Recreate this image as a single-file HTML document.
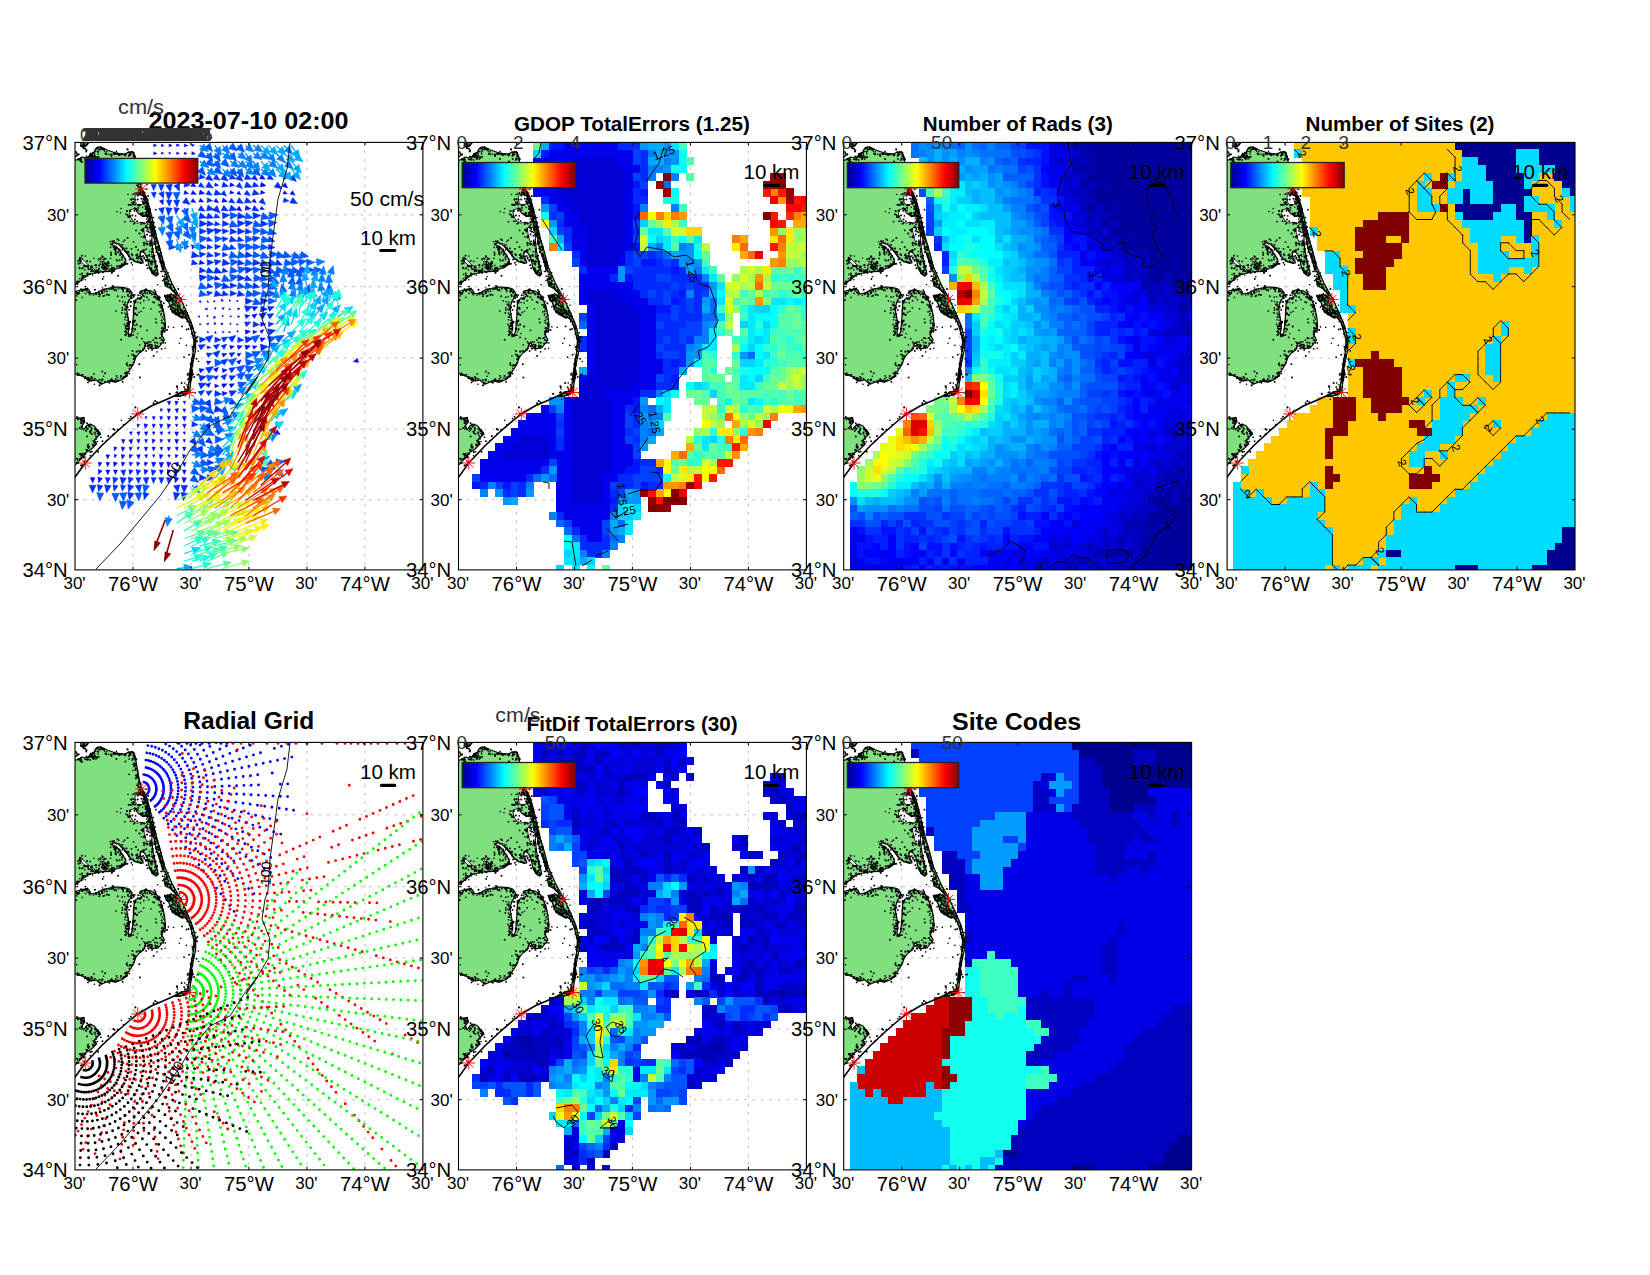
<!DOCTYPE html><html><head><meta charset="utf-8"><title>Totals QC</title>
<style>html,body{margin:0;padding:0;background:#fff}svg{display:block}text{font-family:"Liberation Sans", Arial, Helvetica, sans-serif}</style></head><body>
<svg width="1650" height="1275" viewBox="0 0 1650 1275">
<defs>
<linearGradient id="jet" x1="0" x2="1" y1="0" y2="0"><stop offset="0" stop-color="#00008f"/><stop offset="0.125" stop-color="#0000ff"/><stop offset="0.375" stop-color="#00ffff"/><stop offset="0.625" stop-color="#ffff00"/><stop offset="0.875" stop-color="#ff0000"/><stop offset="1" stop-color="#800000"/></linearGradient>
<clipPath id="ax"><rect x="0" y="0" width="347.9" height="427.5"/></clipPath>
<g id="land"><polygon points="-1.7,18.1 3.8,17.1 6.8,14.6 11.3,15.6 13.8,14.1 15.8,11.1 17.5,12.6 18.5,17.1 19.5,12.6 19.5,8.6 20.8,6.1 23.8,4.4 27.3,5.1 30.8,7.1 36.3,9.1 41.3,10.6 46.8,11.6 50.8,11.1 53.8,9.6 57.3,9.8 59.3,11.6 60.3,15.1 61.8,23.6 64.3,37.6 66.6,46.1 70.3,53.6 72.8,61.6 74.3,69.6 75.8,77.6 76.3,87.6 76.8,97.6 77.8,107.6 79.8,117.6 80.8,123.6 82.5,127.6 83.1,131.6 81.3,133.8 77.3,130.8 74.8,126.6 73.5,121.6 72.5,116.1 69.8,111.1 66.8,108.4 65.3,110.6 65.5,114.6 67.8,118.6 68.3,120.4 65.3,120.9 60.3,119.4 56.3,116.6 52.8,112.1 48.3,106.8 43.3,101.8 38.8,100.4 36.3,102.1 40.8,103.8 44.3,107.6 47.8,112.6 50.8,117.6 50.5,121.6 46.3,124.8 40.3,126.8 35.8,129.1 29.3,129.2 22.5,130 17.8,131.1 12.3,132.8 6.8,137.1 2.3,141.1 -1.7,142.8" fill="#80e080" stroke="#000" stroke-width="1.2" stroke-linejoin="round"/><polygon points="5.8,0.2 13.8,0.2 11.5,3.1 8.1,5.2 5.9,3.6" fill="#80e080" stroke="#000" stroke-width="1.2" stroke-linejoin="round"/><polygon points="-1.7,9.6 1.3,9.4 2.5,12.6 0.3,14.6 -1.7,14.1" fill="#80e080" stroke="#000" stroke-width="1.2" stroke-linejoin="round"/><polygon points="66.6,46.1 70.8,53.6 73.8,62.6 76.3,72.6 79.3,85.6 82.3,97.6 85.3,107.6 89.8,124.6 86.8,117.6 96.8,140.6 105.3,156.1 111.3,168.6 116.3,180.6 118.3,186.6 120.8,196.6 120.6,207.6 118.5,217.6 116.6,227.6 115.5,237.6 117.5,227.6 116.6,235.6 115.3,242.6 114.8,249.1 111.3,250.4 113.3,242.6 114.8,235.6 115.8,227.6 114.1,237.6 115.1,227.6 116.7,217.6 118.5,207.6 118.9,197.6 116.3,187.6 113.3,178.6 108.3,173.6 104.3,170.6 100.3,169.6 96.3,163.6 94.8,157.6 90.3,153.6 95.3,152.1 100.3,153.6 102.3,153.6 96.3,146.6 90.3,143.6 88.8,136.6 92.3,134.6 90.3,129.6 87.8,127.6 85.3,118.6 81.3,107.6 77.3,87.6 75.3,77.6 73.3,67.6 71.3,59.6 68.3,52.6 66.3,47.6" fill="#80e080" stroke="#000" stroke-width="1.2" stroke-linejoin="round"/><polygon points="-1.7,149.8 5.3,147.6 11.3,146.1 14.1,147.6 16.1,151.6 21.3,150.6 26.3,147.8 32.3,146.1 40.3,144.6 48.3,144.9 54.3,146.6 57.1,150.6 56.3,154.6 53.3,159.6 51.6,164.6 52.1,170.6 53.5,177.6 54.3,185.6 53.1,190.4 55.1,193.6 56.8,189.6 57.8,181.6 58.3,173.6 58.7,165.6 59.3,159.6 61.3,156.8 66.3,154.8 68.5,152.8 64.5,150.8 65.3,148.8 70.3,147.4 76.3,148.6 81.3,151.6 84.3,156.6 86.3,161.6 88.3,167.6 89.8,175.6 90.5,183.6 89.9,189.8 87.8,187.8 86.8,192.6 89.5,197.6 86.3,201.6 83.3,205.6 76.3,206.3 73.5,203.6 72.3,199.8 70.3,202.6 68.5,207.6 64.3,210.6 60.5,215.6 58.5,221.6 55.5,226.6 52.5,230.6 50.5,234.6 46.3,237.6 40.3,239.8 34.3,238.6 26.3,241.8 21.3,237.6 14.3,238.8 9.3,234.6 4.3,232.6 -1.7,230.6" fill="#80e080" stroke="#000" stroke-width="1.2" stroke-linejoin="round"/><polygon points="89.8,154.1 93.8,152.9 97.3,155.6 100.3,159.6 104.3,164.6 108.3,169.6 111.3,174.6 107.3,175.8 102.3,172.8 97.3,169.8 95.3,164.6 93.8,159.6 91.3,156.6" fill="#80e080" stroke="#000" stroke-width="1.2" stroke-linejoin="round"/><polygon points="-1.7,276.1 2.3,275.6 8.8,275.4 9.8,279.6 6.8,283.6 8.5,287.6 11.3,283.6 14.8,281.6 19.3,283.6 22.5,287.6 25.5,291.6 22.5,294.4 19.5,297.6 21.5,301.6 16.5,306.6 10.5,310.6 6.5,315.6 2.5,320.6 -1.7,323.6" fill="#80e080" stroke="#000" stroke-width="1.2" stroke-linejoin="round"/><polygon points="99.3,253.8 106.3,249.8 114.3,248.8 111.3,251.6 105.3,253.8" fill="#80e080" stroke="#000" stroke-width="1.2" stroke-linejoin="round"/><polygon points="60.5,52.4 66.3,52.1 69.3,55.1 69.1,58.8 66.3,62.6 61.8,62.1 59.5,57.6" fill="#fff" stroke="#000" stroke-width="0.8" stroke-linejoin="round"/><polygon points="54.5,67.8 60.3,65.8 62.5,70.6 67.8,74.4 71.1,71.8 73.5,77.6 70.8,80.8 66.3,79.8 61.8,80.8 57.5,77.8 54.9,72.8" fill="#fff" stroke="#000" stroke-width="0.8" stroke-linejoin="round"/><polygon points="68.5,85.6 74.8,84.8 77.1,92.6 76.3,100.6 72.8,101.8 70.5,96.1 69.3,90.1" fill="#fff" stroke="#000" stroke-width="0.8" stroke-linejoin="round"/><polygon points="4.3,115.6 7.3,116.6 13.3,122.6 20.3,127.6 22.8,129.8 18.8,128.1 12.3,124.8 6.8,120.1" fill="#fff" stroke="#000" stroke-width="0.8" stroke-linejoin="round"/><polygon points="25.3,115.6 27.3,116.6 31.3,122.6 35.8,128.8 33.5,127.6 29.3,122.4 26.1,118.1" fill="#fff" stroke="#000" stroke-width="0.8" stroke-linejoin="round"/><polyline points="-1.7,337.1 10.3,320.6 26.3,303.6 41.3,289.6 56.3,276.6 62.8,271.6 76.3,263.6 90.3,257.6 101.3,252.6 106.3,250.1 114.3,249.1" fill="none" stroke="#000" stroke-width="1.6"/><path d="M3.3,16.8h0M5.3,18.2h0M6.8,19.5h0M12.8,17.2h0M17.3,13h0M18.9,15.7h0M16.9,12.8h0M16.5,12.2h0M21.9,15h0M23.1,9.3h0M23.2,5.9h0M26,5h0M25.8,6.6h0M29.5,6.9h0M31.3,11.8h0M39.1,11.7h0M41,11.4h0M36.4,12.3h0M43.9,11.9h0M46.4,11.8h0M42.6,11.2h0M50.7,12.1h0M50.2,12.9h0M52.5,7h0M57.3,9.7h0M54.4,12.9h0M54.9,12.2h0M54.8,11.1h0M57.8,16.5h0M61.2,16.8h0M60.2,16.8h0M61,33.1h0M63.3,35.5h0M60.8,26h0M62.9,34.4h0M63.6,44.4h0M69.1,50.7h0M65.5,50.2h0M71.8,56.2h0M72.7,60.6h0M69.6,56.9h0M71.2,59.4h0M72.2,67.9h0M71.2,65.7h0M74.2,77.2h0M78.2,86h0M75.6,87.3h0M73.7,77.8h0M75.3,82.7h0M80.3,95.9h0M73.4,89.2h0M77.3,93.1h0M77.3,106.7h0M75.6,99.5h0M77.5,113.9h0M74,112.8h0M80.6,119h0M77,120.2h0M80.4,121.5h0M81.9,124.5h0M80.7,127.7h0M80.2,124.7h0M81.4,131.2h0M78.9,131.9h0M82.5,131.6h0M77,128.4h0M79.4,129.1h0M75.6,125.7h0M76.7,122.1h0M76.2,125.9h0M69.1,115.1h0M69,108h0M65.9,109.5h0M61.3,112.6h0M66.1,116.7h0M63.5,116h0M70.9,118.3h0M54.8,117.1h0M53.6,112.5h0M56.9,111.9h0M51.6,109.4h0M53.5,109.8h0M37.3,98.9h0M39.5,106.9h0M39,99.4h0M39.9,107.2h0M45,112.3h0M52.3,121.4h0M50.2,121.2h0M46.9,123h0M48.8,122.3h0M45.2,123.5h0M45,125h0M39,128.5h0M38.6,125.4h0M36.9,130.4h0M29.5,127h0M27.9,129.9h0M23.1,128.9h0M20.6,130h0M12.5,131.3h0M3.5,139.3h0M8.7,1.4h0M8.9,2.3h0M11.5,7.9h0M6.2,3.5h0M3.6,12h0M62.8,53.2h0M68.5,56.5h0M67.6,58.9h0M64.6,62.8h0M55.2,68.4h0M55.5,62.5h0M61.4,66.8h0M60.2,66.1h0M59.5,68.2h0M65.7,71.6h0M67.6,73.3h0M73.7,72.4h0M70.5,73.2h0M69.1,81.1h0M54.9,73.7h0M52,68.7h0M55.2,68.5h0M71,84.6h0M71.1,84h0M75.2,85.3h0M79,93h0M64.5,91.2h0M69.9,94.8h0M69.6,93.6h0M68.8,94.7h0M5,117.1h0M13.1,123.7h0M16.6,125.2h0M16.1,124.6h0M18,128.6h0M17,127.7h0M9.8,123.9h0M3.7,121.3h0M5.5,118.3h0M5.5,118.3h0M27.6,114.4h0M32.3,121h0M27.8,119.4h0M28.1,125.8h0M37,125.4h0M29.9,125.2h0M27.3,124.1h0M29.7,123.6h0M28.1,123h0M23.6,116.9h0M29.4,116.7h0M71,56.2h0M72.5,63.5h0M74.4,66.2h0M80.7,91.6h0M83.9,104.1h0M85,113.5h0M88.5,120.2h0M86.7,119.8h0M96.1,142.2h0M106,158.5h0M109.9,168.7h0M117.1,183.5h0M118.8,196.4h0M118.2,213h0M117.3,222.9h0M116.4,221.8h0M115.2,236.6h0M115.9,230.1h0M115,238.6h0M114.1,246.1h0M113.3,245h0M110.1,247.3h0M117.2,230.3h0M116.4,235.3h0M115.9,231.1h0M116.2,227.7h0M114.4,236.5h0M112.7,232.3h0M115.8,227h0M116.8,220.3h0M117.1,218.2h0M118.4,208.6h0M119.6,205.1h0M118.8,203.4h0M119,193.3h0M104.2,173.2h0M106.3,174.3h0M104.5,171.3h0M102.8,172.1h0M102.9,168.8h0M100.7,166.4h0M97.7,159.5h0M95.4,158h0M92.8,153.5h0M93.9,157.9h0M94.9,153.1h0M92.2,153.9h0M93.1,154.2h0M96.8,155.8h0M100.5,155.4h0M96.9,147.1h0M95.6,145.1h0M94.9,144.3h0M91.9,141.1h0M93.4,138.5h0M89.3,137.3h0M92,134.5h0M87.7,126.8h0M88.1,124.7h0M87.2,120.3h0M81.4,109.6h0M83.8,111.1h0M85.7,118.3h0M81.5,96.5h0M79.2,90.2h0M82.9,104.3h0M77.6,86.9h0M73.7,78.2h0M77.4,85.9h0M71.7,73.8h0M73.4,68.7h0M71.5,70.5h0M75.7,74.8h0M72.7,69.5h0M74,70.6h0M70.5,64h0M72.1,67.6h0M69.2,54.5h0M70.2,56.3h0M68.6,53.6h0M68.7,50.9h0M64.7,51.9h0M66.9,52.4h0M66.5,46.3h0M2,151.2h0M3.6,151.1h0M6.1,147h0M7.4,148.6h0M11.5,148h0M13.3,149.9h0M21.1,151.8h0M20.7,151h0M23.9,151.2h0M27.4,150.4h0M31.9,152.2h0M29.2,147.3h0M39.6,147.7h0M46.6,146.1h0M52.2,147.8h0M54.8,149.4h0M58,152.8h0M56.2,153.3h0M56.8,155.7h0M49.1,162.2h0M52.6,165h0M54.2,180.9h0M51.4,189.7h0M53.6,186.2h0M51.8,186.7h0M50.4,192.5h0M54.1,192.5h0M61.7,182.2h0M57.3,187h0M58.1,180.8h0M55,179.5h0M58.5,179h0M61.9,172.5h0M59.9,171.7h0M60.8,165.5h0M69.8,149.2h0M70.9,147h0M71.7,147.7h0M74.3,149.1h0M76.9,151.9h0M80.5,149.7h0M80.3,151.9h0M75.2,150.5h0M82.3,156.9h0M82.1,156h0M79.6,154.8h0M84.3,156.8h0M85.5,164.4h0M87,166h0M87.1,163.2h0M88.9,181.2h0M89.8,181.5h0M88.9,186h0M87.1,185.8h0M86.9,189.8h0M92,187.6h0M86.8,188.9h0M86.7,189.1h0M87.3,189.6h0M86.7,197.5h0M85.7,201.2h0M76.7,202.8h0M80.4,203.3h0M70,200.9h0M68,207.2h0M65.5,209.2h0M61.7,209.3h0M58.9,213.6h0M58.8,216.6h0M55.1,222.6h0M52.1,231h0M51.8,233.5h0M48,235.8h0M46.1,233.6h0M42.6,238.5h0M39.4,238.7h0M37.1,238.3h0M27.4,237.1h0M33.5,239.3h0M24.6,242.9h0M25.1,240.2h0M9.9,235.7h0M13.7,235.6h0M10.4,234.6h0M4.1,232.3h0M91.1,154.7h0M94.2,156.9h0M93.1,154.5h0M98.3,157.3h0M103.6,160.3h0M103.5,163.5h0M100.4,163.3h0M105,167.1h0M107.2,168.1h0M105.8,168.7h0M111.6,173.4h0M104.6,170.6h0M103.7,171.3h0M101.9,171.8h0M93.4,158.5h0M93.1,158.2h0M91.5,157.5h0M91.1,155h0M6,276.9h0M2.9,275.9h0M8.6,275.4h0M7.8,276h0M7.8,278.7h0M9.1,279.6h0M12.6,286.4h0M13.5,282.7h0M14.2,284.2h0M20.1,286.3h0M22.8,290.9h0M24.3,290.3h0M23.3,291.2h0M22.7,287.9h0M19.7,290.3h0M20.4,299.6h0M12.2,308h0M13.7,305.4h0M8.7,315.2h0M5.2,311.8h0M7,311.6h0M6.5,315.4h0M9.1,314h0M2.4,316.6h0M4.9,316.8h0M3,320.7h0M102.2,250.1h0M100.9,252.9h0M106.1,249.9h0M102,253.1h0M114.1,249.3h0M110.7,250.6h0M110.1,252.1h0M108.4,252.5h0M101.6,253.7h0" stroke="#000" stroke-width="2.2" stroke-linecap="round" fill="none"/><path d="M5.4,16h0M4.3,17.3h0M6.5,17.5h0M6.3,16.9h0M12.9,16.9h0M15.9,14.9h0M16.9,12.3h0M16.5,13.6h0M12.6,16.4h0M17.9,16.1h0M17.6,15.6h0M20.5,15h0M20.9,16.8h0M20.2,13.4h0M19.8,13.3h0M15.8,14.7h0M18.9,10.4h0M17.5,10.1h0M21.7,6.6h0M20.9,9.1h0M26.9,6.7h0M23.1,11.7h0M29.7,8.9h0M28.6,7.6h0M31.7,9.3h0M34,12h0M41.4,9h0M38.9,11.9h0M49.4,12.5h0M53.6,13.6h0M59.6,13.6h0M58.5,14.5h0M60.6,23.2h0M58.2,22h0M61.1,22.2h0M62.6,30.9h0M62.5,28.2h0M63,32.4h0M60.7,27h0M62,32.7h0M59.2,24.3h0M57.8,28.1h0M62.9,40.8h0M61.8,42.9h0M64.4,40.6h0M64,44.7h0M64.1,37.9h0M64.4,39.1h0M66.7,45.7h0M69.2,51.3h0M71,47h0M66.2,53h0M68.2,52.5h0M72.7,68h0M72.7,69.1h0M74.8,68.8h0M75.5,70.9h0M71.9,72.6h0M73.5,74.2h0M73.5,74h0M71.2,71.9h0M76.7,87.1h0M68.7,86.6h0M77.1,93.5h0M79,87.8h0M78.7,94.2h0M79.1,100h0M76.9,100.9h0M82.9,101h0M84.5,106.6h0M76.7,99.9h0M76.8,109.9h0M79.5,116.4h0M77.2,114.5h0M76.7,111.8h0M83.8,113.9h0M83.9,111.7h0M80.3,120h0M74.8,118.9h0M85.9,129.1h0M87,129h0M81.1,131.2h0M87.4,138.3h0M82.5,131.6h0M78.1,130.2h0M78.9,128.7h0M73,117.4h0M75.6,121.1h0M74.5,119.2h0M74.5,117.3h0M74.8,113.8h0M68.3,113.3h0M69.2,116.5h0M74.7,109.2h0M62.3,111.6h0M65.2,111.1h0M66.9,118.4h0M62.3,118.8h0M64.8,119.9h0M65.2,119.8h0M62.4,113.5h0M58.1,116.7h0M58.7,118h0M57.4,122.5h0M57.6,113.1h0M47.2,117.3h0M52.4,109.4h0M51.4,106.2h0M52.8,112h0M46.8,116.6h0M49.2,106.6h0M47.1,107.5h0M44,101.3h0M48.8,105.7h0M47.7,102.7h0M48.3,105.4h0M40.5,109.8h0M39.4,98.6h0M38.2,104.6h0M41.3,100.8h0M39.3,104.8h0M36.1,101.6h0M35,99.3h0M35.6,105h0M40.6,104.8h0M41.3,106.4h0M40.8,106.5h0M46,102.2h0M48.2,99.2h0M43.7,108.6h0M45.4,108.7h0M45.9,110.6h0M47.7,106h0M49.4,119.7h0M49.4,120.6h0M42.3,124h0M42.5,118.7h0M37.2,127h0M36.4,122.8h0M31.9,126.2h0M33.7,128.6h0M31,128h0M25.9,128.6h0M28,126.1h0M25.3,119.4h0M16.3,124.2h0M13,131.7h0M12.7,133.6h0M17.7,132.7h0M10.2,137.4h0M9.6,134h0M5.1,132h0M6.6,135.6h0M10.7,133.7h0M7.5,134.7h0M2.2,138.8h0M4.7,136.3h0M2.7,140.7h0M1.4,140h0M11.5,17.4h0M16.3,14.5h0M64.6,47.7h0M63.2,49.7h0M63,51h0M65.7,51.1h0M69,61.9h0M71.7,63.8h0M70.6,60h0M62.9,63.4h0M46.1,66.2h0M57.1,62.6h0M57.5,52.1h0M53,52.1h0M59.5,65.9h0M57.2,60h0M66.5,72.3h0M63.6,71h0M67.6,64.9h0M69.6,61h0M73.7,79.8h0M66,80.4h0M60.7,73.5h0M57.5,78.8h0M54.8,75.1h0M53.8,74.2h0M41.8,69.2h0M45.5,70.3h0M71.5,85.5h0M79.5,98.3h0M73,99h0M76,103.3h0M74.8,103h0M75.1,97.8h0M66.4,94.6h0M4.8,115.2h0M10.5,113.7h0M4.5,126h0M6.6,126.4h0M18.9,115.9h0M16,129.1h0M20,122.8h0M16.4,123.9h0M9.7,134.7h0M21.8,127.7h0M20.6,129h0M21.1,128.2h0M22.6,128.7h0M16.5,128h0M15.6,127.2h0M9.9,127.5h0M5.8,115.3h0M2.9,118.6h0M5.3,117.8h0M7.1,116.5h0M27.2,113.6h0M21.2,124.9h0M30.4,120.8h0M31,116.3h0M30,125.6h0M31.8,125.6h0M32.7,121.8h0M32.9,119.5h0M36.3,111.7h0M29.7,120.7h0M25.4,116h0M29.4,115.8h0M65.1,48.7h0M72,60.8h0M77.9,82.8h0M77.8,80h0M86,110.1h0M86.9,114.6h0M88.4,120.9h0M93.6,133.8h0M86.9,118.2h0M95.7,143.9h0M98.3,144.8h0M113.4,173.7h0M117.2,185.3h0M118.8,189.3h0M117.5,230.8h0M114.3,250.2h0M113.6,248.9h0M112.4,248h0M112.2,246.9h0M113,247h0M111.9,242.5h0M109.8,249.5h0M120.3,250.6h0M116,237.3h0M109.7,240.7h0M122.1,232.4h0M115.3,227.9h0M116.3,228h0M116.9,230.2h0M113,230.8h0M118.2,232h0M115.4,221.6h0M116.6,222.2h0M123.7,219.1h0M118.2,214.4h0M123.2,208.7h0M118.1,213.5h0M120.2,199.9h0M119.4,202.1h0M118.2,205.2h0M104.3,200.9h0M111.3,203h0M120.3,196.1h0M120.7,190.2h0M105.9,196h0M115.4,179.4h0M114.5,182h0M115.7,183.3h0M113,174.9h0M112.2,177.3h0M109,174.4h0M104.6,171.2h0M103.8,172h0M103.6,170.6h0M103.9,171.1h0M103.9,171.7h0M97.2,165.2h0M99.5,166.5h0M99.6,168.9h0M99.9,165.8h0M96.8,164.4h0M98.3,162.4h0M100,161.9h0M94.9,162.8h0M94.9,163.9h0M102.9,155.8h0M94.8,156.4h0M91.3,156.3h0M95.7,155.2h0M92.2,152.6h0M91.2,153.5h0M100.6,152h0M99.5,154h0M98.7,154.3h0M95.8,156.3h0M100.9,154.3h0M100.2,153.6h0M98.3,148.9h0M101.1,151.3h0M90.8,140.2h0M89,137.3h0M92,137h0M90.8,137.1h0M92.9,140.7h0M92.7,136.2h0M93.5,141.2h0M82.7,142.3h0M91.3,135.5h0M93.2,130.4h0M89,123.2h0M85.9,118h0M85.2,116.7h0M81.9,106.7h0M80.5,105.8h0M80.5,99.3h0M79.7,99.1h0M81.7,97.8h0M81.3,104.9h0M84.1,104.9h0M76.2,86.7h0M76.2,84.9h0M73.8,69h0M71.5,76.7h0M74.3,75.5h0M68.9,60.7h0M74.6,66.4h0M70.4,57.5h0M73.2,57.6h0M70.9,59.4h0M68.7,49.9h0M65.8,46.5h0M65.8,46.2h0M4.8,148.8h0M1.2,150.3h0M4.2,150.4h0M9.2,147.5h0M7,147.7h0M7.9,147.5h0M12.5,146h0M12.8,147h0M14.6,150.7h0M7.3,155h0M21.2,151.1h0M18.5,152.8h0M23.7,151.4h0M26.9,151h0M27.4,149.1h0M28.9,148.1h0M27.5,145.6h0M28.7,134.4h0M29.8,149.4h0M37.7,146.2h0M36.4,146.8h0M38.1,146.3h0M38.7,144h0M41,146.9h0M41.5,148.4h0M44.7,158.5h0M53.2,148.4h0M49.3,146h0M53.3,149.1h0M56.7,150.2h0M53.9,157.9h0M56.3,159.4h0M49.6,154.4h0M53,159.9h0M50.4,163.6h0M47.6,159.2h0M66.1,169h0M49.4,167h0M51,174.8h0M52.1,177.8h0M49.9,177.3h0M59.6,171.6h0M53.7,183.4h0M53.1,177.9h0M53.1,182.7h0M65.4,184h0M60.1,178h0M52.5,186.7h0M58.8,189.3h0M62.6,191.2h0M59.9,183.2h0M61.3,166.8h0M59,171.9h0M49.9,170.7h0M59.6,165.5h0M62.5,160.1h0M65.5,160.5h0M60.6,157.9h0M65.2,153.4h0M62.7,155.5h0M69.3,154h0M68,151h0M66.8,149.7h0M65.9,149.7h0M69.9,149.6h0M70.4,147.4h0M89.7,152.8h0M83.9,157.6h0M87.8,166.9h0M85.3,162.5h0M87.1,164.5h0M87.7,168.5h0M85.9,168.6h0M85.8,172.8h0M84.3,169.5h0M95.5,166.9h0M90.2,182.7h0M88.5,176.9h0M89.3,183.2h0M93.4,184.5h0M87.6,188.1h0M86.5,192h0M85.8,195.3h0M75.8,199.5h0M87.9,198.5h0M90.3,200.5h0M82.5,203.1h0M90.1,205.9h0M82,209.5h0M73.7,206.5h0M75.4,205.4h0M70.2,201h0M70,203.1h0M68.9,199.3h0M70.5,203.9h0M68.5,207.1h0M64.7,202.5h0M63.8,208.5h0M58.8,212.3h0M58.5,221.1h0M58.4,220.1h0M53.4,213.6h0M57.1,222.4h0M57.2,222.9h0M54.2,223.6h0M51.9,220.5h0M52.4,223.2h0M53.9,229.1h0M52.4,230.1h0M54.3,226h0M49.8,231h0M50.2,230.5h0M51.5,232.4h0M45.5,235.6h0M42.5,235.1h0M41,239h0M43.8,237.6h0M40.8,239.2h0M38.5,238.7h0M28.6,233.9h0M25.1,237.4h0M23.8,237.6h0M17.1,236.6h0M16.9,238.2h0M19.4,241.9h0M12.2,235.6h0M12.7,235.6h0M13,235.3h0M6,233h0M1.8,222.4h0M95.4,154h0M92.5,155.2h0M97.6,157.2h0M99.3,155.3h0M96.7,157h0M100.6,158.8h0M102.7,165.3h0M100.8,160h0M101.4,158.9h0M101.1,160.6h0M108.1,168.7h0M105.7,168.4h0M103.5,168.3h0M104.9,165.4h0M111.3,170.8h0M107.8,170h0M109.8,172.3h0M104.7,174.2h0M98.6,185h0M110.2,170.5h0M104.9,173.4h0M100.3,170.5h0M99.5,170.4h0M97.5,168h0M111.4,162.9h0M86,168.9h0M93.3,164.5h0M75.9,166.5h0M92,156.2h0M87.1,164.4h0M93.3,154.3h0M9.3,279.3h0M6.2,286.7h0M11,285.6h0M14.5,289.3h0M15.2,283.7h0M14.5,283.6h0M20,291.8h0M16.3,285.5h0M16.1,282.2h0M16.8,286h0M20.7,287.5h0M23.7,292.2h0M23.3,291.3h0M23.3,291.9h0M22.5,299.2h0M20.8,296.1h0M21.6,296.5h0M19.1,299.8h0M13.4,301.9h0M8,312.9h0M7.3,313.2h0M2.6,317.5h0M1.2,316.1h0M101.1,250.2h0M104.6,251.2h0M109.1,251.6h0M107.9,249.7h0M107.4,250.1h0M113.2,249.4h0M110.5,248.8h0M106,252.9h0M108.7,251.8h0M103.3,256.8h0M6,315.8h0M7.5,314.1h0M15.1,313.2h0M31.5,298.1h0M54.1,276.2h0M48.4,282.2h0M46.3,277.9h0M61.4,271.2h0M102.5,246.6h0" stroke="#000" stroke-width="1.6" stroke-linecap="round" fill="none"/><path d="M11.4,14h0M10.2,16.9h0M15.1,17.5h0M14,14.6h0M15.7,11.3h0M15,12.8h0M14.9,13h0M17.8,14.1h0M13.4,14.7h0M18.1,11h0M22.1,5.4h0M24.4,7.3h0M27.5,6.9h0M38.6,11.1h0M43.4,12.1h0M53.6,9.9h0M55.9,12h0M58.7,10.4h0M58.4,10.9h0M58.6,12.9h0M59.2,20.8h0M60.5,17.7h0M60.3,21.9h0M60.8,36.1h0M62.9,33.5h0M62.6,28.6h0M64.4,45.1h0M62.7,43.1h0M70,59.9h0M70.1,60.4h0M70.4,57.2h0M72.8,63.7h0M73.2,61.9h0M70.3,70.3h0M73.1,69.3h0M71.7,69.9h0M71.8,69.3h0M72.2,74h0M74.6,75.9h0M74.5,71.2h0M74.6,74.3h0M77.7,80h0M77.6,84.5h0M77,79.5h0M75,93.5h0M77.2,91.4h0M79,88.6h0M80,100h0M76,100.8h0M75.9,102.4h0M78.6,114.2h0M78.3,116.1h0M77.5,107.9h0M79.6,113.3h0M77,118.5h0M80.8,125.1h0M82.1,123.2h0M82,131.2h0M78.4,130.1h0M79.3,129.6h0M77.4,130.6h0M76.2,127.6h0M75.4,125.9h0M72.7,125.8h0M74.1,118.1h0M75.7,119.3h0M71,117.4h0M72,113.6h0M71.9,114.6h0M68.3,108h0M71.1,106.9h0M63.2,107.6h0M64.4,113.9h0M62.5,114h0M66.4,117.2h0M62.6,119.1h0M56.4,120.4h0M60.1,119h0M55.6,115.5h0M51.5,106h0M46.5,104h0M42.4,96.7h0M41.4,101.1h0M42,105.2h0M44.6,107h0M45.5,109.9h0M47,114.9h0M50.4,121.6h0M47.7,122.3h0M44.1,123.5h0M39.7,126.9h0M31.6,126.2h0M23.6,130.6h0M26.9,125h0M20.3,129.5h0M20.8,128.4h0M12.4,131.3h0M14.8,131.7h0M8.8,133.6h0M7.4,133.1h0M6.8,137.8h0M2.4,141.7h0M2.4,141.8h0M7.4,3h0M11.7,2h0M11.2,2.8h0M10.2,3.5h0M8.5,4.1h0M8.6,2.4h0M66.1,50.7h0M61.1,50.6h0M66.4,56.4h0M68.3,52.1h0M70,57.7h0M63.8,62.6h0M60.3,57.4h0M60,62.1h0M58.4,59.7h0M58.4,59.9h0M58.1,56.6h0M58.7,61.9h0M61.9,68.7h0M69.6,73.7h0M72.8,72.8h0M73.3,78.5h0M74.2,78.3h0M67.2,80.5h0M59.9,77h0M62.1,78.8h0M59.6,80.7h0M58.8,81.3h0M55.5,78.8h0M53.2,74.5h0M52.7,72.6h0M72.5,81.8h0M75.2,100h0M71.1,101.2h0M68.8,100.9h0M67.7,89.1h0M11.5,123.4h0M10,123.5h0M12.8,125.2h0M23.3,127.9h0M7.8,125.6h0M9.4,123.3h0M31.6,122.1h0M30.4,124.9h0M36.2,126.6h0M29.9,124.3h0M32.1,123.7h0M30.8,125.4h0M25.4,121.7h0M30.3,121.5h0M27.4,121.7h0M67.4,49.4h0M77.7,82.5h0M79.3,91.7h0M80,88.7h0M79.4,90.5h0M82.4,104.7h0M85.8,115.7h0M88,120.5h0M85.2,119.6h0M88.6,122.8h0M86.4,120.8h0M104.5,155.8h0M108.7,165.4h0M116,180.5h0M114.1,179.2h0M119.5,201.9h0M120.6,198.5h0M119.7,204.5h0M118.6,212.7h0M118.3,215.1h0M116.1,225.7h0M116.9,233h0M115.5,233.1h0M113.4,244.9h0M115.7,236.2h0M113,237h0M114.1,239.9h0M116.1,228.9h0M116.5,227.8h0M114.5,233.3h0M114.5,235.1h0M116.9,230.3h0M115.1,235.2h0M116.5,228.6h0M114.8,231.1h0M117.1,220.1h0M118.1,215.5h0M121.6,216.3h0M114.1,212.3h0M116.7,216.4h0M122.1,198.8h0M119.6,198.8h0M120.3,197h0M116.8,191.7h0M122.6,194.2h0M116.4,186.7h0M117.9,186.1h0M116.9,185.2h0M111.6,187.1h0M112.3,179.1h0M111.1,175.9h0M113.2,176h0M105.9,170.6h0M107.9,170.9h0M98.3,168.6h0M100.1,168.4h0M96.7,163.3h0M96.8,162.8h0M92.8,158.9h0M95.1,155.7h0M90.7,153.9h0M102,156h0M98.4,152.5h0M99.5,147.4h0M99.4,148.8h0M100.8,150.4h0M92,142h0M96,145.7h0M90.9,142.1h0M87.7,133.7h0M91.8,135.8h0M89.6,134.2h0M90.1,132.1h0M89.3,129.1h0M88.1,126.8h0M86.6,123.6h0M87.4,121.4h0M84.5,114.4h0M83.7,107.8h0M79.8,99h0M78.9,93.2h0M83.9,103.8h0M79,101.9h0M80.5,94.9h0M82,106.5h0M79.4,92.6h0M79.9,92h0M76.7,80.4h0M80,84.6h0M78.7,86.2h0M74,72.4h0M75,74h0M76.4,73.8h0M73.4,68.1h0M73.7,73.1h0M74.6,74.4h0M70.7,66.5h0M70.4,66.7h0M72.8,63.9h0M69.7,54.9h0M68.8,60.5h0M66.7,48.2h0M68.1,49.2h0M2.8,151.3h0M2.2,150.9h0M8.3,147.6h0M10.5,144.2h0M14.6,152.1h0M20.3,151.2h0M24.1,149.4h0M25,152.2h0M26.8,149.3h0M31.3,146.7h0M32,148.7h0M34.5,146.9h0M36.6,145.6h0M47.4,146.3h0M43.6,146.1h0M48,147.3h0M51.8,149.3h0M54.7,150.6h0M59.7,152.5h0M55.3,154.2h0M50.2,160.1h0M50.3,162.9h0M51.3,165.2h0M54.1,167.5h0M50.5,167.1h0M51,172.4h0M50.2,174.7h0M52.6,171.7h0M53,182.3h0M52.2,180.8h0M52.9,180.5h0M50.6,188.8h0M53.7,193.9h0M51.6,191.4h0M58.3,192.7h0M55.6,193.5h0M53.6,192.5h0M55.9,192.2h0M57.8,186.1h0M60,186.9h0M58.2,182h0M59.8,178.6h0M60,170.7h0M58.7,167.7h0M59.4,171.3h0M59.7,160.4h0M60.2,160.1h0M58.9,158.6h0M60.5,158.8h0M64.2,156.4h0M65.9,155.6h0M70.3,150.9h0M70.8,148.2h0M72.4,150.8h0M79.1,151.9h0M79.9,152h0M79.4,154.4h0M82.9,154.8h0M83.9,154.1h0M82.5,154.1h0M83.8,162.3h0M87.6,174.8h0M86.2,171.2h0M86.9,180.4h0M86.7,178h0M89.5,183.5h0M88.2,187.9h0M87.3,189.6h0M87,193.8h0M88.4,200.3h0M82.4,204.2h0M81.7,205.2h0M77.1,207.5h0M76.4,205h0M76.2,203.3h0M77.2,203.5h0M73,205.8h0M73.7,199.5h0M71.1,208.5h0M69.5,205.8h0M60.6,213.8h0M59.6,215.9h0M56.3,223.2h0M51.5,229.7h0M54.1,231.2h0M47.2,236.8h0M47.7,239.5h0M48.7,234.8h0M50.3,234.4h0M40.8,236.6h0M41.2,239h0M34.4,240.3h0M35.6,237.8h0M36.5,236.7h0M30,239.2h0M26.4,241h0M17.3,235.6h0M18.5,238h0M19.8,236.3h0M15.2,236.8h0M14.3,237.6h0M12.4,236.9h0M13.4,237.2h0M7.8,232.5h0M6.7,232.8h0M2.5,232.8h0M2.8,230.9h0M92.2,153.4h0M90.8,155.2h0M90.3,154.2h0M95.6,154h0M97.1,156h0M102.3,163.8h0M102.4,164.3h0M106.4,170.3h0M109.1,171.6h0M112.2,170.9h0M107.6,172.2h0M104.8,171.3h0M107.9,174.5h0M100.5,169.8h0M100.6,172h0M101.6,170.5h0M95.9,164.6h0M97.8,169.1h0M98.1,165.3h0M98,162h0M94.2,154.4h0M2.1,274.6h0M5.3,276.8h0M7.6,279h0M2.9,276.9h0M9.2,278.9h0M5.9,280.5h0M5.8,278h0M11.2,284.9h0M7.2,284.9h0M11.2,288.4h0M23.2,288.8h0M21,293.9h0M20.5,300.6h0M18.4,298.4h0M20.2,301h0M18.9,303.2h0M18.6,302.6h0M18,302.1h0M20.9,301.5h0M20.4,301.1h0M11.3,307.2h0M15.3,309.6h0M5.3,311.5h0M10.5,311.9h0M2.1,320.2h0M107.8,250.4h0M104.9,253.8h0M103.1,253.2h0M6,323h0M9.1,311h0M17,309.2h0M27.5,298.8h0M39.5,287.3h0M55.9,274.4h0M82.1,259.9h0M102.3,249.8h0M109.2,244.8h0" stroke="#000" stroke-width="1.9" stroke-linecap="round" fill="none"/><path d="M10.3,6.4h0M11.2,9.1h0M21.9,15.2h0M15.4,13.6h0M28.7,6.7h0M30.4,11.1h0M36.5,13.7h0M41.4,16.6h0M44.5,12.7h0M50.4,19.1h0M58.9,23h0M61.6,34.9h0M68.2,32.1h0M63.9,39h0M64.3,47.7h0M64.4,50.3h0M68.6,61.2h0M73.2,53.6h0M74.9,69.4h0M67.2,71.7h0M70.9,71.8h0M82.5,99.1h0M77.7,106.6h0M80.8,101.2h0M81.1,130.9h0M76.4,127.4h0M65.7,120.4h0M67.1,114h0M64.8,114.2h0M61.7,115.5h0M41,112.1h0M40.5,105.9h0M40.6,108.6h0M36.5,102h0M39.1,104.9h0M50.2,108.4h0M42.7,110.2h0M54,114h0M61,104.7h0M44.6,117.8h0M40.4,111h0M41.9,124h0M45.7,124.3h0M43,133.4h0M37.4,129.1h0M33.8,123.4h0M7.7,136.3h0M7.2,131.1h0M8.5,5.8h0M15.7,11.6h0M72.6,65.5h0M53.7,62.3h0M62.7,57.1h0M51.2,71.8h0M67.1,70.9h0M75.6,75.8h0M68.5,73.6h0M71.9,79.5h0M66.5,87.6h0M67.8,71.1h0M57.4,73.2h0M72.7,86.7h0M68.4,88.2h0M75.5,101.4h0M69.1,100.3h0M52.6,95.5h0M72.1,92.1h0M68,86.9h0M7,113.3h0M3.9,118.2h0M9.4,123.5h0M24.1,123h0M21,122.7h0M12.1,118.6h0M4.6,125.4h0M5.3,120.3h0M17.1,124.2h0M36.4,127.4h0M113.7,248.2h0M123.5,232.1h0M119.2,234.7h0M116.4,223.8h0M117.4,204.5h0M117.7,206.9h0M121.8,195.3h0M113.5,186.7h0M108.4,174.4h0M104.7,163.5h0M103,166.4h0M102,167.9h0M96.6,146.8h0M91.1,154.3h0M97.1,155.3h0M103.3,146.5h0M94,141.9h0M93.1,141.6h0M90.9,139.7h0M71.7,122.8h0M88.4,125.5h0M84.7,112.5h0M84,107.1h0M80.6,100.6h0M69.1,102.9h0M72.2,102.1h0M74.8,80.4h0M78.8,80.4h0M76.1,79.6h0M76.8,84.6h0M75,67.3h0M65.2,62.7h0M70.4,54.1h0M55.9,57h0M59.2,51.4h0M1.2,157.7h0M2.5,150.6h0M20,147.4h0M24.3,153.9h0M30.5,143h0M33.9,152.5h0M37.5,143.7h0M38.2,146.2h0M42.7,153.9h0M52.1,148.1h0M53,148h0M58.7,154.4h0M65.7,184.1h0M51.6,183.4h0M46.2,197.4h0M56.5,192.5h0M52.7,183.8h0M55.7,163.5h0M52.9,152.5h0M63.2,152.9h0M65.3,156.7h0M71.9,154.9h0M79.5,147.8h0M80.7,155.1h0M89.2,172.6h0M81.2,180h0M86.6,191.3h0M80.3,195.6h0M82.3,200.3h0M78.7,213.6h0M80,200.1h0M80.7,204.5h0M74.9,202.2h0M72.3,203.6h0M65.2,209.1h0M57.5,208.6h0M64.3,221.8h0M51.7,221.9h0M64.9,235.2h0M51.4,232h0M27.3,229h0M33,239h0M30,230.8h0M16.4,234.6h0M95.3,152.4h0M101.5,157.7h0M103.2,168.6h0M108.3,172h0M101.9,170.5h0M98.1,161.6h0M88.8,160.8h0M16.3,287.5h0M6.5,284h0M4.7,285.7h0M12.1,280.9h0M15.4,289.1h0M12.1,294.2h0M15.5,290.7h0M23.1,309.3h0M13.9,304.3h0M107.5,250.7h0M106.6,240.7h0" stroke="#000" stroke-width="2.0" stroke-linecap="round" fill="none"/><path d="M19.5,8.7h0M23.7,14.5h0M47,12h0M57.2,17.7h0M56.1,9.6h0M54.2,16.5h0M60.1,14.6h0M54.1,31.9h0M60.1,27.7h0M72,42.2h0M68,52.5h0M80.9,67.3h0M75,85h0M66.4,81.8h0M76.5,92.2h0M73.2,118.5h0M78.7,119h0M77.2,130.1h0M79.1,131.7h0M77.1,109.4h0M68,109.2h0M63.8,119.8h0M50.4,119.2h0M48.3,113.6h0M58.5,99.7h0M49.7,97.8h0M43.6,97.8h0M35.9,110.1h0M47.2,112h0M50.1,116.4h0M41.5,117.3h0M46.9,121.4h0M35.5,115.9h0M27.7,136.6h0M24.1,125.9h0M15.2,131.6h0M5.7,16.3h0M63.7,41.9h0M68.7,53.5h0M63.4,65.5h0M57.6,60.6h0M56.3,57.1h0M63.3,67.9h0M58.9,60h0M78.3,75.2h0M49.9,79.3h0M65.5,71h0M56.5,106.5h0M75,90h0M61.1,88h0M13.6,126.8h0M24.1,126.5h0M17.1,127.9h0M15.2,119h0M31.9,121.9h0M36,112.6h0M37.2,125.9h0M33.3,119.3h0M32.1,126.2h0M33.9,120.7h0M28,122.2h0M112.7,244.6h0M114.2,248.8h0M109,214.7h0M117.4,190.5h0M118.6,194.9h0M107.1,184h0M111.5,172.9h0M106.1,156h0M94.1,158.5h0M96.3,151.6h0M96.3,158.1h0M92.6,143.4h0M92.8,140.7h0M89.3,126h0M85.7,110.7h0M84.3,105.6h0M82.2,98.6h0M71.7,88.4h0M67.7,70.6h0M63.3,65.4h0M63.9,51.5h0M1.6,153.4h0M10.9,147h0M10.4,150.9h0M28.3,153.8h0M29.3,153.3h0M53.2,153.7h0M55.4,159.6h0M47.2,154.8h0M47.3,167.7h0M41.2,168.7h0M46.8,170.6h0M49.5,182h0M60.1,187.1h0M56.5,192.4h0M50.2,189h0M50.7,185.7h0M50.7,184.1h0M72,187.9h0M52.7,174.7h0M57.9,178.9h0M58.8,179.8h0M47.3,165.4h0M63.8,169.9h0M48.2,149h0M70.3,148.1h0M68.8,158.3h0M73.7,157.2h0M85,154.9h0M78,159.7h0M68.7,165.4h0M79.2,160.1h0M98.1,166.2h0M80.8,176.7h0M81.7,195.9h0M78.3,197.8h0M84.7,195.8h0M86.6,206.5h0M76.5,205.3h0M73.7,202.9h0M67,196.3h0M61.6,195h0M57.2,212.1h0M50.4,234.1h0M41.5,233.4h0M37.1,237.2h0M27.1,238.2h0M18.8,231.5h0M13,240h0M98.9,161h0M111.3,173.3h0M104.5,162.3h0M86.5,159.1h0M8.6,278.1h0M6.6,279.4h0M6.5,280.6h0M10.9,288h0M7.6,281.7h0M21.9,288.8h0M24.7,291h0M26,294.9h0M17,291.6h0M12.8,302.8h0M6.1,313.3h0M102.3,244.8h0" stroke="#000" stroke-width="1.8" stroke-linecap="round" fill="none"/><path d="M8.2,322.4h0M6.7,323.1h0M17.8,302.7h0M9.1,319.2h0M12.9,304.3h0M38.5,291.9h0M38.4,286.7h0M33.3,293.7h0M42.8,287.3h0M60.4,265h0M80.2,258.6h0M78.6,260.8h0M94.7,251.5h0M101.9,243.8h0" stroke="#000" stroke-width="2.1" stroke-linecap="round" fill="none"/></g>
<g id="star" stroke="#f00" stroke-width="0.9" fill="none"><path d="M-6.5,0H6.5M0,-6.5V6.5M-4.6,-4.6L4.6,4.6M-4.6,4.6L4.6,-4.6"/></g>
</defs>
<g transform="translate(75,142.4)">
<rect x="0" y="0" width="347.9" height="427.5" fill="#fff"/>
<g clip-path="url(#ax)">
<path d="M58,0V427.5M116,0V427.5M173.9,0V427.5M231.9,0V427.5M289.9,0V427.5M0,72.4H347.9M0,144.3H347.9M0,215.7H347.9M0,286.8H347.9M0,357.3H347.9" stroke="#bcbcbc" stroke-width="1" stroke-dasharray="2.6,5.8" fill="none"/>

<use href="#land"/>
<path d="M81.8,2.9L78.7,4.3L78.7,1.7zM89.2,3.4L86.2,4.2L86.6,1.7zM97.1,3L94,4.4L94,1.6zM104.6,2.7L101.8,4.3L101.5,1.7zM119.5,2.6L117.1,4.1L116.8,1.9zM88.8,10.7L86.4,11.9L86.3,9.8zM96.1,10.7L94.1,11.7L93.9,9.9zM104.4,11.1L101.6,12L101.8,9.6zM112,11.2L109.2,12L109.5,9.7zM81.5,18.3L78.9,19.9L78.6,17.5zM88.8,18.4L86.5,19.8L86.3,17.6zM112,18.4L109.4,19.9L109.2,17.5zM126.3,160.1L124,159.5L125.2,158zM133.6,160L131.7,159.3L132.8,158.2zM138.1,159.2L139.7,158L140.1,159.6zM146.3,156.5L148.5,158.2L146.5,159.3zM154.2,157.2L155.9,158.3L154.5,159.2zM161.1,158.2L163.1,158L162.6,159.5zM129.7,166.7L132.2,165.4L132.3,167.6zM140.9,164.8L140.7,166.9L139.1,166zM149.3,165.1L148.1,167.3L146.9,165.7zM153.7,167.6L154.7,165.9L155.6,167.1zM165.1,166.1L163,167.5L162.6,165.5zM122.8,173.9L124.7,173.4L124.5,175zM132.9,172.6L133,174.5L131.5,173.9zM138.6,176.4L138.9,173.6L140.9,174.8zM147.9,172.5L148.3,174.4L146.8,174zM156.8,173.5L155.5,174.9L154.9,173.5zM165,174L162.9,175.2L162.7,173.3zM126.4,182.1L124.5,182.7L124.7,181.1zM134.1,180.6L132.8,182.8L131.7,181.1zM139.9,179.6L140.9,181.9L138.8,181.9zM145.6,180.6L148.1,181.1L146.9,182.8zM156.1,180.4L155.9,182.3L154.5,181.5zM161.1,182.3L162.7,181.2L163,182.7zM134,190.2L132,190.4L132.5,188.9zM141.2,191.3L139.2,190.2L140.6,189.1zM149.3,189.7L147.5,190.4L147.6,188.9zM153.4,189.9L155.1,188.9L155.3,190.4zM162.2,187.9L163.6,189.4L162,189.9zM109.5,261.7L108.1,259L110.6,258.8zM86,269.4L85.1,266.4L87.6,266.7zM70.8,276.7L70,274.1L72.2,274.3zM101.6,284.6L100.4,281.8L102.9,281.9zM78.5,292.5L77.4,289.4L80.1,289.6zM94.4,292.1L92.9,289.7L95.2,289.3zM109.5,292.2L108.1,289.6L110.5,289.4zM109.3,299.9L108.1,297.1L110.5,297.1zM62.7,307.5L62.3,304.5L64.6,305.1zM39.8,315.4L39.2,312.1L41.8,312.7zM78.7,315L77.6,312.4L79.9,312.4zM94.2,315.2L92.8,312.5L95.2,312.3z" fill="#0000f0" stroke="#0000f0" stroke-width="0.5" stroke-linejoin="miter"/><path d="M112.8,3.2L109.2,4.5L109.4,1.5zM82,11.2L78.6,12.3L78.9,9.4zM120.5,11.4L116.7,12.4L117.2,9.3zM97.5,19.2L93.8,20.2L94.3,17.1zM105.3,18.4L101.8,20.3L101.6,17.1zM120.1,19.1L116.8,20.1L117.1,17.3zM98,28.1L93.3,28.2L94.7,24.8zM82.7,35.1L78.4,36.1L79.1,32.6zM190.3,36.9L184.6,36.3L186.9,32.3zM121.2,44.1L116.1,44L117.8,40.2zM143.7,43.2L139.4,43.8L140.3,40.5zM159.6,43.2L154.7,44.1L155.6,40.2zM191,43.3L185.2,44.5L186.3,39.8zM212.7,45.5L207.2,43.9L210.2,40.4zM113.6,51.2L108.8,51.9L109.9,48.1zM121.4,51.9L116.1,51.9L117.8,48zM129.8,51.2L124,52.2L125.1,47.7zM159.1,50.5L154.9,51.7L155.4,48.2zM165.9,52.5L161.7,51.3L164,48.6zM190.1,50.4L185.6,51.9L186,48zM212.4,51.5L208,51.6L209.4,48.3zM220.1,52.9L215,51.6L217.6,48.3zM88,62.3L84.4,58.5L88.4,57zM120.8,60.2L115.9,59.5L118,56zM128.7,59.6L123.8,59.6L125.4,55.9zM143.7,60.3L138.8,59.4L141,56.1zM152.5,59.2L146.9,59.9L148.1,55.6zM181.3,60.5L176.9,59.1L179.3,56.4zM166.8,68.8L161.4,67.3L164.2,63.8zM175.9,66.3L170.1,67.9L170.8,63.2zM189.4,67.2L185,67.2L186.5,64zM114,104L109.5,106.6L109.1,102.4zM121.7,103.7L117.3,106.6L116.6,102.4zM129.6,121.1L124.1,122.2L125.1,117.8zM145.2,136.8L139.3,137.9L140.4,133.2zM182.8,164.3L179.1,168.6L177.1,164.4zM174.9,173L171,176.2L169.9,172.2zM182.1,171.3L179.4,176L176.8,172.5zM190.8,181.7L185.8,184.2L185.7,179.7zM175.6,188.9L170.8,191.9L170.1,187.4zM182.1,189.4L178.2,191.4L178,187.9zM188.9,187.2L186.8,191L184.7,188.3zM190.5,195.9L186.4,199.5L185.1,195.3zM135.8,204.8L132.4,206.6L132.1,203.5zM159.4,203.8L155.7,206.9L154.6,203.2zM167.4,203.5L163.5,207.1L162.1,203.1zM175.4,203.6L171.1,207.3L169.8,202.9zM182.2,203.8L178.7,206.9L177.5,203.3zM152,211.3L148.2,214.7L146.9,210.8zM166,210.7L163.8,214.2L161.9,211.4zM136.3,218.9L132.9,222.3L131.5,218.7zM166.2,217.4L164.2,221.9L161.5,219zM129.4,226.9L125.2,230.3L124,226.1zM143.6,224.9L141.3,229.8L138.5,226.5zM152.3,227.6L147.8,230.2L147.3,226.1zM143.3,233.3L141,237.4L138.8,234.3zM135.7,240.3L133.7,245L130.8,242zM144.1,243.5L139.9,245.4L139.9,241.7zM152.1,241.4L148.5,245.5L146.6,241.5zM159.5,241.3L156.1,245.4L154.2,241.6zM152.5,250.5L147.8,253.4L147.2,249zM94.2,262.9L92.2,258.9L95.8,258.8zM101,262.9L99.9,258.6L103.4,259.2zM93.6,270.5L92.3,266.3L95.8,266.7zM102.3,270.5L99.9,266.8L103.4,266.2zM109.3,269.9L107.8,266.5L110.8,266.6zM78.9,277.6L77.2,274.3L80.2,274.1zM85.8,277.7L84.8,273.9L87.9,274.5zM93.5,277.9L92.4,273.9L95.6,274.4zM100.7,277.8L100.1,273.8L103.3,274.6zM109.3,278.8L107.3,274.2L111.3,274.2zM62.7,285L62,281.5L64.8,282.2zM70,286L69.2,281.4L72.9,282.3zM78.6,285.6L77.1,281.8L80.4,281.9zM85.8,285.8L84.6,281.6L88.1,282.1zM93,286L92.2,281.4L95.9,282.3zM109.5,285.8L107.6,281.9L111.1,281.8zM56.3,292.7L54.4,289.7L57.2,289.3zM63.8,293.2L61.8,289.7L65.1,289.3zM71.2,293.4L69.4,289.5L72.8,289.4zM86.5,292.8L84.9,289.5L87.8,289.4zM101.7,293.9L99.7,289.5L103.6,289.5zM205.3,292L199.9,291.4L202.2,287.6zM48.3,301.2L46.4,297.2L49.9,297.1zM56.5,301.6L53.8,297.5L57.7,296.8zM63.6,300.9L61.8,297.2L65.1,297zM71,300.5L69.6,297.1L72.6,297.2zM77.8,301L77,296.7L80.4,297.6zM85.8,300.4L84.9,296.9L87.8,297.4zM94.1,300.4L92.6,297.2L95.5,297.1zM101.7,301.6L99.7,297.1L103.6,297.1zM39.4,308.5L38.9,304.3L42.1,305.3zM47.5,309.1L46.2,304.5L50,305.1zM55.3,308.4L54.2,304.6L57.4,305zM70.8,308.8L69.3,304.7L72.8,304.9zM78.5,308.7L77,304.7L80.5,304.9zM86.6,308.1L84.9,304.9L87.8,304.7zM93.5,308.6L92.3,304.6L95.7,305zM102.2,308.4L100.1,305L103.2,304.5zM109.1,308.7L107.6,304.7L111,304.9zM32.5,316.6L31,312.3L34.7,312.6zM47.2,316.7L46.3,312L50,312.8zM54.7,316L54.2,311.9L57.4,312.9zM63.8,316.6L61.6,312.6L65.3,312.2zM71.5,315.7L69.6,312.6L72.5,312.2zM85.2,316.7L84.5,311.9L88.2,312.9zM100.8,315.7L100.2,312L103.1,312.8zM108.2,316.1L107.7,311.9L110.9,312.9zM24.1,324.2L23.4,319.6L27,320.5zM32.6,324.3L31,319.9L34.7,320.2zM39.1,324.3L38.6,319.4L42.4,320.7zM47.4,324.1L46.4,319.7L49.9,320.4zM55.3,323.9L54.1,319.8L57.5,320.3zM62.3,323.9L61.7,319.5L65.1,320.5zM70,323.9L69.4,319.6L72.8,320.5zM78.4,324.9L76.6,319.9L80.9,320.2zM86.2,325.4L84,320L88.7,320.1zM93.3,325L91.8,319.7L96.2,320.3zM102.3,324.4L99.8,320.3L103.6,319.8zM109.4,324.3L107.4,320.1L111.2,320zM23.6,332.1L23.3,327L27.2,328.4zM32.8,332.4L30.8,327.6L34.9,327.7zM40.4,332.2L38.5,327.6L42.5,327.7zM55,332.2L53.8,327.3L57.8,328zM69.9,332.3L69,327.1L73.1,328.2zM86.1,332.2L84.4,327.5L88.4,327.8zM92.9,331.8L92.2,327.2L95.8,328.2zM109.3,332L107.4,327.6L111.2,327.7zM17.8,340.6L15.2,335.4L19.9,335.2zM23.6,340.4L23,334.6L27.5,336zM100.3,340.3L99.4,334.7L103.9,335.9zM108.8,340.5L107,335L111.6,335.5zM278.3,219.2L282.5,215.9L283.5,220.1z" fill="#0008ff" stroke="#0008ff" stroke-width="0.5" stroke-linejoin="miter"/><path d="M85.8,28.1L78,29.6L79.4,23.4zM91,30.4L84.7,28.5L88.1,24.5zM108.9,27.3L101.3,29.7L102,23.3zM115.5,28.1L108.6,29.2L110,23.8zM123.5,28.3L116.2,29.4L117.7,23.6zM93.4,35L86.1,37.4L86.7,31.2zM100.1,38.3L92.3,37L95.8,31.6zM107.8,34.9L101.4,37L101.9,31.6zM115.2,37L108.1,36.9L110.5,31.7zM124,36.6L116,37.4L117.9,31.2zM130.4,35.1L124.2,36.9L125,31.8zM138.1,38.3L130.5,36.9L134,31.8zM145.1,37.9L138.3,36.6L141.5,32zM153.2,38.6L145.7,36.8L149.4,31.8zM161.1,36.4L154.3,36.9L156.1,31.7zM168.1,38.9L160.8,36.6L164.8,32zM176.7,36.8L169.4,37L171.6,31.6zM182.7,38.1L176.5,36.3L179.8,32.3zM198.7,37.2L192.1,36.7L194.7,32zM214.8,35.2L208.3,37L209.1,31.6zM221.3,39.2L214.2,36.5L218.5,32.1zM78.7,48.2L76.1,42.1L81.4,42.2zM86.3,48.9L83.4,42.1L89.3,42.2zM95.3,49.7L90.7,42.7L97.3,41.6zM104.4,48.9L98.7,43.3L104.6,40.9zM115.3,42.8L109,44.8L109.6,39.5zM129.3,45.2L123.2,44.2L125.9,40.1zM138.4,45.7L130.7,44.9L133.8,39.4zM153.5,44L146.7,44.8L148.3,39.5zM167.5,46.2L161,44.2L164.6,40.1zM177,44.8L169.3,45L171.7,39.3zM184,44.1L177.3,44.7L179,39.5zM206.7,46.4L199.2,44.6L202.9,39.6zM79.2,55.7L76.2,50.2L81.3,49.7zM88.6,56L83.7,50.9L89,49zM93.4,57.6L90.7,49.7L97.4,50.2zM137.1,52.8L131,52.1L133.5,47.8zM146.4,52L139,52.8L140.8,47.1zM151.5,53.8L145.8,51.7L149.2,48.2zM175.4,53.2L169,52.1L171.9,47.8zM184.5,51.9L177.2,52.8L179,47.1zM94.3,64L91.3,57.9L96.8,57.6zM102,64.7L98.6,57.9L104.7,57.6zM115.1,62.2L107.4,60.3L111.2,55.2zM137.8,58.3L132,60.2L132.5,55.3zM160,60.9L153.8,59.9L156.5,55.6zM168.5,61L161.4,60.3L164.2,55.2zM176.7,60.1L169.4,60.5L171.5,55zM190.5,62.1L183.9,59.9L187.7,55.7zM214.1,58.7L208.3,60.1L209.1,55.4zM222.5,61.3L214.8,60.5L217.9,55.1zM87.7,72.1L83.5,66.2L89.2,65zM93.3,73L90.7,65.2L97.3,65.9zM100.8,71.8L98.9,65.2L104.4,65.9zM130.1,68.8L123.2,68L126,63.1zM139.1,67.2L131.5,68.6L133,62.5zM145.1,70.7L137.6,67.9L142.1,63.2zM153.5,68.5L146.2,68.2L148.8,62.9zM161.9,67.7L154.2,68.5L156.1,62.6zM184,68.6L176.8,68.1L179.4,63zM131.6,75.4L123.7,76.4L125.5,70.3zM138.6,75.7L131.2,76.2L133.3,70.5zM145.1,75.3L139,75.7L140.7,71.1zM154.8,72.7L147.8,76.6L147.2,70.2zM170.4,74.6L162.3,76.7L163.4,70zM185.7,73.1L178.2,76.7L178,70zM132.3,81.3L124.5,84.5L124.7,77.8zM139,81.9L131.9,84.1L132.6,78.2zM145.3,82.2L139.4,83.5L140.4,78.8zM154.4,81.9L147.2,84.2L147.8,78.1zM170.3,80.7L163,84.4L162.6,77.8zM178,80L171,84.4L170,77.9zM193.3,81.6L185.5,84.5L186,77.8zM131.6,88.9L124.6,92L124.6,85.8zM139.8,87.7L132.8,92.2L131.7,85.6zM146.9,87.9L140.4,92L139.4,85.9zM153.7,88.5L147.7,91.6L147.3,86.2zM162.3,89.6L154.9,92.1L155.5,85.8zM170.1,89L162.8,92.1L162.8,85.7zM177,89.6L170.2,91.8L170.7,86zM137.5,98.4L131.5,99L133,94.4zM153.3,96.3L147.7,99.3L147.4,94.2zM162,98.7L154.3,99.7L156,93.7zM168.9,98.3L162.1,99.4L163.5,94zM184.9,95.2L178.8,99.7L177.5,93.7zM200,99.2L192.3,99.6L194.5,93.8zM100.8,105L93.8,107.4L94.3,101.5zM108.3,105L101.4,107.4L101.9,101.5zM131.2,105.2L124.3,107.4L124.9,101.6zM137.8,105.2L131.9,106.9L132.5,102zM145.8,103.8L140.2,107.1L139.6,101.9zM160.8,106.5L154.3,107L156.1,102zM200,105.4L193,107.4L193.8,101.6zM124.4,113.8L116.3,115.5L117.6,109zM131,111.5L124.9,115.1L124.3,109.4zM138.6,113.7L131.6,115L132.9,109.5zM145.7,111.6L140.2,114.8L139.6,109.7zM153,112.7L147.3,114.7L147.7,109.8zM177.8,113.4L170,115.5L171,109zM122.9,121.5L116.3,122.6L117.6,117.4zM139,119.9L132.3,123L132.2,117.1zM146.2,118.6L140.5,122.8L139.3,117.2zM155.1,121.3L147,123.3L148.1,116.7zM169.7,121.3L162.3,123.1L163.4,117zM185.7,120.8L177.8,123.3L178.4,116.7zM207.5,122.5L199.9,122.8L202.2,117.2zM131.2,128.5L124.3,130.7L124.9,124.9zM138.8,130.3L131.1,130.7L133.3,124.9zM146.9,130.6L138.7,130.8L141.1,124.7zM153.1,129.3L146.9,130.2L148.2,125.3zM178.1,126.8L170.9,131.1L170,124.4zM192.3,128.7L185.3,130.7L186.2,124.9zM239.3,127.4L231.8,131.1L231.5,124.4zM132.1,134.5L125,138.8L124.2,132.2zM170.3,135.8L162.7,138.8L162.9,132.2zM176.9,138L169.4,138.4L171.6,132.7zM138,144.6L131.7,145.8L132.8,140.7zM154.9,145.2L146.7,146.5L148.4,140zM161.8,143.2L155.2,146.2L155.2,140.4zM184.8,144.9L177.4,146.2L178.8,140.3zM137.6,150L132.7,153.4L131.8,148.6zM147.1,153L139,154.2L140.8,147.9zM153.6,152.5L146.9,153.7L148.2,148.4zM161.7,151.2L155.1,153.9L155.3,148.1zM169.7,152.9L162,154.1L163.7,148zM177.9,158.5L170.6,162L170.4,155.5zM193.4,158.2L186,162.1L185.5,155.4zM177.5,164.1L171.5,169.6L169.4,163.4zM192.7,166.9L185.6,169.5L185.9,163.5zM199.2,164.3L194.4,169.1L192.5,163.9zM191.7,169.9L187.7,176.8L183.8,171.6zM198.9,171.1L194.8,176.6L192,171.8zM176,179.8L171.4,184.4L169.5,179.5zM184.6,182.3L178,184.8L178.3,179.1zM199,181.4L193.6,184.4L193.2,179.5zM200.7,187.9L194.2,192.9L192.6,186.4zM131.2,196.9L124.8,200.3L124.4,194.5zM138.1,192.9L134.2,200L130.3,194.8zM146.2,197.4L139.9,200.1L139.9,194.6zM152.9,194.6L148.8,199.7L146.3,195zM160.8,193L157.1,199.8L153.3,194.9zM168.9,197.8L162.6,200.1L163,194.7zM178.1,196.1L171,200.7L169.9,194zM130.5,202.2L125.8,207.6L123.3,202.5zM144.7,201.7L141.4,207.2L138.4,203zM151.9,201.7L149,207L146.1,203.2zM193.4,204.2L186.1,208.5L185.4,201.7zM137.4,210.9L133.1,215.1L131.4,210.5zM145.1,208L142,215.1L137.8,210.5zM160,210L156.4,214.9L154,210.7zM153,216.6L149.2,222.9L145.8,218zM138.6,224.1L134,231L130.5,225.3zM160.6,224.9L156.6,230.5L153.8,225.8zM131.5,234L125.4,238.9L123.8,232.8zM151.9,231.6L149.4,237.7L145.7,233.9zM160.8,233.3L156.3,238.3L154,233.4zM131.3,240.8L125.8,246.5L123.4,240.6zM129.5,247.9L126.1,253.3L123.1,249.1zM137.3,248.3L133.5,253.4L131,249zM146.8,251.8L139.6,254.2L140.1,248.1zM161.7,248.4L156.4,254.1L153.9,248.3zM136.1,265.3L129.4,260.5L135.1,257.2zM161.8,261.6L154,261.8L156.4,256zM147.5,268.1L139.2,269.9L140.6,263.2zM123.2,282.4L116.7,284.6L117.2,279.1zM135.1,287.9L129.6,283.1L134.9,280.6zM207.2,281.8L201.1,284.6L201,279.1zM121.8,302.7L114.5,299.3L119.4,295zM137.6,301.3L130.4,299.5L134.1,294.8zM127.6,311.2L121.8,306.1L127.4,303.4zM139.2,320.3L132.1,323.1L132.4,317zM48.9,333.5L45.6,328L50.7,327.3zM62.3,333.1L61,327.1L65.8,328.2zM77.4,333.3L76.2,327.1L81.2,328.3zM99.8,333.7L99,326.9L104.3,328.5zM200.8,325.5L194.4,330.9L192.4,324.4zM32.4,341.1L30.3,335.1L35.4,335.5zM38.6,341.5L37.8,334.5L43.2,336.1zM47.3,342.4L45,334.9L51.3,335.7zM54,341.2L53.2,334.5L58.4,336.1zM63.5,341.2L60.8,335.3L66.1,335.2zM71.3,342L68.1,335.4L74,335.2zM78.4,341.2L76.1,335.2L81.3,335.4zM86.3,341.4L83.7,335.2L89.1,335.3zM93.6,341.3L91.4,335.1L96.7,335.4zM131.5,335.5L124.5,338.3L124.7,332.2zM17.6,350.6L14.2,342.9L21,342.9zM23.5,349.3L22.4,342.2L28,343.6zM31.6,350.5L29.5,342.4L36.2,343.4zM39.1,348.8L37.9,342.3L43.1,343.5zM47.2,348.9L45.5,342.5L50.8,343.3zM53.6,349.7L52.8,341.9L58.8,343.9zM64.6,350.1L60.3,343.4L66.6,342.4zM102.9,350L98.5,343.4L104.8,342.4zM109,350.4L106,342.8L112.6,343zM54.3,357.7L52.6,349.8L59,351.2zM69.3,357.2L68.1,349.7L74,351.3zM100.1,358L98.4,349.8L105,351.2zM108.2,358.2L105.9,350L112.7,351z" fill="#0030ff" stroke="#0030ff" stroke-width="0.5" stroke-linejoin="miter"/><path d="M155.2,3L155.8,3.4M162.8,3L163.7,3.9M132.2,10.8L133.1,12M139.9,10.8L140.7,12.1M155.2,10.8L156.3,12.2M132.2,18.7L132.8,19.1M139.9,18.7L140.7,19.7M147.5,18.7L148,19.1M139.9,26.5L140.6,27M155.2,26.5L156.4,27.8M162.8,26.5L163.9,28M178.1,26.5L179.6,27.9M109.3,65.6L109.8,67M86.4,73.4L86.5,73.9M94,73.4L94.3,74.6M109.3,73.4L110.1,74.2M185.8,73.4L186.8,73.7M193.4,73.4L194.5,73.2M94,81.1L94.6,82.5M178.1,81.1L179,81.4M94,88.9L94.2,89.9M109.3,88.9L110.4,90.2M94,96.7L94.4,98.4M185.8,96.7L186.9,96.9M162.8,104.5L163.5,104.4M185.8,112.3L186.5,112.5M193.4,112.3L194.7,112.2M201,112.3L202.1,112.5M216.3,112.3L218,112.8M224,112.3L225.6,112.6M193.4,120L194.2,120.2M208.7,120L209.8,120.2M162.8,127.8L163.4,127.7M216.3,127.8L217,127.9M224,127.8L225.4,127.7M178.1,135.5L179.1,135.6M193.4,135.5L194.3,135.9M201,135.5L201.3,133.9M216.3,135.5L216.2,134.3M224,135.5L224.2,133.8M185.8,143.3L187.1,143.2M193.4,143.3L194.6,143.7M201,143.3L200.7,142M216.3,143.3L216.6,141.7M224,143.3L224.1,141.9M170.5,151L171.5,151.2M185.8,151L186.9,151.3M208.7,151L208.4,149.6M231.6,151L232,149.7M254.6,151L254.4,149.2M178.1,158.8L178.9,159.1M262.2,158.8L261.9,157.4M201,197.4L201.7,197M162.8,228.2L163.3,227.8M170.5,228.2L171.8,227.5M162.8,235.8L163.9,234.9M170.5,235.8L171.1,235.5M162.8,243.5L164,243.1M117,258.9L118.5,259.2M124.6,274.2L126.2,274.6M132.2,274.2L133.3,275.3M139.9,274.2L140.6,275.5M147.5,274.2L148.6,274.3M139.9,289.5L141.8,288.9M124.6,297.1L125.1,297.7M117,304.8L117.7,305.4M139.9,304.8L140.9,305.2M124.6,312.4L125.8,312.5M132.2,312.4L133.6,312.3M139.9,312.4L140.6,312.1M124.6,320L126.1,320.3M117,327.7L117.5,328M132.2,327.7L133.5,327.4M139.9,327.7L141.6,326.7M185.8,327.7L186.3,327.6M48.1,358.1L48.1,358.9M55.8,358.1L55.6,358.7" fill="none" stroke="#0058ff" stroke-width="1.3"/><path d="M137.6,9.3L129.5,5.4L135,0.6zM162.6,8.5L153.5,6.4L158,0.5zM169.7,10L161,6.5L166.4,1.3zM131.8,15.5L122.7,14L126.7,7.8zM138,19L130,14.2L136.2,9.9zM145.4,19.2L137.6,14.2L143.9,10.1zM161.5,18.9L153.3,14.5L159.2,9.9zM139.4,24.3L130.5,22L135.1,16.1zM146,26.3L137.8,22L143.6,17.3zM154.5,24.6L145.6,21.9L150.4,16.2zM130.7,33.1L122.1,29.4L127.6,24.3zM147.6,31.8L138.5,30.1L142.7,23.9zM162.1,34.1L153.6,30.3L159.2,25.3zM168.8,35L160.8,30.2L166.9,25.9zM185.7,33.7L177,30.6L182.1,25.2zM101.7,58L98.1,50L105.2,49.9zM112.8,74.9L106.3,68.3L113.3,65.7zM88.5,82.1L82.9,74.7L90.1,73zM96.4,82.9L90.7,75.5L98,73.7zM116,80.3L107.4,76.8L112.8,71.6zM163.4,72.9L155.4,77L155,69.7zM178.1,75.6L169.5,76.7L171.5,70zM195,76.1L185.7,77.3L187.9,70.1zM203,72.4L194.9,77L194.1,69.5zM98.1,90.3L91.2,84L98,81zM112.7,89.2L106,82.8L112.9,80zM163.5,84.3L154.2,84.8L156.9,77.8zM187.2,83.7L178,85L180,77.8zM202.1,80.2L194.1,84.8L193.3,77.4zM95.4,98.3L90.5,90.5L97.9,89.4zM103.9,97.4L98.1,90.1L105.3,88.2zM116,96.6L107.6,92.7L113.2,87.7zM186.5,88.1L178.5,92.6L177.7,85.2zM193.9,90.3L185.2,92.5L186.4,85.3zM201.8,91.5L192.6,92.6L194.7,85.4zM96,106.7L90.7,99.1L98,97.6zM132.9,95.9L124.9,100.4L124.3,93zM147.7,96.1L140.2,100.1L139.6,93.3zM178.9,96.9L170.4,100.4L170.5,93zM195.2,98.5L186.2,100.6L187.6,93.3zM156.1,107L146.9,108.2L149,101zM171.8,102.8L164.2,108L162.8,100.7zM179.2,105L170.5,108.2L170.9,100.8zM186,104.3L178.2,108L178,101zM193.7,105.2L185.5,108L186.1,101zM163.2,114.9L154,115.8L156.3,108.7zM171.5,114L162.4,116L163.9,108.7zM186,113.4L177.6,115.7L178.6,108.8zM194.4,115.6L185.1,116L187.8,109zM203.2,111.6L195,115.9L194.5,108.4zM210.4,114.4L201.2,116.1L202.9,108.8zM216.8,114.5L207.7,115.8L209.7,108.7zM226.1,115.5L216.9,116.4L219.2,109.3zM233.9,114.2L224.8,116.2L226.3,108.9zM164.1,119.3L156,123.7L155.3,116.3zM178.4,121.4L169.8,123.5L171.1,116.5zM193.8,123.3L184.5,123.6L187.3,116.6zM202.5,121.9L193.4,123.8L194.9,116.5zM218.2,121.4L209.2,123.9L210.3,116.5zM224.9,119.4L216.7,123.7L216.2,116.3zM231.9,118.4L224.7,123.5L223.3,116.5zM239.6,120L231.6,123.5L231.6,116.5zM163.4,128.9L154.7,131.4L155.7,124.2zM171.8,126L164.2,131.3L162.7,124zM186,126.8L178.5,131.3L177.7,124.3zM201,130.6L192.2,131.1L194.6,124.4zM209.9,128.6L201.1,131.5L201.8,124.1zM216.7,127.7L208.7,131.3L208.7,124.2zM225.4,129.4L216.4,131.6L217.7,124.2zM233.9,127.2L225.6,131.4L225.2,124zM247.2,127.2L239.5,131.3L239,124.3zM140.5,135.6L132.2,139.1L132.3,131.9zM155.7,138.8L146.4,139.1L149.2,132.2zM163.9,133.9L156.2,139.1L154.8,131.8zM187.6,136.4L178.8,139.3L179.5,131.9zM193.7,137.3L185,139L186.5,132.1zM202.3,139L193,139.4L195.7,132.4zM202.7,125.5L205,134.5L197.6,133.3zM215.2,125.9L219.9,133.9L212.5,134.8zM225.1,125.4L227.9,134.2L220.4,133.4zM132.2,146.3L123.2,146.6L125.9,139.9zM148.2,142L140.5,146.9L139.3,139.6zM170.5,144.8L162.2,146.7L163.5,139.9zM178.7,144.4L170,146.9L171,139.7zM195.6,142.5L187.4,146.9L186.8,139.4zM202.6,146.4L193.3,147.2L195.8,140.1zM198.8,133.8L204.4,141.2L197.1,142.9zM218.1,133.3L220.3,142.4L212.9,141.1zM225.1,133.5L227.9,142.4L220.4,141.5zM132.2,152.8L123.8,154.4L125.4,147.7zM179.8,152.7L170.8,154.9L172.1,147.5zM186.3,150.8L178.2,154.6L178,147.4zM195.2,153.2L186,154.9L187.7,147.6zM201.3,151.3L193.3,154.5L193.5,147.5zM206.6,141.3L212.1,148.8L204.7,150.4zM234.4,141.5L235.6,150.7L228.4,148.6zM253.9,140.7L258.2,148.9L250.7,149.4zM186.9,161.9L177.7,162.6L180.2,155.5zM201.3,158.7L193.4,162.2L193.4,155.3zM260.2,149L265.6,156.6L258.3,158.1zM184.9,192.6L180.2,200.4L176,194.4zM201.4,194.5L194.6,200.9L192.2,193.9zM209.2,192.9L203.5,200.3L199.9,193.7zM179.3,212.5L170.9,216.5L170.7,209zM186.1,208.9L180.1,216L176.8,209.2zM148.4,220.3L140,224.2L139.9,216.7zM161.7,215.8L157.2,223.3L153.1,217.6zM179.4,219.2L171.5,224.1L170.4,216.7zM170.1,222.7L165.5,230.8L161,224.8zM179.4,223.7L173.5,230.8L170.1,224.1zM139.9,233.6L133.2,239.2L131.3,232.5zM170.3,229.3L166.3,237.7L161.4,232.1zM178.5,231.4L172.8,238.8L169.3,232.2zM171.9,239.9L165.3,246.5L162.6,239.6zM126.8,261L117.7,262.9L119.4,255.6zM132.3,262.1L123.2,262.3L126,255.5zM147.9,260.4L139.2,262.4L140.6,255.3zM125.4,265.8L117.3,270.2L116.6,262.8zM133.5,265.7L125.4,270.2L124.7,262.8zM139.3,271.8L130.2,269.7L134.7,263.7zM153.5,272.1L145.1,269.2L150,263.9zM134.4,276.8L125.2,278.2L127.2,271zM139.2,281.3L130.6,277.9L136,272.6zM144.6,283L137.3,277.3L143.9,273.7zM157.1,275L148.3,278L148.9,270.6zM147.3,285.6L138.2,285.1L141.6,278.6zM139.9,293L130.7,292.9L133.8,286.1zM149.9,286.6L142.8,292.5L140.7,285.4zM130.6,304.1L122.2,300.1L127.9,295.3zM148.7,296.9L140.3,300.9L140.1,293.4zM124.5,310.5L115.5,308.3L120,302.4zM148.9,308.2L139.6,308.7L142.2,301.7zM134.3,313.1L125.5,316.2L126.1,308.8zM142.1,311.7L133.8,316.1L133.3,308.6zM148.2,308.4L142.2,315.4L139,308.7zM134.4,321.9L125.4,324L126.7,316.6zM199.9,325.2L191.1,322.9L195.7,317.2zM209.8,319.1L201.8,323.7L201,316.3zM124.6,332.6L115.5,331.2L119.5,324.9zM141.8,325.5L134.3,331L132.7,323.7zM149,322.4L143.5,329.9L139.7,323.4zM194.7,326L187,331.2L185.6,323.9zM124,340L114.9,338.4L119,332.2zM140.1,335.5L132.1,338.7L132.3,331.8zM69.3,350.7L67.7,342.1L74.5,343.7zM24.6,358.6L21.7,350.2L28.8,350.8zM40.5,359.4L36.8,350.9L44.2,350.9zM48.6,358.8L44.5,350.7L51.8,350.3zM63.8,358.6L59.9,350.6L67,350.4zM47.2,367.3L44.3,358.5L51.8,359.3zM53,366.8L52,357.6L59.2,359.8z" fill="#0058ff" stroke="#0058ff" stroke-width="0.5" stroke-linejoin="miter"/><path d="M124.6,3L126.6,4.4M139.9,3L142,6.1M147.5,3L149.4,5.1M170.5,3L172.3,4.4M178.1,3L181.1,5M208.7,3L211.7,5.9M147.5,10.8L149.8,12.4M162.8,10.8L164.7,12.2M170.5,10.8L172.9,14.5M178.1,10.8L180.3,12.4M185.8,10.8L187.7,12.2M193.4,10.8L195.3,13.3M201,10.8L204.2,14.1M124.6,18.7L127.2,20.5M155.2,18.7L157.6,20.4M162.8,18.7L165.5,20.8M170.5,18.7L172.8,20.8M178.1,18.7L180.1,21.7M193.4,18.7L195.8,20.5M208.7,18.7L211.7,21.1M132.2,26.5L134.2,28M147.5,26.5L150.1,29.2M170.5,26.5L172.5,27.8M185.8,26.5L188.6,28.6M193.4,26.5L195.4,28.7M86.4,81.1L86.8,84.9M101.7,81.1L103.2,84.4M117,81.1L117.4,84.8M117,88.9L117.7,91.1M109.3,96.7L109.7,99M239.3,120L241.7,119.8M208.7,135.5L209.4,131.5M239.3,135.5L239.4,132.8M246.9,135.5L247.5,131.8M254.6,135.5L255.8,131.1M208.7,143.3L208.4,139.4M246.9,143.3L246.9,139.1M254.6,143.3L254.2,140M216.3,151L216.9,146.8M224,151L224.6,148.1M246.9,151L246.4,148.2M201,158.8L201.1,155.2M216.3,158.8L217.7,154.3M239.3,158.8L238.5,154.6M193.4,205.1L195.7,204.1M185.8,212.8L188,211.8M178.1,220.5L180.7,219.4M178.1,228.2L181.7,225.7M162.8,251.2L165,249.5M147.5,258.9L149.6,258.4M117,274.2L119.4,275M155.2,274.2L157.7,273.2M124.6,281.8L126.9,283.6M147.5,281.8L150.9,280.2M117,289.5L119.7,291M124.6,289.5L127.1,289.8M147.5,297.1L151.4,294.9M193.4,297.1L195.4,295.9M132.2,304.8L134.8,305.7M117,312.4L120.1,312.2M117,320L119.6,321.3M139.9,320L141.9,319.2M185.8,320L187.8,318.5M124.6,327.7L126.7,327.5M201,327.7L202.8,329.1M185.8,335.3L188.8,334.6M117,342.9L119.2,345.1M94,373.3L93.6,375.7" fill="none" stroke="#0080ff" stroke-width="1.3"/><path d="M133.6,9.3L124.5,7.5L128.8,1.4zM146.6,13.2L138.8,8.2L145.1,4.1zM155,11.4L146.5,7.5L152.2,2.6zM179.1,9.6L170,7.4L174.6,1.5zM188.1,9.7L179,8.1L183.2,1.9zM217.9,11.8L209.2,8.6L214.3,3.2zM156.8,17.3L147.7,15.5L152,9.4zM171.7,17.1L162.6,15.2L166.9,9.1zM177.6,21.5L169.8,16.5L176,12.4zM187.2,17.4L178.1,15.5L182.5,9.4zM194.6,17.1L185.5,15.2L189.8,9.1zM200.6,20L192.4,15.6L198.3,11zM210,20.3L201.5,16.7L206.9,11.6zM134.1,25.4L125,23.5L129.3,17.4zM164.6,25.3L155.5,23.4L159.8,17.3zM172.1,26.1L163.1,23.7L167.8,17.9zM179.2,26.5L170.3,23.6L175.3,18zM184.9,28.7L177,23.8L183.3,19.6zM202.6,25.7L193.6,23.5L198.1,17.6zM218.3,26.5L209.4,24L214.1,18.2zM141,33.1L131.9,31L136.5,25zM155.9,35.3L147.4,31.7L152.8,26.6zM179.6,32.5L170.5,31L174.6,24.7zM195.3,33.8L186.3,31.6L190.8,25.7zM201.3,34.8L192.7,31.2L198.2,26.1zM87.7,93.3L83.1,85.3L90.5,84.5zM107,92L99.9,86L106.6,82.8zM118.3,93.3L113.6,85.2L121.1,84.4zM120.5,99.2L114.2,92.4L121.3,89.9zM111.1,107.4L106,99.6L113.4,98.4zM250.2,119.2L242,123.6L241.5,116.1zM210.9,123.2L213.1,132.2L205.7,130.9zM239.9,124.3L243.2,133L235.7,132.6zM248.7,123.4L251.2,132.3L243.8,131.2zM258.2,123L259.4,132.2L252.2,130.1zM207.8,131L212.1,139.2L204.7,139.7zM246.9,130.6L250.7,139.1L243.2,139.1zM253.2,131.6L257.9,139.6L250.5,140.5zM218,138.4L220.6,147.3L213.2,146.3zM226.4,139.8L228.3,148.9L221,147.3zM245,139.8L250.1,147.5L242.7,148.8zM201.2,146.7L204.8,155.2L197.4,155.1zM220.2,146.2L221.3,155.4L214.1,153.2zM236.8,146.2L242.1,153.9L234.8,155.3zM203.5,200.7L197.2,207.5L194.2,200.6zM195.8,208.4L189.5,215.2L186.5,208.4zM188.5,216L182.2,222.8L179.2,215.9zM188.8,221L183.8,228.9L179.6,222.6zM171.7,244.3L167.3,252.5L162.7,246.6zM157.9,256.4L150.5,262L148.8,254.7zM127.5,277.6L118.3,278.5L120.5,271.4zM165.6,270L159.1,276.6L156.3,269.7zM133.7,288.7L124.7,286.6L129.1,280.6zM158.6,276.6L152.5,283.6L149.3,276.9zM127.2,295.1L118,294.3L121.5,287.7zM135.5,290.7L126.7,293.5L127.5,286zM158.8,290.6L153.3,298.1L149.6,291.6zM202.6,291.5L197.3,299.1L193.4,292.7zM142.8,308.6L133.5,309.2L136.1,302.2zM128.6,311.5L120.4,315.9L119.8,308.4zM127.3,324.9L118,324.7L121.2,317.9zM149.6,315.7L143.4,322.6L140.3,315.7zM194.6,313.5L190,321.6L185.6,315.5zM135.2,326.9L127,331.2L126.5,323.8zM209.2,334.7L200.3,332L205.2,326.3zM197.1,332.6L189.7,338.2L187.9,330.9zM125.3,351L116.6,347.7L121.8,342.4zM92.1,384.1L89.9,375.1L97.3,376.4z" fill="#0080ff" stroke="#0080ff" stroke-width="0.5" stroke-linejoin="miter"/><path d="M185.8,3L189.7,6.7M193.4,3L196.9,6.5M201,3L204.9,6.8M216.3,3L220.4,9.2M208.7,10.8L213.5,14.5M216.3,10.8L221.2,14.4M185.8,18.7L189.5,22.7M201,18.7L204.5,23.6M216.3,18.7L220.9,24.2M201,26.5L205.7,30.7M208.7,26.5L211.8,31.3M216.3,26.5L220.1,30.9M117,65.6L118.7,71.1M101.7,73.4L104.9,78M117,73.4L119.3,78M101.7,96.7L103.3,102.2M117,96.7L120.8,102M231.6,135.5L231.9,130M231.6,143.3L230.5,137.8M239.3,143.3L239.9,138M201,151L199.7,144.1M239.3,151L238.7,145.5M208.7,158.8L208.1,154M224,158.8L225.5,154.2M231.6,158.8L230.9,152.7M246.9,158.8L249.5,153.6M254.6,158.8L255.3,152.4M239.3,166.5L242.2,160.4M246.9,166.5L249.8,160.6M239.3,174.2L243.9,168.2M254.6,174.2L259.6,168.7M201,181.9L205.3,177.2M208.7,189.7L210.8,182.7M208.7,197.4L214.2,193.3M193.4,212.8L199,207.7M185.8,220.5L190.3,216.6M170.5,243.5L175.1,240.5M216.3,251.2L220.5,247.3M155.2,266.5L160.6,264.2M201,274.2L205.9,270.9M147.5,289.5L153.7,287.4M147.5,312.4L150.7,308.5M147.5,320L152.8,314.9M139.9,335.3L144.8,330.4M101.7,426.3L109.2,425.4" fill="none" stroke="#00a8ff" stroke-width="1.3"/><path d="M195.8,12.6L187.1,9.4L192.2,4zM202.8,12.6L194.2,9.1L199.5,3.9zM210.9,12.8L202.2,9.5L207.5,4.2zM225,16.3L217.2,11.2L223.5,7.2zM220.2,19.7L211.2,17.5L215.7,11.5zM228.1,19.4L219,17.4L223.4,11.4zM195.3,28.9L186.8,25.2L192.2,20.1zM209.4,30.5L201.4,25.7L207.6,21.4zM226.3,30.8L218,26.6L223.8,21.9zM212.1,36.3L203.3,33.5L208.2,27.9zM216.5,38.4L208.7,33.3L215,29.2zM225.6,37.4L217.2,33.3L222.9,28.5zM121.3,79.2L115.1,72.2L122.3,70zM109.7,84.9L101.8,80.1L107.9,75.8zM123.1,85.6L115.9,79.6L122.6,76.3zM105.8,110.4L99.7,103.3L106.9,101.2zM125.8,108.9L117.8,104.2L123.8,99.8zM232.3,121.5L235.6,130.2L228.2,129.8zM228.8,129.5L234.2,137L226.8,138.5zM241,129.6L243.6,138.5L236.2,137.6zM198.1,135.8L203.4,143.4L196,144.9zM237.7,137.1L242.4,145.1L234.9,146zM207,145.5L211.8,153.5L204.4,154.4zM228.2,146.1L229.1,155.4L222,153zM229.9,144.2L234.6,152.2L227.2,153.1zM253.3,146L252.8,155.2L246.2,151.9zM256.3,144L259,152.9L251.6,152zM245.8,152.7L245.5,162L238.8,158.8zM253.4,153L253.1,162.2L246.4,159zM249.1,161.5L246.9,170.5L240.9,165.9zM265.4,162.4L262.4,171.2L256.9,166.2zM210.9,170.8L208.1,179.7L202.5,174.7zM213.3,174.5L214.4,183.7L207.2,181.6zM221.1,188.3L216.4,196.3L212,190.3zM205.3,202L201.5,210.5L196.5,205zM196.8,211.2L192.7,219.5L187.9,213.8zM182.2,235.9L177.2,243.6L173.1,237.4zM226.8,241.5L223.1,250L218,244.5zM168.4,260.9L162,267.7L159.1,260.8zM213,266.1L208,274L203.8,267.8zM161.7,284.6L154.9,290.9L152.5,283.8zM156.1,301.9L153.6,310.9L147.8,306.1zM158.8,308.9L155.4,317.5L150.1,312.2zM150.8,324.4L147.4,333.1L142.1,327.8zM117.6,424.4L109.6,429.1L108.7,421.7z" fill="#00a8ff" stroke="#00a8ff" stroke-width="0.5" stroke-linejoin="miter"/><path d="M208.7,166.5L214.7,159.6M201,174.2L206.9,166.3M231.6,174.2L236.6,165.7M262.2,174.2L271.1,168.6M208.7,181.9L213.3,172.7M216.3,181.9L219.1,174.1M231.6,181.9L236.1,174.4M239.3,181.9L246.7,175M201,205.1L208.5,201M178.1,235.8L185.9,229M170.5,251.2L177.8,244.3M162.8,258.9L171.7,254.7M208.7,258.9L215.7,253.7M193.4,281.8L199.7,274.5M193.4,289.5L201.9,283.7M147.5,304.8L153.9,298.4M147.5,327.7L153.6,319.4M109.3,411.2L117.9,408.1" fill="none" stroke="#00d4ff" stroke-width="1.3"/><path d="M220.3,153.2L217.5,162.1L211.9,157.1zM212,159.5L209.9,168.6L203.9,164.1zM240.9,158.3L239.8,167.6L233.4,163.8zM278.3,164L273.1,171.7L269.2,165.4zM217.1,165.1L216.7,174.4L210,171zM221.9,166.1L222.6,175.3L215.6,172.9zM240.4,167L239.3,176.3L232.8,172.5zM253,169.3L249.3,177.8L244.2,172.3zM216,196.9L210.3,204.3L206.7,197.7zM192.3,223.4L188.3,231.9L183.4,226.2zM184,238.4L180.4,247L175.3,241.5zM179.3,251L173.3,258L170.1,251.3zM222.5,248.7L217.9,256.8L213.5,250.7zM205.2,268L202.5,276.9L196.8,272.1zM208.9,278.9L204,286.8L199.7,280.6zM159.9,292.3L156.6,301L151.3,295.7zM158.6,312.6L156.6,321.6L150.6,317.2zM125.9,405.3L119.2,411.6L116.6,404.6z" fill="#00d4ff" stroke="#00d4ff" stroke-width="0.5" stroke-linejoin="miter"/><path d="M201,166.5L207.5,156.3M216.3,166.5L223.4,157.2M224,166.5L232.5,155.6M231.6,166.5L236.8,155.6M254.6,166.5L259,156.3M262.2,166.5L263.2,155.1M208.7,174.2L211.7,160.7M224,174.2L225.6,160.5M246.9,174.2L253.6,165.1M224,181.9L229.8,171.6M246.9,181.9L256.1,175M201,189.7L208.1,180.9M216.3,189.7L224.8,181.8M224,189.7L233.7,179.6M231.6,189.7L240.6,182.4M216.3,197.4L226.3,191.9M224,197.4L234.4,191.1M208.7,205.1L219.5,198.5M201,212.8L209.5,205.3M193.4,220.5L204.4,212.7M216.3,243.5L226,233.9M155.2,281.8L164,273.9M155.2,289.5L164.1,280M185.8,304.8L193.1,294.3M147.5,335.3L156.2,326M101.7,380.9L112.1,373.5M109.3,388.5L120.1,381.9M109.3,403.6L120.9,398M117,403.6L127.7,398.6M124.6,403.6L137.8,400.2M117,411.2L130,406.9M132.2,411.2L144.9,407M109.3,418.8L119.9,415.3M117,418.8L127.9,415.9M124.6,418.8L134.9,414.1M117,426.3L128.4,423" fill="none" stroke="#20ffd8" stroke-width="1.3"/><path d="M212.1,149.1L210.7,158.3L204.4,154.3zM228.6,150.5L226.4,159.5L220.5,154.9zM237.8,148.9L235.5,157.9L229.6,153.3zM240.5,147.9L240.2,157.2L233.4,154zM262.4,148.5L262.4,157.8L255.6,154.8zM264,146.6L267,155.4L259.5,154.7zM213.5,152.4L215.3,161.6L208,159.9zM226.6,152L229.3,160.9L221.9,160zM258.6,158.3L256.6,167.3L250.6,162.9zM234,164.3L233.1,173.5L226.6,169.8zM262.9,169.8L258.4,178L253.9,172zM213.5,174.3L211,183.2L205.2,178.5zM231,176L227.3,184.5L222.2,179zM239.6,173.5L236.4,182.2L231,177zM247.3,177.1L243,185.4L238.3,179.5zM233.7,187.7L228.1,195.1L224.5,188.6zM241.7,186.7L236.3,194.3L232.5,187.9zM226.8,194L221.5,201.7L217.6,195.3zM215.9,199.6L212,208.1L207,202.5zM211.4,207.8L206.6,215.7L202.3,209.6zM232,227.8L228.6,236.5L223.3,231.2zM170.3,268.2L166.5,276.7L161.5,271.1zM169.9,273.8L166.8,282.5L161.4,277.4zM198,287.3L196.2,296.4L190,292.1zM162,319.8L159,328.5L153.5,323.4zM119.1,368.6L114.3,376.6L110,370.5zM127.4,377.4L122.1,385.1L118.2,378.7zM128.5,394.3L122.5,401.4L119.3,394.6zM135.4,394.9L129.3,401.9L126.1,395.2zM146,398L138.8,403.8L136.9,396.5zM138,404.2L131.2,410.4L128.8,403.3zM153,404.3L146.1,410.5L143.7,403.4zM128,412.7L121,418.9L118.7,411.8zM136.1,413.8L128.8,419.5L127,412.3zM142.7,410.7L136.5,417.5L133.4,410.7zM136.6,420.7L129.4,426.6L127.4,419.4z" fill="#20ffd8" stroke="#20ffd8" stroke-width="0.5" stroke-linejoin="miter"/><path d="M216.3,174.2L222.6,161.2M254.6,181.9L268,171.3M262.2,181.9L276,172.5M239.3,189.7L253.7,180M185.8,228.2L198.5,218.1M162.8,266.5L176.5,256.5M155.2,297.1L165.9,284.5M178.1,327.7L188.4,313.2M178.1,335.3L188.5,321.9M101.7,373.3L114.7,366.8M109.3,396.1L122.9,391.4M117,396.1L132.5,390.7M124.6,396.1L138.1,391.9M139.9,396.1L156.6,391.2M139.9,403.6L154.1,399.6M124.6,411.2L138.5,408.4M132.2,418.8L147,412.4M132.2,426.3L149.3,421.6" fill="none" stroke="#58ffa0" stroke-width="1.3"/><path d="M226.3,153.6L226,162.8L219.2,159.6zM273.9,166.6L270.2,174L265.9,168.6zM282.1,168.2L277.9,175.3L274,169.6zM259.9,175.8L255.6,182.8L251.7,177.1zM204.4,213.5L200.7,220.8L196.4,215.4zM182.5,252.1L178.5,259.3L174.4,253.7zM170.8,278.8L168.6,286.8L163.3,282.3zM192.7,307L191.2,315.2L185.6,311.2zM193.1,315.9L191.2,324L185.8,319.8zM122.3,363L116.4,370.1L113,363.4zM130.9,388.6L124.1,394.9L121.7,387.8zM139.6,388.3L133.7,394L131.4,387.4zM146.3,389.4L139.3,395.4L137,388.3zM163.8,389.1L157.5,394.5L155.6,387.9zM162.3,397.3L155.1,403.2L153.1,396zM146.9,406.7L139.3,412.1L137.8,404.7zM153.9,409.4L148.4,415.6L145.7,409.2zM156.5,419.6L150.2,424.9L148.3,418.3z" fill="#58ffa0" stroke="#58ffa0" stroke-width="0.5" stroke-linejoin="miter"/><path d="M246.9,189.7L262.8,179.1M231.6,197.4L247.3,186.4M216.3,205.1L233.2,194.5M208.7,212.8L225.1,199.4M185.8,235.8L200.6,224.6M178.1,243.5L193.8,230.2M208.7,251.2L222.2,235.6M170.5,258.9L183.2,245.6M201,266.5L214,252.7M162.8,274.2L174.9,259.2M155.2,312.4L161.8,292.8M101.7,358.1L118.2,349.2M109.3,373.3L127.4,365.6M117,373.3L133.9,360.7M132.2,373.3L150.4,362.5M109.3,380.9L127,371.3M117,380.9L136.7,373.3M124.6,380.9L141.7,374.2M132.2,380.9L147.8,370.4M117,388.5L134,378.7M124.6,388.5L142,382.4M132.2,388.5L148.9,380.7M132.2,396.1L150.8,390.3M132.2,403.6L152,397.5M147.5,403.6L165,397.2M139.9,411.2L159.3,405.3M147.5,411.2L167.1,407M147.5,426.3L167.4,420.6" fill="none" stroke="#90ff68" stroke-width="1.3"/><path d="M269.1,175L264.7,182L260.9,176.3zM253.4,182L249.2,189.2L245.3,183.5zM239.5,190.5L235,197.5L231.3,191.6zM230.9,194.7L227.3,202.1L223,196.7zM206.5,220L202.7,227.3L198.5,221.8zM199.5,225.3L196,232.8L191.6,227.6zM227.1,229.9L224.8,237.9L219.6,233.3zM188.5,240.2L185.7,248L180.8,243.2zM219.1,247.2L216.5,255.1L211.5,250.4zM179.6,253.4L177.6,261.4L172.2,257.1zM164.2,285.7L165.1,293.9L158.5,291.7zM124.8,345.6L119.8,352.2L116.6,346.1zM134.3,362.7L128.8,368.8L126.1,362.4zM140,356.2L136,363.4L131.9,357.9zM156.8,358.6L152.2,365.4L148.6,359.5zM133.6,367.7L128.7,374.3L125.4,368.3zM143.7,370.7L137.9,376.6L135.5,370.1zM148.7,371.5L142.9,377.4L140.4,371zM154.1,366.2L149.8,373.3L145.9,367.6zM140.6,375L135.8,381.7L132.3,375.8zM149,379.9L143.1,385.6L140.8,379.1zM155.7,377.5L150.4,383.8L147.5,377.6zM157.9,388L151.8,393.6L149.7,387zM159.1,395.3L153,400.8L150.9,394.2zM172,394.6L166.2,400.4L163.8,394zM166.5,403.1L160.3,408.6L158.3,402zM174.4,405.5L167.8,410.4L166.3,403.7zM174.6,418.5L168.4,423.9L166.5,417.3z" fill="#90ff68" stroke="#90ff68" stroke-width="0.5" stroke-linejoin="miter"/><path d="M254.6,189.7L273.8,177.7M162.8,281.8L177.6,262.9M162.8,289.5L174.5,268.5M155.2,304.8L168.2,284.6M124.6,350.5L143.7,337.4M109.3,358.1L127,345.2M101.7,365.7L123,355.3M109.3,365.7L129.6,354M124.6,365.7L141.1,351.6M124.6,373.3L143.4,360.5M139.9,373.3L162.1,363.1M139.9,380.9L159.8,372.1M147.5,380.9L165.8,369.6M139.9,388.5L159.8,379.7M147.5,396.1L170.8,389.3M155.2,403.6L175.2,395.9" fill="none" stroke="#c8ff30" stroke-width="1.3"/><path d="M280.2,173.7L275.6,180.6L272,174.7zM182.2,257L180.3,265L174.9,260.8zM178.2,262L177.5,270.2L171.5,266.8zM172.2,278.3L171.1,286.5L165.3,282.7zM149.9,333.1L145.6,340.2L141.7,334.5zM133,340.8L129,348L124.9,342.4zM129.7,352L124.5,358.4L121.4,352.2zM136,350.2L131.3,356.9L127.8,351zM146.8,346.7L143.3,354.2L138.9,349zM149.6,356.3L145.4,363.4L141.5,357.6zM168.9,359.9L163.5,366.2L160.7,359.9zM166.7,369.1L161.2,375.3L158.4,369zM172.2,365.7L167.6,372.6L164,366.7zM166.6,376.6L161.2,382.8L158.4,376.5zM178,387.3L171.7,392.7L169.8,386zM182.2,393.2L176.4,399.1L173.9,392.7z" fill="#c8ff30" stroke="#c8ff30" stroke-width="0.5" stroke-linejoin="miter"/><path d="M239.3,197.4L259.3,180.1M254.6,197.4L276.8,182.8M239.3,205.1L260.4,188.9M216.3,212.8L238.2,198.6M201,220.5L222.2,204.3M193.4,228.2L213.1,212.1M224,228.2L243.3,208.7M178.1,251.2L198.6,233.4M178.1,258.9L197,238.8M201,258.9L219,241.8M170.5,266.5L187.6,247M155.2,320L167.3,297.7M139.9,342.9L157.7,324.4M117,350.5L136.1,333.2M117,358.1L137.9,341.8M139.9,358.1L161.5,343.4M117,365.7L139.1,355M147.5,373.3L170.1,361.6M155.2,380.9L179.7,368.7M147.5,388.5L170.1,375.2M155.2,388.5L177.7,376.8M162.8,388.5L186.3,379.6M155.2,396.1L180.6,387M162.8,396.1L187.3,385.1" fill="none" stroke="#fff000" stroke-width="1.3"/><path d="M264.9,175.2L261.5,182.7L257,177.5zM283,178.7L278.6,185.7L274.9,179.9zM266.4,184.4L262.5,191.7L258.3,186.2zM244.5,194.5L240.1,201.5L236.3,195.7zM228.1,199.8L224.3,207.1L220.1,201.6zM218.9,207.3L215.2,214.7L210.9,209.4zM248.6,203.4L245.7,211.2L240.8,206.3zM204.3,228.5L200.9,236L196.4,230.8zM202.1,233.3L199.5,241.2L194.5,236.4zM224.4,236.7L221.4,244.3L216.6,239.3zM192.5,241.3L190.2,249.2L185,244.7zM170.9,291.1L170.3,299.3L164.3,296zM162.9,319L160.2,326.8L155.2,322zM141.7,328.2L138.4,335.8L133.8,330.7zM143.8,337.2L140,344.6L135.8,339.1zM167.7,339.2L163.4,346.3L159.5,340.5zM145.8,351.8L140.6,358.2L137.6,351.9zM176.8,358.2L171.7,364.7L168.5,358.6zM186.4,365.3L181.2,371.8L178.1,365.6zM176.6,371.4L171.8,378.2L168.3,372.2zM184.4,373.4L179.3,379.9L176.1,373.7zM193.3,376.9L187.5,382.8L185.1,376.4zM187.6,384.5L181.7,390.3L179.4,383.8zM194.1,382.1L188.7,388.3L185.9,382z" fill="#fff000" stroke="#fff000" stroke-width="0.5" stroke-linejoin="miter"/><path d="M224,205.1L249,189.3M239.3,212.8L262.5,193.8M208.7,243.5L230,222.8M170.5,274.2L190.5,251.7M193.4,274.2L211.5,251.5M185.8,297.1L198.7,272.4M178.1,312.4L189.7,286M178.1,320L191.2,294.5M124.6,342.9L145.7,323.9M132.2,342.9L152.1,321.7M147.5,342.9L168.7,324.2M139.9,350.5L162.1,333.6M124.6,358.1L145.8,338.8M132.2,365.7L157.9,352M147.5,365.7L171.8,350.7M162.8,373.3L189.3,361.6M162.8,380.9L188,367.6" fill="none" stroke="#ffc000" stroke-width="1.3"/><path d="M255.4,185.3L250.9,192.2L247.2,186.4zM268.3,189.1L264.7,196.5L260.3,191.2zM235.3,217.5L232.4,225.2L227.6,220.3zM195.5,246.2L193.1,254L188,249.4zM216.2,245.7L214.2,253.7L208.9,249.4zM202.1,265.8L201.7,274L195.6,270.8zM192.7,279.1L192.8,287.4L186.5,284.6zM194.6,287.8L194.2,296.1L188.1,293zM151.3,318.9L148,326.5L143.4,321.3zM157.2,316.3L154.6,324.1L149.5,319.4zM174.3,319.3L171,326.8L166.4,321.7zM168.1,329.1L164.2,336.4L160.1,330.9zM151.4,333.8L148.2,341.4L143.5,336.3zM164.5,348.5L159.5,355L156.2,349zM178.2,346.7L173.7,353.6L170,347.7zM196.2,358.6L190.7,364.8L187.9,358.5zM194.7,364.1L189.6,370.6L186.4,364.5z" fill="#ffc000" stroke="#ffc000" stroke-width="0.5" stroke-linejoin="miter"/><path d="M246.9,197.4L274.8,180.7M231.6,212.8L258.6,195.5M216.3,220.5L244.2,202.4M193.4,235.8L217.3,216.4M185.8,243.5L207.5,219.7M185.8,289.5L205.7,262.7M162.8,297.1L181.5,270.8M155.2,327.7L169.1,298.2M155.2,335.3L173,309.7M170.5,335.3L187.3,307.4M155.2,342.9L175.3,321M170.5,342.9L194.3,325.5M147.5,358.1L169.7,338.1M155.2,358.1L175.5,336.8M139.9,365.7L164.5,348.8M155.2,365.7L177.3,345.6M162.8,365.7L187.5,349.4M170.5,365.7L195.7,349.5M170.5,373.3L194.4,356" fill="none" stroke="#ff9000" stroke-width="1.3"/><path d="M281.2,176.8L276.5,183.6L273,177.7zM264.9,191.4L260.5,198.4L256.8,192.6zM250.5,198.3L246,205.3L242.3,199.5zM223.2,211.7L219.5,219.1L215.2,213.8zM212.6,214.2L210,222L204.9,217.4zM210.2,256.7L208.5,264.8L202.9,260.7zM185.9,264.6L184.3,272.8L178.7,268.8zM172.3,291.4L172.2,299.7L166,296.7zM177.3,303.5L175.8,311.6L170.2,307.7zM191.2,301L190.3,309.2L184.4,305.6zM180.4,315.4L177.8,323.3L172.7,318.6zM200.3,321.1L196.3,328.3L192.2,322.7zM175.2,333L172,340.6L167.4,335.5zM180.6,331.3L178,339.1L173,334.4zM170.6,344.5L166.4,351.6L162.5,345.9zM182.8,340.6L179.6,348.2L174.9,343.1zM193.7,345.3L189.4,352.3L185.6,346.6zM202,345.4L197.6,352.4L193.9,346.6zM200.5,351.6L196.4,358.8L192.4,353.2z" fill="#ff9000" stroke="#ff9000" stroke-width="0.5" stroke-linejoin="miter"/><path d="M231.6,205.1L258.2,183.6M216.3,228.2L244.1,204.9M201,235.8L227.8,211.6M216.3,235.8L241.8,210.2M185.8,251.2L211.2,225.6M178.1,342.9L200.4,322.6M132.2,350.5L157.4,333.9M155.2,350.5L176.7,328.2M170.5,350.5L193.3,330.2M178.1,350.5L202.7,331.6M132.2,358.1L155.9,339.3M162.8,358.1L184.5,335.9M178.1,365.7L203,347.8M155.2,373.3L182.2,359.4M170.5,380.9L198.7,369" fill="none" stroke="#ff6000" stroke-width="1.3"/><path d="M264,178.8L260.4,186.2L256,180.9zM249.9,200L246.3,207.5L241.9,202.2zM233.3,206.5L230.1,214.1L225.5,209zM247.1,204.8L244.2,212.6L239.3,207.7zM216.5,220.3L213.6,228L208.7,223.2zM205.9,317.5L202.7,325.1L198,320zM163.6,329.8L159.3,336.8L155.5,331zM181.9,322.8L179.2,330.6L174.2,325.8zM198.9,325.2L195.6,332.8L191,327.6zM208.6,327L204.8,334.3L200.6,328.9zM161.8,334.6L158.1,342L153.8,336.6zM189.7,330.5L186.9,338.3L182,333.5zM209.1,343.4L205,350.6L201,345zM188.9,356L183.8,362.5L180.6,356.4zM205.6,366.1L200.1,372.2L197.4,365.8z" fill="#ff6000" stroke="#ff6000" stroke-width="0.5" stroke-linejoin="miter"/><path d="M208.7,220.5L239.7,197.4M224,220.5L251.4,194.3M201,228.2L228.6,201.9M201,251.2L227.1,223.4M185.8,281.8L209.7,250.6M162.8,312.4L175.3,275.4M147.5,350.5L174.2,334.5M162.8,350.5L182.8,325.6M178.1,373.3L205.4,357.3" fill="none" stroke="#ff3000" stroke-width="1.3"/><path d="M245.7,193L241.8,200.2L237.7,194.7zM256.8,189.1L253.8,196.8L249,191.8zM234,196.7L230.9,204.4L226.2,199.4zM232.2,217.9L229.6,225.8L224.5,221.1zM214.3,244.6L212.5,252.7L207,248.5zM177.7,268.3L178.6,276.5L172,274.3zM180.7,330.7L176,337.5L172.5,331.6zM187.5,319.7L185.5,327.7L180.1,323.4zM211.9,353.5L207.2,360.3L203.7,354.3z" fill="#ff3000" stroke="#ff3000" stroke-width="0.5" stroke-linejoin="miter"/><path d="M224,212.8L259.8,190.3M208.7,228.2L241,204.1M185.8,258.9L212.5,227.7M185.8,266.5L213.3,236M170.5,289.5L193.2,256.1M162.8,335.3L187.1,302.7M162.8,342.9L184.7,319M185.8,350.5L212,330.7" fill="none" stroke="#f00000" stroke-width="1.3"/><path d="M266.2,186.4L261.6,193.3L258,187.4zM247,199.6L243.1,206.8L238.9,201.3zM217.4,222L215.2,229.9L209.9,225.4zM218.4,230.4L215.9,238.3L210.8,233.7zM197.4,249.9L196,258L190.3,254.1zM191.6,296.7L189.9,304.8L184.3,300.6zM189.8,313.5L187.3,321.4L182.2,316.7zM218,326.2L214.1,333.5L209.9,328z" fill="#f00000" stroke="#f00000" stroke-width="0.5" stroke-linejoin="miter"/><path d="M201,243.5L235.4,216.1M193.4,251.2L226.3,222.8M178.1,266.5L208.4,231.3M193.4,266.5L220.8,231.4M170.5,281.8L199.4,248.3M162.8,304.8L179,262.9M170.5,304.8L191.9,267.1M178.1,304.8L195.5,263.1M170.5,320L188.8,279.5M170.5,327.7L197.2,289.7M185.8,342.9L210.4,320.5M170.5,358.1L197.8,339.4M178.1,358.1L207.8,342.5" fill="none" stroke="#c00000" stroke-width="1.3"/><path d="M241.2,211.4L237.5,218.8L233.2,213.4zM232,217.9L228.6,225.4L224.1,220.2zM213.3,225.6L211,233.5L205.8,229zM225.4,225.5L223.5,233.6L218.1,229.3zM204.3,242.6L202.1,250.5L196.8,246zM181.7,255.9L182.2,264.2L175.7,261.7zM195.6,260.6L194.9,268.8L188.9,265.4zM198.3,256.1L198.6,264.4L192.3,261.7zM191.8,272.7L191.9,280.9L185.6,278.1zM201.5,283.6L200,291.7L194.4,287.7zM215.9,315.5L212.7,323.1L208.1,318zM204,335.2L199.7,342.2L195.8,336.5zM214.5,339L209.4,345.5L206.2,339.4z" fill="#c00000" stroke="#c00000" stroke-width="0.5" stroke-linejoin="miter"/><path d="M208.7,235.8L240.7,202.1M193.4,243.5L228.2,212.7M178.1,274.2L207.5,238.2M185.8,274.2L212,235.8M178.1,281.8L208,246.2M178.1,289.5L200.2,248.6M170.5,297.1L191.1,255.5M178.1,297.1L199.9,256.1M170.5,312.4L186.8,268.9M162.8,320L186.8,280.2M162.8,327.7L186.2,287.4" fill="none" stroke="#900000" stroke-width="1.3"/><path d="M245.9,196.7L243.2,204.5L238.2,199.8zM233.8,207.7L230.5,215.3L225.9,210.1zM212.3,232.4L210.2,240.4L204.9,236zM216.2,229.6L214.8,237.7L209.1,233.9zM212.8,240.5L210.6,248.4L205.3,244zM203.8,242L203.3,250.2L197.2,247zM194.4,248.7L194.2,257L188,253.9zM203.5,249.5L203,257.7L196.9,254.5zM189.4,261.8L190,270.1L183.5,267.6zM190.7,273.8L189.7,282L183.8,278.4zM189.9,281L189.1,289.2L183.2,285.7z" fill="#900000" stroke="#900000" stroke-width="0.5" stroke-linejoin="miter"/><path d="M90.3,377.6L80.5,403M98.3,387.6L90.7,414" stroke="#8c0000" stroke-width="1.6" fill="none"/><path d="M78.5,409l1,-11l6.4,2.4zM88.8,420l1,-11l6.4,2.4z" fill="#8c0000"/><path d="M215,0.6L212,26.6L203,56.6L199,86.6L195,116.6L193,148.6L190,156.6L187,176.6L195,196.6L193,216.6L181,236.6L171,251.6L183,233.6L169,251.6L155,273.6L135,283.6L115,307.6L107,321.6L85,353.6L65,377.6L45,401.6L21,426.6" stroke="#000" stroke-width="0.9" fill="none"/><text x="191" y="132.1" font-size="14.5" text-anchor="middle" transform="rotate(-86 191 127)">00</text><text x="99" y="333.1" font-size="14.5" text-anchor="middle" transform="rotate(-58 99 328)">00</text>
<use href="#star" x="66.8" y="46.6"/>
<use href="#star" x="104.8" y="157.1"/>
<use href="#star" x="114.3" y="250.1"/>
<use href="#star" x="62.8" y="271.6"/>
<use href="#star" x="10.3" y="320.6"/>
<rect x="10" y="16" width="112.8" height="24.7" fill="url(#jet)" stroke="#262626" stroke-width="1.3"/>
</g>
<path d="M58,427.5v-3.2M58,0v3.2M116,427.5v-3.2M116,0v3.2M173.9,427.5v-3.2M173.9,0v3.2M231.9,427.5v-3.2M231.9,0v3.2M289.9,427.5v-3.2M289.9,0v3.2M0,72.4h3.2M347.9,72.4h-3.2M0,144.3h3.2M347.9,144.3h-3.2M0,215.7h3.2M347.9,215.7h-3.2M0,286.8h3.2M347.9,286.8h-3.2M0,357.3h3.2M347.9,357.3h-3.2" stroke="#000" stroke-width="1" fill="none"/>
<rect x="0" y="0" width="347.9" height="427.5" fill="none" stroke="#000" stroke-width="1.1"/>
</g>
<g transform="translate(458.5,142.4)">
<rect x="0" y="0" width="347.9" height="427.5" fill="#fff"/>
<g clip-path="url(#ax)">
<path d="M58,0V427.5M116,0V427.5M173.9,0V427.5M231.9,0V427.5M289.9,0V427.5M0,72.4H347.9M0,144.3H347.9M0,215.7H347.9M0,286.8H347.9M0,357.3H347.9" stroke="#bcbcbc" stroke-width="1" stroke-dasharray="2.6,5.8" fill="none"/>
<g shape-rendering="crispEdges"><path fill="#0000d4" d="M113.1,14.8H121.1V22.9H113.1zM120.8,14.8H128.7V22.9H120.8zM128.4,14.8H136.4V22.9H128.4zM136.1,14.8H144V22.9H136.1zM143.7,14.8H151.7V22.9H143.7zM151.4,14.8H159.3V22.9H151.4zM105.5,22.6H113.4V30.7H105.5zM113.1,22.6H121.1V30.7H113.1zM120.8,22.6H128.7V30.7H120.8zM128.4,22.6H136.4V30.7H128.4zM136.1,22.6H144V30.7H136.1zM143.7,22.6H151.7V30.7H143.7zM151.4,22.6H159.3V30.7H151.4zM159,22.6H166.9V30.7H159zM97.8,30.4H105.8V38.5H97.8zM105.5,30.4H113.4V38.5H105.5zM113.1,30.4H121.1V38.5H113.1zM120.8,30.4H128.7V38.5H120.8zM128.4,30.4H136.4V38.5H128.4zM136.1,30.4H144V38.5H136.1zM143.7,30.4H151.7V38.5H143.7zM151.4,30.4H159.3V38.5H151.4zM159,30.4H166.9V38.5H159zM97.8,38.2H105.8V46.3H97.8zM105.5,38.2H113.4V46.3H105.5zM113.1,38.2H121.1V46.3H113.1zM120.8,38.2H128.7V46.3H120.8zM128.4,38.2H136.4V46.3H128.4zM136.1,38.2H144V46.3H136.1zM143.7,38.2H151.7V46.3H143.7zM151.4,38.2H159.3V46.3H151.4zM159,38.2H166.9V46.3H159zM97.8,46H105.8V54.2H97.8zM105.5,46H113.4V54.2H105.5zM113.1,46H121.1V54.2H113.1zM120.8,46H128.7V54.2H120.8zM128.4,46H136.4V54.2H128.4zM136.1,46H144V54.2H136.1zM143.7,46H151.7V54.2H143.7zM151.4,46H159.3V54.2H151.4zM159,46H166.9V54.2H159zM105.5,53.9H113.4V62H105.5zM113.1,53.9H121.1V62H113.1zM120.8,53.9H128.7V62H120.8zM128.4,53.9H136.4V62H128.4zM136.1,53.9H144V62H136.1zM143.7,53.9H151.7V62H143.7zM151.4,53.9H159.3V62H151.4zM159,53.9H166.9V62H159zM113.1,61.7H121.1V69.8H113.1zM120.8,61.7H128.7V69.8H120.8zM128.4,61.7H136.4V69.8H128.4zM136.1,61.7H144V69.8H136.1zM143.7,61.7H151.7V69.8H143.7zM151.4,61.7H159.3V69.8H151.4zM159,61.7H166.9V69.8H159zM120.8,69.5H128.7V77.6H120.8zM128.4,69.5H136.4V77.6H128.4zM136.1,69.5H144V77.6H136.1zM143.7,69.5H151.7V77.6H143.7zM151.4,69.5H159.3V77.6H151.4zM159,69.5H166.9V77.6H159zM120.8,77.3H128.7V85.3H120.8zM128.4,77.3H136.4V85.3H128.4zM136.1,77.3H144V85.3H136.1zM143.7,77.3H151.7V85.3H143.7zM151.4,77.3H159.3V85.3H151.4zM159,77.3H166.9V85.3H159zM128.4,85H136.4V93.1H128.4zM136.1,85H144V93.1H136.1zM143.7,85H151.7V93.1H143.7zM151.4,85H159.3V93.1H151.4zM159,85H166.9V93.1H159zM128.4,92.8H136.4V100.9H128.4zM136.1,92.8H144V100.9H136.1zM143.7,92.8H151.7V100.9H143.7zM151.4,92.8H159.3V100.9H151.4zM159,92.8H166.9V100.9H159zM128.4,100.6H136.4V108.7H128.4zM136.1,100.6H144V108.7H136.1zM143.7,100.6H151.7V108.7H143.7zM151.4,100.6H159.3V108.7H151.4zM159,100.6H166.9V108.7H159zM128.4,108.4H136.4V116.4H128.4zM136.1,108.4H144V116.4H136.1zM143.7,108.4H151.7V116.4H143.7zM151.4,108.4H159.3V116.4H151.4zM128.4,116.1H136.4V124.2H128.4zM136.1,116.1H144V124.2H136.1zM143.7,116.1H151.7V124.2H143.7zM151.4,116.1H159.3V124.2H151.4zM128.4,147.2H136.4V155.2H128.4zM136.1,147.2H144V155.2H136.1zM143.7,147.2H151.7V155.2H143.7zM151.4,147.2H159.3V155.2H151.4zM128.4,154.9H136.4V162.9H128.4zM136.1,154.9H144V162.9H136.1zM143.7,154.9H151.7V162.9H143.7zM151.4,154.9H159.3V162.9H151.4zM159,154.9H166.9V162.9H159zM136.1,162.6H144V170.7H136.1zM143.7,162.6H151.7V170.7H143.7zM151.4,162.6H159.3V170.7H151.4zM159,162.6H166.9V170.7H159zM166.6,162.6H174.6V170.7H166.6zM136.1,170.4H144V178.4H136.1zM143.7,170.4H151.7V178.4H143.7zM151.4,170.4H159.3V178.4H151.4zM159,170.4H166.9V178.4H159zM166.6,170.4H174.6V178.4H166.6zM174.3,170.4H182.2V178.4H174.3zM136.1,178.1H144V186.1H136.1zM143.7,178.1H151.7V186.1H143.7zM151.4,178.1H159.3V186.1H151.4zM159,178.1H166.9V186.1H159zM166.6,178.1H174.6V186.1H166.6zM174.3,178.1H182.2V186.1H174.3zM136.1,185.8H144V193.8H136.1zM143.7,185.8H151.7V193.8H143.7zM151.4,185.8H159.3V193.8H151.4zM159,185.8H166.9V193.8H159zM166.6,185.8H174.6V193.8H166.6zM174.3,185.8H182.2V193.8H174.3zM136.1,193.5H144V201.5H136.1zM143.7,193.5H151.7V201.5H143.7zM151.4,193.5H159.3V201.5H151.4zM159,193.5H166.9V201.5H159zM166.6,193.5H174.6V201.5H166.6zM174.3,193.5H182.2V201.5H174.3zM136.1,201.2H144V209.2H136.1zM143.7,201.2H151.7V209.2H143.7zM151.4,201.2H159.3V209.2H151.4zM159,201.2H166.9V209.2H159zM166.6,201.2H174.6V209.2H166.6zM174.3,201.2H182.2V209.2H174.3zM136.1,208.9H144V216.9H136.1zM143.7,208.9H151.7V216.9H143.7zM151.4,208.9H159.3V216.9H151.4zM159,208.9H166.9V216.9H159zM166.6,208.9H174.6V216.9H166.6zM174.3,208.9H182.2V216.9H174.3zM136.1,216.6H144V224.6H136.1zM143.7,216.6H151.7V224.6H143.7zM151.4,216.6H159.3V224.6H151.4zM159,216.6H166.9V224.6H159zM166.6,216.6H174.6V224.6H166.6zM174.3,216.6H182.2V224.6H174.3zM136.1,224.3H144V232.3H136.1zM143.7,224.3H151.7V232.3H143.7zM151.4,224.3H159.3V232.3H151.4zM159,224.3H166.9V232.3H159zM166.6,224.3H174.6V232.3H166.6zM174.3,224.3H182.2V232.3H174.3zM128.4,232H136.4V240H128.4zM136.1,232H144V240H136.1zM143.7,232H151.7V240H143.7zM151.4,232H159.3V240H151.4zM159,232H166.9V240H159zM166.6,232H174.6V240H166.6zM174.3,232H182.2V240H174.3zM120.8,239.7H128.7V247.7H120.8zM128.4,239.7H136.4V247.7H128.4zM136.1,239.7H144V247.7H136.1zM143.7,239.7H151.7V247.7H143.7zM151.4,239.7H159.3V247.7H151.4zM159,239.7H166.9V247.7H159zM166.6,239.7H174.6V247.7H166.6zM120.8,247.4H128.7V255.3H120.8zM128.4,247.4H136.4V255.3H128.4zM136.1,247.4H144V255.3H136.1zM113.1,255H121.1V263H113.1zM120.8,255H128.7V263H120.8zM128.4,255H136.4V263H128.4zM136.1,255H144V263H136.1zM143.7,255H151.7V263H143.7zM113.1,262.7H121.1V270.7H113.1zM120.8,262.7H128.7V270.7H120.8zM128.4,262.7H136.4V270.7H128.4zM136.1,262.7H144V270.7H136.1zM143.7,262.7H151.7V270.7H143.7zM113.1,270.4H121.1V278.3H113.1zM120.8,270.4H128.7V278.3H120.8zM128.4,270.4H136.4V278.3H128.4zM136.1,270.4H144V278.3H136.1zM143.7,270.4H151.7V278.3H143.7zM113.1,278H121.1V286H113.1zM120.8,278H128.7V286H120.8zM128.4,278H136.4V286H128.4zM136.1,278H144V286H136.1zM143.7,278H151.7V286H143.7zM113.1,285.7H121.1V293.6H113.1zM120.8,285.7H128.7V293.6H120.8zM128.4,285.7H136.4V293.6H128.4zM136.1,285.7H144V293.6H136.1zM143.7,285.7H151.7V293.6H143.7zM59.6,293.3H67.6V301.3H59.6zM67.3,293.3H75.2V301.3H67.3zM74.9,293.3H82.8V301.3H74.9zM82.5,293.3H90.5V301.3H82.5zM113.1,293.3H121.1V301.3H113.1zM120.8,293.3H128.7V301.3H120.8zM128.4,293.3H136.4V301.3H128.4zM136.1,293.3H144V301.3H136.1zM143.7,293.3H151.7V301.3H143.7zM52,301H59.9V308.9H52zM59.6,301H67.6V308.9H59.6zM67.3,301H75.2V308.9H67.3zM74.9,301H82.8V308.9H74.9zM82.5,301H90.5V308.9H82.5zM113.1,301H121.1V308.9H113.1zM120.8,301H128.7V308.9H120.8zM128.4,301H136.4V308.9H128.4zM136.1,301H144V308.9H136.1zM143.7,301H151.7V308.9H143.7zM44.3,308.6H52.3V316.5H44.3zM52,308.6H59.9V316.5H52zM59.6,308.6H67.6V316.5H59.6zM67.3,308.6H75.2V316.5H67.3zM74.9,308.6H82.8V316.5H74.9zM82.5,308.6H90.5V316.5H82.5zM113.1,308.6H121.1V316.5H113.1zM120.8,308.6H128.7V316.5H120.8zM128.4,308.6H136.4V316.5H128.4zM136.1,308.6H144V316.5H136.1zM143.7,308.6H151.7V316.5H143.7zM113.1,316.2H121.1V324.2H113.1zM120.8,316.2H128.7V324.2H120.8zM128.4,316.2H136.4V324.2H128.4zM136.1,316.2H144V324.2H136.1zM143.7,316.2H151.7V324.2H143.7zM113.1,323.9H121.1V331.8H113.1zM120.8,323.9H128.7V331.8H120.8zM128.4,323.9H136.4V331.8H128.4zM136.1,323.9H144V331.8H136.1zM143.7,323.9H151.7V331.8H143.7zM113.1,331.5H121.1V339.4H113.1zM120.8,331.5H128.7V339.4H120.8zM128.4,331.5H136.4V339.4H128.4zM136.1,331.5H144V339.4H136.1zM113.1,339.1H121.1V347H113.1zM120.8,339.1H128.7V347H120.8zM128.4,339.1H136.4V347H128.4zM136.1,339.1H144V347H136.1zM113.1,346.7H121.1V354.6H113.1zM120.8,346.7H128.7V354.6H120.8zM128.4,346.7H136.4V354.6H128.4zM136.1,346.7H144V354.6H136.1zM113.1,354.3H121.1V362.2H113.1zM120.8,354.3H128.7V362.2H120.8zM128.4,354.3H136.4V362.2H128.4zM136.1,354.3H144V362.2H136.1z"/><path fill="#0000ea" d="M105.5,-0.9H113.4V7.2H105.5zM113.1,-0.9H121.1V7.2H113.1zM120.8,-0.9H128.7V7.2H120.8zM128.4,-0.9H136.4V7.2H128.4zM136.1,-0.9H144V7.2H136.1zM143.7,-0.9H151.7V7.2H143.7zM151.4,-0.9H159.3V7.2H151.4zM90.2,6.9H98.1V15.1H90.2zM97.8,6.9H105.8V15.1H97.8zM105.5,6.9H113.4V15.1H105.5zM113.1,6.9H121.1V15.1H113.1zM120.8,6.9H128.7V15.1H120.8zM128.4,6.9H136.4V15.1H128.4zM136.1,6.9H144V15.1H136.1zM143.7,6.9H151.7V15.1H143.7zM151.4,6.9H159.3V15.1H151.4zM159,6.9H166.9V15.1H159zM166.6,6.9H174.6V15.1H166.6zM74.9,14.8H82.8V22.9H74.9zM82.5,14.8H90.5V22.9H82.5zM90.2,14.8H98.1V22.9H90.2zM105.5,14.8H113.4V22.9H105.5zM159,14.8H166.9V22.9H159zM166.6,14.8H174.6V22.9H166.6zM74.9,22.6H82.8V30.7H74.9zM82.5,22.6H90.5V30.7H82.5zM90.2,22.6H98.1V30.7H90.2zM97.8,22.6H105.8V30.7H97.8zM166.6,22.6H174.6V30.7H166.6zM174.3,22.6H182.2V30.7H174.3zM74.9,30.4H82.8V38.5H74.9zM82.5,30.4H90.5V38.5H82.5zM90.2,30.4H98.1V38.5H90.2zM166.6,30.4H174.6V38.5H166.6zM74.9,38.2H82.8V46.3H74.9zM82.5,38.2H90.5V46.3H82.5zM90.2,38.2H98.1V46.3H90.2zM166.6,38.2H174.6V46.3H166.6zM74.9,46H82.8V54.2H74.9zM82.5,46H90.5V54.2H82.5zM90.2,46H98.1V54.2H90.2zM166.6,46H174.6V54.2H166.6zM90.2,53.9H98.1V62H90.2zM97.8,53.9H105.8V62H97.8zM166.6,53.9H174.6V62H166.6zM97.8,61.7H105.8V69.8H97.8zM105.5,61.7H113.4V69.8H105.5zM166.6,61.7H174.6V69.8H166.6zM105.5,69.5H113.4V77.6H105.5zM113.1,69.5H121.1V77.6H113.1zM166.6,69.5H174.6V77.6H166.6zM105.5,77.3H113.4V85.3H105.5zM113.1,77.3H121.1V85.3H113.1zM166.6,77.3H174.6V85.3H166.6zM113.1,85H121.1V93.1H113.1zM120.8,85H128.7V93.1H120.8zM166.6,85H174.6V93.1H166.6zM113.1,92.8H121.1V100.9H113.1zM120.8,92.8H128.7V100.9H120.8zM166.6,92.8H174.6V100.9H166.6zM113.1,100.6H121.1V108.7H113.1zM120.8,100.6H128.7V108.7H120.8zM166.6,100.6H174.6V108.7H166.6zM120.8,108.4H128.7V116.4H120.8zM159,108.4H166.9V116.4H159zM120.8,116.1H128.7V124.2H120.8zM159,116.1H166.9V124.2H159zM128.4,123.9H136.4V132H128.4zM136.1,123.9H144V132H136.1zM143.7,123.9H151.7V132H143.7zM151.4,123.9H159.3V132H151.4zM120.8,131.7H128.7V139.7H120.8zM128.4,131.7H136.4V139.7H128.4zM136.1,131.7H144V139.7H136.1zM143.7,131.7H151.7V139.7H143.7zM120.8,139.4H128.7V147.5H120.8zM128.4,139.4H136.4V147.5H128.4zM136.1,139.4H144V147.5H136.1zM143.7,139.4H151.7V147.5H143.7zM151.4,139.4H159.3V147.5H151.4zM159,139.4H166.9V147.5H159zM166.6,139.4H174.6V147.5H166.6zM120.8,147.2H128.7V155.2H120.8zM159,147.2H166.9V155.2H159zM166.6,147.2H174.6V155.2H166.6zM174.3,147.2H182.2V155.2H174.3zM120.8,154.9H128.7V162.9H120.8zM166.6,154.9H174.6V162.9H166.6zM174.3,154.9H182.2V162.9H174.3zM181.9,154.9H189.9V162.9H181.9zM128.4,162.6H136.4V170.7H128.4zM174.3,162.6H182.2V170.7H174.3zM181.9,162.6H189.9V170.7H181.9zM189.6,162.6H197.5V170.7H189.6zM128.4,170.4H136.4V178.4H128.4zM181.9,170.4H189.9V178.4H181.9zM189.6,170.4H197.5V178.4H189.6zM128.4,178.1H136.4V186.1H128.4zM181.9,178.1H189.9V186.1H181.9zM189.6,178.1H197.5V186.1H189.6zM128.4,185.8H136.4V193.8H128.4zM181.9,185.8H189.9V193.8H181.9zM189.6,185.8H197.5V193.8H189.6zM128.4,193.5H136.4V201.5H128.4zM181.9,193.5H189.9V201.5H181.9zM189.6,193.5H197.5V201.5H189.6zM128.4,201.2H136.4V209.2H128.4zM181.9,201.2H189.9V209.2H181.9zM189.6,201.2H197.5V209.2H189.6zM128.4,208.9H136.4V216.9H128.4zM181.9,208.9H189.9V216.9H181.9zM189.6,208.9H197.5V216.9H189.6zM128.4,216.6H136.4V224.6H128.4zM181.9,216.6H189.9V224.6H181.9zM189.6,216.6H197.5V224.6H189.6zM197.2,216.6H205.2V224.6H197.2zM128.4,224.3H136.4V232.3H128.4zM181.9,224.3H189.9V232.3H181.9zM189.6,224.3H197.5V232.3H189.6zM197.2,224.3H205.2V232.3H197.2zM120.8,232H128.7V240H120.8zM181.9,232H189.9V240H181.9zM189.6,232H197.5V240H189.6zM174.3,239.7H182.2V247.7H174.3zM181.9,239.7H189.9V247.7H181.9zM189.6,239.7H197.5V247.7H189.6zM143.7,247.4H151.7V255.3H143.7zM151.4,247.4H159.3V255.3H151.4zM159,247.4H166.9V255.3H159zM166.6,247.4H174.6V255.3H166.6zM174.3,247.4H182.2V255.3H174.3zM105.5,255H113.4V263H105.5zM151.4,255H159.3V263H151.4zM159,255H166.9V263H159zM166.6,255H174.6V263H166.6zM105.5,262.7H113.4V270.7H105.5zM151.4,262.7H159.3V270.7H151.4zM159,262.7H166.9V270.7H159zM67.3,270.4H75.2V278.3H67.3zM74.9,270.4H82.8V278.3H74.9zM82.5,270.4H90.5V278.3H82.5zM90.2,270.4H98.1V278.3H90.2zM105.5,270.4H113.4V278.3H105.5zM151.4,270.4H159.3V278.3H151.4zM159,270.4H166.9V278.3H159zM59.6,278H67.6V286H59.6zM67.3,278H75.2V286H67.3zM74.9,278H82.8V286H74.9zM82.5,278H90.5V286H82.5zM90.2,278H98.1V286H90.2zM105.5,278H113.4V286H105.5zM151.4,278H159.3V286H151.4zM159,278H166.9V286H159zM52,285.7H59.9V293.6H52zM59.6,285.7H67.6V293.6H59.6zM67.3,285.7H75.2V293.6H67.3zM74.9,285.7H82.8V293.6H74.9zM82.5,285.7H90.5V293.6H82.5zM90.2,285.7H98.1V293.6H90.2zM105.5,285.7H113.4V293.6H105.5zM151.4,285.7H159.3V293.6H151.4zM159,285.7H166.9V293.6H159zM44.3,293.3H52.3V301.3H44.3zM52,293.3H59.9V301.3H52zM90.2,293.3H98.1V301.3H90.2zM105.5,293.3H113.4V301.3H105.5zM151.4,293.3H159.3V301.3H151.4zM159,293.3H166.9V301.3H159zM36.7,301H44.6V308.9H36.7zM44.3,301H52.3V308.9H44.3zM90.2,301H98.1V308.9H90.2zM105.5,301H113.4V308.9H105.5zM151.4,301H159.3V308.9H151.4zM159,301H166.9V308.9H159zM166.6,301H174.6V308.9H166.6zM29,308.6H37V316.5H29zM36.7,308.6H44.6V316.5H36.7zM90.2,308.6H98.1V316.5H90.2zM97.8,308.6H105.8V316.5H97.8zM105.5,308.6H113.4V316.5H105.5zM151.4,308.6H159.3V316.5H151.4zM159,308.6H166.9V316.5H159zM166.6,308.6H174.6V316.5H166.6zM21.4,316.2H29.3V324.2H21.4zM29,316.2H37V324.2H29zM36.7,316.2H44.6V324.2H36.7zM44.3,316.2H52.3V324.2H44.3zM52,316.2H59.9V324.2H52zM59.6,316.2H67.6V324.2H59.6zM67.3,316.2H75.2V324.2H67.3zM74.9,316.2H82.8V324.2H74.9zM82.5,316.2H90.5V324.2H82.5zM97.8,316.2H105.8V324.2H97.8zM105.5,316.2H113.4V324.2H105.5zM151.4,316.2H159.3V324.2H151.4zM159,316.2H166.9V324.2H159zM166.6,316.2H174.6V324.2H166.6zM21.4,323.9H29.3V331.8H21.4zM29,323.9H37V331.8H29zM36.7,323.9H44.6V331.8H36.7zM44.3,323.9H52.3V331.8H44.3zM52,323.9H59.9V331.8H52zM59.6,323.9H67.6V331.8H59.6zM67.3,323.9H75.2V331.8H67.3zM74.9,323.9H82.8V331.8H74.9zM97.8,323.9H105.8V331.8H97.8zM151.4,323.9H159.3V331.8H151.4zM159,323.9H166.9V331.8H159zM29,331.5H37V339.4H29zM36.7,331.5H44.6V339.4H36.7zM44.3,331.5H52.3V339.4H44.3zM52,331.5H59.9V339.4H52zM59.6,331.5H67.6V339.4H59.6zM97.8,331.5H105.8V339.4H97.8zM105.5,331.5H113.4V339.4H105.5zM143.7,331.5H151.7V339.4H143.7zM151.4,331.5H159.3V339.4H151.4zM97.8,339.1H105.8V347H97.8zM105.5,339.1H113.4V347H105.5zM143.7,339.1H151.7V347H143.7zM97.8,346.7H105.8V354.6H97.8zM105.5,346.7H113.4V354.6H105.5zM143.7,346.7H151.7V354.6H143.7zM97.8,354.3H105.8V362.2H97.8zM105.5,354.3H113.4V362.2H105.5zM143.7,354.3H151.7V362.2H143.7zM97.8,361.9H105.8V369.8H97.8zM105.5,361.9H113.4V369.8H105.5zM113.1,361.9H121.1V369.8H113.1zM120.8,361.9H128.7V369.8H120.8zM128.4,361.9H136.4V369.8H128.4zM136.1,361.9H144V369.8H136.1zM143.7,361.9H151.7V369.8H143.7zM105.5,369.5H113.4V377.4H105.5zM113.1,369.5H121.1V377.4H113.1zM120.8,369.5H128.7V377.4H120.8zM128.4,369.5H136.4V377.4H128.4zM136.1,369.5H144V377.4H136.1zM143.7,369.5H151.7V377.4H143.7zM113.1,377.1H121.1V385H113.1zM120.8,377.1H128.7V385H120.8zM128.4,377.1H136.4V385H128.4zM136.1,377.1H144V385H136.1zM120.8,384.7H128.7V392.6H120.8zM128.4,384.7H136.4V392.6H128.4zM136.1,384.7H144V392.6H136.1zM128.4,392.3H136.4V400.1H128.4zM136.1,392.3H144V400.1H136.1z"/><path fill="#0000ff" d="M97.8,14.8H105.8V22.9H97.8zM82.5,262.7H90.5V270.7H82.5zM105.5,323.9H113.4V331.8H105.5zM21.4,331.5H29.3V339.4H21.4z"/><path fill="#0015ff" d="M90.2,-0.9H98.1V7.2H90.2zM97.8,-0.9H105.8V7.2H97.8zM82.5,6.9H90.5V15.1H82.5zM174.3,38.2H182.2V46.3H174.3zM181.9,46H189.9V54.2H181.9zM174.3,61.7H182.2V69.8H174.3zM174.3,69.5H182.2V77.6H174.3zM174.3,100.6H182.2V108.7H174.3zM181.9,116.1H189.9V124.2H181.9zM189.6,116.1H197.5V124.2H189.6zM212.5,123.9H220.5V132H212.5zM166.6,131.7H174.6V139.7H166.6zM220.2,147.2H228.1V155.2H220.2zM212.5,154.9H220.5V162.9H212.5zM197.2,162.6H205.2V170.7H197.2zM204.9,162.6H212.8V170.7H204.9zM212.5,216.6H220.5V224.6H212.5zM212.5,232H220.5V240H212.5zM174.3,255H182.2V263H174.3zM174.3,262.7H182.2V270.7H174.3zM174.3,316.2H182.2V324.2H174.3zM166.6,323.9H174.6V331.8H166.6zM174.3,323.9H182.2V331.8H174.3zM13.7,339.1H21.7V347H13.7zM44.3,339.1H52.3V347H44.3zM181.9,339.1H189.9V347H181.9zM151.4,354.3H159.3V362.2H151.4z"/><path fill="#002aff" d="M159,-0.9H166.9V7.2H159zM166.6,-0.9H174.6V7.2H166.6zM174.3,-0.9H182.2V7.2H174.3zM181.9,6.9H189.9V15.1H181.9zM181.9,14.8H189.9V22.9H181.9zM181.9,22.6H189.9V30.7H181.9zM181.9,30.4H189.9V38.5H181.9zM174.3,46H182.2V54.2H174.3zM82.5,53.9H90.5V62H82.5zM174.3,53.9H182.2V62H174.3zM181.9,53.9H189.9V62H181.9zM90.2,69.5H98.1V77.6H90.2zM97.8,77.3H105.8V85.3H97.8zM105.5,85H113.4V93.1H105.5zM174.3,85H182.2V93.1H174.3zM105.5,92.8H113.4V100.9H105.5zM113.1,108.4H121.1V116.4H113.1zM166.6,108.4H174.6V116.4H166.6zM189.6,108.4H197.5V116.4H189.6zM166.6,116.1H174.6V124.2H166.6zM197.2,116.1H205.2V124.2H197.2zM212.5,116.1H220.5V124.2H212.5zM120.8,123.9H128.7V132H120.8zM174.3,123.9H182.2V132H174.3zM181.9,123.9H189.9V132H181.9zM189.6,123.9H197.5V132H189.6zM197.2,123.9H205.2V132H197.2zM204.9,123.9H212.8V132H204.9zM220.2,123.9H228.1V132H220.2zM151.4,131.7H159.3V139.7H151.4zM174.3,131.7H182.2V139.7H174.3zM181.9,131.7H189.9V139.7H181.9zM189.6,131.7H197.5V139.7H189.6zM212.5,131.7H220.5V139.7H212.5zM220.2,131.7H228.1V139.7H220.2zM227.8,131.7H235.8V139.7H227.8zM235.4,131.7H243.4V139.7H235.4zM174.3,139.4H182.2V147.5H174.3zM181.9,139.4H189.9V147.5H181.9zM189.6,139.4H197.5V147.5H189.6zM197.2,139.4H205.2V147.5H197.2zM204.9,139.4H212.8V147.5H204.9zM220.2,139.4H228.1V147.5H220.2zM235.4,139.4H243.4V147.5H235.4zM243.1,139.4H251V147.5H243.1zM181.9,147.2H189.9V155.2H181.9zM197.2,147.2H205.2V155.2H197.2zM212.5,147.2H220.5V155.2H212.5zM235.4,147.2H243.4V155.2H235.4zM189.6,154.9H197.5V162.9H189.6zM197.2,154.9H205.2V162.9H197.2zM220.2,154.9H228.1V162.9H220.2zM235.4,154.9H243.4V162.9H235.4zM220.2,162.6H228.1V170.7H220.2zM235.4,162.6H243.4V170.7H235.4zM197.2,170.4H205.2V178.4H197.2zM204.9,170.4H212.8V178.4H204.9zM220.2,170.4H228.1V178.4H220.2zM227.8,170.4H235.8V178.4H227.8zM235.4,170.4H243.4V178.4H235.4zM204.9,178.1H212.8V186.1H204.9zM212.5,178.1H220.5V186.1H212.5zM220.2,178.1H228.1V186.1H220.2zM197.2,185.8H205.2V193.8H197.2zM204.9,185.8H212.8V193.8H204.9zM212.5,185.8H220.5V193.8H212.5zM120.8,193.5H128.7V201.5H120.8zM197.2,193.5H205.2V201.5H197.2zM212.5,193.5H220.5V201.5H212.5zM227.8,193.5H235.8V201.5H227.8zM120.8,201.2H128.7V209.2H120.8zM204.9,201.2H212.8V209.2H204.9zM212.5,201.2H220.5V209.2H212.5zM220.2,201.2H228.1V209.2H220.2zM197.2,208.9H205.2V216.9H197.2zM220.2,208.9H228.1V216.9H220.2zM204.9,216.6H212.8V224.6H204.9zM220.2,216.6H228.1V224.6H220.2zM204.9,224.3H212.8V232.3H204.9zM212.5,224.3H220.5V232.3H212.5zM204.9,232H212.8V240H204.9zM197.2,239.7H205.2V247.7H197.2zM204.9,239.7H212.8V247.7H204.9zM212.5,239.7H220.5V247.7H212.5zM181.9,247.4H189.9V255.3H181.9zM189.6,247.4H197.5V255.3H189.6zM166.6,262.7H174.6V270.7H166.6zM174.3,270.4H182.2V278.3H174.3zM97.8,278H105.8V286H97.8zM174.3,278H182.2V286H174.3zM166.6,285.7H174.6V293.6H166.6zM97.8,293.3H105.8V301.3H97.8zM174.3,293.3H182.2V301.3H174.3zM97.8,301H105.8V308.9H97.8zM181.9,316.2H189.9V324.2H181.9zM189.6,316.2H197.5V324.2H189.6zM82.5,323.9H90.5V331.8H82.5zM197.2,323.9H205.2V331.8H197.2zM67.3,331.5H75.2V339.4H67.3zM159,331.5H166.9V339.4H159zM166.6,331.5H174.6V339.4H166.6zM21.4,339.1H29.3V347H21.4zM59.6,339.1H67.6V347H59.6zM159,339.1H166.9V347H159zM166.6,339.1H174.6V347H166.6zM189.6,339.1H197.5V347H189.6zM197.2,339.1H205.2V347H197.2zM44.3,346.7H52.3V354.6H44.3zM59.6,346.7H67.6V354.6H59.6zM151.4,346.7H159.3V354.6H151.4zM151.4,361.9H159.3V369.8H151.4zM97.8,369.5H105.8V377.4H97.8zM113.1,384.7H121.1V392.6H113.1zM120.8,392.3H128.7V400.1H120.8zM143.7,392.3H151.7V400.1H143.7zM120.8,399.8H128.7V407.7H120.8zM128.4,399.8H136.4V407.7H128.4zM136.1,399.8H144V407.7H136.1zM143.7,399.8H151.7V407.7H143.7zM128.4,407.4H136.4V415.3H128.4zM136.1,407.4H144V415.3H136.1z"/><path fill="#0040ff" d="M174.3,6.9H182.2V15.1H174.3zM174.3,14.8H182.2V22.9H174.3zM174.3,30.4H182.2V38.5H174.3zM181.9,38.2H189.9V46.3H181.9zM90.2,61.7H98.1V69.8H90.2zM97.8,69.5H105.8V77.6H97.8zM174.3,77.3H182.2V85.3H174.3zM97.8,85H105.8V93.1H97.8zM174.3,92.8H182.2V100.9H174.3zM105.5,100.6H113.4V108.7H105.5zM174.3,108.4H182.2V116.4H174.3zM181.9,108.4H189.9V116.4H181.9zM197.2,108.4H205.2V116.4H197.2zM113.1,116.1H121.1V124.2H113.1zM174.3,116.1H182.2V124.2H174.3zM204.9,116.1H212.8V124.2H204.9zM166.6,123.9H174.6V132H166.6zM197.2,131.7H205.2V139.7H197.2zM204.9,131.7H212.8V139.7H204.9zM212.5,139.4H220.5V147.5H212.5zM227.8,139.4H235.8V147.5H227.8zM189.6,147.2H197.5V155.2H189.6zM204.9,147.2H212.8V155.2H204.9zM243.1,147.2H251V155.2H243.1zM204.9,154.9H212.8V162.9H204.9zM227.8,154.9H235.8V162.9H227.8zM212.5,162.6H220.5V170.7H212.5zM227.8,162.6H235.8V170.7H227.8zM120.8,170.4H128.7V178.4H120.8zM212.5,170.4H220.5V178.4H212.5zM197.2,178.1H205.2V186.1H197.2zM227.8,178.1H235.8V186.1H227.8zM235.4,178.1H243.4V186.1H235.4zM220.2,185.8H228.1V193.8H220.2zM227.8,185.8H235.8V193.8H227.8zM235.4,185.8H243.4V193.8H235.4zM204.9,193.5H212.8V201.5H204.9zM220.2,193.5H228.1V201.5H220.2zM197.2,201.2H205.2V209.2H197.2zM204.9,208.9H212.8V216.9H204.9zM212.5,208.9H220.5V216.9H212.5zM197.2,232H205.2V240H197.2zM90.2,262.7H98.1V270.7H90.2zM97.8,270.4H105.8V278.3H97.8zM166.6,270.4H174.6V278.3H166.6zM166.6,278H174.6V286H166.6zM97.8,285.7H105.8V293.6H97.8zM174.3,285.7H182.2V293.6H174.3zM166.6,293.3H174.6V301.3H166.6zM174.3,301H182.2V308.9H174.3zM174.3,308.6H182.2V316.5H174.3zM90.2,316.2H98.1V324.2H90.2zM181.9,323.9H189.9V331.8H181.9zM189.6,323.9H197.5V331.8H189.6zM13.7,331.5H21.7V339.4H13.7zM174.3,331.5H182.2V339.4H174.3zM181.9,331.5H189.9V339.4H181.9zM189.6,331.5H197.5V339.4H189.6zM197.2,331.5H205.2V339.4H197.2zM36.7,339.1H44.6V347H36.7zM52,339.1H59.9V347H52zM151.4,339.1H159.3V347H151.4zM174.3,339.1H182.2V347H174.3zM52,346.7H59.9V354.6H52zM159,346.7H166.9V354.6H159zM105.5,377.1H113.4V385H105.5zM143.7,377.1H151.7V385H143.7zM143.7,384.7H151.7V392.6H143.7z"/><path fill="#006aff" d="M204.9,38.2H212.8V46.3H204.9zM204.9,108.4H212.8V116.4H204.9zM250.7,154.9H258.7V162.9H250.7zM250.7,162.6H258.7V170.7H250.7zM243.1,170.4H251V178.4H243.1zM250.7,170.4H258.7V178.4H250.7zM120.8,178.1H128.7V186.1H120.8zM289,208.9H296.9V216.9H289zM189.6,262.7H197.5V270.7H189.6zM189.6,285.7H197.5V293.6H189.6zM74.9,331.5H82.8V339.4H74.9zM90.2,331.5H98.1V339.4H90.2zM97.8,377.1H105.8V385H97.8zM159,377.1H166.9V385H159zM105.5,384.7H113.4V392.6H105.5zM113.1,392.3H121.1V400.1H113.1zM151.4,392.3H159.3V400.1H151.4z"/><path fill="#0080ff" d="M189.6,6.9H197.5V15.1H189.6zM204.9,14.8H212.8V22.9H204.9zM189.6,22.6H197.5V30.7H189.6zM197.2,22.6H205.2V30.7H197.2zM189.6,30.4H197.5V38.5H189.6zM212.5,30.4H220.5V38.5H212.5zM181.9,61.7H189.9V69.8H181.9zM212.5,61.7H220.5V69.8H212.5zM197.2,100.6H205.2V108.7H197.2zM220.2,100.6H228.1V108.7H220.2zM227.8,116.1H235.8V124.2H227.8zM235.4,123.9H243.4V132H235.4zM243.1,131.7H251V139.7H243.1zM227.8,147.2H235.8V155.2H227.8zM243.1,178.1H251V186.1H243.1zM243.1,185.8H251V193.8H243.1zM235.4,193.5H243.4V201.5H235.4zM243.1,193.5H251V201.5H243.1zM227.8,201.2H235.8V209.2H227.8zM197.2,247.4H205.2V255.3H197.2zM97.8,262.7H105.8V270.7H97.8zM181.9,262.7H189.9V270.7H181.9zM189.6,270.4H197.5V278.3H189.6zM197.2,270.4H205.2V278.3H197.2zM181.9,278H189.9V286H181.9zM181.9,285.7H189.9V293.6H181.9zM181.9,293.3H189.9V301.3H181.9zM29,339.1H37V347H29zM67.3,339.1H75.2V347H67.3zM21.4,346.7H29.3V354.6H21.4zM90.2,369.5H98.1V377.4H90.2zM151.4,369.5H159.3V377.4H151.4zM159,392.3H166.9V400.1H159zM151.4,399.8H159.3V407.7H151.4zM120.8,407.4H128.7V415.3H120.8zM143.7,407.4H151.7V415.3H143.7z"/><path fill="#0095ff" d="M181.9,-0.9H189.9V7.2H181.9zM204.9,-0.9H212.8V7.2H204.9zM204.9,6.9H212.8V15.1H204.9zM212.5,6.9H220.5V15.1H212.5zM212.5,14.8H220.5V22.9H212.5zM204.9,22.6H212.8V30.7H204.9zM82.5,61.7H90.5V69.8H82.5zM90.2,77.3H98.1V85.3H90.2zM227.8,100.6H235.8V108.7H227.8zM220.2,108.4H228.1V116.4H220.2zM227.8,108.4H235.8V116.4H227.8zM220.2,116.1H228.1V124.2H220.2zM235.4,116.1H243.4V124.2H235.4zM159,123.9H166.9V132H159zM159,131.7H166.9V139.7H159zM250.7,139.4H258.7V147.5H250.7zM243.1,154.9H251V162.9H243.1zM250.7,178.1H258.7V186.1H250.7zM235.4,201.2H243.4V209.2H235.4zM227.8,208.9H235.8V216.9H227.8zM235.4,208.9H243.4V216.9H235.4zM281.3,208.9H289.3V216.9H281.3zM227.8,216.6H235.8V224.6H227.8zM90.2,255H98.1V263H90.2zM97.8,255H105.8V263H97.8zM181.9,255H189.9V263H181.9zM181.9,270.4H189.9V278.3H181.9zM189.6,278H197.5V286H189.6zM181.9,301H189.9V308.9H181.9zM90.2,323.9H98.1V331.8H90.2zM82.5,331.5H90.5V339.4H82.5zM36.7,346.7H44.6V354.6H36.7zM67.3,346.7H75.2V354.6H67.3zM174.3,346.7H182.2V354.6H174.3zM44.3,354.3H52.3V362.2H44.3zM159,354.3H166.9V362.2H159zM166.6,354.3H174.6V362.2H166.6zM174.3,354.3H182.2V362.2H174.3zM151.4,384.7H159.3V392.6H151.4z"/><path fill="#00aaff" d="M82.5,-0.9H90.5V7.2H82.5zM189.6,-0.9H197.5V7.2H189.6zM197.2,-0.9H205.2V7.2H197.2zM197.2,6.9H205.2V15.1H197.2zM189.6,14.8H197.5V22.9H189.6zM197.2,14.8H205.2V22.9H197.2zM97.8,92.8H105.8V100.9H97.8zM189.6,100.6H197.5V108.7H189.6zM212.5,108.4H220.5V116.4H212.5zM227.8,123.9H235.8V132H227.8zM250.7,147.2H258.7V155.2H250.7zM243.1,162.6H251V170.7H243.1zM120.8,224.3H128.7V232.3H120.8zM220.2,224.3H228.1V232.3H220.2zM197.2,262.7H205.2V270.7H197.2zM197.2,285.7H205.2V293.6H197.2zM189.6,293.3H197.5V301.3H189.6zM166.6,346.7H174.6V354.6H166.6zM52,354.3H59.9V362.2H52zM151.4,377.1H159.3V385H151.4zM159,384.7H166.9V392.6H159zM120.8,415H128.7V422.9H120.8z"/><path fill="#00d4ff" d="M74.9,6.9H82.8V15.1H74.9zM181.9,77.3H189.9V85.3H181.9zM90.2,85H98.1V93.1H90.2zM197.2,92.8H205.2V100.9H197.2zM296.6,162.6H304.6V170.7H296.6zM304.3,162.6H312.2V170.7H304.3zM258.4,170.4H266.3V178.4H258.4zM281.3,178.1H289.3V186.1H281.3zM304.3,178.1H312.2V186.1H304.3zM296.6,193.5H304.6V201.5H296.6zM289,201.2H296.9V209.2H289zM281.3,216.6H289.3V224.6H281.3zM289,216.6H296.9V224.6H289zM296.6,232H304.6V240H296.6zM235.4,239.7H243.4V247.7H235.4zM204.9,247.4H212.8V255.3H204.9zM250.7,247.4H258.7V255.3H250.7zM197.2,278H205.2V286H197.2zM250.7,293.3H258.7V301.3H250.7zM159,361.9H166.9V369.8H159zM174.3,361.9H182.2V369.8H174.3zM159,369.5H166.9V377.4H159zM166.6,369.5H174.6V377.4H166.6zM105.5,407.4H113.4V415.3H105.5zM113.1,415H121.1V422.9H113.1zM128.4,415H136.4V422.9H128.4zM97.8,422.6H105.8V430.4H97.8z"/><path fill="#00eaff" d="M212.5,-0.9H220.5V7.2H212.5zM189.6,85H197.5V93.1H189.6zM197.2,85H205.2V93.1H197.2zM204.9,92.8H212.8V100.9H204.9zM235.4,92.8H243.4V100.9H235.4zM97.8,100.6H105.8V108.7H97.8zM204.9,100.6H212.8V108.7H204.9zM243.1,123.9H251V132H243.1zM250.7,131.7H258.7V139.7H250.7zM258.4,139.4H266.3V147.5H258.4zM258.4,154.9H266.3V162.9H258.4zM311.9,154.9H319.8V162.9H311.9zM319.5,154.9H327.5V162.9H319.5zM334.8,154.9H342.8V162.9H334.8zM289,162.6H296.9V170.7H289zM289,170.4H296.9V178.4H289zM289,178.1H296.9V186.1H289zM250.7,185.8H258.7V193.8H250.7zM289,185.8H296.9V193.8H289zM304.3,185.8H312.2V193.8H304.3zM250.7,193.5H258.7V201.5H250.7zM289,193.5H296.9V201.5H289zM304.3,193.5H312.2V201.5H304.3zM243.1,201.2H251V209.2H243.1zM250.7,201.2H258.7V209.2H250.7zM304.3,208.9H312.2V216.9H304.3zM296.6,216.6H304.6V224.6H296.6zM281.3,232H289.3V240H281.3zM243.1,239.7H251V247.7H243.1zM281.3,239.7H289.3V247.7H281.3zM289,239.7H296.9V247.7H289zM204.9,255H212.8V263H204.9zM289,255H296.9V263H289zM204.9,262.7H212.8V270.7H204.9zM243.1,293.3H251V301.3H243.1zM243.1,301H251V308.9H243.1zM174.3,369.5H182.2V377.4H174.3zM166.6,377.1H174.6V385H166.6zM166.6,384.7H174.6V392.6H166.6zM113.1,399.8H121.1V407.7H113.1zM113.1,407.4H121.1V415.3H113.1zM105.5,415H113.4V422.9H105.5zM113.1,422.6H121.1V430.4H113.1z"/><path fill="#00ffff" d="M220.2,6.9H228.1V15.1H220.2zM220.2,14.8H228.1V22.9H220.2zM220.2,22.6H228.1V30.7H220.2zM212.5,46H220.5V54.2H212.5zM82.5,69.5H90.5V77.6H82.5zM189.6,92.8H197.5V100.9H189.6zM220.2,92.8H228.1V100.9H220.2zM235.4,108.4H243.4V116.4H235.4zM258.4,147.2H266.3V155.2H258.4zM327.2,154.9H335.1V162.9H327.2zM342.5,154.9H350.4V162.9H342.5zM311.9,162.6H319.8V170.7H311.9zM296.6,170.4H304.6V178.4H296.6zM304.3,170.4H312.2V178.4H304.3zM311.9,170.4H319.8V178.4H311.9zM311.9,178.1H319.8V186.1H311.9zM296.6,185.8H304.6V193.8H296.6zM281.3,201.2H289.3V209.2H281.3zM296.6,201.2H304.6V209.2H296.6zM296.6,208.9H304.6V216.9H296.6zM235.4,216.6H243.4V224.6H235.4zM289,224.3H296.9V232.3H289zM296.6,224.3H304.6V232.3H296.6zM304.3,224.3H312.2V232.3H304.3zM289,232H296.9V240H289zM227.8,239.7H235.8V247.7H227.8zM212.5,247.4H220.5V255.3H212.5zM197.2,255H205.2V263H197.2zM266,255H274V263H266zM296.6,255H304.6V263H296.6zM166.6,361.9H174.6V369.8H166.6zM105.5,392.3H113.4V400.1H105.5zM105.5,399.8H113.4V407.7H105.5zM128.4,422.6H136.4V430.4H128.4z"/><path fill="#15ffea" d="M212.5,22.6H220.5V30.7H212.5zM204.9,53.9H212.8V62H204.9zM212.5,53.9H220.5V62H212.5zM235.4,100.6H243.4V108.7H235.4zM281.3,224.3H289.3V232.3H281.3zM204.9,331.5H212.8V339.4H204.9z"/><path fill="#2bffd4" d="M334.8,123.9H342.8V132H334.8zM311.9,131.7H319.8V139.7H311.9zM327.2,131.7H335.1V139.7H327.2zM319.5,147.2H327.5V155.2H319.5zM342.5,147.2H350.4V155.2H342.5zM281.3,162.6H289.3V170.7H281.3zM319.5,162.6H327.5V170.7H319.5zM342.5,162.6H350.4V170.7H342.5zM342.5,170.4H350.4V178.4H342.5zM296.6,178.1H304.6V186.1H296.6zM258.4,185.8H266.3V193.8H258.4zM281.3,193.5H289.3V201.5H281.3zM327.2,193.5H335.1V201.5H327.2zM304.3,201.2H312.2V209.2H304.3zM311.9,201.2H319.8V209.2H311.9zM334.8,201.2H342.8V209.2H334.8zM250.7,208.9H258.7V216.9H250.7zM273.7,208.9H281.6V216.9H273.7zM304.3,216.6H312.2V224.6H304.3zM311.9,216.6H319.8V224.6H311.9zM250.7,224.3H258.7V232.3H250.7zM311.9,255H319.8V263H311.9zM258.4,262.7H266.3V270.7H258.4zM281.3,262.7H289.3V270.7H281.3zM250.7,285.7H258.7V293.6H250.7zM281.3,285.7H289.3V293.6H281.3zM235.4,293.3H243.4V301.3H235.4zM258.4,293.3H266.3V301.3H258.4zM235.4,308.6H243.4V316.5H235.4zM227.8,316.2H235.8V324.2H227.8zM235.4,316.2H243.4V324.2H235.4z"/><path fill="#40ffbf" d="M220.2,-0.9H228.1V7.2H220.2zM220.2,61.7H228.1V69.8H220.2zM220.2,77.3H228.1V85.3H220.2zM212.5,92.8H220.5V100.9H212.5zM243.1,116.1H251V124.2H243.1zM250.7,123.9H258.7V132H250.7zM319.5,131.7H327.5V139.7H319.5zM334.8,131.7H342.8V139.7H334.8zM342.5,131.7H350.4V139.7H342.5zM281.3,147.2H289.3V155.2H281.3zM304.3,147.2H312.2V155.2H304.3zM327.2,147.2H335.1V155.2H327.2zM273.7,154.9H281.6V162.9H273.7zM258.4,162.6H266.3V170.7H258.4zM281.3,170.4H289.3V178.4H281.3zM311.9,185.8H319.8V193.8H311.9zM319.5,185.8H327.5V193.8H319.5zM334.8,185.8H342.8V193.8H334.8zM273.7,193.5H281.6V201.5H273.7zM319.5,193.5H327.5V201.5H319.5zM327.2,201.2H335.1V209.2H327.2zM243.1,208.9H251V216.9H243.1zM311.9,208.9H319.8V216.9H311.9zM327.2,208.9H335.1V216.9H327.2zM342.5,208.9H350.4V216.9H342.5zM319.5,216.6H327.5V224.6H319.5zM273.7,224.3H281.6V232.3H273.7zM304.3,232H312.2V240H304.3zM250.7,239.7H258.7V247.7H250.7zM258.4,239.7H266.3V247.7H258.4zM296.6,239.7H304.6V247.7H296.6zM258.4,247.4H266.3V255.3H258.4zM304.3,247.4H312.2V255.3H304.3zM319.5,247.4H327.5V255.3H319.5zM334.8,247.4H342.8V255.3H334.8zM258.4,255H266.3V263H258.4zM304.3,255H312.2V263H304.3zM334.8,255H342.8V263H334.8zM296.6,262.7H304.6V270.7H296.6zM258.4,301H266.3V308.9H258.4zM266,301H274V308.9H266z"/><path fill="#55ffaa" d="M227.8,14.8H235.8V22.9H227.8zM227.8,30.4H235.8V38.5H227.8zM204.9,85H212.8V93.1H204.9zM90.2,92.8H98.1V100.9H90.2zM227.8,92.8H235.8V100.9H227.8zM212.5,100.6H220.5V108.7H212.5zM311.9,123.9H319.8V132H311.9zM319.5,123.9H327.5V132H319.5zM311.9,147.2H319.8V155.2H311.9zM289,154.9H296.9V162.9H289zM334.8,162.6H342.8V170.7H334.8zM319.5,170.4H327.5V178.4H319.5zM327.2,170.4H335.1V178.4H327.2zM258.4,178.1H266.3V186.1H258.4zM319.5,178.1H327.5V186.1H319.5zM327.2,178.1H335.1V186.1H327.2zM342.5,178.1H350.4V186.1H342.5zM281.3,185.8H289.3V193.8H281.3zM327.2,185.8H335.1V193.8H327.2zM342.5,185.8H350.4V193.8H342.5zM311.9,193.5H319.8V201.5H311.9zM334.8,193.5H342.8V201.5H334.8zM319.5,201.2H327.5V209.2H319.5zM342.5,201.2H350.4V209.2H342.5zM334.8,208.9H342.8V216.9H334.8zM243.1,216.6H251V224.6H243.1zM250.7,216.6H258.7V224.6H250.7zM327.2,216.6H335.1V224.6H327.2zM334.8,216.6H342.8V224.6H334.8zM342.5,216.6H350.4V224.6H342.5zM243.1,224.3H251V232.3H243.1zM311.9,224.3H319.8V232.3H311.9zM243.1,232H251V240H243.1zM273.7,232H281.6V240H273.7zM273.7,239.7H281.6V247.7H273.7zM243.1,247.4H251V255.3H243.1zM281.3,247.4H289.3V255.3H281.3zM289,247.4H296.9V255.3H289zM296.6,247.4H304.6V255.3H296.6zM311.9,247.4H319.8V255.3H311.9zM342.5,247.4H350.4V255.3H342.5zM281.3,255H289.3V263H281.3zM319.5,255H327.5V263H319.5zM327.2,255H335.1V263H327.2zM342.5,255H350.4V263H342.5zM289,262.7H296.9V270.7H289zM204.9,270.4H212.8V278.3H204.9zM227.8,308.6H235.8V316.5H227.8zM243.1,308.6H251V316.5H243.1zM250.7,308.6H258.7V316.5H250.7zM258.4,308.6H266.3V316.5H258.4zM212.5,316.2H220.5V324.2H212.5z"/><path fill="#6aff95" d="M74.9,-0.9H82.8V7.2H74.9zM189.6,77.3H197.5V85.3H189.6zM181.9,85H189.9V93.1H181.9zM243.1,108.4H251V116.4H243.1zM327.2,123.9H335.1V132H327.2zM342.5,123.9H350.4V132H342.5zM258.4,131.7H266.3V139.7H258.4zM311.9,139.4H319.8V147.5H311.9zM319.5,139.4H327.5V147.5H319.5zM327.2,139.4H335.1V147.5H327.2zM334.8,139.4H342.8V147.5H334.8zM342.5,139.4H350.4V147.5H342.5zM289,147.2H296.9V155.2H289zM334.8,147.2H342.8V155.2H334.8zM281.3,154.9H289.3V162.9H281.3zM327.2,162.6H335.1V170.7H327.2zM334.8,170.4H342.8V178.4H334.8zM334.8,178.1H342.8V186.1H334.8zM266,185.8H274V193.8H266zM342.5,193.5H350.4V201.5H342.5zM319.5,208.9H327.5V216.9H319.5zM273.7,216.6H281.6V224.6H273.7zM266,224.3H274V232.3H266zM319.5,224.3H327.5V232.3H319.5zM250.7,232H258.7V240H250.7zM258.4,232H266.3V240H258.4zM311.9,232H319.8V240H311.9zM319.5,232H327.5V240H319.5zM266,239.7H274V247.7H266zM304.3,239.7H312.2V247.7H304.3zM311.9,239.7H319.8V247.7H311.9zM227.8,247.4H235.8V255.3H227.8zM235.4,247.4H243.4V255.3H235.4zM266,247.4H274V255.3H266zM273.7,247.4H281.6V255.3H273.7zM327.2,247.4H335.1V255.3H327.2zM235.4,255H243.4V263H235.4zM243.1,255H251V263H243.1zM273.7,255H281.6V263H273.7zM258.4,270.4H266.3V278.3H258.4zM289,270.4H296.9V278.3H289zM235.4,301H243.4V308.9H235.4zM250.7,301H258.7V308.9H250.7zM220.2,316.2H228.1V324.2H220.2zM212.5,323.9H220.5V331.8H212.5zM143.7,422.6H151.7V430.4H143.7z"/><path fill="#80ff80" d="M304.3,154.9H312.2V162.9H304.3z"/><path fill="#95ff6a" d="M197.2,77.3H205.2V85.3H197.2zM319.5,85H327.5V93.1H319.5zM334.8,85H342.8V93.1H334.8zM334.8,92.8H342.8V100.9H334.8zM342.5,108.4H350.4V116.4H342.5zM327.2,116.1H335.1V124.2H327.2zM334.8,116.1H342.8V124.2H334.8zM273.7,131.7H281.6V139.7H273.7zM273.7,162.6H281.6V170.7H273.7zM266,170.4H274V178.4H266zM327.2,224.3H335.1V232.3H327.2zM342.5,232H350.4V240H342.5zM327.2,239.7H335.1V247.7H327.2zM342.5,239.7H350.4V247.7H342.5zM250.7,270.4H258.7V278.3H250.7zM281.3,270.4H289.3V278.3H281.3zM304.3,270.4H312.2V278.3H304.3zM258.4,278H266.3V286H258.4zM296.6,278H304.6V286H296.6zM235.4,285.7H243.4V293.6H235.4zM273.7,285.7H281.6V293.6H273.7z"/><path fill="#aaff55" d="M212.5,77.3H220.5V85.3H212.5zM342.5,85H350.4V93.1H342.5zM342.5,92.8H350.4V100.9H342.5zM281.3,123.9H289.3V132H281.3zM296.6,123.9H304.6V132H296.6zM289,131.7H296.9V139.7H289zM304.3,131.7H312.2V139.7H304.3zM281.3,139.4H289.3V147.5H281.3zM266,147.2H274V155.2H266zM296.6,147.2H304.6V155.2H296.6zM273.7,201.2H281.6V209.2H273.7zM334.8,224.3H342.8V232.3H334.8zM327.2,232H335.1V240H327.2zM273.7,262.7H281.6V270.7H273.7zM311.9,262.7H319.8V270.7H311.9zM281.3,278H289.3V286H281.3zM243.1,285.7H251V293.6H243.1zM250.7,316.2H258.7V324.2H250.7zM227.8,323.9H235.8V331.8H227.8z"/><path fill="#bfff40" d="M181.9,100.6H189.9V108.7H181.9zM243.1,100.6H251V108.7H243.1zM327.2,100.6H335.1V108.7H327.2zM334.8,100.6H342.8V108.7H334.8zM327.2,108.4H335.1V116.4H327.2zM334.8,108.4H342.8V116.4H334.8zM342.5,116.1H350.4V124.2H342.5zM289,139.4H296.9V147.5H289zM304.3,139.4H312.2V147.5H304.3zM273.7,147.2H281.6V155.2H273.7zM266,178.1H274V186.1H266zM319.5,239.7H327.5V247.7H319.5zM334.8,239.7H342.8V247.7H334.8zM243.1,262.7H251V270.7H243.1zM250.7,262.7H258.7V270.7H250.7zM243.1,270.4H251V278.3H243.1zM296.6,270.4H304.6V278.3H296.6zM250.7,278H258.7V286H250.7zM227.8,293.3H235.8V301.3H227.8zM266,308.6H274V316.5H266zM235.4,323.9H243.4V331.8H235.4zM212.5,331.5H220.5V339.4H212.5z"/><path fill="#d5ff2a" d="M212.5,85H220.5V93.1H212.5zM220.2,85H228.1V93.1H220.2zM181.9,92.8H189.9V100.9H181.9zM342.5,100.6H350.4V108.7H342.5zM289,123.9H296.9V132H289zM281.3,131.7H289.3V139.7H281.3zM266,139.4H274V147.5H266zM273.7,139.4H281.6V147.5H273.7zM266,154.9H274V162.9H266zM266,162.6H274V170.7H266zM342.5,224.3H350.4V232.3H342.5zM334.8,232H342.8V240H334.8zM266,262.7H274V270.7H266zM304.3,262.7H312.2V270.7H304.3zM289,278H296.9V286H289zM243.1,316.2H251V324.2H243.1zM220.2,331.5H228.1V339.4H220.2z"/><path fill="#eaff15" d="M327.2,262.7H335.1V270.7H327.2z"/><path fill="#ffff00" d="M189.6,69.5H197.5V77.6H189.6zM82.5,77.3H90.5V85.3H82.5zM319.5,262.7H327.5V270.7H319.5zM273.7,270.4H281.6V278.3H273.7zM243.1,278H251V286H243.1zM204.9,316.2H212.8V324.2H204.9zM204.9,323.9H212.8V331.8H204.9zM243.1,323.9H251V331.8H243.1zM250.7,323.9H258.7V331.8H250.7zM243.1,331.5H251V339.4H243.1zM204.9,346.7H212.8V354.6H204.9z"/><path fill="#ffea00" d="M204.9,77.3H212.8V85.3H204.9zM327.2,85H335.1V93.1H327.2zM311.9,92.8H319.8V100.9H311.9zM327.2,92.8H335.1V100.9H327.2zM273.7,100.6H281.6V108.7H273.7zM304.3,123.9H312.2V132H304.3zM258.4,285.7H266.3V293.6H258.4zM266,285.7H274V293.6H266zM273.7,293.3H281.6V301.3H273.7zM220.2,323.9H228.1V331.8H220.2zM227.8,331.5H235.8V339.4H227.8z"/><path fill="#ffd500" d="M204.9,69.5H212.8V77.6H204.9zM227.8,85H235.8V93.1H227.8zM235.4,85H243.4V93.1H235.4z"/><path fill="#ffaa00" d="M342.5,69.5H350.4V77.6H342.5zM334.8,77.3H342.8V85.3H334.8zM342.5,77.3H350.4V85.3H342.5zM281.3,92.8H289.3V100.9H281.3zM281.3,108.4H289.3V116.4H281.3zM334.8,262.7H342.8V270.7H334.8zM273.7,278H281.6V286H273.7zM227.8,301H235.8V308.9H227.8zM281.3,301H289.3V308.9H281.3zM212.5,308.6H220.5V316.5H212.5zM197.2,316.2H205.2V324.2H197.2zM197.2,346.7H205.2V354.6H197.2z"/><path fill="#ff9500" d="M319.5,53.9H327.5V62H319.5zM220.2,69.5H228.1V77.6H220.2zM311.9,85H319.8V93.1H311.9zM319.5,108.4H327.5V116.4H319.5zM311.9,116.1H319.8V124.2H311.9zM296.6,131.7H304.6V139.7H296.6zM296.6,154.9H304.6V162.9H296.6zM342.5,262.7H350.4V270.7H342.5zM289,285.7H296.9V293.6H289zM273.7,308.6H281.6V316.5H273.7zM204.9,339.1H212.8V347H204.9zM212.5,339.1H220.5V347H212.5z"/><path fill="#ff8000" d="M311.9,46H319.8V54.2H311.9zM197.2,69.5H205.2V77.6H197.2zM212.5,69.5H220.5V77.6H212.5zM334.8,69.5H342.8V77.6H334.8zM273.7,92.8H281.6V100.9H273.7zM90.2,100.6H98.1V108.7H90.2zM319.5,100.6H327.5V108.7H319.5zM319.5,116.1H327.5V124.2H319.5zM311.9,270.4H319.8V278.3H311.9zM296.6,285.7H304.6V293.6H296.6zM266,293.3H274V301.3H266zM220.2,339.1H228.1V347H220.2z"/><path fill="#ff6a00" d="M181.9,69.5H189.9V77.6H181.9zM319.5,92.8H327.5V100.9H319.5zM281.3,100.6H289.3V108.7H281.3zM289,108.4H296.9V116.4H289zM296.6,139.4H304.6V147.5H296.6zM266,270.4H274V278.3H266zM281.3,293.3H289.3V301.3H281.3zM220.2,308.6H228.1V316.5H220.2zM258.4,323.9H266.3V331.8H258.4z"/><path fill="#ff2a00" d="M327.2,69.5H335.1V77.6H327.2z"/><path fill="#ff1500" d="M304.3,46H312.2V54.2H304.3zM319.5,46H327.5V54.2H319.5zM334.8,53.9H342.8V62H334.8zM342.5,61.7H350.4V69.8H342.5zM311.9,69.5H319.8V77.6H311.9zM319.5,77.3H327.5V85.3H319.5zM311.9,100.6H319.8V108.7H311.9zM273.7,301H281.6V308.9H273.7zM258.4,316.2H266.3V324.2H258.4zM266,316.2H274V324.2H266zM235.4,331.5H243.4V339.4H235.4zM250.7,331.5H258.7V339.4H250.7zM189.6,346.7H197.5V354.6H189.6zM197.2,354.3H205.2V362.2H197.2z"/><path fill="#ff0000" d="M342.5,53.9H350.4V62H342.5zM327.2,61.7H335.1V69.8H327.2zM334.8,61.7H342.8V69.8H334.8zM311.9,77.3H319.8V85.3H311.9zM235.4,339.1H243.4V347H235.4z"/><path fill="#ea0000" d="M311.9,53.9H319.8V62H311.9zM296.6,108.4H304.6V116.4H296.6zM304.3,278H312.2V286H304.3zM220.2,346.7H228.1V354.6H220.2z"/><path fill="#950000" d="M311.9,30.4H319.8V38.5H311.9zM319.5,30.4H327.5V38.5H319.5zM197.2,38.2H205.2V46.3H197.2zM304.3,38.2H312.2V46.3H304.3zM311.9,38.2H319.8V46.3H311.9zM204.9,46H212.8V54.2H204.9zM327.2,46H335.1V54.2H327.2zM327.2,53.9H335.1V62H327.2zM227.8,339.1H235.8V347H227.8zM181.9,346.7H189.9V354.6H181.9zM189.6,354.3H197.5V362.2H189.6zM197.2,361.9H205.2V369.8H197.2zM204.9,361.9H212.8V369.8H204.9z"/><path fill="#800000" d="M204.9,30.4H212.8V38.5H204.9zM319.5,38.2H327.5V46.3H319.5zM304.3,69.5H312.2V77.6H304.3zM212.5,346.7H220.5V354.6H212.5zM204.9,354.3H212.8V362.2H204.9zM212.5,354.3H220.5V362.2H212.5zM220.2,354.3H228.1V362.2H220.2zM189.6,361.9H197.5V369.8H189.6z"/></g>
<use href="#land"/>
<path d="M82.5,-0.4L80.5,10.6L75.5,16.6M205.5,4.6L200.5,20.6L193.5,30.6L187.5,39.6M181.5,69.6L176.5,76.6L179.5,90.6L175.5,104.6L181.5,114.6L188.5,104.6L205.5,107.6L215.5,114.6L227.5,112.6L235.5,118.6M239.5,140.6L251.5,144.6L257.5,162.6L255.5,170.6L259.5,178.6L255.5,186.6L257.5,194.6L249.5,204.6L239.5,208.6L241.5,216.6L231.5,222.6L221.5,234.6L213.5,246.6L201.5,251.6M83.5,76.6L93.5,92.6L103.5,107.6M181.5,261.6L171.5,273.6M189.5,295.6L179.5,309.6M191.5,329.6L199.5,330.6L203.5,338.6L197.5,347.6L181.5,347.6L169.5,351.6M151.5,369.6L157.5,375.6L169.5,367.6M148.5,385.6L159.5,398.6M155.5,385.6L169.5,381.6M105.5,398.6L113.5,399.6L117.5,423.6M123.5,423.6L133.5,417.6M137.5,413.6L149.5,408.6M84.5,339.6L90.5,340.6L90.5,346.6" stroke="#000" stroke-width="0.9" fill="none"/><text x="233.5" y="133" font-size="11.5" text-anchor="middle" transform="rotate(78 233.5 129)">1.25</text><text x="205.5" y="14.6" font-size="11.5" text-anchor="middle" transform="rotate(-20 205.5 10.6)">1.25</text><text x="196" y="284" font-size="11.5" text-anchor="middle" transform="rotate(80 196 280)">1.25</text><text x="182" y="280" font-size="11.5" text-anchor="middle" transform="rotate(60 182 276)">25</text><text x="163.5" y="356" font-size="11.5" text-anchor="middle" transform="rotate(85 163.5 352)">1.25</text><text x="166" y="373" font-size="11.5" text-anchor="middle" transform="rotate(-10 166 369)">1.25</text>
<use href="#star" x="66.8" y="46.6"/>
<use href="#star" x="104.8" y="157.1"/>
<use href="#star" x="114.3" y="250.1"/>
<use href="#star" x="62.8" y="271.6"/>
<use href="#star" x="10.3" y="320.6"/>
<rect x="3.7" y="20.1" width="113.4" height="25.2" fill="url(#jet)" stroke="#262626" stroke-width="1.3"/>
</g>
<path d="M58,427.5v-3.2M58,0v3.2M116,427.5v-3.2M116,0v3.2M173.9,427.5v-3.2M173.9,0v3.2M231.9,427.5v-3.2M231.9,0v3.2M289.9,427.5v-3.2M289.9,0v3.2M0,72.4h3.2M347.9,72.4h-3.2M0,144.3h3.2M347.9,144.3h-3.2M0,215.7h3.2M347.9,215.7h-3.2M0,286.8h3.2M347.9,286.8h-3.2M0,357.3h3.2M347.9,357.3h-3.2" stroke="#000" stroke-width="1" fill="none"/>
<rect x="0" y="0" width="347.9" height="427.5" fill="none" stroke="#000" stroke-width="1.1"/>
</g>
<g transform="translate(843.7,142.4)">
<rect x="0" y="0" width="347.9" height="427.5" fill="#fff"/>
<g clip-path="url(#ax)">
<path d="M58,0V427.5M116,0V427.5M173.9,0V427.5M231.9,0V427.5M289.9,0V427.5M0,72.4H347.9M0,144.3H347.9M0,215.7H347.9M0,286.8H347.9M0,357.3H347.9" stroke="#bcbcbc" stroke-width="1" stroke-dasharray="2.6,5.8" fill="none"/>
<g shape-rendering="crispEdges"><path fill="#00009f" d="M227.8,-0.9H235.8V7.2H227.8zM243.1,-0.9H251V7.2H243.1zM250.7,-0.9H258.7V7.2H250.7zM258.4,-0.9H266.3V7.2H258.4zM266,-0.9H274V7.2H266zM273.7,-0.9H281.6V7.2H273.7zM281.3,-0.9H289.3V7.2H281.3zM289,-0.9H296.9V7.2H289zM296.6,-0.9H304.6V7.2H296.6zM304.3,-0.9H312.2V7.2H304.3zM311.9,-0.9H319.8V7.2H311.9zM319.5,-0.9H327.5V7.2H319.5zM327.2,-0.9H335.1V7.2H327.2zM334.8,-0.9H342.8V7.2H334.8zM342.5,-0.9H350.4V7.2H342.5zM250.7,6.9H258.7V15.1H250.7zM258.4,6.9H266.3V15.1H258.4zM266,6.9H274V15.1H266zM273.7,6.9H281.6V15.1H273.7zM281.3,6.9H289.3V15.1H281.3zM289,6.9H296.9V15.1H289zM296.6,6.9H304.6V15.1H296.6zM304.3,6.9H312.2V15.1H304.3zM311.9,6.9H319.8V15.1H311.9zM319.5,6.9H327.5V15.1H319.5zM327.2,6.9H335.1V15.1H327.2zM334.8,6.9H342.8V15.1H334.8zM342.5,6.9H350.4V15.1H342.5zM250.7,14.8H258.7V22.9H250.7zM258.4,14.8H266.3V22.9H258.4zM266,14.8H274V22.9H266zM273.7,14.8H281.6V22.9H273.7zM281.3,14.8H289.3V22.9H281.3zM289,14.8H296.9V22.9H289zM296.6,14.8H304.6V22.9H296.6zM304.3,14.8H312.2V22.9H304.3zM311.9,14.8H319.8V22.9H311.9zM319.5,14.8H327.5V22.9H319.5zM327.2,14.8H335.1V22.9H327.2zM334.8,14.8H342.8V22.9H334.8zM342.5,14.8H350.4V22.9H342.5zM250.7,22.6H258.7V30.7H250.7zM258.4,22.6H266.3V30.7H258.4zM266,22.6H274V30.7H266zM273.7,22.6H281.6V30.7H273.7zM281.3,22.6H289.3V30.7H281.3zM289,22.6H296.9V30.7H289zM296.6,22.6H304.6V30.7H296.6zM304.3,22.6H312.2V30.7H304.3zM311.9,22.6H319.8V30.7H311.9zM319.5,22.6H327.5V30.7H319.5zM327.2,22.6H335.1V30.7H327.2zM334.8,22.6H342.8V30.7H334.8zM342.5,22.6H350.4V30.7H342.5zM243.1,30.4H251V38.5H243.1zM250.7,30.4H258.7V38.5H250.7zM258.4,30.4H266.3V38.5H258.4zM266,30.4H274V38.5H266zM273.7,30.4H281.6V38.5H273.7zM281.3,30.4H289.3V38.5H281.3zM289,30.4H296.9V38.5H289zM296.6,30.4H304.6V38.5H296.6zM304.3,30.4H312.2V38.5H304.3zM311.9,30.4H319.8V38.5H311.9zM319.5,30.4H327.5V38.5H319.5zM327.2,30.4H335.1V38.5H327.2zM334.8,30.4H342.8V38.5H334.8zM342.5,30.4H350.4V38.5H342.5zM235.4,38.2H243.4V46.3H235.4zM266,38.2H274V46.3H266zM273.7,38.2H281.6V46.3H273.7zM281.3,38.2H289.3V46.3H281.3zM289,38.2H296.9V46.3H289zM296.6,38.2H304.6V46.3H296.6zM304.3,38.2H312.2V46.3H304.3zM311.9,38.2H319.8V46.3H311.9zM319.5,38.2H327.5V46.3H319.5zM327.2,38.2H335.1V46.3H327.2zM334.8,38.2H342.8V46.3H334.8zM342.5,38.2H350.4V46.3H342.5zM250.7,46H258.7V54.2H250.7zM258.4,46H266.3V54.2H258.4zM266,46H274V54.2H266zM273.7,46H281.6V54.2H273.7zM281.3,46H289.3V54.2H281.3zM289,46H296.9V54.2H289zM296.6,46H304.6V54.2H296.6zM304.3,46H312.2V54.2H304.3zM311.9,46H319.8V54.2H311.9zM319.5,46H327.5V54.2H319.5zM327.2,46H335.1V54.2H327.2zM334.8,46H342.8V54.2H334.8zM342.5,46H350.4V54.2H342.5zM250.7,53.9H258.7V62H250.7zM258.4,53.9H266.3V62H258.4zM266,53.9H274V62H266zM273.7,53.9H281.6V62H273.7zM281.3,53.9H289.3V62H281.3zM289,53.9H296.9V62H289zM296.6,53.9H304.6V62H296.6zM304.3,53.9H312.2V62H304.3zM311.9,53.9H319.8V62H311.9zM319.5,53.9H327.5V62H319.5zM327.2,53.9H335.1V62H327.2zM334.8,53.9H342.8V62H334.8zM342.5,53.9H350.4V62H342.5zM243.1,61.7H251V69.8H243.1zM258.4,61.7H266.3V69.8H258.4zM273.7,61.7H281.6V69.8H273.7zM281.3,61.7H289.3V69.8H281.3zM289,61.7H296.9V69.8H289zM296.6,61.7H304.6V69.8H296.6zM304.3,61.7H312.2V69.8H304.3zM311.9,61.7H319.8V69.8H311.9zM319.5,61.7H327.5V69.8H319.5zM327.2,61.7H335.1V69.8H327.2zM334.8,61.7H342.8V69.8H334.8zM342.5,61.7H350.4V69.8H342.5zM266,69.5H274V77.6H266zM273.7,69.5H281.6V77.6H273.7zM281.3,69.5H289.3V77.6H281.3zM289,69.5H296.9V77.6H289zM296.6,69.5H304.6V77.6H296.6zM304.3,69.5H312.2V77.6H304.3zM311.9,69.5H319.8V77.6H311.9zM319.5,69.5H327.5V77.6H319.5zM327.2,69.5H335.1V77.6H327.2zM334.8,69.5H342.8V77.6H334.8zM342.5,69.5H350.4V77.6H342.5zM258.4,77.3H266.3V85.3H258.4zM273.7,77.3H281.6V85.3H273.7zM281.3,77.3H289.3V85.3H281.3zM289,77.3H296.9V85.3H289zM296.6,77.3H304.6V85.3H296.6zM304.3,77.3H312.2V85.3H304.3zM311.9,77.3H319.8V85.3H311.9zM319.5,77.3H327.5V85.3H319.5zM327.2,77.3H335.1V85.3H327.2zM334.8,77.3H342.8V85.3H334.8zM342.5,77.3H350.4V85.3H342.5zM266,85H274V93.1H266zM273.7,85H281.6V93.1H273.7zM281.3,85H289.3V93.1H281.3zM289,85H296.9V93.1H289zM296.6,85H304.6V93.1H296.6zM304.3,85H312.2V93.1H304.3zM311.9,85H319.8V93.1H311.9zM319.5,85H327.5V93.1H319.5zM327.2,85H335.1V93.1H327.2zM334.8,85H342.8V93.1H334.8zM342.5,85H350.4V93.1H342.5zM273.7,92.8H281.6V100.9H273.7zM289,92.8H296.9V100.9H289zM296.6,92.8H304.6V100.9H296.6zM304.3,92.8H312.2V100.9H304.3zM311.9,92.8H319.8V100.9H311.9zM319.5,92.8H327.5V100.9H319.5zM327.2,92.8H335.1V100.9H327.2zM334.8,92.8H342.8V100.9H334.8zM342.5,92.8H350.4V100.9H342.5zM281.3,100.6H289.3V108.7H281.3zM289,100.6H296.9V108.7H289zM296.6,100.6H304.6V108.7H296.6zM304.3,100.6H312.2V108.7H304.3zM311.9,100.6H319.8V108.7H311.9zM319.5,100.6H327.5V108.7H319.5zM327.2,100.6H335.1V108.7H327.2zM334.8,100.6H342.8V108.7H334.8zM342.5,100.6H350.4V108.7H342.5zM304.3,108.4H312.2V116.4H304.3zM311.9,108.4H319.8V116.4H311.9zM319.5,108.4H327.5V116.4H319.5zM327.2,108.4H335.1V116.4H327.2zM334.8,108.4H342.8V116.4H334.8zM342.5,108.4H350.4V116.4H342.5zM304.3,116.1H312.2V124.2H304.3zM319.5,116.1H327.5V124.2H319.5zM334.8,116.1H342.8V124.2H334.8zM342.5,116.1H350.4V124.2H342.5zM311.9,123.9H319.8V132H311.9zM319.5,123.9H327.5V132H319.5zM327.2,123.9H335.1V132H327.2zM334.8,123.9H342.8V132H334.8zM342.5,123.9H350.4V132H342.5zM304.3,131.7H312.2V139.7H304.3zM311.9,131.7H319.8V139.7H311.9zM327.2,131.7H335.1V139.7H327.2zM342.5,131.7H350.4V139.7H342.5zM327.2,139.4H335.1V147.5H327.2zM334.8,139.4H342.8V147.5H334.8zM334.8,147.2H342.8V155.2H334.8zM342.5,147.2H350.4V155.2H342.5zM334.8,162.6H342.8V170.7H334.8zM334.8,323.9H342.8V331.8H334.8zM342.5,331.5H350.4V339.4H342.5zM327.2,339.1H335.1V347H327.2zM342.5,339.1H350.4V347H342.5zM319.5,346.7H327.5V354.6H319.5zM334.8,346.7H342.8V354.6H334.8zM304.3,354.3H312.2V362.2H304.3zM311.9,354.3H319.8V362.2H311.9zM334.8,354.3H342.8V362.2H334.8zM342.5,354.3H350.4V362.2H342.5zM319.5,361.9H327.5V369.8H319.5zM327.2,361.9H335.1V369.8H327.2zM334.8,361.9H342.8V369.8H334.8zM342.5,361.9H350.4V369.8H342.5zM304.3,369.5H312.2V377.4H304.3zM311.9,369.5H319.8V377.4H311.9zM319.5,369.5H327.5V377.4H319.5zM327.2,369.5H335.1V377.4H327.2zM334.8,369.5H342.8V377.4H334.8zM342.5,369.5H350.4V377.4H342.5zM304.3,377.1H312.2V385H304.3zM327.2,377.1H335.1V385H327.2zM334.8,377.1H342.8V385H334.8zM342.5,377.1H350.4V385H342.5zM311.9,384.7H319.8V392.6H311.9zM319.5,384.7H327.5V392.6H319.5zM327.2,384.7H335.1V392.6H327.2zM334.8,384.7H342.8V392.6H334.8zM342.5,384.7H350.4V392.6H342.5zM304.3,392.3H312.2V400.1H304.3zM311.9,392.3H319.8V400.1H311.9zM319.5,392.3H327.5V400.1H319.5zM327.2,392.3H335.1V400.1H327.2zM334.8,392.3H342.8V400.1H334.8zM342.5,392.3H350.4V400.1H342.5zM296.6,399.8H304.6V407.7H296.6zM311.9,399.8H319.8V407.7H311.9zM319.5,399.8H327.5V407.7H319.5zM327.2,399.8H335.1V407.7H327.2zM334.8,399.8H342.8V407.7H334.8zM342.5,399.8H350.4V407.7H342.5zM281.3,407.4H289.3V415.3H281.3zM296.6,407.4H304.6V415.3H296.6zM304.3,407.4H312.2V415.3H304.3zM311.9,407.4H319.8V415.3H311.9zM319.5,407.4H327.5V415.3H319.5zM327.2,407.4H335.1V415.3H327.2zM334.8,407.4H342.8V415.3H334.8zM342.5,407.4H350.4V415.3H342.5zM296.6,415H304.6V422.9H296.6zM304.3,415H312.2V422.9H304.3zM311.9,415H319.8V422.9H311.9zM319.5,415H327.5V422.9H319.5zM327.2,415H335.1V422.9H327.2zM334.8,415H342.8V422.9H334.8zM342.5,415H350.4V422.9H342.5zM296.6,422.6H304.6V430.4H296.6zM304.3,422.6H312.2V430.4H304.3zM311.9,422.6H319.8V430.4H311.9zM319.5,422.6H327.5V430.4H319.5zM327.2,422.6H335.1V430.4H327.2zM334.8,422.6H342.8V430.4H334.8zM342.5,422.6H350.4V430.4H342.5z"/><path fill="#0000af" d="M235.4,-0.9H243.4V7.2H235.4zM235.4,6.9H243.4V15.1H235.4zM243.1,6.9H251V15.1H243.1zM227.8,14.8H235.8V22.9H227.8zM243.1,14.8H251V22.9H243.1zM227.8,22.6H235.8V30.7H227.8zM235.4,22.6H243.4V30.7H235.4zM243.1,22.6H251V30.7H243.1zM250.7,38.2H258.7V46.3H250.7zM258.4,38.2H266.3V46.3H258.4zM243.1,46H251V54.2H243.1zM266,61.7H274V69.8H266zM243.1,69.5H251V77.6H243.1zM250.7,85H258.7V93.1H250.7zM258.4,92.8H266.3V100.9H258.4zM281.3,92.8H289.3V100.9H281.3zM273.7,100.6H281.6V108.7H273.7zM289,108.4H296.9V116.4H289zM311.9,116.1H319.8V124.2H311.9zM327.2,116.1H335.1V124.2H327.2zM304.3,123.9H312.2V132H304.3zM334.8,131.7H342.8V139.7H334.8zM296.6,139.4H304.6V147.5H296.6zM342.5,139.4H350.4V147.5H342.5zM304.3,147.2H312.2V155.2H304.3zM342.5,162.6H350.4V170.7H342.5zM342.5,185.8H350.4V193.8H342.5zM342.5,308.6H350.4V316.5H342.5zM342.5,316.2H350.4V324.2H342.5zM319.5,331.5H327.5V339.4H319.5zM327.2,331.5H335.1V339.4H327.2zM311.9,339.1H319.8V347H311.9zM334.8,339.1H342.8V347H334.8zM342.5,346.7H350.4V354.6H342.5zM319.5,354.3H327.5V362.2H319.5zM311.9,361.9H319.8V369.8H311.9zM281.3,377.1H289.3V385H281.3zM289,377.1H296.9V385H289zM296.6,377.1H304.6V385H296.6zM311.9,377.1H319.8V385H311.9zM319.5,377.1H327.5V385H319.5zM296.6,384.7H304.6V392.6H296.6zM304.3,384.7H312.2V392.6H304.3zM273.7,392.3H281.6V400.1H273.7zM296.6,392.3H304.6V400.1H296.6zM304.3,399.8H312.2V407.7H304.3zM250.7,407.4H258.7V415.3H250.7zM258.4,407.4H266.3V415.3H258.4zM266,407.4H274V415.3H266zM273.7,407.4H281.6V415.3H273.7zM235.4,415H243.4V422.9H235.4zM289,415H296.9V422.9H289zM220.2,422.6H228.1V430.4H220.2zM266,422.6H274V430.4H266zM273.7,422.6H281.6V430.4H273.7zM281.3,422.6H289.3V430.4H281.3z"/><path fill="#0000bf" d="M212.5,14.8H220.5V22.9H212.5zM235.4,14.8H243.4V22.9H235.4zM220.2,30.4H228.1V38.5H220.2zM235.4,30.4H243.4V38.5H235.4zM243.1,38.2H251V46.3H243.1zM227.8,46H235.8V54.2H227.8zM235.4,46H243.4V54.2H235.4zM235.4,53.9H243.4V62H235.4zM243.1,53.9H251V62H243.1zM235.4,61.7H243.4V69.8H235.4zM250.7,61.7H258.7V69.8H250.7zM250.7,69.5H258.7V77.6H250.7zM258.4,69.5H266.3V77.6H258.4zM243.1,77.3H251V85.3H243.1zM266,77.3H274V85.3H266zM243.1,85H251V93.1H243.1zM266,92.8H274V100.9H266zM258.4,100.6H266.3V108.7H258.4zM273.7,108.4H281.6V116.4H273.7zM281.3,108.4H289.3V116.4H281.3zM296.6,108.4H304.6V116.4H296.6zM281.3,116.1H289.3V124.2H281.3zM296.6,116.1H304.6V124.2H296.6zM281.3,123.9H289.3V132H281.3zM289,123.9H296.9V132H289zM296.6,123.9H304.6V132H296.6zM281.3,131.7H289.3V139.7H281.3zM296.6,131.7H304.6V139.7H296.6zM319.5,131.7H327.5V139.7H319.5zM304.3,139.4H312.2V147.5H304.3zM311.9,139.4H319.8V147.5H311.9zM311.9,147.2H319.8V155.2H311.9zM327.2,147.2H335.1V155.2H327.2zM304.3,154.9H312.2V162.9H304.3zM319.5,154.9H327.5V162.9H319.5zM334.8,154.9H342.8V162.9H334.8zM342.5,154.9H350.4V162.9H342.5zM334.8,170.4H342.8V178.4H334.8zM334.8,178.1H342.8V186.1H334.8zM342.5,178.1H350.4V186.1H342.5zM319.5,185.8H327.5V193.8H319.5zM334.8,185.8H342.8V193.8H334.8zM342.5,201.2H350.4V209.2H342.5zM334.8,216.6H342.8V224.6H334.8zM342.5,255H350.4V263H342.5zM342.5,278H350.4V286H342.5zM327.2,285.7H335.1V293.6H327.2zM342.5,293.3H350.4V301.3H342.5zM342.5,301H350.4V308.9H342.5zM334.8,308.6H342.8V316.5H334.8zM311.9,316.2H319.8V324.2H311.9zM327.2,316.2H335.1V324.2H327.2zM319.5,323.9H327.5V331.8H319.5zM327.2,323.9H335.1V331.8H327.2zM342.5,323.9H350.4V331.8H342.5zM311.9,331.5H319.8V339.4H311.9zM334.8,331.5H342.8V339.4H334.8zM304.3,346.7H312.2V354.6H304.3zM311.9,346.7H319.8V354.6H311.9zM327.2,346.7H335.1V354.6H327.2zM327.2,354.3H335.1V362.2H327.2zM296.6,361.9H304.6V369.8H296.6zM304.3,361.9H312.2V369.8H304.3zM273.7,369.5H281.6V377.4H273.7zM289,369.5H296.9V377.4H289zM296.6,369.5H304.6V377.4H296.6zM281.3,384.7H289.3V392.6H281.3zM289,384.7H296.9V392.6H289zM289,392.3H296.9V400.1H289zM243.1,399.8H251V407.7H243.1zM258.4,399.8H266.3V407.7H258.4zM273.7,399.8H281.6V407.7H273.7zM289,399.8H296.9V407.7H289zM289,407.4H296.9V415.3H289zM197.2,415H205.2V422.9H197.2zM220.2,415H228.1V422.9H220.2zM227.8,415H235.8V422.9H227.8zM243.1,415H251V422.9H243.1zM266,415H274V422.9H266zM281.3,415H289.3V422.9H281.3zM189.6,422.6H197.5V430.4H189.6zM227.8,422.6H235.8V430.4H227.8zM243.1,422.6H251V430.4H243.1zM258.4,422.6H266.3V430.4H258.4zM289,422.6H296.9V430.4H289z"/><path fill="#0000cf" d="M220.2,-0.9H228.1V7.2H220.2zM227.8,6.9H235.8V15.1H227.8zM227.8,30.4H235.8V38.5H227.8zM220.2,38.2H228.1V46.3H220.2zM220.2,46H228.1V54.2H220.2zM227.8,53.9H235.8V62H227.8zM235.4,77.3H243.4V85.3H235.4zM250.7,77.3H258.7V85.3H250.7zM258.4,85H266.3V93.1H258.4zM250.7,92.8H258.7V100.9H250.7zM243.1,100.6H251V108.7H243.1zM266,100.6H274V108.7H266zM266,108.4H274V116.4H266zM258.4,116.1H266.3V124.2H258.4zM289,116.1H296.9V124.2H289zM289,131.7H296.9V139.7H289zM319.5,139.4H327.5V147.5H319.5zM289,147.2H296.9V155.2H289zM319.5,147.2H327.5V155.2H319.5zM311.9,154.9H319.8V162.9H311.9zM327.2,154.9H335.1V162.9H327.2zM304.3,162.6H312.2V170.7H304.3zM319.5,162.6H327.5V170.7H319.5zM327.2,162.6H335.1V170.7H327.2zM319.5,170.4H327.5V178.4H319.5zM327.2,178.1H335.1V186.1H327.2zM327.2,185.8H335.1V193.8H327.2zM342.5,216.6H350.4V224.6H342.5zM334.8,224.3H342.8V232.3H334.8zM334.8,232H342.8V240H334.8zM342.5,232H350.4V240H342.5zM327.2,239.7H335.1V247.7H327.2zM342.5,239.7H350.4V247.7H342.5zM334.8,270.4H342.8V278.3H334.8zM319.5,285.7H327.5V293.6H319.5zM334.8,285.7H342.8V293.6H334.8zM327.2,293.3H335.1V301.3H327.2zM334.8,293.3H342.8V301.3H334.8zM304.3,301H312.2V308.9H304.3zM319.5,301H327.5V308.9H319.5zM327.2,301H335.1V308.9H327.2zM327.2,308.6H335.1V316.5H327.2zM304.3,316.2H312.2V324.2H304.3zM334.8,316.2H342.8V324.2H334.8zM296.6,323.9H304.6V331.8H296.6zM311.9,323.9H319.8V331.8H311.9zM289,331.5H296.9V339.4H289zM296.6,331.5H304.6V339.4H296.6zM289,339.1H296.9V347H289zM296.6,339.1H304.6V347H296.6zM319.5,339.1H327.5V347H319.5zM296.6,346.7H304.6V354.6H296.6zM296.6,354.3H304.6V362.2H296.6zM281.3,361.9H289.3V369.8H281.3zM289,361.9H296.9V369.8H289zM281.3,369.5H289.3V377.4H281.3zM258.4,384.7H266.3V392.6H258.4zM273.7,384.7H281.6V392.6H273.7zM258.4,392.3H266.3V400.1H258.4zM266,392.3H274V400.1H266zM281.3,392.3H289.3V400.1H281.3zM204.9,399.8H212.8V407.7H204.9zM212.5,399.8H220.5V407.7H212.5zM220.2,399.8H228.1V407.7H220.2zM235.4,399.8H243.4V407.7H235.4zM281.3,399.8H289.3V407.7H281.3zM243.1,407.4H251V415.3H243.1zM6.1,415H14V422.9H6.1zM174.3,415H182.2V422.9H174.3zM212.5,415H220.5V422.9H212.5zM250.7,415H258.7V422.9H250.7zM273.7,415H281.6V422.9H273.7zM204.9,422.6H212.8V430.4H204.9zM250.7,422.6H258.7V430.4H250.7z"/><path fill="#0000df" d="M204.9,-0.9H212.8V7.2H204.9zM212.5,-0.9H220.5V7.2H212.5zM204.9,6.9H212.8V15.1H204.9zM220.2,6.9H228.1V15.1H220.2zM204.9,14.8H212.8V22.9H204.9zM220.2,14.8H228.1V22.9H220.2zM204.9,22.6H212.8V30.7H204.9zM227.8,38.2H235.8V46.3H227.8zM212.5,46H220.5V54.2H212.5zM220.2,53.9H228.1V62H220.2zM220.2,61.7H228.1V69.8H220.2zM227.8,69.5H235.8V77.6H227.8zM235.4,69.5H243.4V77.6H235.4zM227.8,77.3H235.8V85.3H227.8zM250.7,100.6H258.7V108.7H250.7zM250.7,116.1H258.7V124.2H250.7zM266,116.1H274V124.2H266zM273.7,116.1H281.6V124.2H273.7zM258.4,123.9H266.3V132H258.4zM273.7,123.9H281.6V132H273.7zM266,131.7H274V139.7H266zM273.7,131.7H281.6V139.7H273.7zM296.6,147.2H304.6V155.2H296.6zM281.3,154.9H289.3V162.9H281.3zM289,154.9H296.9V162.9H289zM311.9,162.6H319.8V170.7H311.9zM327.2,170.4H335.1V178.4H327.2zM342.5,170.4H350.4V178.4H342.5zM304.3,185.8H312.2V193.8H304.3zM311.9,185.8H319.8V193.8H311.9zM319.5,193.5H327.5V201.5H319.5zM327.2,193.5H335.1V201.5H327.2zM342.5,193.5H350.4V201.5H342.5zM319.5,201.2H327.5V209.2H319.5zM304.3,208.9H312.2V216.9H304.3zM334.8,208.9H342.8V216.9H334.8zM342.5,208.9H350.4V216.9H342.5zM304.3,216.6H312.2V224.6H304.3zM327.2,216.6H335.1V224.6H327.2zM342.5,224.3H350.4V232.3H342.5zM327.2,232H335.1V240H327.2zM304.3,247.4H312.2V255.3H304.3zM311.9,255H319.8V263H311.9zM327.2,262.7H335.1V270.7H327.2zM319.5,270.4H327.5V278.3H319.5zM342.5,270.4H350.4V278.3H342.5zM319.5,278H327.5V286H319.5zM327.2,278H335.1V286H327.2zM334.8,278H342.8V286H334.8zM304.3,285.7H312.2V293.6H304.3zM342.5,285.7H350.4V293.6H342.5zM296.6,301H304.6V308.9H296.6zM334.8,301H342.8V308.9H334.8zM311.9,308.6H319.8V316.5H311.9zM319.5,308.6H327.5V316.5H319.5zM289,316.2H296.9V324.2H289zM319.5,316.2H327.5V324.2H319.5zM281.3,323.9H289.3V331.8H281.3zM304.3,331.5H312.2V339.4H304.3zM273.7,339.1H281.6V347H273.7zM304.3,339.1H312.2V347H304.3zM266,346.7H274V354.6H266zM281.3,346.7H289.3V354.6H281.3zM289,346.7H296.9V354.6H289zM281.3,354.3H289.3V362.2H281.3zM289,354.3H296.9V362.2H289zM273.7,361.9H281.6V369.8H273.7zM266,369.5H274V377.4H266zM227.8,377.1H235.8V385H227.8zM266,377.1H274V385H266zM273.7,377.1H281.6V385H273.7zM250.7,384.7H258.7V392.6H250.7zM204.9,392.3H212.8V400.1H204.9zM220.2,392.3H228.1V400.1H220.2zM243.1,392.3H251V400.1H243.1zM250.7,399.8H258.7V407.7H250.7zM266,399.8H274V407.7H266zM6.1,407.4H14V415.3H6.1zM166.6,407.4H174.6V415.3H166.6zM174.3,407.4H182.2V415.3H174.3zM212.5,407.4H220.5V415.3H212.5zM227.8,407.4H235.8V415.3H227.8zM235.4,407.4H243.4V415.3H235.4zM159,415H166.9V422.9H159zM189.6,415H197.5V422.9H189.6zM258.4,415H266.3V422.9H258.4zM29,422.6H37V430.4H29zM197.2,422.6H205.2V430.4H197.2zM212.5,422.6H220.5V430.4H212.5zM235.4,422.6H243.4V430.4H235.4z"/><path fill="#0000ef" d="M212.5,6.9H220.5V15.1H212.5zM212.5,22.6H220.5V30.7H212.5zM220.2,22.6H228.1V30.7H220.2zM204.9,30.4H212.8V38.5H204.9zM212.5,30.4H220.5V38.5H212.5zM204.9,38.2H212.8V46.3H204.9zM212.5,61.7H220.5V69.8H212.5zM227.8,61.7H235.8V69.8H227.8zM227.8,85H235.8V93.1H227.8zM235.4,85H243.4V93.1H235.4zM243.1,92.8H251V100.9H243.1zM235.4,108.4H243.4V116.4H235.4zM258.4,108.4H266.3V116.4H258.4zM235.4,116.1H243.4V124.2H235.4zM258.4,131.7H266.3V139.7H258.4zM289,139.4H296.9V147.5H289zM273.7,147.2H281.6V155.2H273.7zM281.3,147.2H289.3V155.2H281.3zM273.7,162.6H281.6V170.7H273.7zM289,170.4H296.9V178.4H289zM281.3,178.1H289.3V186.1H281.3zM319.5,178.1H327.5V186.1H319.5zM289,193.5H296.9V201.5H289zM334.8,193.5H342.8V201.5H334.8zM289,201.2H296.9V209.2H289zM311.9,201.2H319.8V209.2H311.9zM327.2,201.2H335.1V209.2H327.2zM334.8,201.2H342.8V209.2H334.8zM296.6,208.9H304.6V216.9H296.6zM311.9,208.9H319.8V216.9H311.9zM327.2,208.9H335.1V216.9H327.2zM319.5,216.6H327.5V224.6H319.5zM311.9,224.3H319.8V232.3H311.9zM319.5,224.3H327.5V232.3H319.5zM311.9,232H319.8V240H311.9zM319.5,232H327.5V240H319.5zM296.6,239.7H304.6V247.7H296.6zM334.8,239.7H342.8V247.7H334.8zM327.2,247.4H335.1V255.3H327.2zM334.8,247.4H342.8V255.3H334.8zM342.5,247.4H350.4V255.3H342.5zM319.5,255H327.5V263H319.5zM327.2,255H335.1V263H327.2zM304.3,262.7H312.2V270.7H304.3zM311.9,262.7H319.8V270.7H311.9zM319.5,262.7H327.5V270.7H319.5zM334.8,262.7H342.8V270.7H334.8zM342.5,262.7H350.4V270.7H342.5zM296.6,270.4H304.6V278.3H296.6zM311.9,270.4H319.8V278.3H311.9zM327.2,270.4H335.1V278.3H327.2zM311.9,278H319.8V286H311.9zM289,285.7H296.9V293.6H289zM311.9,285.7H319.8V293.6H311.9zM289,293.3H296.9V301.3H289zM304.3,293.3H312.2V301.3H304.3zM319.5,293.3H327.5V301.3H319.5zM289,301H296.9V308.9H289zM311.9,301H319.8V308.9H311.9zM289,308.6H296.9V316.5H289zM304.3,308.6H312.2V316.5H304.3zM273.7,316.2H281.6V324.2H273.7zM273.7,323.9H281.6V331.8H273.7zM289,323.9H296.9V331.8H289zM304.3,323.9H312.2V331.8H304.3zM281.3,331.5H289.3V339.4H281.3zM258.4,339.1H266.3V347H258.4zM273.7,346.7H281.6V354.6H273.7zM258.4,354.3H266.3V362.2H258.4zM273.7,354.3H281.6V362.2H273.7zM235.4,361.9H243.4V369.8H235.4zM258.4,361.9H266.3V369.8H258.4zM258.4,369.5H266.3V377.4H258.4zM212.5,377.1H220.5V385H212.5zM243.1,377.1H251V385H243.1zM258.4,377.1H266.3V385H258.4zM204.9,384.7H212.8V392.6H204.9zM220.2,384.7H228.1V392.6H220.2zM235.4,384.7H243.4V392.6H235.4zM266,384.7H274V392.6H266zM6.1,392.3H14V400.1H6.1zM13.7,392.3H21.7V400.1H13.7zM189.6,392.3H197.5V400.1H189.6zM212.5,392.3H220.5V400.1H212.5zM250.7,392.3H258.7V400.1H250.7zM6.1,399.8H14V407.7H6.1zM174.3,399.8H182.2V407.7H174.3zM181.9,399.8H189.9V407.7H181.9zM227.8,399.8H235.8V407.7H227.8zM21.4,407.4H29.3V415.3H21.4zM36.7,407.4H44.6V415.3H36.7zM143.7,407.4H151.7V415.3H143.7zM151.4,407.4H159.3V415.3H151.4zM197.2,407.4H205.2V415.3H197.2zM204.9,407.4H212.8V415.3H204.9zM220.2,407.4H228.1V415.3H220.2zM52,415H59.9V422.9H52zM97.8,415H105.8V422.9H97.8zM181.9,415H189.9V422.9H181.9zM204.9,415H212.8V422.9H204.9zM6.1,422.6H14V430.4H6.1zM13.7,422.6H21.7V430.4H13.7zM21.4,422.6H29.3V430.4H21.4zM36.7,422.6H44.6V430.4H36.7zM52,422.6H59.9V430.4H52zM128.4,422.6H136.4V430.4H128.4zM151.4,422.6H159.3V430.4H151.4zM159,422.6H166.9V430.4H159zM174.3,422.6H182.2V430.4H174.3zM181.9,422.6H189.9V430.4H181.9z"/><path fill="#0000ff" d="M197.2,22.6H205.2V30.7H197.2zM212.5,38.2H220.5V46.3H212.5zM220.2,77.3H228.1V85.3H220.2zM220.2,85H228.1V93.1H220.2zM220.2,92.8H228.1V100.9H220.2zM227.8,100.6H235.8V108.7H227.8zM250.7,108.4H258.7V116.4H250.7zM243.1,116.1H251V124.2H243.1zM250.7,123.9H258.7V132H250.7zM266,123.9H274V132H266zM243.1,131.7H251V139.7H243.1zM250.7,139.4H258.7V147.5H250.7zM266,139.4H274V147.5H266zM273.7,139.4H281.6V147.5H273.7zM281.3,139.4H289.3V147.5H281.3zM258.4,154.9H266.3V162.9H258.4zM273.7,154.9H281.6V162.9H273.7zM296.6,154.9H304.6V162.9H296.6zM289,162.6H296.9V170.7H289zM296.6,162.6H304.6V170.7H296.6zM281.3,170.4H289.3V178.4H281.3zM304.3,170.4H312.2V178.4H304.3zM311.9,170.4H319.8V178.4H311.9zM273.7,178.1H281.6V186.1H273.7zM296.6,178.1H304.6V186.1H296.6zM311.9,178.1H319.8V186.1H311.9zM281.3,193.5H289.3V201.5H281.3zM311.9,193.5H319.8V201.5H311.9zM304.3,201.2H312.2V209.2H304.3zM281.3,208.9H289.3V216.9H281.3zM289,208.9H296.9V216.9H289zM319.5,208.9H327.5V216.9H319.5zM304.3,224.3H312.2V232.3H304.3zM327.2,224.3H335.1V232.3H327.2zM296.6,232H304.6V240H296.6zM304.3,239.7H312.2V247.7H304.3zM319.5,239.7H327.5V247.7H319.5zM281.3,247.4H289.3V255.3H281.3zM296.6,247.4H304.6V255.3H296.6zM311.9,247.4H319.8V255.3H311.9zM289,255H296.9V263H289zM334.8,255H342.8V263H334.8zM289,262.7H296.9V270.7H289zM289,270.4H296.9V278.3H289zM304.3,270.4H312.2V278.3H304.3zM296.6,278H304.6V286H296.6zM281.3,285.7H289.3V293.6H281.3zM296.6,285.7H304.6V293.6H296.6zM273.7,293.3H281.6V301.3H273.7zM296.6,293.3H304.6V301.3H296.6zM311.9,293.3H319.8V301.3H311.9zM266,301H274V308.9H266zM258.4,308.6H266.3V316.5H258.4zM273.7,308.6H281.6V316.5H273.7zM281.3,308.6H289.3V316.5H281.3zM296.6,308.6H304.6V316.5H296.6zM258.4,316.2H266.3V324.2H258.4zM296.6,316.2H304.6V324.2H296.6zM258.4,323.9H266.3V331.8H258.4zM266,323.9H274V331.8H266zM258.4,331.5H266.3V339.4H258.4zM266,339.1H274V347H266zM281.3,339.1H289.3V347H281.3zM250.7,346.7H258.7V354.6H250.7zM258.4,346.7H266.3V354.6H258.4zM235.4,354.3H243.4V362.2H235.4zM266,354.3H274V362.2H266zM227.8,361.9H235.8V369.8H227.8zM243.1,361.9H251V369.8H243.1zM250.7,361.9H258.7V369.8H250.7zM266,361.9H274V369.8H266zM197.2,369.5H205.2V377.4H197.2zM220.2,369.5H228.1V377.4H220.2zM235.4,369.5H243.4V377.4H235.4zM243.1,369.5H251V377.4H243.1zM250.7,369.5H258.7V377.4H250.7zM204.9,377.1H212.8V385H204.9zM235.4,377.1H243.4V385H235.4zM250.7,377.1H258.7V385H250.7zM6.1,384.7H14V392.6H6.1zM197.2,384.7H205.2V392.6H197.2zM212.5,384.7H220.5V392.6H212.5zM227.8,384.7H235.8V392.6H227.8zM243.1,384.7H251V392.6H243.1zM44.3,392.3H52.3V400.1H44.3zM159,392.3H166.9V400.1H159zM197.2,392.3H205.2V400.1H197.2zM227.8,392.3H235.8V400.1H227.8zM235.4,392.3H243.4V400.1H235.4zM29,399.8H37V407.7H29zM44.3,399.8H52.3V407.7H44.3zM67.3,399.8H75.2V407.7H67.3zM29,407.4H37V415.3H29zM44.3,407.4H52.3V415.3H44.3zM67.3,407.4H75.2V415.3H67.3zM74.9,407.4H82.8V415.3H74.9zM105.5,407.4H113.4V415.3H105.5zM136.1,407.4H144V415.3H136.1zM159,407.4H166.9V415.3H159zM181.9,407.4H189.9V415.3H181.9zM189.6,407.4H197.5V415.3H189.6zM13.7,415H21.7V422.9H13.7zM36.7,415H44.6V422.9H36.7zM44.3,415H52.3V422.9H44.3zM59.6,415H67.6V422.9H59.6zM67.3,415H75.2V422.9H67.3zM82.5,415H90.5V422.9H82.5zM113.1,415H121.1V422.9H113.1zM143.7,415H151.7V422.9H143.7zM151.4,415H159.3V422.9H151.4zM166.6,415H174.6V422.9H166.6zM44.3,422.6H52.3V430.4H44.3zM74.9,422.6H82.8V430.4H74.9zM136.1,422.6H144V430.4H136.1zM143.7,422.6H151.7V430.4H143.7zM166.6,422.6H174.6V430.4H166.6z"/><path fill="#0010ff" d="M181.9,-0.9H189.9V7.2H181.9zM189.6,-0.9H197.5V7.2H189.6zM197.2,-0.9H205.2V7.2H197.2zM197.2,6.9H205.2V15.1H197.2zM197.2,14.8H205.2V22.9H197.2zM197.2,30.4H205.2V38.5H197.2zM197.2,38.2H205.2V46.3H197.2zM212.5,53.9H220.5V62H212.5zM204.9,61.7H212.8V69.8H204.9zM204.9,69.5H212.8V77.6H204.9zM212.5,69.5H220.5V77.6H212.5zM220.2,69.5H228.1V77.6H220.2zM212.5,77.3H220.5V85.3H212.5zM227.8,92.8H235.8V100.9H227.8zM235.4,92.8H243.4V100.9H235.4zM220.2,100.6H228.1V108.7H220.2zM235.4,100.6H243.4V108.7H235.4zM243.1,108.4H251V116.4H243.1zM243.1,147.2H251V155.2H243.1zM258.4,147.2H266.3V155.2H258.4zM266,147.2H274V155.2H266zM250.7,154.9H258.7V162.9H250.7zM266,154.9H274V162.9H266zM266,162.6H274V170.7H266zM281.3,162.6H289.3V170.7H281.3zM296.6,170.4H304.6V178.4H296.6zM289,178.1H296.9V186.1H289zM304.3,178.1H312.2V186.1H304.3zM289,185.8H296.9V193.8H289zM273.7,193.5H281.6V201.5H273.7zM296.6,193.5H304.6V201.5H296.6zM304.3,193.5H312.2V201.5H304.3zM296.6,201.2H304.6V209.2H296.6zM273.7,216.6H281.6V224.6H273.7zM281.3,216.6H289.3V224.6H281.3zM311.9,216.6H319.8V224.6H311.9zM296.6,224.3H304.6V232.3H296.6zM273.7,232H281.6V240H273.7zM289,232H296.9V240H289zM304.3,232H312.2V240H304.3zM311.9,239.7H319.8V247.7H311.9zM273.7,247.4H281.6V255.3H273.7zM289,247.4H296.9V255.3H289zM319.5,247.4H327.5V255.3H319.5zM304.3,255H312.2V263H304.3zM281.3,262.7H289.3V270.7H281.3zM281.3,270.4H289.3V278.3H281.3zM266,278H274V286H266zM289,278H296.9V286H289zM304.3,278H312.2V286H304.3zM281.3,293.3H289.3V301.3H281.3zM258.4,301H266.3V308.9H258.4zM250.7,308.6H258.7V316.5H250.7zM266,308.6H274V316.5H266zM235.4,331.5H243.4V339.4H235.4zM273.7,331.5H281.6V339.4H273.7zM250.7,339.1H258.7V347H250.7zM243.1,346.7H251V354.6H243.1zM212.5,354.3H220.5V362.2H212.5zM220.2,354.3H228.1V362.2H220.2zM243.1,354.3H251V362.2H243.1zM220.2,361.9H228.1V369.8H220.2zM174.3,369.5H182.2V377.4H174.3zM212.5,369.5H220.5V377.4H212.5zM227.8,369.5H235.8V377.4H227.8zM189.6,377.1H197.5V385H189.6zM197.2,377.1H205.2V385H197.2zM220.2,377.1H228.1V385H220.2zM13.7,384.7H21.7V392.6H13.7zM36.7,384.7H44.6V392.6H36.7zM44.3,384.7H52.3V392.6H44.3zM74.9,384.7H82.8V392.6H74.9zM159,384.7H166.9V392.6H159zM21.4,392.3H29.3V400.1H21.4zM113.1,392.3H121.1V400.1H113.1zM174.3,392.3H182.2V400.1H174.3zM181.9,392.3H189.9V400.1H181.9zM13.7,399.8H21.7V407.7H13.7zM21.4,399.8H29.3V407.7H21.4zM59.6,399.8H67.6V407.7H59.6zM82.5,399.8H90.5V407.7H82.5zM90.2,399.8H98.1V407.7H90.2zM105.5,399.8H113.4V407.7H105.5zM136.1,399.8H144V407.7H136.1zM159,399.8H166.9V407.7H159zM166.6,399.8H174.6V407.7H166.6zM189.6,399.8H197.5V407.7H189.6zM197.2,399.8H205.2V407.7H197.2zM13.7,407.4H21.7V415.3H13.7zM59.6,407.4H67.6V415.3H59.6zM90.2,407.4H98.1V415.3H90.2zM21.4,415H29.3V422.9H21.4zM29,415H37V422.9H29zM59.6,422.6H67.6V430.4H59.6zM90.2,422.6H98.1V430.4H90.2zM105.5,422.6H113.4V430.4H105.5zM113.1,422.6H121.1V430.4H113.1zM120.8,422.6H128.7V430.4H120.8z"/><path fill="#0020ff" d="M181.9,14.8H189.9V22.9H181.9zM189.6,14.8H197.5V22.9H189.6zM189.6,46H197.5V54.2H189.6zM204.9,46H212.8V54.2H204.9zM204.9,77.3H212.8V85.3H204.9zM90.2,100.6H98.1V108.7H90.2zM97.8,108.4H105.8V116.4H97.8zM212.5,108.4H220.5V116.4H212.5zM220.2,108.4H228.1V116.4H220.2zM227.8,108.4H235.8V116.4H227.8zM97.8,116.1H105.8V124.2H97.8zM227.8,116.1H235.8V124.2H227.8zM227.8,123.9H235.8V132H227.8zM235.4,123.9H243.4V132H235.4zM243.1,123.9H251V132H243.1zM235.4,131.7H243.4V139.7H235.4zM250.7,131.7H258.7V139.7H250.7zM227.8,139.4H235.8V147.5H227.8zM258.4,139.4H266.3V147.5H258.4zM243.1,154.9H251V162.9H243.1zM250.7,162.6H258.7V170.7H250.7zM258.4,162.6H266.3V170.7H258.4zM266,170.4H274V178.4H266zM250.7,178.1H258.7V186.1H250.7zM258.4,178.1H266.3V186.1H258.4zM266,178.1H274V186.1H266zM250.7,185.8H258.7V193.8H250.7zM258.4,185.8H266.3V193.8H258.4zM273.7,185.8H281.6V193.8H273.7zM296.6,185.8H304.6V193.8H296.6zM281.3,201.2H289.3V209.2H281.3zM266,208.9H274V216.9H266zM258.4,216.6H266.3V224.6H258.4zM289,216.6H296.9V224.6H289zM296.6,216.6H304.6V224.6H296.6zM258.4,224.3H266.3V232.3H258.4zM289,224.3H296.9V232.3H289zM281.3,232H289.3V240H281.3zM281.3,239.7H289.3V247.7H281.3zM289,239.7H296.9V247.7H289zM281.3,255H289.3V263H281.3zM296.6,255H304.6V263H296.6zM273.7,262.7H281.6V270.7H273.7zM296.6,262.7H304.6V270.7H296.6zM266,270.4H274V278.3H266zM273.7,278H281.6V286H273.7zM258.4,285.7H266.3V293.6H258.4zM266,285.7H274V293.6H266zM273.7,285.7H281.6V293.6H273.7zM258.4,293.3H266.3V301.3H258.4zM273.7,301H281.6V308.9H273.7zM281.3,301H289.3V308.9H281.3zM243.1,316.2H251V324.2H243.1zM250.7,316.2H258.7V324.2H250.7zM266,316.2H274V324.2H266zM281.3,316.2H289.3V324.2H281.3zM227.8,323.9H235.8V331.8H227.8zM235.4,323.9H243.4V331.8H235.4zM250.7,323.9H258.7V331.8H250.7zM243.1,331.5H251V339.4H243.1zM266,331.5H274V339.4H266zM220.2,339.1H228.1V347H220.2zM220.2,346.7H228.1V354.6H220.2zM227.8,346.7H235.8V354.6H227.8zM227.8,354.3H235.8V362.2H227.8zM250.7,354.3H258.7V362.2H250.7zM174.3,361.9H182.2V369.8H174.3zM204.9,361.9H212.8V369.8H204.9zM181.9,369.5H189.9V377.4H181.9zM189.6,369.5H197.5V377.4H189.6zM36.7,377.1H44.6V385H36.7zM52,377.1H59.9V385H52zM67.3,377.1H75.2V385H67.3zM136.1,377.1H144V385H136.1zM59.6,384.7H67.6V392.6H59.6zM97.8,384.7H105.8V392.6H97.8zM189.6,384.7H197.5V392.6H189.6zM29,392.3H37V400.1H29zM36.7,392.3H44.6V400.1H36.7zM59.6,392.3H67.6V400.1H59.6zM67.3,392.3H75.2V400.1H67.3zM82.5,392.3H90.5V400.1H82.5zM143.7,392.3H151.7V400.1H143.7zM166.6,392.3H174.6V400.1H166.6zM36.7,399.8H44.6V407.7H36.7zM113.1,399.8H121.1V407.7H113.1zM128.4,399.8H136.4V407.7H128.4zM143.7,399.8H151.7V407.7H143.7zM151.4,399.8H159.3V407.7H151.4zM52,407.4H59.9V415.3H52zM82.5,407.4H90.5V415.3H82.5zM120.8,407.4H128.7V415.3H120.8zM128.4,407.4H136.4V415.3H128.4zM74.9,415H82.8V422.9H74.9zM120.8,415H128.7V422.9H120.8zM128.4,415H136.4V422.9H128.4zM136.1,415H144V422.9H136.1zM67.3,422.6H75.2V430.4H67.3zM82.5,422.6H90.5V430.4H82.5zM97.8,422.6H105.8V430.4H97.8z"/><path fill="#0030ff" d="M189.6,6.9H197.5V15.1H189.6zM174.3,14.8H182.2V22.9H174.3zM189.6,22.6H197.5V30.7H189.6zM189.6,30.4H197.5V38.5H189.6zM189.6,38.2H197.5V46.3H189.6zM197.2,46H205.2V54.2H197.2zM197.2,53.9H205.2V62H197.2zM204.9,53.9H212.8V62H204.9zM204.9,85H212.8V93.1H204.9zM212.5,85H220.5V93.1H212.5zM90.2,92.8H98.1V100.9H90.2zM212.5,100.6H220.5V108.7H212.5zM212.5,116.1H220.5V124.2H212.5zM220.2,131.7H228.1V139.7H220.2zM227.8,131.7H235.8V139.7H227.8zM220.2,139.4H228.1V147.5H220.2zM235.4,139.4H243.4V147.5H235.4zM243.1,139.4H251V147.5H243.1zM235.4,147.2H243.4V155.2H235.4zM250.7,147.2H258.7V155.2H250.7zM227.8,154.9H235.8V162.9H227.8zM273.7,170.4H281.6V178.4H273.7zM266,185.8H274V193.8H266zM281.3,185.8H289.3V193.8H281.3zM266,193.5H274V201.5H266zM258.4,208.9H266.3V216.9H258.4zM120.8,216.6H128.7V224.6H120.8zM250.7,216.6H258.7V224.6H250.7zM266,224.3H274V232.3H266zM281.3,224.3H289.3V232.3H281.3zM273.7,239.7H281.6V247.7H273.7zM258.4,247.4H266.3V255.3H258.4zM273.7,255H281.6V263H273.7zM250.7,270.4H258.7V278.3H250.7zM258.4,270.4H266.3V278.3H258.4zM273.7,270.4H281.6V278.3H273.7zM281.3,278H289.3V286H281.3zM243.1,285.7H251V293.6H243.1zM250.7,285.7H258.7V293.6H250.7zM266,293.3H274V301.3H266zM250.7,301H258.7V308.9H250.7zM243.1,308.6H251V316.5H243.1zM227.8,316.2H235.8V324.2H227.8zM235.4,316.2H243.4V324.2H235.4zM243.1,323.9H251V331.8H243.1zM212.5,331.5H220.5V339.4H212.5zM250.7,331.5H258.7V339.4H250.7zM197.2,339.1H205.2V347H197.2zM204.9,339.1H212.8V347H204.9zM212.5,339.1H220.5V347H212.5zM243.1,339.1H251V347H243.1zM189.6,346.7H197.5V354.6H189.6zM197.2,346.7H205.2V354.6H197.2zM212.5,346.7H220.5V354.6H212.5zM235.4,346.7H243.4V354.6H235.4zM174.3,354.3H182.2V362.2H174.3zM181.9,354.3H189.9V362.2H181.9zM197.2,354.3H205.2V362.2H197.2zM166.6,361.9H174.6V369.8H166.6zM197.2,361.9H205.2V369.8H197.2zM59.6,369.5H67.6V377.4H59.6zM67.3,369.5H75.2V377.4H67.3zM74.9,369.5H82.8V377.4H74.9zM97.8,369.5H105.8V377.4H97.8zM204.9,369.5H212.8V377.4H204.9zM6.1,377.1H14V385H6.1zM13.7,377.1H21.7V385H13.7zM74.9,377.1H82.8V385H74.9zM82.5,377.1H90.5V385H82.5zM113.1,377.1H121.1V385H113.1zM166.6,377.1H174.6V385H166.6zM174.3,377.1H182.2V385H174.3zM21.4,384.7H29.3V392.6H21.4zM29,384.7H37V392.6H29zM52,384.7H59.9V392.6H52zM90.2,384.7H98.1V392.6H90.2zM113.1,384.7H121.1V392.6H113.1zM136.1,384.7H144V392.6H136.1zM166.6,384.7H174.6V392.6H166.6zM174.3,384.7H182.2V392.6H174.3zM181.9,384.7H189.9V392.6H181.9zM52,392.3H59.9V400.1H52zM74.9,392.3H82.8V400.1H74.9zM90.2,392.3H98.1V400.1H90.2zM120.8,392.3H128.7V400.1H120.8zM136.1,392.3H144V400.1H136.1zM151.4,392.3H159.3V400.1H151.4zM52,399.8H59.9V407.7H52zM97.8,399.8H105.8V407.7H97.8zM120.8,399.8H128.7V407.7H120.8zM97.8,407.4H105.8V415.3H97.8zM113.1,407.4H121.1V415.3H113.1zM90.2,415H98.1V422.9H90.2zM105.5,415H113.4V422.9H105.5z"/><path fill="#0040ff" d="M166.6,-0.9H174.6V7.2H166.6zM174.3,-0.9H182.2V7.2H174.3zM181.9,6.9H189.9V15.1H181.9zM174.3,22.6H182.2V30.7H174.3zM181.9,38.2H189.9V46.3H181.9zM189.6,61.7H197.5V69.8H189.6zM82.5,69.5H90.5V77.6H82.5zM197.2,69.5H205.2V77.6H197.2zM82.5,77.3H90.5V85.3H82.5zM197.2,77.3H205.2V85.3H197.2zM82.5,85H90.5V93.1H82.5zM212.5,92.8H220.5V100.9H212.5zM220.2,116.1H228.1V124.2H220.2zM97.8,123.9H105.8V132H97.8zM212.5,123.9H220.5V132H212.5zM220.2,123.9H228.1V132H220.2zM227.8,147.2H235.8V155.2H227.8zM220.2,154.9H228.1V162.9H220.2zM258.4,170.4H266.3V178.4H258.4zM243.1,178.1H251V186.1H243.1zM120.8,185.8H128.7V193.8H120.8zM243.1,185.8H251V193.8H243.1zM120.8,193.5H128.7V201.5H120.8zM250.7,193.5H258.7V201.5H250.7zM120.8,201.2H128.7V209.2H120.8zM250.7,201.2H258.7V209.2H250.7zM266,201.2H274V209.2H266zM273.7,201.2H281.6V209.2H273.7zM120.8,208.9H128.7V216.9H120.8zM250.7,208.9H258.7V216.9H250.7zM273.7,208.9H281.6V216.9H273.7zM266,216.6H274V224.6H266zM250.7,224.3H258.7V232.3H250.7zM273.7,224.3H281.6V232.3H273.7zM258.4,232H266.3V240H258.4zM266,232H274V240H266zM243.1,247.4H251V255.3H243.1zM250.7,247.4H258.7V255.3H250.7zM266,247.4H274V255.3H266zM258.4,255H266.3V263H258.4zM266,255H274V263H266zM250.7,262.7H258.7V270.7H250.7zM266,262.7H274V270.7H266zM243.1,270.4H251V278.3H243.1zM243.1,278H251V286H243.1zM258.4,278H266.3V286H258.4zM235.4,293.3H243.4V301.3H235.4zM243.1,293.3H251V301.3H243.1zM227.8,301H235.8V308.9H227.8zM235.4,301H243.4V308.9H235.4zM243.1,301H251V308.9H243.1zM235.4,308.6H243.4V316.5H235.4zM212.5,316.2H220.5V324.2H212.5zM212.5,323.9H220.5V331.8H212.5zM220.2,323.9H228.1V331.8H220.2zM227.8,339.1H235.8V347H227.8zM235.4,339.1H243.4V347H235.4zM159,354.3H166.9V362.2H159zM204.9,354.3H212.8V362.2H204.9zM90.2,361.9H98.1V369.8H90.2zM143.7,361.9H151.7V369.8H143.7zM189.6,361.9H197.5V369.8H189.6zM212.5,361.9H220.5V369.8H212.5zM105.5,369.5H113.4V377.4H105.5zM113.1,369.5H121.1V377.4H113.1zM128.4,369.5H136.4V377.4H128.4zM143.7,369.5H151.7V377.4H143.7zM166.6,369.5H174.6V377.4H166.6zM44.3,377.1H52.3V385H44.3zM105.5,377.1H113.4V385H105.5zM120.8,377.1H128.7V385H120.8zM151.4,377.1H159.3V385H151.4zM159,377.1H166.9V385H159zM181.9,377.1H189.9V385H181.9zM67.3,384.7H75.2V392.6H67.3zM82.5,384.7H90.5V392.6H82.5zM105.5,384.7H113.4V392.6H105.5zM143.7,384.7H151.7V392.6H143.7zM151.4,384.7H159.3V392.6H151.4zM97.8,392.3H105.8V400.1H97.8zM128.4,392.3H136.4V400.1H128.4zM74.9,399.8H82.8V407.7H74.9z"/><path fill="#0050ff" d="M166.6,6.9H174.6V15.1H166.6zM174.3,6.9H182.2V15.1H174.3zM159,14.8H166.9V22.9H159zM181.9,22.6H189.9V30.7H181.9zM74.9,46H82.8V54.2H74.9zM82.5,61.7H90.5V69.8H82.5zM181.9,61.7H189.9V69.8H181.9zM197.2,61.7H205.2V69.8H197.2zM189.6,69.5H197.5V77.6H189.6zM204.9,92.8H212.8V100.9H204.9zM204.9,108.4H212.8V116.4H204.9zM204.9,139.4H212.8V147.5H204.9zM212.5,139.4H220.5V147.5H212.5zM212.5,147.2H220.5V155.2H212.5zM235.4,154.9H243.4V162.9H235.4zM235.4,162.6H243.4V170.7H235.4zM243.1,162.6H251V170.7H243.1zM227.8,170.4H235.8V178.4H227.8zM243.1,170.4H251V178.4H243.1zM250.7,170.4H258.7V178.4H250.7zM227.8,193.5H235.8V201.5H227.8zM258.4,193.5H266.3V201.5H258.4zM235.4,201.2H243.4V209.2H235.4zM243.1,201.2H251V209.2H243.1zM258.4,201.2H266.3V209.2H258.4zM235.4,208.9H243.4V216.9H235.4zM243.1,208.9H251V216.9H243.1zM250.7,232H258.7V240H250.7zM243.1,239.7H251V247.7H243.1zM250.7,239.7H258.7V247.7H250.7zM258.4,239.7H266.3V247.7H258.4zM266,239.7H274V247.7H266zM235.4,255H243.4V263H235.4zM243.1,255H251V263H243.1zM250.7,255H258.7V263H250.7zM243.1,262.7H251V270.7H243.1zM258.4,262.7H266.3V270.7H258.4zM227.8,270.4H235.8V278.3H227.8zM235.4,270.4H243.4V278.3H235.4zM227.8,278H235.8V286H227.8zM250.7,278H258.7V286H250.7zM227.8,285.7H235.8V293.6H227.8zM212.5,293.3H220.5V301.3H212.5zM250.7,293.3H258.7V301.3H250.7zM204.9,308.6H212.8V316.5H204.9zM212.5,308.6H220.5V316.5H212.5zM220.2,308.6H228.1V316.5H220.2zM227.8,308.6H235.8V316.5H227.8zM220.2,316.2H228.1V324.2H220.2zM204.9,323.9H212.8V331.8H204.9zM220.2,331.5H228.1V339.4H220.2zM227.8,331.5H235.8V339.4H227.8zM181.9,346.7H189.9V354.6H181.9zM204.9,346.7H212.8V354.6H204.9zM74.9,354.3H82.8V362.2H74.9zM90.2,354.3H98.1V362.2H90.2zM189.6,354.3H197.5V362.2H189.6zM6.1,361.9H14V369.8H6.1zM74.9,361.9H82.8V369.8H74.9zM82.5,361.9H90.5V369.8H82.5zM105.5,361.9H113.4V369.8H105.5zM113.1,361.9H121.1V369.8H113.1zM136.1,361.9H144V369.8H136.1zM159,361.9H166.9V369.8H159zM181.9,361.9H189.9V369.8H181.9zM13.7,369.5H21.7V377.4H13.7zM29,369.5H37V377.4H29zM44.3,369.5H52.3V377.4H44.3zM52,369.5H59.9V377.4H52zM82.5,369.5H90.5V377.4H82.5zM90.2,369.5H98.1V377.4H90.2zM136.1,369.5H144V377.4H136.1zM151.4,369.5H159.3V377.4H151.4zM159,369.5H166.9V377.4H159zM21.4,377.1H29.3V385H21.4zM29,377.1H37V385H29zM59.6,377.1H67.6V385H59.6zM90.2,377.1H98.1V385H90.2zM97.8,377.1H105.8V385H97.8zM128.4,377.1H136.4V385H128.4zM143.7,377.1H151.7V385H143.7zM120.8,384.7H128.7V392.6H120.8zM128.4,384.7H136.4V392.6H128.4zM105.5,392.3H113.4V400.1H105.5z"/><path fill="#0060ff" d="M113.1,-0.9H121.1V7.2H113.1zM136.1,-0.9H144V7.2H136.1zM151.4,-0.9H159.3V7.2H151.4zM159,-0.9H166.9V7.2H159zM151.4,14.8H159.3V22.9H151.4zM166.6,14.8H174.6V22.9H166.6zM159,30.4H166.9V38.5H159zM166.6,30.4H174.6V38.5H166.6zM174.3,30.4H182.2V38.5H174.3zM181.9,30.4H189.9V38.5H181.9zM174.3,38.2H182.2V46.3H174.3zM82.5,53.9H90.5V62H82.5zM189.6,53.9H197.5V62H189.6zM189.6,77.3H197.5V85.3H189.6zM197.2,92.8H205.2V100.9H197.2zM197.2,100.6H205.2V108.7H197.2zM204.9,100.6H212.8V108.7H204.9zM204.9,123.9H212.8V132H204.9zM204.9,131.7H212.8V139.7H204.9zM212.5,131.7H220.5V139.7H212.5zM197.2,139.4H205.2V147.5H197.2zM220.2,147.2H228.1V155.2H220.2zM204.9,154.9H212.8V162.9H204.9zM227.8,162.6H235.8V170.7H227.8zM212.5,170.4H220.5V178.4H212.5zM220.2,170.4H228.1V178.4H220.2zM235.4,170.4H243.4V178.4H235.4zM220.2,178.1H228.1V186.1H220.2zM235.4,178.1H243.4V186.1H235.4zM212.5,185.8H220.5V193.8H212.5zM220.2,185.8H228.1V193.8H220.2zM227.8,185.8H235.8V193.8H227.8zM235.4,185.8H243.4V193.8H235.4zM243.1,193.5H251V201.5H243.1zM227.8,201.2H235.8V209.2H227.8zM243.1,216.6H251V224.6H243.1zM235.4,224.3H243.4V232.3H235.4zM243.1,224.3H251V232.3H243.1zM220.2,232H228.1V240H220.2zM235.4,239.7H243.4V247.7H235.4zM235.4,247.4H243.4V255.3H235.4zM212.5,255H220.5V263H212.5zM227.8,255H235.8V263H227.8zM220.2,262.7H228.1V270.7H220.2zM227.8,262.7H235.8V270.7H227.8zM235.4,278H243.4V286H235.4zM212.5,285.7H220.5V293.6H212.5zM235.4,285.7H243.4V293.6H235.4zM227.8,293.3H235.8V301.3H227.8zM212.5,301H220.5V308.9H212.5zM220.2,301H228.1V308.9H220.2zM181.9,316.2H189.9V324.2H181.9zM174.3,331.5H182.2V339.4H174.3zM197.2,331.5H205.2V339.4H197.2zM159,339.1H166.9V347H159zM189.6,339.1H197.5V347H189.6zM105.5,346.7H113.4V354.6H105.5zM136.1,346.7H144V354.6H136.1zM143.7,346.7H151.7V354.6H143.7zM151.4,346.7H159.3V354.6H151.4zM166.6,346.7H174.6V354.6H166.6zM174.3,346.7H182.2V354.6H174.3zM82.5,354.3H90.5V362.2H82.5zM105.5,354.3H113.4V362.2H105.5zM151.4,354.3H159.3V362.2H151.4zM166.6,354.3H174.6V362.2H166.6zM120.8,361.9H128.7V369.8H120.8zM128.4,361.9H136.4V369.8H128.4zM151.4,361.9H159.3V369.8H151.4zM6.1,369.5H14V377.4H6.1zM36.7,369.5H44.6V377.4H36.7zM120.8,369.5H128.7V377.4H120.8z"/><path fill="#0070ff" d="M67.3,-0.9H75.2V7.2H67.3zM105.5,-0.9H113.4V7.2H105.5zM128.4,-0.9H136.4V7.2H128.4zM67.3,6.9H75.2V15.1H67.3zM136.1,6.9H144V15.1H136.1zM143.7,6.9H151.7V15.1H143.7zM151.4,6.9H159.3V15.1H151.4zM159,6.9H166.9V15.1H159zM143.7,22.6H151.7V30.7H143.7zM159,22.6H166.9V30.7H159zM166.6,22.6H174.6V30.7H166.6zM181.9,46H189.9V54.2H181.9zM166.6,53.9H174.6V62H166.6zM174.3,53.9H182.2V62H174.3zM181.9,53.9H189.9V62H181.9zM181.9,69.5H189.9V77.6H181.9zM197.2,85H205.2V93.1H197.2zM189.6,92.8H197.5V100.9H189.6zM189.6,108.4H197.5V116.4H189.6zM197.2,108.4H205.2V116.4H197.2zM204.9,116.1H212.8V124.2H204.9zM189.6,131.7H197.5V139.7H189.6zM204.9,147.2H212.8V155.2H204.9zM212.5,154.9H220.5V162.9H212.5zM204.9,162.6H212.8V170.7H204.9zM220.2,162.6H228.1V170.7H220.2zM120.8,170.4H128.7V178.4H120.8zM120.8,178.1H128.7V186.1H120.8zM227.8,178.1H235.8V186.1H227.8zM220.2,193.5H228.1V201.5H220.2zM235.4,193.5H243.4V201.5H235.4zM220.2,216.6H228.1V224.6H220.2zM235.4,216.6H243.4V224.6H235.4zM220.2,224.3H228.1V232.3H220.2zM212.5,232H220.5V240H212.5zM235.4,232H243.4V240H235.4zM243.1,232H251V240H243.1zM220.2,239.7H228.1V247.7H220.2zM212.5,262.7H220.5V270.7H212.5zM235.4,262.7H243.4V270.7H235.4zM220.2,278H228.1V286H220.2zM204.9,285.7H212.8V293.6H204.9zM220.2,285.7H228.1V293.6H220.2zM220.2,293.3H228.1V301.3H220.2zM189.6,301H197.5V308.9H189.6zM189.6,308.6H197.5V316.5H189.6zM197.2,308.6H205.2V316.5H197.2zM166.6,316.2H174.6V324.2H166.6zM204.9,316.2H212.8V324.2H204.9zM166.6,323.9H174.6V331.8H166.6zM174.3,323.9H182.2V331.8H174.3zM181.9,323.9H189.9V331.8H181.9zM189.6,323.9H197.5V331.8H189.6zM136.1,331.5H144V339.4H136.1zM189.6,331.5H197.5V339.4H189.6zM204.9,331.5H212.8V339.4H204.9zM120.8,339.1H128.7V347H120.8zM143.7,339.1H151.7V347H143.7zM151.4,339.1H159.3V347H151.4zM181.9,339.1H189.9V347H181.9zM82.5,346.7H90.5V354.6H82.5zM90.2,346.7H98.1V354.6H90.2zM97.8,346.7H105.8V354.6H97.8zM113.1,346.7H121.1V354.6H113.1zM120.8,346.7H128.7V354.6H120.8zM128.4,346.7H136.4V354.6H128.4zM159,346.7H166.9V354.6H159zM113.1,354.3H121.1V362.2H113.1zM120.8,354.3H128.7V362.2H120.8zM136.1,354.3H144V362.2H136.1zM143.7,354.3H151.7V362.2H143.7zM44.3,361.9H52.3V369.8H44.3zM59.6,361.9H67.6V369.8H59.6zM67.3,361.9H75.2V369.8H67.3zM97.8,361.9H105.8V369.8H97.8z"/><path fill="#0080ff" d="M82.5,-0.9H90.5V7.2H82.5zM143.7,-0.9H151.7V7.2H143.7zM74.9,6.9H82.8V15.1H74.9zM113.1,6.9H121.1V15.1H113.1zM128.4,6.9H136.4V15.1H128.4zM136.1,14.8H144V22.9H136.1zM151.4,22.6H159.3V30.7H151.4zM166.6,38.2H174.6V46.3H166.6zM174.3,46H182.2V54.2H174.3zM159,53.9H166.9V62H159zM166.6,61.7H174.6V69.8H166.6zM174.3,61.7H182.2V69.8H174.3zM174.3,69.5H182.2V77.6H174.3zM181.9,77.3H189.9V85.3H181.9zM189.6,85H197.5V93.1H189.6zM197.2,123.9H205.2V132H197.2zM197.2,131.7H205.2V139.7H197.2zM189.6,139.4H197.5V147.5H189.6zM197.2,147.2H205.2V155.2H197.2zM212.5,162.6H220.5V170.7H212.5zM204.9,170.4H212.8V178.4H204.9zM204.9,178.1H212.8V186.1H204.9zM212.5,178.1H220.5V186.1H212.5zM212.5,201.2H220.5V209.2H212.5zM212.5,208.9H220.5V216.9H212.5zM204.9,216.6H212.8V224.6H204.9zM120.8,224.3H128.7V232.3H120.8zM212.5,224.3H220.5V232.3H212.5zM227.8,232H235.8V240H227.8zM212.5,247.4H220.5V255.3H212.5zM220.2,247.4H228.1V255.3H220.2zM227.8,247.4H235.8V255.3H227.8zM197.2,255H205.2V263H197.2zM204.9,255H212.8V263H204.9zM189.6,270.4H197.5V278.3H189.6zM204.9,270.4H212.8V278.3H204.9zM220.2,270.4H228.1V278.3H220.2zM204.9,278H212.8V286H204.9zM181.9,301H189.9V308.9H181.9zM204.9,301H212.8V308.9H204.9zM181.9,308.6H189.9V316.5H181.9zM174.3,316.2H182.2V324.2H174.3zM189.6,316.2H197.5V324.2H189.6zM197.2,316.2H205.2V324.2H197.2zM128.4,323.9H136.4V331.8H128.4zM136.1,323.9H144V331.8H136.1zM151.4,323.9H159.3V331.8H151.4zM159,323.9H166.9V331.8H159zM197.2,323.9H205.2V331.8H197.2zM128.4,331.5H136.4V339.4H128.4zM143.7,331.5H151.7V339.4H143.7zM151.4,331.5H159.3V339.4H151.4zM159,331.5H166.9V339.4H159zM181.9,331.5H189.9V339.4H181.9zM90.2,339.1H98.1V347H90.2zM105.5,339.1H113.4V347H105.5zM113.1,339.1H121.1V347H113.1zM128.4,339.1H136.4V347H128.4zM136.1,339.1H144V347H136.1zM166.6,339.1H174.6V347H166.6zM174.3,339.1H182.2V347H174.3zM67.3,346.7H75.2V354.6H67.3zM97.8,354.3H105.8V362.2H97.8zM128.4,354.3H136.4V362.2H128.4zM52,361.9H59.9V369.8H52zM21.4,369.5H29.3V377.4H21.4z"/><path fill="#008fff" d="M74.9,-0.9H82.8V7.2H74.9zM90.2,-0.9H98.1V7.2H90.2zM97.8,-0.9H105.8V7.2H97.8zM120.8,-0.9H128.7V7.2H120.8zM82.5,6.9H90.5V15.1H82.5zM97.8,6.9H105.8V15.1H97.8zM120.8,6.9H128.7V15.1H120.8zM82.5,14.8H90.5V22.9H82.5zM97.8,14.8H105.8V22.9H97.8zM113.1,14.8H121.1V22.9H113.1zM143.7,14.8H151.7V22.9H143.7zM120.8,22.6H128.7V30.7H120.8zM143.7,30.4H151.7V38.5H143.7zM143.7,38.2H151.7V46.3H143.7zM159,38.2H166.9V46.3H159zM151.4,46H159.3V54.2H151.4zM166.6,46H174.6V54.2H166.6zM166.6,69.5H174.6V77.6H166.6zM174.3,85H182.2V93.1H174.3zM181.9,85H189.9V93.1H181.9zM174.3,100.6H182.2V108.7H174.3zM189.6,100.6H197.5V108.7H189.6zM181.9,108.4H189.9V116.4H181.9zM189.6,116.1H197.5V124.2H189.6zM197.2,116.1H205.2V124.2H197.2zM181.9,123.9H189.9V132H181.9zM189.6,123.9H197.5V132H189.6zM105.5,131.7H113.4V139.7H105.5zM181.9,131.7H189.9V139.7H181.9zM189.6,154.9H197.5V162.9H189.6zM189.6,162.6H197.5V170.7H189.6zM197.2,162.6H205.2V170.7H197.2zM197.2,170.4H205.2V178.4H197.2zM189.6,178.1H197.5V186.1H189.6zM197.2,185.8H205.2V193.8H197.2zM220.2,201.2H228.1V209.2H220.2zM204.9,208.9H212.8V216.9H204.9zM220.2,208.9H228.1V216.9H220.2zM227.8,208.9H235.8V216.9H227.8zM227.8,216.6H235.8V224.6H227.8zM227.8,224.3H235.8V232.3H227.8zM204.9,239.7H212.8V247.7H204.9zM212.5,239.7H220.5V247.7H212.5zM227.8,239.7H235.8V247.7H227.8zM204.9,247.4H212.8V255.3H204.9zM189.6,255H197.5V263H189.6zM220.2,255H228.1V263H220.2zM181.9,262.7H189.9V270.7H181.9zM204.9,262.7H212.8V270.7H204.9zM181.9,270.4H189.9V278.3H181.9zM197.2,270.4H205.2V278.3H197.2zM212.5,270.4H220.5V278.3H212.5zM181.9,278H189.9V286H181.9zM212.5,278H220.5V286H212.5zM181.9,285.7H189.9V293.6H181.9zM197.2,285.7H205.2V293.6H197.2zM166.6,293.3H174.6V301.3H166.6zM174.3,293.3H182.2V301.3H174.3zM197.2,293.3H205.2V301.3H197.2zM204.9,293.3H212.8V301.3H204.9zM151.4,301H159.3V308.9H151.4zM197.2,301H205.2V308.9H197.2zM151.4,308.6H159.3V316.5H151.4zM159,308.6H166.9V316.5H159zM166.6,308.6H174.6V316.5H166.6zM143.7,316.2H151.7V324.2H143.7zM159,316.2H166.9V324.2H159zM90.2,331.5H98.1V339.4H90.2zM113.1,331.5H121.1V339.4H113.1zM120.8,331.5H128.7V339.4H120.8zM166.6,331.5H174.6V339.4H166.6zM6.1,354.3H14V362.2H6.1zM59.6,354.3H67.6V362.2H59.6zM67.3,354.3H75.2V362.2H67.3zM21.4,361.9H29.3V369.8H21.4zM29,361.9H37V369.8H29zM36.7,361.9H44.6V369.8H36.7z"/><path fill="#009fff" d="M105.5,6.9H113.4V15.1H105.5zM97.8,22.6H105.8V30.7H97.8zM128.4,22.6H136.4V30.7H128.4zM136.1,22.6H144V30.7H136.1zM113.1,30.4H121.1V38.5H113.1zM128.4,30.4H136.4V38.5H128.4zM151.4,30.4H159.3V38.5H151.4zM151.4,38.2H159.3V46.3H151.4zM159,46H166.9V54.2H159zM151.4,53.9H159.3V62H151.4zM159,61.7H166.9V69.8H159zM90.2,77.3H98.1V85.3H90.2zM166.6,77.3H174.6V85.3H166.6zM174.3,77.3H182.2V85.3H174.3zM166.6,85H174.6V93.1H166.6zM181.9,92.8H189.9V100.9H181.9zM181.9,100.6H189.9V108.7H181.9zM174.3,108.4H182.2V116.4H174.3zM181.9,116.1H189.9V124.2H181.9zM181.9,154.9H189.9V162.9H181.9zM197.2,154.9H205.2V162.9H197.2zM189.6,185.8H197.5V193.8H189.6zM204.9,185.8H212.8V193.8H204.9zM212.5,193.5H220.5V201.5H212.5zM197.2,201.2H205.2V209.2H197.2zM189.6,216.6H197.5V224.6H189.6zM212.5,216.6H220.5V224.6H212.5zM181.9,232H189.9V240H181.9zM197.2,232H205.2V240H197.2zM181.9,239.7H189.9V247.7H181.9zM189.6,247.4H197.5V255.3H189.6zM197.2,247.4H205.2V255.3H197.2zM197.2,262.7H205.2V270.7H197.2zM174.3,270.4H182.2V278.3H174.3zM189.6,285.7H197.5V293.6H189.6zM189.6,293.3H197.5V301.3H189.6zM159,301H166.9V308.9H159zM174.3,308.6H182.2V316.5H174.3zM120.8,316.2H128.7V324.2H120.8zM136.1,316.2H144V324.2H136.1zM143.7,323.9H151.7V331.8H143.7zM105.5,331.5H113.4V339.4H105.5zM74.9,339.1H82.8V347H74.9zM74.9,346.7H82.8V354.6H74.9zM13.7,361.9H21.7V369.8H13.7z"/><path fill="#00afff" d="M90.2,6.9H98.1V15.1H90.2zM90.2,14.8H98.1V22.9H90.2zM105.5,14.8H113.4V22.9H105.5zM120.8,14.8H128.7V22.9H120.8zM128.4,14.8H136.4V22.9H128.4zM105.5,22.6H113.4V30.7H105.5zM113.1,22.6H121.1V30.7H113.1zM120.8,30.4H128.7V38.5H120.8zM136.1,30.4H144V38.5H136.1zM128.4,46H136.4V54.2H128.4zM128.4,53.9H136.4V62H128.4zM159,85H166.9V93.1H159zM166.6,92.8H174.6V100.9H166.6zM174.3,92.8H182.2V100.9H174.3zM166.6,100.6H174.6V108.7H166.6zM174.3,123.9H182.2V132H174.3zM181.9,139.4H189.9V147.5H181.9zM181.9,147.2H189.9V155.2H181.9zM189.6,147.2H197.5V155.2H189.6zM174.3,162.6H182.2V170.7H174.3zM174.3,170.4H182.2V178.4H174.3zM181.9,170.4H189.9V178.4H181.9zM197.2,178.1H205.2V186.1H197.2zM128.4,193.5H136.4V201.5H128.4zM174.3,193.5H182.2V201.5H174.3zM197.2,193.5H205.2V201.5H197.2zM204.9,193.5H212.8V201.5H204.9zM128.4,201.2H136.4V209.2H128.4zM189.6,201.2H197.5V209.2H189.6zM204.9,201.2H212.8V209.2H204.9zM181.9,208.9H189.9V216.9H181.9zM189.6,208.9H197.5V216.9H189.6zM181.9,216.6H189.9V224.6H181.9zM181.9,224.3H189.9V232.3H181.9zM204.9,224.3H212.8V232.3H204.9zM204.9,232H212.8V240H204.9zM189.6,239.7H197.5V247.7H189.6zM197.2,239.7H205.2V247.7H197.2zM181.9,247.4H189.9V255.3H181.9zM166.6,262.7H174.6V270.7H166.6zM159,278H166.9V286H159zM174.3,278H182.2V286H174.3zM189.6,278H197.5V286H189.6zM197.2,278H205.2V286H197.2zM159,285.7H166.9V293.6H159zM166.6,285.7H174.6V293.6H166.6zM174.3,285.7H182.2V293.6H174.3zM143.7,293.3H151.7V301.3H143.7zM159,293.3H166.9V301.3H159zM181.9,293.3H189.9V301.3H181.9zM143.7,301H151.7V308.9H143.7zM166.6,301H174.6V308.9H166.6zM174.3,301H182.2V308.9H174.3zM136.1,308.6H144V316.5H136.1zM143.7,308.6H151.7V316.5H143.7zM128.4,316.2H136.4V324.2H128.4zM151.4,316.2H159.3V324.2H151.4zM105.5,323.9H113.4V331.8H105.5zM113.1,323.9H121.1V331.8H113.1zM120.8,323.9H128.7V331.8H120.8zM82.5,339.1H90.5V347H82.5zM97.8,339.1H105.8V347H97.8zM59.6,346.7H67.6V354.6H59.6zM29,354.3H37V362.2H29zM52,354.3H59.9V362.2H52z"/><path fill="#00bfff" d="M74.9,14.8H82.8V22.9H74.9zM82.5,22.6H90.5V30.7H82.5zM90.2,22.6H98.1V30.7H90.2zM120.8,38.2H128.7V46.3H120.8zM136.1,38.2H144V46.3H136.1zM120.8,46H128.7V54.2H120.8zM136.1,46H144V54.2H136.1zM143.7,46H151.7V54.2H143.7zM136.1,53.9H144V62H136.1zM143.7,53.9H151.7V62H143.7zM90.2,61.7H98.1V69.8H90.2zM143.7,61.7H151.7V69.8H143.7zM151.4,61.7H159.3V69.8H151.4zM136.1,69.5H144V77.6H136.1zM143.7,69.5H151.7V77.6H143.7zM151.4,69.5H159.3V77.6H151.4zM159,69.5H166.9V77.6H159zM151.4,77.3H159.3V85.3H151.4zM159,77.3H166.9V85.3H159zM151.4,85H159.3V93.1H151.4zM97.8,92.8H105.8V100.9H97.8zM151.4,92.8H159.3V100.9H151.4zM159,100.6H166.9V108.7H159zM159,116.1H166.9V124.2H159zM174.3,116.1H182.2V124.2H174.3zM166.6,123.9H174.6V132H166.6zM166.6,131.7H174.6V139.7H166.6zM174.3,131.7H182.2V139.7H174.3zM174.3,154.9H182.2V162.9H174.3zM189.6,170.4H197.5V178.4H189.6zM181.9,178.1H189.9V186.1H181.9zM181.9,193.5H189.9V201.5H181.9zM189.6,193.5H197.5V201.5H189.6zM181.9,201.2H189.9V209.2H181.9zM128.4,208.9H136.4V216.9H128.4zM197.2,208.9H205.2V216.9H197.2zM197.2,216.6H205.2V224.6H197.2zM174.3,224.3H182.2V232.3H174.3zM197.2,224.3H205.2V232.3H197.2zM120.8,232H128.7V240H120.8zM174.3,232H182.2V240H174.3zM174.3,239.7H182.2V247.7H174.3zM166.6,255H174.6V263H166.6zM181.9,255H189.9V263H181.9zM174.3,262.7H182.2V270.7H174.3zM189.6,262.7H197.5V270.7H189.6zM166.6,270.4H174.6V278.3H166.6zM136.1,285.7H144V293.6H136.1zM151.4,293.3H159.3V301.3H151.4zM120.8,308.6H128.7V316.5H120.8zM105.5,316.2H113.4V324.2H105.5zM97.8,323.9H105.8V331.8H97.8zM82.5,331.5H90.5V339.4H82.5zM97.8,331.5H105.8V339.4H97.8zM67.3,339.1H75.2V347H67.3zM52,346.7H59.9V354.6H52zM21.4,354.3H29.3V362.2H21.4zM36.7,354.3H44.6V362.2H36.7zM44.3,354.3H52.3V362.2H44.3z"/><path fill="#00cfff" d="M74.9,22.6H82.8V30.7H74.9zM97.8,30.4H105.8V38.5H97.8zM105.5,30.4H113.4V38.5H105.5zM128.4,38.2H136.4V46.3H128.4zM113.1,53.9H121.1V62H113.1zM120.8,53.9H128.7V62H120.8zM90.2,69.5H98.1V77.6H90.2zM128.4,69.5H136.4V77.6H128.4zM90.2,85H98.1V93.1H90.2zM166.6,108.4H174.6V116.4H166.6zM166.6,116.1H174.6V124.2H166.6zM159,123.9H166.9V132H159zM159,131.7H166.9V139.7H159zM166.6,154.9H174.6V162.9H166.6zM159,162.6H166.9V170.7H159zM181.9,162.6H189.9V170.7H181.9zM128.4,178.1H136.4V186.1H128.4zM166.6,178.1H174.6V186.1H166.6zM174.3,178.1H182.2V186.1H174.3zM128.4,185.8H136.4V193.8H128.4zM166.6,185.8H174.6V193.8H166.6zM181.9,185.8H189.9V193.8H181.9zM166.6,193.5H174.6V201.5H166.6zM174.3,201.2H182.2V209.2H174.3zM166.6,208.9H174.6V216.9H166.6zM128.4,216.6H136.4V224.6H128.4zM166.6,216.6H174.6V224.6H166.6zM174.3,216.6H182.2V224.6H174.3zM189.6,224.3H197.5V232.3H189.6zM159,232H166.9V240H159zM166.6,232H174.6V240H166.6zM189.6,232H197.5V240H189.6zM174.3,247.4H182.2V255.3H174.3zM159,255H166.9V263H159zM174.3,255H182.2V263H174.3zM159,262.7H166.9V270.7H159zM151.4,270.4H159.3V278.3H151.4zM151.4,278H159.3V286H151.4zM166.6,278H174.6V286H166.6zM143.7,285.7H151.7V293.6H143.7zM151.4,285.7H159.3V293.6H151.4zM128.4,293.3H136.4V301.3H128.4zM136.1,301H144V308.9H136.1zM105.5,308.6H113.4V316.5H105.5zM128.4,308.6H136.4V316.5H128.4zM97.8,316.2H105.8V324.2H97.8zM90.2,323.9H98.1V331.8H90.2zM44.3,346.7H52.3V354.6H44.3z"/><path fill="#00dfff" d="M82.5,30.4H90.5V38.5H82.5zM90.2,30.4H98.1V38.5H90.2zM105.5,61.7H113.4V69.8H105.5zM136.1,61.7H144V69.8H136.1zM97.8,69.5H105.8V77.6H97.8zM120.8,77.3H128.7V85.3H120.8zM128.4,77.3H136.4V85.3H128.4zM128.4,92.8H136.4V100.9H128.4zM159,92.8H166.9V100.9H159zM97.8,100.6H105.8V108.7H97.8zM151.4,100.6H159.3V108.7H151.4zM105.5,108.4H113.4V116.4H105.5zM159,108.4H166.9V116.4H159zM151.4,123.9H159.3V132H151.4zM159,139.4H166.9V147.5H159zM166.6,139.4H174.6V147.5H166.6zM174.3,139.4H182.2V147.5H174.3zM174.3,147.2H182.2V155.2H174.3zM166.6,170.4H174.6V178.4H166.6zM151.4,178.1H159.3V186.1H151.4zM159,185.8H166.9V193.8H159zM174.3,185.8H182.2V193.8H174.3zM159,193.5H166.9V201.5H159zM151.4,201.2H159.3V209.2H151.4zM151.4,224.3H159.3V232.3H151.4zM159,224.3H166.9V232.3H159zM159,239.7H166.9V247.7H159zM159,247.4H166.9V255.3H159zM151.4,262.7H159.3V270.7H151.4zM159,270.4H166.9V278.3H159zM143.7,278H151.7V286H143.7zM120.8,293.3H128.7V301.3H120.8zM136.1,293.3H144V301.3H136.1zM113.1,301H121.1V308.9H113.1zM128.4,301H136.4V308.9H128.4zM113.1,308.6H121.1V316.5H113.1zM113.1,316.2H121.1V324.2H113.1zM82.5,323.9H90.5V331.8H82.5zM74.9,331.5H82.8V339.4H74.9zM13.7,354.3H21.7V362.2H13.7z"/><path fill="#00efff" d="M74.9,30.4H82.8V38.5H74.9zM105.5,38.2H113.4V46.3H105.5zM113.1,38.2H121.1V46.3H113.1zM105.5,46H113.4V54.2H105.5zM113.1,46H121.1V54.2H113.1zM105.5,53.9H113.4V62H105.5zM120.8,61.7H128.7V69.8H120.8zM128.4,61.7H136.4V69.8H128.4zM105.5,69.5H113.4V77.6H105.5zM113.1,69.5H121.1V77.6H113.1zM97.8,77.3H105.8V85.3H97.8zM105.5,77.3H113.4V85.3H105.5zM136.1,77.3H144V85.3H136.1zM143.7,77.3H151.7V85.3H143.7zM105.5,85H113.4V93.1H105.5zM113.1,85H121.1V93.1H113.1zM143.7,85H151.7V93.1H143.7zM105.5,92.8H113.4V100.9H105.5zM105.5,116.1H113.4V124.2H105.5zM143.7,116.1H151.7V124.2H143.7zM151.4,116.1H159.3V124.2H151.4zM151.4,131.7H159.3V139.7H151.4zM166.6,147.2H174.6V155.2H166.6zM151.4,162.6H159.3V170.7H151.4zM166.6,162.6H174.6V170.7H166.6zM128.4,170.4H136.4V178.4H128.4zM159,170.4H166.9V178.4H159zM159,178.1H166.9V186.1H159zM143.7,193.5H151.7V201.5H143.7zM143.7,201.2H151.7V209.2H143.7zM159,201.2H166.9V209.2H159zM159,208.9H166.9V216.9H159zM174.3,208.9H182.2V216.9H174.3zM143.7,216.6H151.7V224.6H143.7zM151.4,216.6H159.3V224.6H151.4zM159,216.6H166.9V224.6H159zM166.6,224.3H174.6V232.3H166.6zM166.6,239.7H174.6V247.7H166.6zM166.6,247.4H174.6V255.3H166.6zM128.4,285.7H136.4V293.6H128.4zM120.8,301H128.7V308.9H120.8zM82.5,316.2H90.5V324.2H82.5zM52,339.1H59.9V347H52zM59.6,339.1H67.6V347H59.6z"/><path fill="#00ffff" d="M113.1,61.7H121.1V69.8H113.1zM120.8,69.5H128.7V77.6H120.8zM113.1,77.3H121.1V85.3H113.1zM97.8,85H105.8V93.1H97.8zM120.8,85H128.7V93.1H120.8zM128.4,85H136.4V93.1H128.4zM136.1,85H144V93.1H136.1zM113.1,92.8H121.1V100.9H113.1zM136.1,92.8H144V100.9H136.1zM143.7,92.8H151.7V100.9H143.7zM105.5,100.6H113.4V108.7H105.5zM113.1,100.6H121.1V108.7H113.1zM136.1,100.6H144V108.7H136.1zM143.7,100.6H151.7V108.7H143.7zM128.4,108.4H136.4V116.4H128.4zM136.1,108.4H144V116.4H136.1zM143.7,108.4H151.7V116.4H143.7zM151.4,108.4H159.3V116.4H151.4zM151.4,139.4H159.3V147.5H151.4zM151.4,147.2H159.3V155.2H151.4zM159,147.2H166.9V155.2H159zM159,154.9H166.9V162.9H159zM151.4,170.4H159.3V178.4H151.4zM143.7,178.1H151.7V186.1H143.7zM143.7,185.8H151.7V193.8H143.7zM136.1,193.5H144V201.5H136.1zM151.4,193.5H159.3V201.5H151.4zM136.1,201.2H144V209.2H136.1zM166.6,201.2H174.6V209.2H166.6zM128.4,224.3H136.4V232.3H128.4zM143.7,224.3H151.7V232.3H143.7zM113.1,293.3H121.1V301.3H113.1zM97.8,301H105.8V308.9H97.8zM90.2,308.6H98.1V316.5H90.2zM59.6,331.5H67.6V339.4H59.6zM67.3,331.5H75.2V339.4H67.3zM6.1,339.1H14V347H6.1zM6.1,346.7H14V354.6H6.1zM36.7,346.7H44.6V354.6H36.7z"/><path fill="#10ffef" d="M90.2,53.9H98.1V62H90.2zM97.8,61.7H105.8V69.8H97.8zM120.8,92.8H128.7V100.9H120.8zM128.4,100.6H136.4V108.7H128.4zM120.8,108.4H128.7V116.4H120.8zM143.7,123.9H151.7V132H143.7zM143.7,131.7H151.7V139.7H143.7zM136.1,185.8H144V193.8H136.1zM151.4,185.8H159.3V193.8H151.4zM136.1,208.9H144V216.9H136.1zM143.7,208.9H151.7V216.9H143.7zM151.4,208.9H159.3V216.9H151.4zM151.4,232H159.3V240H151.4zM120.8,285.7H128.7V293.6H120.8zM97.8,293.3H105.8V301.3H97.8zM105.5,301H113.4V308.9H105.5zM97.8,308.6H105.8V316.5H97.8zM90.2,316.2H98.1V324.2H90.2z"/><path fill="#20ffdf" d="M74.9,38.2H82.8V46.3H74.9zM97.8,38.2H105.8V46.3H97.8zM97.8,53.9H105.8V62H97.8zM120.8,100.6H128.7V108.7H120.8zM136.1,116.1H144V124.2H136.1zM105.5,123.9H113.4V132H105.5zM151.4,154.9H159.3V162.9H151.4zM151.4,239.7H159.3V247.7H151.4zM151.4,247.4H159.3V255.3H151.4zM151.4,255H159.3V263H151.4zM143.7,270.4H151.7V278.3H143.7zM120.8,278H128.7V286H120.8zM136.1,278H144V286H136.1zM74.9,316.2H82.8V324.2H74.9zM59.6,323.9H67.6V331.8H59.6zM74.9,323.9H82.8V331.8H74.9zM52,331.5H59.9V339.4H52zM44.3,339.1H52.3V347H44.3zM13.7,346.7H21.7V354.6H13.7zM21.4,346.7H29.3V354.6H21.4zM29,346.7H37V354.6H29z"/><path fill="#30ffcf" d="M90.2,38.2H98.1V46.3H90.2zM113.1,108.4H121.1V116.4H113.1zM143.7,170.4H151.7V178.4H143.7zM136.1,216.6H144V224.6H136.1zM136.1,224.3H144V232.3H136.1zM128.4,278H136.4V286H128.4zM113.1,285.7H121.1V293.6H113.1zM105.5,293.3H113.4V301.3H105.5zM82.5,308.6H90.5V316.5H82.5zM67.3,323.9H75.2V331.8H67.3z"/><path fill="#40ffbf" d="M82.5,38.2H90.5V46.3H82.5zM97.8,46H105.8V54.2H97.8zM128.4,116.1H136.4V124.2H128.4zM143.7,139.4H151.7V147.5H143.7zM143.7,154.9H151.7V162.9H143.7zM143.7,162.6H151.7V170.7H143.7zM136.1,170.4H144V178.4H136.1zM136.1,178.1H144V186.1H136.1zM143.7,262.7H151.7V270.7H143.7zM105.5,278H113.4V286H105.5zM113.1,278H121.1V286H113.1zM97.8,285.7H105.8V293.6H97.8zM105.5,285.7H113.4V293.6H105.5zM90.2,301H98.1V308.9H90.2zM74.9,308.6H82.8V316.5H74.9z"/><path fill="#50ffaf" d="M82.5,46H90.5V54.2H82.5zM113.1,116.1H121.1V124.2H113.1zM120.8,116.1H128.7V124.2H120.8zM136.1,123.9H144V132H136.1zM136.1,162.6H144V170.7H136.1zM143.7,232H151.7V240H143.7zM143.7,255H151.7V263H143.7zM97.8,270.4H105.8V278.3H97.8zM136.1,270.4H144V278.3H136.1zM97.8,278H105.8V286H97.8zM67.3,316.2H75.2V324.2H67.3zM52,323.9H59.9V331.8H52zM44.3,331.5H52.3V339.4H44.3z"/><path fill="#60ff9f" d="M136.1,131.7H144V139.7H136.1zM143.7,147.2H151.7V155.2H143.7zM143.7,239.7H151.7V247.7H143.7zM97.8,262.7H105.8V270.7H97.8zM90.2,270.4H98.1V278.3H90.2zM105.5,270.4H113.4V278.3H105.5zM82.5,301H90.5V308.9H82.5zM36.7,339.1H44.6V347H36.7z"/><path fill="#70ff8f" d="M128.4,123.9H136.4V132H128.4zM143.7,247.4H151.7V255.3H143.7zM90.2,255H98.1V263H90.2zM90.2,262.7H98.1V270.7H90.2zM113.1,270.4H121.1V278.3H113.1zM128.4,270.4H136.4V278.3H128.4zM90.2,293.3H98.1V301.3H90.2zM67.3,308.6H75.2V316.5H67.3zM29,339.1H37V347H29z"/><path fill="#80ff80" d="M128.4,232H136.4V240H128.4zM136.1,232H144V240H136.1zM97.8,255H105.8V263H97.8zM82.5,262.7H90.5V270.7H82.5zM59.6,316.2H67.6V324.2H59.6zM21.4,339.1H29.3V347H21.4z"/><path fill="#8fff70" d="M90.2,278H98.1V286H90.2zM13.7,323.9H21.7V331.8H13.7zM36.7,331.5H44.6V339.4H36.7zM13.7,339.1H21.7V347H13.7z"/><path fill="#9fff60" d="M113.1,131.7H121.1V139.7H113.1zM136.1,262.7H144V270.7H136.1zM90.2,285.7H98.1V293.6H90.2zM74.9,301H82.8V308.9H74.9zM21.4,316.2H29.3V324.2H21.4zM13.7,331.5H21.7V339.4H13.7z"/><path fill="#afff50" d="M90.2,46H98.1V54.2H90.2zM136.1,139.4H144V147.5H136.1zM136.1,154.9H144V162.9H136.1zM105.5,262.7H113.4V270.7H105.5zM120.8,270.4H128.7V278.3H120.8zM29,308.6H37V316.5H29z"/><path fill="#bfff40" d="M113.1,123.9H121.1V132H113.1zM120.8,123.9H128.7V132H120.8zM128.4,131.7H136.4V139.7H128.4zM136.1,147.2H144V155.2H136.1zM128.4,162.6H136.4V170.7H128.4zM105.5,255H113.4V263H105.5zM82.5,293.3H90.5V301.3H82.5zM52,316.2H59.9V324.2H52zM44.3,323.9H52.3V331.8H44.3z"/><path fill="#cfff30" d="M59.6,308.6H67.6V316.5H59.6zM44.3,316.2H52.3V324.2H44.3zM21.4,323.9H29.3V331.8H21.4zM21.4,331.5H29.3V339.4H21.4z"/><path fill="#dfff20" d="M82.5,270.4H90.5V278.3H82.5zM52,285.7H59.9V293.6H52zM36.7,301H44.6V308.9H36.7zM52,308.6H59.9V316.5H52zM36.7,323.9H44.6V331.8H36.7z"/><path fill="#efff10" d="M44.3,293.3H52.3V301.3H44.3zM44.3,301H52.3V308.9H44.3zM67.3,301H75.2V308.9H67.3zM44.3,308.6H52.3V316.5H44.3zM29,331.5H37V339.4H29z"/><path fill="#ffff00" d="M136.1,239.7H144V247.7H136.1zM136.1,255H144V263H136.1zM113.1,262.7H121.1V270.7H113.1zM36.7,308.6H44.6V316.5H36.7zM29,316.2H37V324.2H29zM36.7,316.2H44.6V324.2H36.7z"/><path fill="#ffef00" d="M59.6,301H67.6V308.9H59.6z"/><path fill="#ffdf00" d="M120.8,162.6H128.7V170.7H120.8zM136.1,247.4H144V255.3H136.1zM128.4,262.7H136.4V270.7H128.4zM52,293.3H59.9V301.3H52zM52,301H59.9V308.9H52zM29,323.9H37V331.8H29z"/><path fill="#ffcf00" d="M120.8,131.7H128.7V139.7H120.8zM113.1,162.6H121.1V170.7H113.1zM82.5,278H90.5V286H82.5z"/><path fill="#ffbf00" d="M128.4,139.4H136.4V147.5H128.4zM120.8,262.7H128.7V270.7H120.8zM82.5,285.7H90.5V293.6H82.5zM59.6,293.3H67.6V301.3H59.6z"/><path fill="#ffaf00" d="M105.5,139.4H113.4V147.5H105.5zM74.9,293.3H82.8V301.3H74.9z"/><path fill="#ff9f00" d="M128.4,154.9H136.4V162.9H128.4z"/><path fill="#ff8f00" d="M67.3,293.3H75.2V301.3H67.3z"/><path fill="#ff8000" d="M128.4,147.2H136.4V155.2H128.4zM113.1,255H121.1V263H113.1zM59.6,278H67.6V286H59.6z"/><path fill="#ff6000" d="M74.9,270.4H82.8V278.3H74.9zM59.6,285.7H67.6V293.6H59.6z"/><path fill="#ff5000" d="M67.3,270.4H75.2V278.3H67.3z"/><path fill="#ff3000" d="M128.4,239.7H136.4V247.7H128.4z"/><path fill="#ff2000" d="M120.8,239.7H128.7V247.7H120.8z"/><path fill="#ff1000" d="M74.9,285.7H82.8V293.6H74.9z"/><path fill="#ff0000" d="M113.1,139.4H121.1V147.5H113.1zM128.4,255H136.4V263H128.4z"/><path fill="#ef0000" d="M120.8,139.4H128.7V147.5H120.8zM113.1,154.9H121.1V162.9H113.1zM120.8,154.9H128.7V162.9H120.8zM120.8,255H128.7V263H120.8z"/><path fill="#df0000" d="M128.4,247.4H136.4V255.3H128.4zM67.3,278H75.2V286H67.3zM74.9,278H82.8V286H74.9zM67.3,285.7H75.2V293.6H67.3z"/><path fill="#af0000" d="M113.1,147.2H121.1V155.2H113.1z"/><path fill="#800000" d="M120.8,147.2H128.7V155.2H120.8zM120.8,247.4H128.7V255.3H120.8z"/></g>
<use href="#land"/>
<path d="M224.3,-0.4L227.3,22.6L217.3,36.6L213.3,54.6M220.3,68.6L221.3,76.6L227.3,88.6L245.3,92.6L257.3,100.6L259.3,107.6L267.3,107.6L275.3,100.6L281.3,100.6L282.3,110.6L301.3,116.6L298.3,123.6L305.3,125.6L320.3,116.2L313.3,104.6L309.3,94.6L312.3,84.6L305.3,76.6L312.3,70.6L304.3,62.6L303.3,46.6L309.3,41.6L320.3,39.6L325.3,50.6L333.3,72.6L335.3,76.6M256.3,128.6L260.3,129.6L259.3,134.6L254.3,134.6M143.3,413.6L157.3,407.6L167.3,398.6L181.3,407.6L177.3,421.6L183.3,427.6M205.3,425.6L213.3,419.6L221.3,419.2L228.3,412L235.3,415.2L243.3,415.2L256.3,426.6M262.3,413.6L265.3,407.6L282.3,407.6L285.3,413.6L281.3,419.6L265.3,421.6L262.3,413.6M335.3,338.6L323.3,341.6L313.3,345.6L321.3,361.6L333.3,371.6L325.3,383.6L313.3,391.6L301.3,413.6L285.3,426.6" stroke="#000" stroke-width="0.9" fill="none"/><text x="213.3" y="65.6" font-size="11.5" text-anchor="middle" transform="rotate(60 213.3 61.6)">3</text><text x="249.3" y="135.6" font-size="11.5" text-anchor="middle" transform="rotate(80 249.3 131.6)">3</text><text x="323.3" y="387.6" font-size="11.5" text-anchor="middle" transform="rotate(-30 323.3 383.6)">3</text><text x="196.3" y="428.6" font-size="11.5" text-anchor="middle" transform="rotate(0 196.3 424.6)">3</text><text x="311.3" y="41.6" font-size="11.5" text-anchor="middle" transform="rotate(20 311.3 37.6)">3</text>
<use href="#star" x="66.8" y="46.6"/>
<use href="#star" x="104.8" y="157.1"/>
<use href="#star" x="114.3" y="250.1"/>
<use href="#star" x="62.8" y="271.6"/>
<use href="#star" x="10.3" y="320.6"/>
<rect x="3.6" y="20.1" width="111.5" height="25.2" fill="url(#jet)" stroke="#262626" stroke-width="1.3"/>
</g>
<path d="M58,427.5v-3.2M58,0v3.2M116,427.5v-3.2M116,0v3.2M173.9,427.5v-3.2M173.9,0v3.2M231.9,427.5v-3.2M231.9,0v3.2M289.9,427.5v-3.2M289.9,0v3.2M0,72.4h3.2M347.9,72.4h-3.2M0,144.3h3.2M347.9,144.3h-3.2M0,215.7h3.2M347.9,215.7h-3.2M0,286.8h3.2M347.9,286.8h-3.2M0,357.3h3.2M347.9,357.3h-3.2" stroke="#000" stroke-width="1" fill="none"/>
<rect x="0" y="0" width="347.9" height="427.5" fill="none" stroke="#000" stroke-width="1.1"/>
</g>
<g transform="translate(1227.1,142.4)">
<rect x="0" y="0" width="347.9" height="427.5" fill="#fff"/>
<g clip-path="url(#ax)">
<path d="M58,0V427.5M116,0V427.5M173.9,0V427.5M231.9,0V427.5M289.9,0V427.5M0,72.4H347.9M0,144.3H347.9M0,215.7H347.9M0,286.8H347.9M0,357.3H347.9" stroke="#bcbcbc" stroke-width="1" stroke-dasharray="2.6,5.8" fill="none"/>
<g shape-rendering="crispEdges"><path fill="#ffc800" d="M67.3,-0.9H228.1V7.2H67.3zM74.9,6.9H235.8V15.1H74.9zM74.9,14.8H235.8V22.9H74.9zM74.9,22.6H235.8V30.7H74.9zM74.9,30.4H197.5V38.5H74.9zM204.9,30.4H212.8V38.5H204.9zM227.8,30.4H235.8V38.5H227.8zM311.9,30.4H327.5V38.5H311.9zM74.9,38.2H189.9V46.3H74.9zM197.2,38.2H205.2V46.3H197.2zM220.2,38.2H228.1V46.3H220.2zM304.3,38.2H335.1V46.3H304.3zM74.9,46H189.9V54.2H74.9zM204.9,46H220.5V54.2H204.9zM304.3,46H335.1V54.2H304.3zM82.5,53.9H189.9V62H82.5zM204.9,53.9H220.5V62H204.9zM311.9,53.9H342.8V62H311.9zM82.5,61.7H189.9V69.8H82.5zM220.2,61.7H228.1V69.8H220.2zM327.2,61.7H342.8V69.8H327.2zM82.5,69.5H151.7V77.6H82.5zM181.9,69.5H228.1V77.6H181.9zM304.3,69.5H319.8V77.6H304.3zM327.2,69.5H350.4V77.6H327.2zM82.5,77.3H136.4V85.3H82.5zM181.9,77.3H235.8V85.3H181.9zM304.3,77.3H327.5V85.3H304.3zM334.8,77.3H350.4V85.3H334.8zM90.2,85H128.7V93.1H90.2zM181.9,85H243.4V93.1H181.9zM304.3,85H350.4V93.1H304.3zM90.2,92.8H128.7V100.9H90.2zM159,92.8H174.6V100.9H159zM181.9,92.8H243.4V100.9H181.9zM273.7,92.8H289.3V100.9H273.7zM311.9,92.8H350.4V100.9H311.9zM90.2,100.6H128.7V108.7H90.2zM174.3,100.6H251V108.7H174.3zM273.7,100.6H304.6V108.7H273.7zM311.9,100.6H350.4V108.7H311.9zM113.1,108.4H136.4V116.4H113.1zM174.3,108.4H251V116.4H174.3zM281.3,108.4H304.6V116.4H281.3zM311.9,108.4H350.4V116.4H311.9zM113.1,116.1H128.7V124.2H113.1zM166.6,116.1H251V124.2H166.6zM311.9,116.1H350.4V124.2H311.9zM120.8,123.9H128.7V132H120.8zM159,123.9H251V132H159zM281.3,123.9H296.9V132H281.3zM304.3,123.9H350.4V132H304.3zM120.8,131.7H136.4V139.7H120.8zM159,131.7H266.3V139.7H159zM273.7,131.7H350.4V139.7H273.7zM120.8,139.4H136.4V147.5H120.8zM159,139.4H350.4V147.5H159zM120.8,147.2H350.4V155.2H120.8zM120.8,154.9H350.4V162.9H120.8zM128.4,162.6H350.4V170.7H128.4zM120.8,170.4H350.4V178.4H120.8zM120.8,178.1H274V186.1H120.8zM281.3,178.1H350.4V186.1H281.3zM128.4,185.8H274V193.8H128.4zM281.3,185.8H350.4V193.8H281.3zM128.4,193.5H266.3V201.5H128.4zM273.7,193.5H350.4V201.5H273.7zM120.8,201.2H258.7V209.2H120.8zM273.7,201.2H350.4V209.2H273.7zM120.8,208.9H144V216.9H120.8zM151.4,208.9H258.7V216.9H151.4zM273.7,208.9H350.4V216.9H273.7zM166.6,216.6H258.7V224.6H166.6zM273.7,216.6H350.4V224.6H273.7zM120.8,224.3H136.4V232.3H120.8zM174.3,224.3H258.7V232.3H174.3zM273.7,224.3H350.4V232.3H273.7zM120.8,232H136.4V240H120.8zM174.3,232H228.1V240H174.3zM243.1,232H266.3V240H243.1zM273.7,232H350.4V240H273.7zM120.8,239.7H136.4V247.7H120.8zM174.3,239.7H220.5V247.7H174.3zM227.8,239.7H350.4V247.7H227.8zM120.8,247.4H136.4V255.3H120.8zM174.3,247.4H197.5V255.3H174.3zM204.9,247.4H220.5V255.3H204.9zM227.8,247.4H350.4V255.3H227.8zM90.2,255H105.8V263H90.2zM128.4,255H144V263H128.4zM181.9,255H189.9V263H181.9zM197.2,255H212.8V263H197.2zM235.4,255H251V263H235.4zM258.4,255H350.4V263H258.4zM82.5,262.7H105.8V270.7H82.5zM128.4,262.7H144V270.7H128.4zM174.3,262.7H212.8V270.7H174.3zM250.7,262.7H350.4V270.7H250.7zM67.3,270.4H105.8V278.3H67.3zM128.4,270.4H151.7V278.3H128.4zM159,270.4H212.8V278.3H159zM243.1,270.4H319.8V278.3H243.1zM59.6,278H105.8V286H59.6zM120.8,278H182.2V286H120.8zM197.2,278H205.2V286H197.2zM235.4,278H266.3V286H235.4zM273.7,278H312.2V286H273.7zM52,285.7H98.1V293.6H52zM120.8,285.7H189.9V293.6H120.8zM235.4,285.7H304.6V293.6H235.4zM44.3,293.3H98.1V301.3H44.3zM105.5,293.3H197.5V301.3H105.5zM227.8,293.3H289.3V301.3H227.8zM36.7,301H98.1V308.9H36.7zM105.5,301H189.9V308.9H105.5zM212.5,301H281.6V308.9H212.5zM29,308.6H98.1V316.5H29zM105.5,308.6H182.2V316.5H105.5zM197.2,308.6H212.8V316.5H197.2zM220.2,308.6H274V316.5H220.2zM21.4,316.2H182.2V324.2H21.4zM197.2,316.2H266.3V324.2H197.2zM21.4,323.9H98.1V331.8H21.4zM105.5,323.9H197.5V331.8H105.5zM204.9,323.9H258.7V331.8H204.9zM13.7,331.5H98.1V339.4H13.7zM113.1,331.5H182.2V339.4H113.1zM212.5,331.5H251V339.4H212.5zM13.7,339.1H82.8V347H13.7zM90.2,339.1H98.1V347H90.2zM105.5,339.1H182.2V347H105.5zM204.9,339.1H243.4V347H204.9zM21.4,346.7H29.3V354.6H21.4zM36.7,346.7H82.8V354.6H36.7zM97.8,346.7H228.1V354.6H97.8zM44.3,354.3H59.9V362.2H44.3zM97.8,354.3H182.2V362.2H97.8zM189.6,354.3H220.5V362.2H189.6zM97.8,361.9H174.6V369.8H97.8zM189.6,361.9H212.8V369.8H189.6zM90.2,369.5H174.6V377.4H90.2zM97.8,377.1H166.9V385H97.8zM105.5,384.7H166.9V392.6H105.5zM105.5,392.3H159.3V400.1H105.5zM105.5,399.8H159.3V407.7H105.5zM105.5,407.4H151.7V415.3H105.5zM105.5,415H136.4V422.9H105.5zM151.4,415H159.3V422.9H151.4zM97.8,422.6H105.8V430.4H97.8zM113.1,422.6H121.1V430.4H113.1zM143.7,422.6H151.7V430.4H143.7z"/><path fill="#00008f" d="M227.8,-0.9H350.4V7.2H227.8zM235.4,6.9H289.3V15.1H235.4zM311.9,6.9H350.4V15.1H311.9zM250.7,14.8H289.3V22.9H250.7zM311.9,14.8H350.4V22.9H311.9zM258.4,22.6H289.3V30.7H258.4zM327.2,22.6H350.4V30.7H327.2zM258.4,30.4H296.9V38.5H258.4zM327.2,30.4H350.4V38.5H327.2zM266,38.2H296.9V46.3H266zM334.8,38.2H350.4V46.3H334.8zM235.4,46H243.4V54.2H235.4zM266,46H304.6V54.2H266zM342.5,46H350.4V54.2H342.5zM235.4,53.9H243.4V62H235.4zM266,53.9H296.9V62H266zM227.8,61.7H274V69.8H227.8zM289,61.7H296.9V69.8H289zM235.4,69.5H266.3V77.6H235.4zM289,69.5H304.6V77.6H289zM296.6,77.3H304.6V85.3H296.6zM296.6,85H304.6V93.1H296.6zM296.6,92.8H304.6V100.9H296.6zM334.8,384.7H350.4V392.6H334.8zM334.8,392.3H350.4V400.1H334.8zM327.2,399.8H350.4V407.7H327.2zM159,407.4H174.6V415.3H159zM319.5,407.4H350.4V415.3H319.5zM319.5,415H350.4V422.9H319.5zM227.8,422.6H251V430.4H227.8zM304.3,422.6H350.4V430.4H304.3z"/><path fill="#00dcff" d="M67.3,6.9H75.2V15.1H67.3zM289,6.9H312.2V15.1H289zM235.4,14.8H251V22.9H235.4zM289,14.8H312.2V22.9H289zM235.4,22.6H258.7V30.7H235.4zM289,22.6H327.5V30.7H289zM197.2,30.4H205.2V38.5H197.2zM220.2,30.4H228.1V38.5H220.2zM235.4,30.4H258.7V38.5H235.4zM296.6,30.4H312.2V38.5H296.6zM189.6,38.2H197.5V46.3H189.6zM227.8,38.2H266.3V46.3H227.8zM296.6,38.2H304.6V46.3H296.6zM189.6,46H205.2V54.2H189.6zM220.2,46H235.8V54.2H220.2zM243.1,46H266.3V54.2H243.1zM334.8,46H342.8V54.2H334.8zM189.6,53.9H205.2V62H189.6zM220.2,53.9H235.8V62H220.2zM243.1,53.9H266.3V62H243.1zM296.6,53.9H312.2V62H296.6zM342.5,53.9H350.4V62H342.5zM189.6,61.7H212.8V69.8H189.6zM273.7,61.7H289.3V69.8H273.7zM296.6,61.7H327.5V69.8H296.6zM342.5,61.7H350.4V69.8H342.5zM227.8,69.5H235.8V77.6H227.8zM266,69.5H289.3V77.6H266zM319.5,69.5H327.5V77.6H319.5zM235.4,77.3H296.9V85.3H235.4zM327.2,77.3H335.1V85.3H327.2zM82.5,85H90.5V93.1H82.5zM243.1,85H296.9V93.1H243.1zM243.1,92.8H274V100.9H243.1zM289,92.8H296.9V100.9H289zM304.3,92.8H312.2V100.9H304.3zM250.7,100.6H274V108.7H250.7zM304.3,100.6H312.2V108.7H304.3zM97.8,108.4H113.4V116.4H97.8zM250.7,108.4H281.6V116.4H250.7zM304.3,108.4H312.2V116.4H304.3zM97.8,116.1H113.4V124.2H97.8zM250.7,116.1H312.2V124.2H250.7zM97.8,123.9H121.1V132H97.8zM250.7,123.9H281.6V132H250.7zM296.6,123.9H304.6V132H296.6zM105.5,131.7H121.1V139.7H105.5zM266,131.7H274V139.7H266zM105.5,139.4H121.1V147.5H105.5zM113.1,147.2H121.1V155.2H113.1zM113.1,154.9H121.1V162.9H113.1zM113.1,162.6H128.7V170.7H113.1zM273.7,178.1H281.6V186.1H273.7zM120.8,185.8H128.7V193.8H120.8zM273.7,185.8H281.6V193.8H273.7zM120.8,193.5H128.7V201.5H120.8zM266,193.5H274V201.5H266zM258.4,201.2H274V209.2H258.4zM258.4,208.9H274V216.9H258.4zM120.8,216.6H128.7V224.6H120.8zM258.4,216.6H274V224.6H258.4zM258.4,224.3H274V232.3H258.4zM227.8,232H243.4V240H227.8zM266,232H274V240H266zM220.2,239.7H228.1V247.7H220.2zM197.2,247.4H205.2V255.3H197.2zM220.2,247.4H228.1V255.3H220.2zM189.6,255H197.5V263H189.6zM212.5,255H235.8V263H212.5zM250.7,255H258.7V263H250.7zM212.5,262.7H251V270.7H212.5zM212.5,270.4H243.4V278.3H212.5zM319.5,270.4H350.4V278.3H319.5zM204.9,278H235.8V286H204.9zM266,278H274V286H266zM311.9,278H350.4V286H311.9zM204.9,285.7H235.8V293.6H204.9zM304.3,285.7H350.4V293.6H304.3zM197.2,293.3H228.1V301.3H197.2zM289,293.3H350.4V301.3H289zM189.6,301H212.8V308.9H189.6zM281.3,301H350.4V308.9H281.3zM181.9,308.6H197.5V316.5H181.9zM212.5,308.6H220.5V316.5H212.5zM273.7,308.6H350.4V316.5H273.7zM181.9,316.2H197.5V324.2H181.9zM266,316.2H350.4V324.2H266zM13.7,323.9H21.7V331.8H13.7zM258.4,323.9H350.4V331.8H258.4zM250.7,331.5H350.4V339.4H250.7zM6.1,339.1H14V347H6.1zM82.5,339.1H90.5V347H82.5zM243.1,339.1H350.4V347H243.1zM6.1,346.7H21.7V354.6H6.1zM29,346.7H37V354.6H29zM82.5,346.7H98.1V354.6H82.5zM227.8,346.7H350.4V354.6H227.8zM6.1,354.3H44.6V362.2H6.1zM59.6,354.3H98.1V362.2H59.6zM181.9,354.3H189.9V362.2H181.9zM220.2,354.3H350.4V362.2H220.2zM6.1,361.9H98.1V369.8H6.1zM174.3,361.9H189.9V369.8H174.3zM212.5,361.9H350.4V369.8H212.5zM6.1,369.5H90.5V377.4H6.1zM174.3,369.5H350.4V377.4H174.3zM6.1,377.1H98.1V385H6.1zM166.6,377.1H350.4V385H166.6zM6.1,384.7H105.8V392.6H6.1zM166.6,384.7H335.1V392.6H166.6zM6.1,392.3H105.8V400.1H6.1zM159,392.3H335.1V400.1H159zM6.1,399.8H105.8V407.7H6.1zM159,399.8H327.5V407.7H159zM6.1,407.4H105.8V415.3H6.1zM151.4,407.4H159.3V415.3H151.4zM174.3,407.4H319.8V415.3H174.3zM6.1,415H105.8V422.9H6.1zM136.1,415H151.7V422.9H136.1zM159,415H319.8V422.9H159zM6.1,422.6H98.1V430.4H6.1zM105.5,422.6H113.4V430.4H105.5zM120.8,422.6H144V430.4H120.8zM151.4,422.6H228.1V430.4H151.4zM250.7,422.6H304.6V430.4H250.7z"/><path fill="#800000" d="M212.5,30.4H220.5V38.5H212.5zM204.9,38.2H220.5V46.3H204.9zM212.5,61.7H220.5V69.8H212.5zM151.4,69.5H182.2V77.6H151.4zM136.1,77.3H182.2V85.3H136.1zM128.4,85H182.2V93.1H128.4zM128.4,92.8H159.3V100.9H128.4zM174.3,92.8H182.2V100.9H174.3zM128.4,100.6H174.6V108.7H128.4zM136.1,108.4H174.6V116.4H136.1zM128.4,116.1H166.9V124.2H128.4zM128.4,123.9H159.3V132H128.4zM136.1,131.7H159.3V139.7H136.1zM136.1,139.4H159.3V147.5H136.1zM143.7,208.9H151.7V216.9H143.7zM128.4,216.6H166.9V224.6H128.4zM136.1,224.3H174.6V232.3H136.1zM136.1,232H174.6V240H136.1zM136.1,239.7H174.6V247.7H136.1zM136.1,247.4H174.6V255.3H136.1zM105.5,255H128.7V263H105.5zM143.7,255H182.2V263H143.7zM105.5,262.7H128.7V270.7H105.5zM143.7,262.7H174.6V270.7H143.7zM105.5,270.4H128.7V278.3H105.5zM151.4,270.4H159.3V278.3H151.4zM105.5,278H121.1V286H105.5zM181.9,278H197.5V286H181.9zM97.8,285.7H121.1V293.6H97.8zM189.6,285.7H205.2V293.6H189.6zM97.8,293.3H105.8V301.3H97.8zM97.8,301H105.8V308.9H97.8zM97.8,308.6H105.8V316.5H97.8zM97.8,323.9H105.8V331.8H97.8zM197.2,323.9H205.2V331.8H197.2zM97.8,331.5H113.4V339.4H97.8zM181.9,331.5H212.8V339.4H181.9zM97.8,339.1H105.8V347H97.8zM181.9,339.1H205.2V347H181.9z"/></g><path d="M74.8,14.8L67.3,7.1M220.2,6.9L227.8,14.7M227.9,14.8L227.8,14.7M227.9,14.8L228,22.6M228,22.6L228,30.4M197.2,30.6L189.7,38.2M204.7,38.2L197.2,30.6M220.2,30.6L216.4,38.2M227.7,38.2L220.2,30.6M228,30.4L228,38.2M311.9,38.1L311.7,38.2M319.5,38.1L311.9,38.1M319.6,38.2L319.5,38.1M189.6,38.4L182.1,46M189.7,38.2L197.2,45.9M197.1,46L189.6,38.4M204.7,38.2L197.2,45.9M216.4,38.2L220.2,45.9M227.7,38.2L227.8,38.4M220.3,46L220.2,45.9M228,38.2L227.8,38.4M304.3,45.9L304.1,46M311.7,38.2L304.3,45.9M319.6,38.2L327.2,46M327.3,46L327.2,46M182.1,46L182.1,53.9M197.1,46L197.2,46.2M204.7,53.9L197.2,46.2M220.2,46.2L212.7,53.9M220.3,46L220.2,46.2M304.1,46L304.2,53.9M327.3,46L327.3,53.9M182.1,53.9L182.1,61.7M204.7,53.9L204.7,61.7M212.7,53.9L212.7,61.7M304.2,53.9L304.3,54M311.7,61.7L304.3,54M327.3,53.9L334.8,61.5M335,61.7L334.8,61.5M182.1,61.7L182.1,69.5M204.7,61.7L204.9,61.8M208.6,69.5L204.9,61.8M212.7,61.7L220.2,69.3M220.2,69.5L220.2,69.3M311.7,61.7L311.9,61.8M319.5,61.8L311.9,61.8M327,69.5L319.5,61.8M335,61.7L335,69.5M182.1,69.5L189.6,77.1M197.2,77.1L189.6,77.1M204.9,77.1L197.2,77.1M208.6,69.5L204.9,77.1M220.2,69.5L220.3,77.3M304.3,77.1L304.2,77.3M311.9,77.1L304.3,77.1M312.1,77.3L311.9,77.1M327,69.5L327,77.3M335,69.5L342.5,77.1M220.3,77.3L227.8,84.9M228,85L227.8,84.9M304.2,77.3L304.2,85M312.1,77.3L319.5,84.9M327,77.3L327.2,77.4M319.7,85L319.5,84.9M334.7,85L327.2,77.4M90,92.8L82.5,85.2M228,85L235.4,92.7M235.6,92.8L235.4,92.7M304.2,85L304.2,92.8M319.7,85L327.2,92.7M334.7,85L327.2,92.7M235.6,92.8L235.6,100.6M273.7,100.4L273.5,100.6M281.3,100.4L273.7,100.4M281.5,100.6L281.3,100.4M304.2,92.8L304.3,93M311.7,100.6L304.3,93M235.6,100.6L243.1,108.2M243.2,108.4L243.1,108.2M273.5,100.6L273.5,108.4M281.5,100.6L289,108.2M296.6,108.3L289,108.2M296.8,108.4L296.6,108.3M311.7,100.6L311.7,108.4M105.5,108.5L97.8,108.5M113,116.1L105.5,108.5M243.2,108.4L243.2,116.1M273.5,108.4L273.7,108.5M281.2,116.1L273.7,108.5M296.8,108.4L296.8,116.1M311.7,108.4L311.7,116.1M113,116.1L113,123.9M243.2,116.1L243.2,123.9M281.2,116.1L281.3,116.3M289,116.3L281.3,116.3M296.6,116.3L289,116.3M296.8,116.1L296.6,116.3M311.7,116.1L311.7,123.9M113,123.9L113.1,124.1M120.6,131.7L113.1,124.1M243.2,123.9L243.2,131.7M281.3,131.5L281.2,131.7M289,131.5L281.3,131.5M289.1,131.7L289,131.5M304.3,131.5L304.1,131.7M311.7,123.9L304.3,131.5M120.6,131.7L120.6,139.4M243.2,131.7L250.7,139.3M258.4,139.3L250.7,139.3M258.5,139.4L258.4,139.3M273.7,139.3L273.5,139.4M281.2,131.7L273.7,139.3M289.1,131.7L296.6,139.3M304.1,131.7L296.6,139.3M120.6,139.4L120.6,147.2M258.5,139.4L266,147M273.5,139.4L266,147M120.6,147.2L120.6,154.9M120.6,154.9L120.6,162.6M120.6,162.6L120.8,162.8M128.3,170.4L120.8,162.8M128.3,170.4L120.8,177.9M273.7,178.2L266.2,185.8M281.2,185.8L273.7,178.2M128.3,193.5L120.8,186M266.2,185.8L266.2,193.5M281.2,185.8L281.2,193.5M128.3,193.5L128.3,201.2M266,193.7L258.5,201.2M266.2,193.5L273.7,201.1M273.5,201.2L266,193.7M281.2,193.5L273.7,201.1M128.3,201.2L120.8,208.8M258.4,201.4L250.9,208.9M258.5,201.2L258.4,201.4M273.5,201.2L273.5,208.9M250.9,208.9L250.9,216.6M273.5,208.9L273.5,216.6M124.5,224.3L120.8,216.8M250.9,216.6L250.9,224.3M273.5,216.6L273.5,224.3M124.5,224.3L120.8,231.8M250.9,224.3L250.9,232M273.5,224.3L273.5,232M227.8,232.2L220.3,239.7M235.4,232.2L227.8,232.2M242.9,239.7L235.4,232.2M250.9,232L258.4,239.5M258.5,239.7L258.4,239.5M273.5,232L273.5,239.7M220.2,239.8L212.7,247.4M220.3,239.7L227.8,247.2M227.7,247.4L220.2,239.8M235.4,247.2L227.8,247.2M242.9,239.7L235.4,247.2M258.5,239.7L266,247.2M273.5,239.7L266,247.2M197.2,247.5L189.7,255M204.7,255L197.2,247.5M212.7,247.4L212.7,255M227.7,247.4L227.7,255M189.6,255.2L182.1,262.7M189.7,255L197.2,262.5M197.1,262.7L189.6,255.2M204.7,255L197.2,262.5M212.5,255.2L205,262.7M212.7,255L212.5,255.2M227.7,255L227.8,255.2M235.3,262.7L227.8,255.2M250.7,255.2L243.2,262.7M258.2,262.7L250.7,255.2M182.1,262.7L189.6,270.2M197.1,262.7L189.6,270.2M205,262.7L205,270.4M235.3,262.7L235.4,262.9M243.1,262.9L235.4,262.9M243.2,262.7L250.7,270.2M250.6,270.4L243.1,262.9M258.2,262.7L250.7,270.2M205,270.4L205,278M243.1,277.9L242.9,278M250.6,270.4L243.1,277.9M319.5,270.5L312.1,278M327.2,270.5L319.5,270.5M334.8,270.5L327.2,270.5M342.5,270.5L334.8,270.5M204.9,278.2L197.4,285.7M205,278L204.9,278.2M235.4,285.5L235.3,285.7M242.9,278L235.4,285.5M266,278.2L258.5,285.7M273.5,285.7L266,278.2M311.9,278.2L304.4,285.7M312.1,278L311.9,278.2M197.4,285.7L201.1,293.3M235.3,285.7L235.3,293.3M258.5,285.7L266,293.2M273.5,285.7L266,293.2M304.3,285.8L296.8,293.3M304.4,285.7L304.3,285.8M197.2,297.2L189.7,301M201.1,293.3L197.2,297.2M227.8,300.8L227.7,301M235.3,293.3L227.8,300.8M289,293.5L281.5,301M296.6,293.5L289,293.5M296.8,293.3L296.6,293.5M189.6,301.1L182.1,308.6M189.7,301L189.6,301.1M212.5,308.4L212.4,308.6M220.2,308.4L212.5,308.4M227.7,301L220.2,308.4M281.3,301.1L273.8,308.6M281.5,301L281.3,301.1M181.9,308.7L174.4,316.2M182.1,308.6L181.9,308.7M197.2,316.1L197.1,316.2M204.9,316.1L197.2,316.1M212.4,308.6L212.5,308.7M205,316.2L204.9,316.1M220,316.2L212.5,308.7M273.7,308.7L266.2,316.2M273.8,308.6L273.7,308.7M174.4,316.2L174.4,323.9M197.1,316.2L197.1,323.9M205,316.2L212.5,323.7M220,316.2L212.5,323.7M266,316.4L258.5,323.9M266.2,316.2L266,316.4M174.4,323.9L181.9,331.3M189.6,331.3L181.9,331.3M197.1,323.9L189.6,331.3M258.4,324L250.9,331.5M258.5,323.9L258.4,324M21.2,331.5L13.7,338.9M250.7,331.6L243.2,339.1M250.9,331.5L250.7,331.6M82.5,339.2L75.1,346.7M90,346.7L82.5,339.2M243.1,339.2L235.6,346.7M243.2,339.1L243.1,339.2M13.6,346.7L13.7,346.9M21.2,354.3L13.7,346.9M29,346.9L21.5,354.3M36.5,354.3L29,346.9M75.1,346.7L75.1,354.3M90,346.7L90.2,346.9M97.7,354.3L90.2,346.9M227.8,346.9L220.3,354.3M235.4,346.9L227.8,346.9M235.6,346.7L235.4,346.9M21.2,354.3L21.4,354.5M21.5,354.3L21.4,354.5M36.5,354.3L36.7,354.5M44.2,361.9L36.7,354.5M59.6,354.5L52.1,361.9M67.3,354.5L59.6,354.5M74.9,354.5L67.3,354.5M75.1,354.3L74.9,354.5M97.7,354.3L97.7,361.9M181.9,354.5L174.4,361.9M189.4,361.9L181.9,354.5M220.2,354.5L212.7,361.9M220.3,354.3L220.2,354.5M44.2,361.9L44.3,362.1M52,362.1L44.3,362.1M52.1,361.9L52,362.1M97.7,361.9L97.7,369.5M174.3,362.1L166.8,369.5M174.4,361.9L174.3,362.1M189.4,361.9L189.4,369.5M212.5,362.1L205,369.5M212.7,361.9L212.5,362.1M90.2,377L90,377.1M97.7,369.5L90.2,377M166.8,369.5L166.8,377.1M189.4,369.5L189.6,369.7M197.2,369.7L189.6,369.7M204.9,369.7L197.2,369.7M205,369.5L204.9,369.7M90,377.1L90.2,377.3M97.7,384.7L90.2,377.3M166.6,377.3L159.2,384.7M166.8,377.1L166.6,377.3M97.7,384.7L97.8,384.8M105.3,392.3L97.8,384.8M159.2,384.7L159.2,392.3M105.3,392.3L105.3,399.8M159,392.4L151.5,399.8M159.2,392.3L159,392.4M105.3,399.8L105.3,407.4M151.5,399.8L151.5,407.4M105.3,407.4L105.3,415M151.4,407.6L143.9,415M151.5,407.4L151.4,407.6M105.3,415L105.3,422.6M136.1,415.1L128.6,422.6M143.7,415.1L136.1,415.1M143.9,415L151.4,422.4M151.2,422.6L143.7,415.1M151.5,422.6L151.4,422.4M97.8,430L97.7,430.1M105.3,422.6L105.5,422.7M98,430.1L97.8,430M113,430.1L105.5,422.7M120.8,422.7L113.3,430.1M128.4,422.7L120.8,422.7M128.6,422.6L128.4,422.7M143.7,430L143.6,430.1M151.2,422.6L151.4,422.7M143.9,430.1L143.7,430M151.5,422.6L151.4,422.7" stroke="#000" stroke-width="0.9" fill="none" stroke-linecap="round"/>
<use href="#land"/>
<text x="230.5" y="30.6" font-size="11.5" text-anchor="middle" transform="rotate(80 230.5 26.6)">2</text><text x="182.9" y="53" font-size="11.5" text-anchor="middle" transform="rotate(70 182.9 49)">2</text><text x="89.9" y="95.6" font-size="11.5" text-anchor="middle" transform="rotate(75 89.9 91.6)">2</text><text x="118.9" y="134.6" font-size="11.5" text-anchor="middle" transform="rotate(75 118.9 130.6)">2</text><text x="129.9" y="198.6" font-size="11.5" text-anchor="middle" transform="rotate(75 129.9 194.6)">2</text><text x="123.9" y="229.6" font-size="11.5" text-anchor="middle" transform="rotate(80 123.9 225.6)">2</text><text x="260.9" y="201.6" font-size="11.5" text-anchor="middle" transform="rotate(60 260.9 197.6)">2</text><text x="307.9" y="114.6" font-size="11.5" text-anchor="middle" transform="rotate(60 307.9 110.6)">2</text><text x="331.9" y="60.6" font-size="11.5" text-anchor="middle" transform="rotate(60 331.9 56.6)">2</text><text x="74.9" y="15.6" font-size="11.5" text-anchor="middle" transform="rotate(60 74.9 11.6)">2</text><text x="20.9" y="355.6" font-size="11.5" text-anchor="middle" transform="rotate(-10 20.9 351.6)">2</text><text x="174.9" y="324.6" font-size="11.5" text-anchor="middle" transform="rotate(70 174.9 320.6)">2</text><text x="228.9" y="309.6" font-size="11.5" text-anchor="middle" transform="rotate(70 228.9 305.6)">2</text><text x="260.9" y="289.6" font-size="11.5" text-anchor="middle" transform="rotate(-60 260.9 285.6)">2</text><text x="312.9" y="281.6" font-size="11.5" text-anchor="middle" transform="rotate(60 312.9 277.6)">2</text><text x="152.9" y="412.6" font-size="11.5" text-anchor="middle" transform="rotate(60 152.9 408.6)">2</text><text x="187.9" y="262.6" font-size="11.5" text-anchor="middle" transform="rotate(60 187.9 258.6)">2</text>
<use href="#star" x="66.8" y="46.6"/>
<use href="#star" x="104.8" y="157.1"/>
<use href="#star" x="114.3" y="250.1"/>
<use href="#star" x="62.8" y="271.6"/>
<use href="#star" x="10.3" y="320.6"/>
<rect x="3.7" y="20.1" width="113.4" height="25.2" fill="url(#jet)" stroke="#262626" stroke-width="1.3"/>
</g>
<path d="M58,427.5v-3.2M58,0v3.2M116,427.5v-3.2M116,0v3.2M173.9,427.5v-3.2M173.9,0v3.2M231.9,427.5v-3.2M231.9,0v3.2M289.9,427.5v-3.2M289.9,0v3.2M0,72.4h3.2M347.9,72.4h-3.2M0,144.3h3.2M347.9,144.3h-3.2M0,215.7h3.2M347.9,215.7h-3.2M0,286.8h3.2M347.9,286.8h-3.2M0,357.3h3.2M347.9,357.3h-3.2" stroke="#000" stroke-width="1" fill="none"/>
<rect x="0" y="0" width="347.9" height="427.5" fill="none" stroke="#000" stroke-width="1.1"/>
</g>
<g transform="translate(75,742.4)">
<rect x="0" y="0" width="347.9" height="427.5" fill="#fff"/>
<g clip-path="url(#ax)">
<path d="M58,0V427.5M116,0V427.5M173.9,0V427.5M231.9,0V427.5M289.9,0V427.5M0,72.4H347.9M0,144.3H347.9M0,215.7H347.9M0,286.8H347.9M0,357.3H347.9" stroke="#bcbcbc" stroke-width="1" stroke-dasharray="2.6,5.8" fill="none"/>

<use href="#land"/>
<path d="M67.8,39.4A7.3,7.3 0 0 1 70.9,52.7" stroke="#0000ff" stroke-width="2.6" fill="none"/><path d="M68.8,32.1A14.6,14.6 0 0 1 75,58.7" stroke="#0000ff" stroke-width="2.6" fill="none"/><path d="M69.8,24.9A21.9,21.9 0 0 1 79,64.8" stroke="#0000ff" stroke-width="2.6" fill="none"/><path d="M70.9,17.7h0M73.4,18.1h0M75.8,18.8h0M78.2,19.7h0M80.5,20.8h0M82.7,22.1h0M84.8,23.6h0M86.7,25.2h0M88.5,27.1h0M90.1,29h0M91.6,31.1h0M92.8,33.3h0M93.9,35.7h0M94.7,38.1h0M95.4,40.5h0M95.8,43h0M96,45.6h0M96,48.1h0M95.7,50.7h0M95.3,53.2h0M94.6,55.6h0M93.7,58h0M92.6,60.3h0M91.3,62.5h0M89.8,64.6h0M88.2,66.5h0M86.3,68.3h0M84.4,69.9h0M71.9,10.5h0M75,11h0M78.1,11.9h0M81.1,13h0M83.9,14.4h0M86.7,16h0M89.3,17.8h0M91.7,19.9h0M93.9,22.2h0M96,24.6h0M97.8,27.3h0M99.3,30h0M100.6,32.9h0M101.7,35.9h0M102.5,39h0M103,42.2h0M103.3,45.3h0M103.2,48.5h0M102.9,51.7h0M102.4,54.8h0M101.5,57.9h0M100.4,60.9h0M99,63.7h0M97.4,66.5h0M95.6,69.1h0M93.5,71.5h0M91.2,73.7h0M88.8,75.8h0M72.9,3.2h0M76.7,3.9h0M80.3,4.9h0M83.9,6.3h0M87.4,7.9h0M90.7,9.9h0M93.8,12.1h0M96.7,14.6h0M99.3,17.3h0M101.8,20.2h0M103.9,23.4h0M105.8,26.7h0M107.4,30.2h0M108.7,33.8h0M109.6,37.5h0M110.3,41.3h0M110.6,45.1h0M110.5,48.9h0M110.2,52.7h0M109.5,56.5h0M108.5,60.1h0M107.1,63.7h0M105.5,67.2h0M103.5,70.5h0M101.3,73.6h0M98.8,76.5h0M96.1,79.1h0M93.2,81.6h0M90.8,1.5h0M94.6,3.7h0M98.3,6.3h0M101.7,9.2h0M104.8,12.4h0M107.6,15.8h0M110.1,19.5h0M112.3,23.4h0M114.2,27.5h0M115.7,31.7h0M116.8,36h0M117.5,40.4h0M117.9,44.8h0M117.8,49.3h0M117.4,53.7h0M116.6,58.1h0M115.4,62.4h0M113.8,66.6h0M111.9,70.6h0M109.7,74.4h0M107.1,78.1h0M104.2,81.5h0M101,84.6h0M97.6,87.4h0M102.8,0.6h0M106.6,3.9h0M110.2,7.5h0M113.4,11.5h0M116.3,15.7h0M118.8,20.1h0M120.9,24.7h0M122.6,29.5h0M123.9,34.5h0M124.8,39.5h0M125.2,44.6h0M125.1,49.7h0M124.6,54.7h0M123.7,59.7h0M122.3,64.6h0M120.6,69.4h0M118.4,74h0M115.8,78.4h0M112.8,82.6h0M109.5,86.4h0M105.9,90h0M101.9,93.2h0M115.6,2.6h0M119.3,7.1h0M122.5,11.8h0M125.3,16.8h0M127.7,22h0M129.6,27.4h0M131.1,32.9h0M132,38.6h0M132.5,44.3h0M132.4,50h0M131.9,55.7h0M130.8,61.4h0M129.3,66.9h0M127.3,72.3h0M124.8,77.4h0M121.9,82.4h0M118.6,87h0M114.8,91.4h0M110.8,95.4h0M106.3,99.1h0M125.1,2.7h0M128.7,7.9h0M131.8,13.5h0M134.5,19.3h0M136.6,25.3h0M138.2,31.4h0M139.3,37.7h0M139.8,44.1h0M139.7,50.4h0M139.1,56.8h0M137.9,63h0M136.2,69.2h0M134,75.1h0M131.3,80.9h0M128,86.4h0M124.3,91.5h0M120.2,96.4h0M115.6,100.8h0M110.7,104.9h0M134.9,4h0M138.3,10.1h0M141.3,16.5h0M143.6,23.1h0M145.3,29.9h0M146.5,36.8h0M147.1,43.8h0M147,50.8h0M146.3,57.8h0M145,64.7h0M143.2,71.4h0M140.7,78h0M137.7,84.3h0M134.1,90.3h0M130.1,96h0M125.5,101.4h0M120.5,106.3h0M115.1,110.7h0M141.1,0.2h0M144.9,6.8h0M148,13.8h0M150.6,21h0M152.5,28.4h0M153.7,35.9h0M154.3,43.5h0M154.3,51.2h0M153.5,58.8h0M152.2,66.3h0M150.1,73.7h0M147.4,80.8h0M144.1,87.7h0M140.3,94.3h0M135.8,100.5h0M130.9,106.3h0M125.4,111.7h0M119.5,116.6h0M151.4,3.5h0M154.8,11h0M157.6,18.9h0M159.6,26.9h0M161,35h0M161.6,43.3h0M161.6,51.6h0M160.8,59.8h0M159.3,67.9h0M157.1,75.9h0M154.2,83.7h0M150.6,91.2h0M146.4,98.3h0M141.6,105h0M136.2,111.3h0M130.3,117.1h0M123.9,122.4h0M157.9,0.2h0M161.6,8.3h0M164.5,16.7h0M166.8,25.4h0M168.2,34.1h0M168.9,43h0M168.9,51.9h0M168,60.8h0M166.4,69.6h0M164,78.2h0M160.9,86.5h0M157,94.6h0M152.5,102.3h0M147.3,109.5h0M141.5,116.3h0M135.2,122.5h0M128.3,128.2h0M168.3,5.6h0M171.5,14.6h0M173.9,23.8h0M175.5,33.3h0M176.2,42.8h0M176.1,52.3h0M175.2,61.8h0M173.5,71.2h0M170.9,80.4h0M167.6,89.4h0M163.5,98h0M158.6,106.2h0M153.1,114h0M146.9,121.3h0M140.1,128h0M132.7,134.1h0M175.1,2.8h0M178.5,12.5h0M181,22.3h0M182.7,32.4h0M183.5,42.5h0M183.4,52.7h0M182.5,62.9h0M180.6,72.9h0M177.9,82.7h0M174.3,92.2h0M169.9,101.4h0M164.8,110.2h0M158.8,118.5h0M152.2,126.3h0M145,133.4h0M137.1,139.9h0M185.5,10.3h0M188.2,20.8h0M190.7,53.1h0M189.7,63.9h0M187.7,74.5h0M184.8,84.9h0M176.4,104.9h0M170.9,114.2h0M157.6,131.2h0M149.8,138.8h0M141.5,145.7h0M195.3,19.3h0M197.2,30.6h0M198,53.5h0M196.9,64.9h0M194.8,76.2h0M191.8,87.2h0M182.8,108.3h0M177,118.2h0M162.9,136.2h0M145.9,151.5h0M199.4,6h0M202.5,17.8h0M205.4,41.8h0M205.3,53.9h0M204.2,65.9h0M201.9,77.8h0M198.7,89.5h0M189.3,111.7h0M183.1,122.1h0M168.2,141.2h0M150.3,157.4h0M206.4,3.9h0M209.6,16.2h0M212.7,41.5h0M212.6,54.2h0M211.4,66.9h0M205.7,91.7h0M195.7,115.1h0M189.2,126.1h0M173.6,146.2h0M154.7,163.2h0M213.4,1.8h0M216.8,14.7h0M218.6,67.9h0M195.4,130.1h0M178.9,151.2h0M159.1,169h0" stroke="#0000ff" stroke-width="2.9" stroke-linecap="round" fill="none"/><path d="M103.7,149.9A7.3,7.3 0 0 1 108.5,163.4" stroke="#ff0000" stroke-width="2.6" fill="none"/><path d="M102.5,142.7A14.6,14.6 0 0 1 112.1,169.7" stroke="#ff0000" stroke-width="2.6" fill="none"/><path d="M101.4,135.5A21.9,21.9 0 0 1 115.8,176.1" stroke="#ff0000" stroke-width="2.6" fill="none"/><path d="M100.2,128.3h0M102.8,128h0M105.3,127.9h0M107.9,128.1h0M110.4,128.4h0M112.8,129h0M115.3,129.8h0M117.6,130.9h0M119.8,132.1h0M122,133.5h0M124,135.1h0M125.8,136.8h0M127.5,138.7h0M129,140.8h0M130.3,142.9h0M131.5,145.2h0M132.4,147.6h0M133.1,150h0M133.6,152.5h0M133.9,155.1h0M134,157.6h0M133.8,160.2h0M133.5,162.7h0M132.9,165.1h0M132.1,167.6h0M131,169.9h0M129.8,172.1h0M128.4,174.3h0M126.8,176.3h0M125.1,178.1h0M123.2,179.8h0M121.1,181.3h0M99.1,121h0M102.3,120.7h0M105.4,120.6h0M108.6,120.8h0M111.8,121.3h0M114.9,122h0M117.9,123h0M120.8,124.3h0M123.6,125.8h0M126.3,127.6h0M128.7,129.6h0M131.1,131.7h0M133.2,134.1h0M135.1,136.7h0M136.7,139.4h0M138.1,142.3h0M139.3,145.2h0M140.2,148.3h0M140.9,151.4h0M141.2,154.6h0M141.3,157.7h0M141.1,160.9h0M140.6,164.1h0M139.9,167.2h0M138.9,170.2h0M137.6,173.1h0M136.1,175.9h0M134.3,178.6h0M132.3,181h0M130.2,183.4h0M127.8,185.5h0M125.2,187.4h0M97.9,113.8h0M101.7,113.4h0M105.6,113.3h0M109.4,113.5h0M113.2,114.1h0M116.9,115h0M120.5,116.2h0M124,117.7h0M127.4,119.6h0M130.5,121.7h0M133.5,124h0M136.3,126.7h0M138.8,129.5h0M141.1,132.6h0M143.1,135.9h0M144.8,139.3h0M146.2,142.8h0M147.3,146.5h0M148.1,150.2h0M148.5,154h0M148.6,157.9h0M148.4,161.7h0M147.8,165.5h0M146.9,169.2h0M145.7,172.8h0M144.2,176.3h0M142.3,179.7h0M140.2,182.8h0M137.9,185.8h0M135.2,188.6h0M132.4,191.1h0M129.3,193.4h0M96.8,106.6h0M101.2,106.1h0M105.7,106h0M110.1,106.3h0M114.6,106.9h0M118.9,108h0M123.1,109.4h0M127.2,111.2h0M131.1,113.3h0M134.8,115.8h0M138.3,118.5h0M141.6,121.6h0M144.5,124.9h0M147.2,128.5h0M149.5,132.3h0M151.5,136.3h0M153.1,140.5h0M154.4,144.7h0M155.3,149.1h0M155.8,153.5h0M155.9,158h0M155.6,162.4h0M155,166.9h0M153.9,171.2h0M152.5,175.4h0M150.7,179.5h0M148.6,183.4h0M146.1,187.1h0M143.4,190.6h0M140.3,193.9h0M137,196.8h0M133.4,199.5h0M95.7,99.4h0M100.7,98.8h0M105.8,98.7h0M110.9,99h0M115.9,99.8h0M120.9,101h0M125.7,102.6h0M130.4,104.6h0M134.9,107h0M139.1,109.9h0M143.1,113h0M146.8,116.5h0M150.2,120.3h0M153.2,124.4h0M155.9,128.8h0M158.2,133.3h0M160,138.1h0M161.5,143h0M162.5,148h0M163.1,153h0M163.2,158.1h0M162.9,163.2h0M162.1,168.2h0M160.9,173.2h0M159.3,178h0M157.3,182.7h0M154.9,187.2h0M152,191.4h0M148.9,195.4h0M145.4,199.1h0M141.6,202.5h0M137.5,205.5h0M94.5,92.2h0M100.2,91.6h0M105.9,91.4h0M111.7,91.8h0M117.3,92.6h0M122.9,93.9h0M128.3,95.8h0M133.6,98h0M138.6,100.8h0M143.4,103.9h0M147.9,107.5h0M152.1,111.5h0M155.9,115.8h0M159.3,120.4h0M162.3,125.2h0M164.8,130.4h0M166.9,135.7h0M168.5,141.2h0M169.7,146.8h0M170.3,152.5h0M170.5,158.2h0M170.1,164h0M169.3,169.6h0M168,175.2h0M166.1,180.6h0M163.9,185.9h0M161.1,190.9h0M158,195.7h0M154.4,200.2h0M150.4,204.4h0M146.1,208.2h0M141.5,211.6h0M93.4,85h0M99.7,84.3h0M106.1,84.1h0M112.4,84.5h0M118.7,85.4h0M124.9,86.9h0M131,88.9h0M136.8,91.5h0M142.4,94.5h0M147.7,98h0M152.7,102h0M157.3,106.4h0M161.5,111.2h0M165.3,116.3h0M168.6,121.7h0M171.5,127.4h0M173.8,133.3h0M175.6,139.4h0M176.9,145.7h0M177.6,152h0M177.8,158.4h0M177.4,164.7h0M176.5,171h0M175,177.2h0M173,183.3h0M170.4,189.1h0M167.4,194.7h0M163.9,200h0M159.9,205h0M155.5,209.6h0M150.7,213.8h0M145.6,217.6h0M92.2,77.8h0M99.2,77h0M106.2,76.8h0M113.2,77.2h0M120.1,78.3h0M126.9,79.9h0M133.6,82.1h0M140,84.9h0M146.2,88.3h0M152,92.1h0M157.5,96.5h0M162.6,101.3h0M167.2,106.6h0M171.4,112.2h0M175,118.2h0M178.2,124.4h0M180.7,131h0M182.7,137.7h0M184.1,144.5h0M184.9,151.5h0M185.1,158.5h0M184.7,165.5h0M183.6,172.4h0M182,179.2h0M179.8,185.9h0M177,192.3h0M173.6,198.5h0M169.8,204.3h0M165.4,209.8h0M160.6,214.9h0M155.3,219.5h0M149.7,223.7h0M91.1,70.6h0M98.7,69.7h0M106.3,69.5h0M114,70h0M121.5,71.1h0M128.9,72.9h0M136.2,75.3h0M143.2,78.4h0M149.9,82h0M156.3,86.2h0M162.3,91h0M167.8,96.2h0M172.9,102h0M177.4,108.1h0M181.4,114.6h0M184.8,121.5h0M187.6,128.6h0M189.8,135.9h0M191.3,143.4h0M192.2,151h0M192.4,158.6h0M191.9,166.3h0M190.8,173.8h0M189,181.2h0M186.6,188.5h0M183.5,195.5h0M179.9,202.2h0M175.7,208.6h0M170.9,214.6h0M165.7,220.1h0M159.9,225.2h0M153.8,229.7h0M90,63.4h0M98.2,62.4h0M106.5,62.2h0M114.7,62.7h0M122.9,63.9h0M131,65.9h0M138.8,68.5h0M146.4,71.8h0M153.7,75.8h0M160.6,80.3h0M167.1,85.5h0M173.1,91.2h0M178.6,97.4h0M183.5,104h0M187.8,111.1h0M191.5,118.5h0M194.5,126.2h0M196.9,134.1h0M198.5,142.3h0M199.5,150.5h0M199.7,158.8h0M199.2,167h0M198,175.2h0M196,183.3h0M193.4,191.1h0M190.1,198.7h0M186.1,206h0M181.6,212.9h0M176.4,219.4h0M170.7,225.4h0M164.5,230.9h0M157.9,235.8h0M88.8,56.2h0M97.7,55.1h0M106.6,54.9h0M115.5,55.5h0M124.3,56.8h0M133,58.9h0M141.4,61.7h0M149.6,65.2h0M157.4,69.5h0M164.9,74.4h0M171.8,80h0M178.3,86.1h0M184.2,92.8h0M189.5,100h0M194.2,107.6h0M201.4,123.8h0M204,132.4h0M205.7,141.1h0M206.8,150h0M206.4,167.8h0M203,185.3h0M200.2,193.7h0M196.7,201.9h0M192.4,209.7h0M187.5,217.2h0M181.9,224.1h0M175.8,230.6h0M169.1,236.5h0M161.9,241.8h0M87.7,48.9h0M97.2,47.9h0M106.7,47.6h0M116.2,48.2h0M125.7,49.6h0M144,54.9h0M152.8,58.7h0M169.2,68.5h0M176.6,74.5h0M183.6,81h0M189.9,88.2h0M195.6,95.9h0M204.8,112.6h0M208.3,121.5h0M211,130.6h0M213,140h0M214,149.5h0M214.3,159h0M210.1,187.3h0M203.2,205.1h0M198.7,213.5h0M193.4,221.5h0M187.4,228.9h0M180.9,235.9h0M173.7,242.2h0M166,247.9h0M96.7,40.6h0M106.8,40.3h0M117,40.9h0M127.1,42.4h0M137,44.8h0M146.7,48.1h0M156,52.1h0M188.8,76h0M195.6,83.6h0M201.6,91.8h0M207,100.5h0M211.5,109.6h0M218.1,128.8h0M221.6,159.1h0M217.1,189.3h0M204.9,217.3h0M199.3,225.8h0M193,233.7h0M178.3,247.9h0M107,33h0M117.8,33.7h0M128.5,35.3h0M139,37.8h0M159.2,45.6h0M186.2,63.4h0M201.2,79h0M218.2,106.6h0M222.1,116.7h0M225.2,127.1h0M227.4,137.7h0M228.6,148.4h0M228.9,159.3h0M228.2,170.1h0M224.1,191.3h0M211.2,221h0M205.2,230h0M198.5,238.5h0M182.9,253.5h0M118.5,26.4h0M129.9,28.1h0M224.8,103.7h0M229,114.3h0M232.3,125.3h0M234.6,136.5h0M235.9,147.9h0M235.5,170.8h0M231.1,193.3h0M217.4,224.8h0M204,243.3h0M187.5,259.2h0M231.5,100.7h0M241.8,135.4h0M243.5,159.5h0M242.7,171.6h0M238.1,195.3h0M223.7,228.5h0M209.5,248.1h0M192.1,264.9h0M107.3,11.1h0M238.2,97.7h0M249,134.3h0M250.8,159.6h0M250,172.4h0M245.1,197.3h0M229.9,232.3h0M222.9,242.9h0M215,252.9h0M196.7,270.6h0M231.9,71.4h0M244.8,94.7h0M253.5,120h0M258.1,159.8h0M257.3,173.1h0M252.2,199.4h0M236.2,236.1h0M228.8,247.2h0M162.4,7.2h0M256.7,104.8h0M260.6,118.2h0M265.4,159.9h0M264.5,173.9h0M259.2,201.4h0M242.5,239.8h0M205.9,281.9h0M258.2,88.8h0M263.6,102.4h0M267.7,116.5h0M272.7,160h0M271.8,174.7h0M266.2,203.4h0M240.6,255.8h0M210.5,287.6h0M264.9,85.8h0M274.8,114.7h0M280,160.2h0M279,175.4h0M273.2,205.4h0M255,247.3h0M246.5,260.1h0M215.1,293.3h0M271.5,82.9h0M277.4,97.7h0M281.9,112.9h0M286.3,176.2h0M280.2,207.4h0M261.2,251.1h0M252.4,264.4h0M219.7,298.9h0M284.3,95.3h0M289,111.2h0M294.6,160.4h0M293.6,176.9h0M287.2,209.4h0M267.5,254.9h0M224.2,304.6h0M284.9,76.9h0M291.2,92.9h0M301.9,160.5h0M300.8,177.7h0M273.7,258.6h0M264.3,273h0M274.3,42.8h0M291.5,74h0M298.1,90.6h0M303.1,107.7h0M301.3,213.4h0M280,262.4h0M270.2,277.2h0M233.4,315.9h0M298.2,71h0M310.2,105.9h0M315.3,179.2h0M308.3,215.5h0M286.3,266.1h0M276.1,281.5h0M238,321.6h0M304.9,68h0M311.9,85.8h0M317.3,104.1h0M315.3,217.5h0M292.5,269.9h0M282,285.8h0M242.6,327.3h0M311.5,65.1h0M318.8,83.4h0M324.4,102.4h0M322.3,219.5h0M298.8,273.7h0M287.9,290.1h0M247.2,333h0M318.2,62.1h0M325.7,81h0M329.4,221.5h0M305,277.4h0M293.8,294.4h0M251.8,338.6h0M324.9,59.1h0M332.6,78.7h0M338.5,98.8h0M336.4,223.5h0M311.3,281.2h0M299.7,298.7h0M256.4,344.3h0M331.5,56.1h0M345.6,97.1h0M343.4,225.5h0M261,350h0M338.2,53.2h0M346.4,73.9h0M330.1,292.5h0M317.4,311.6h0M270.2,361.3h0M336.3,296.2h0M342.6,300h0M279.4,372.7h0M284,378.4h0M288.6,384h0M293.2,389.7h0M297.7,395.4h0M306.9,406.7h0M316.1,418.1h0M320.7,423.7h0" stroke="#ff0000" stroke-width="2.9" stroke-linecap="round" fill="none"/><path d="M117,243.3A7.3,7.3 0 0 1 113.5,257.4" stroke="#00ff00" stroke-width="2.6" fill="none"/><path d="M119.8,236.6A14.6,14.6 0 0 1 112.8,264.6" stroke="#00ff00" stroke-width="2.6" fill="none"/><path d="M122.5,229.8A21.9,21.9 0 0 1 112,271.9" stroke="#00ff00" stroke-width="2.6" fill="none"/><path d="M125.2,223h0M127.6,224.1h0M129.8,225.3h0M131.9,226.8h0M133.8,228.4h0M135.7,230.2h0M137.3,232.1h0M138.8,234.2h0M140.1,236.4h0M141.2,238.7h0M142.1,241.1h0M142.8,243.5h0M143.2,246h0M143.5,248.6h0M143.5,251.1h0M143.3,253.7h0M142.9,256.2h0M142.2,258.6h0M141.4,261h0M140.3,263.4h0M139.1,265.6h0M137.6,267.7h0M136,269.6h0M134.2,271.5h0M132.3,273.1h0M130.2,274.6h0M128,275.9h0M125.7,277h0M123.3,277.9h0M120.9,278.6h0M118.4,279h0M115.8,279.3h0M113.3,279.3h0M128,216.3h0M130.9,217.6h0M133.6,219.1h0M136.3,220.9h0M138.7,223h0M141,225.2h0M143.1,227.6h0M144.9,230.2h0M146.5,233h0M147.9,235.8h0M149,238.8h0M149.9,241.9h0M150.4,245h0M150.7,248.2h0M150.8,251.4h0M150.5,254.5h0M150,257.7h0M149.2,260.8h0M148.1,263.8h0M146.8,266.7h0M145.3,269.4h0M143.5,272.1h0M141.4,274.5h0M139.2,276.8h0M136.8,278.9h0M134.2,280.7h0M131.4,282.3h0M128.6,283.7h0M125.6,284.8h0M122.5,285.7h0M119.4,286.2h0M116.2,286.5h0M113,286.6h0M130.7,209.5h0M134.2,211.1h0M137.5,213h0M140.7,215.1h0M143.6,217.6h0M146.3,220.2h0M148.8,223.1h0M151,226.2h0M153,229.5h0M154.6,233h0M156,236.6h0M157,240.2h0M157.7,244h0M158,247.8h0M158.1,251.6h0M157.8,255.4h0M157.1,259.2h0M156.2,262.9h0M154.9,266.5h0M153.3,270h0M151.4,273.3h0M149.3,276.5h0M146.8,279.4h0M144.2,282.1h0M141.3,284.6h0M138.2,286.8h0M134.9,288.8h0M131.4,290.4h0M127.8,291.8h0M124.2,292.8h0M120.4,293.5h0M116.6,293.8h0M112.8,293.9h0M133.4,202.7h0M137.5,204.6h0M141.4,206.8h0M145.1,209.3h0M148.5,212.1h0M151.7,215.2h0M154.6,218.6h0M157.2,222.3h0M159.4,226.1h0M161.3,230.1h0M162.9,234.3h0M164.1,238.6h0M164.9,243h0M165.3,247.4h0M165.4,251.9h0M165,256.3h0M164.3,260.7h0M163.2,265h0M161.7,269.2h0M159.8,273.3h0M157.6,277.2h0M155.1,280.9h0M152.3,284.3h0M149.2,287.5h0M145.8,290.4h0M142.1,293h0M138.3,295.2h0M134.3,297.1h0M130.1,298.7h0M125.8,299.9h0M121.4,300.7h0M117,301.1h0M112.5,301.2h0M136.2,196h0M140.8,198.1h0M145.2,200.6h0M149.4,203.5h0M153.4,206.7h0M157,210.3h0M160.3,214.1h0M163.3,218.3h0M165.9,222.7h0M168.1,227.3h0M169.8,232.1h0M171.2,237h0M172.1,242h0M172.6,247h0M172.7,252.1h0M172.3,257.2h0M171.4,262.2h0M170.1,267.2h0M168.4,272h0M166.3,276.6h0M163.8,281h0M160.9,285.2h0M157.7,289.2h0M154.1,292.8h0M150.3,296.1h0M146.1,299.1h0M141.7,301.7h0M137.1,303.9h0M132.3,305.6h0M127.4,307h0M122.4,307.9h0M117.4,308.4h0M112.3,308.5h0M138.9,189.2h0M144.1,191.6h0M149.1,194.4h0M153.8,197.6h0M158.3,201.3h0M162.3,205.3h0M166.1,209.7h0M169.4,214.3h0M172.3,219.3h0M174.8,224.4h0M176.8,229.8h0M178.3,235.3h0M179.4,241h0M179.9,246.7h0M180,252.4h0M179.5,258.1h0M178.6,263.8h0M177.1,269.3h0M175.2,274.7h0M172.8,279.9h0M170,284.9h0M166.8,289.6h0M163.1,294.1h0M159.1,298.1h0M154.7,301.9h0M150.1,305.2h0M145.1,308.1h0M140,310.6h0M134.6,312.6h0M129.1,314.1h0M123.4,315.2h0M117.7,315.7h0M112,315.8h0M141.6,182.4h0M147.4,185.1h0M153,188.2h0M158.2,191.8h0M163.1,195.9h0M167.7,200.3h0M171.8,205.2h0M175.5,210.3h0M178.8,215.8h0M181.5,221.6h0M183.7,227.5h0M185.4,233.7h0M186.6,239.9h0M187.2,246.3h0M187.3,252.6h0M186.8,259h0M185.7,265.3h0M184.1,271.4h0M182,277.4h0M179.3,283.2h0M176.2,288.8h0M172.6,294h0M168.5,298.9h0M164.1,303.5h0M159.2,307.6h0M154.1,311.3h0M148.6,314.6h0M142.8,317.3h0M136.9,319.5h0M130.7,321.2h0M124.5,322.4h0M118.1,323h0M111.8,323.1h0M144.4,175.6h0M150.8,178.6h0M156.9,182h0M162.6,186h0M168,190.4h0M173,195.3h0M177.6,200.7h0M181.6,206.4h0M185.2,212.4h0M188.2,218.7h0M190.7,225.3h0M192.5,232h0M193.8,238.9h0M194.5,245.9h0M194.6,252.9h0M194,259.9h0M192.8,266.8h0M191.1,273.6h0M188.8,280.2h0M185.8,286.6h0M182.4,292.7h0M178.4,298.4h0M174,303.8h0M169.1,308.8h0M163.7,313.4h0M158,317.4h0M152,321h0M145.7,324h0M139.1,326.5h0M132.4,328.3h0M125.5,329.6h0M118.5,330.3h0M111.5,330.4h0M172.9,185h0M178.4,190.4h0M183.3,196.2h0M187.8,202.4h0M191.6,209h0M194.9,215.9h0M197.6,223h0M199.7,230.4h0M201,237.9h0M201.8,245.5h0M201.8,253.2h0M201.2,260.8h0M200,268.3h0M198.1,275.7h0M195.5,282.9h0M192.4,289.9h0M188.6,296.5h0M184.3,302.8h0M179.4,308.7h0M174,314.2h0M168.2,319.1h0M162,323.6h0M155.4,327.4h0M148.5,330.7h0M141.4,333.4h0M134,335.5h0M126.5,336.8h0M118.9,337.6h0M111.2,337.6h0M177.8,179.6h0M183.7,185.4h0M189.1,191.7h0M193.9,198.4h0M198.1,205.5h0M201.7,213h0M204.6,220.8h0M206.8,228.8h0M208.3,236.9h0M209.1,245.1h0M209.1,253.4h0M208.5,261.7h0M207.1,269.8h0M205.1,277.8h0M202.3,285.7h0M198.9,293.2h0M194.8,300.4h0M190.1,307.2h0M184.8,313.6h0M179,319.5h0M172.7,324.9h0M166,329.7h0M158.9,333.9h0M151.4,337.5h0M143.6,340.4h0M135.6,342.6h0M127.5,344.1h0M119.3,344.9h0M111,344.9h0M182.7,174.2h0M189,180.4h0M194.8,187.2h0M200,194.4h0M204.5,202.1h0M208.4,210.2h0M211.5,218.5h0M213.9,227.1h0M215.5,235.9h0M216.4,244.8h0M216.4,253.7h0M215.7,262.6h0M214.3,271.3h0M212,280h0M209.1,288.4h0M205.4,296.5h0M201,304.3h0M195.9,311.6h0M190.2,318.5h0M184,324.8h0M177.2,330.6h0M170,335.8h0M162.3,340.3h0M154.2,344.2h0M145.9,347.3h0M137.3,349.7h0M128.5,351.3h0M119.6,352.2h0M110.7,352.2h0M187.6,168.7h0M194.4,175.4h0M200.6,182.7h0M206.1,190.5h0M211,198.7h0M215.1,207.3h0M218.4,216.3h0M221,225.5h0M222.7,234.9h0M223.6,244.4h0M223.7,253.9h0M223,263.4h0M221.4,272.9h0M219,282.1h0M215.8,291.1h0M211.9,299.8h0M207.2,308.1h0M201.8,316h0M195.7,323.4h0M189,330.2h0M181.7,336.4h0M173.9,341.9h0M165.7,346.8h0M157.1,350.9h0M148.1,354.2h0M138.9,356.8h0M129.5,358.5h0M120,359.4h0M110.5,359.5h0M192.5,163.3h0M199.7,170.4h0M206.3,178.2h0M212.3,186.5h0M217.4,195.3h0M221.8,204.5h0M225.4,214h0M228.1,223.8h0M230,233.8h0M230.9,244h0M231,254.2h0M230.2,264.3h0M228.5,274.4h0M226,284.2h0M222.6,293.9h0M218.4,303.1h0M213.4,312h0M207.6,320.4h0M201.1,328.3h0M194,335.5h0M186.2,342.1h0M177.9,348.1h0M169.1,353.2h0M159.9,357.6h0M150.4,361.2h0M140.6,363.9h0M130.6,365.8h0M120.4,366.7h0M110.2,366.8h0M197.3,157.9h0M205.1,165.5h0M212.1,173.7h0M218.4,182.5h0M223.9,191.8h0M228.5,201.6h0M232.3,211.8h0M235.2,222.2h0M237.2,232.8h0M238.2,243.6h0M238.3,254.4h0M237.5,265.2h0M235.7,275.9h0M233,286.4h0M229.4,296.6h0M224.9,306.4h0M219.5,315.9h0M213.4,324.8h0M206.5,333.1h0M198.9,340.9h0M190.7,347.9h0M181.9,354.2h0M172.6,359.7h0M162.8,364.3h0M152.6,368.1h0M142.2,371h0M131.6,373h0M120.8,374h0M110,374.1h0M202.2,152.5h0M210.4,160.5h0M217.8,169.2h0M224.5,178.5h0M230.3,188.4h0M235.3,198.8h0M239.3,209.5h0M242.3,220.5h0M244.4,231.8h0M245.5,243.2h0M245.6,254.7h0M244.7,266.1h0M242.8,277.4h0M240,288.5h0M236.1,299.3h0M231.4,309.8h0M225.7,319.7h0M219.2,329.2h0M211.9,338h0M203.9,346.2h0M195.2,353.6h0M185.9,360.3h0M176,366.1h0M165.6,371.1h0M154.9,375.1h0M143.9,378.1h0M132.6,380.2h0M121.2,381.3h0M109.7,381.4h0M207.1,147h0M215.7,155.5h0M223.6,164.7h0M230.6,174.6h0M236.8,185h0M242,195.9h0M246.2,207.2h0M249.4,218.9h0M251.7,230.8h0M252.8,242.8h0M252.9,254.9h0M252,267h0M250,278.9h0M246.9,290.7h0M242.9,302.1h0M237.9,313.1h0M231.9,323.6h0M225.1,333.6h0M217.4,342.9h0M208.9,351.5h0M199.7,359.4h0M189.8,366.4h0M179.4,372.6h0M168.5,377.8h0M157.2,382h0M145.5,385.2h0M133.6,387.5h0M121.6,388.6h0M109.5,388.7h0M212,141.6h0M221.1,150.5h0M229.3,160.2h0M236.7,170.6h0M243.2,181.6h0M248.7,193.1h0M253.2,205h0M256.6,217.3h0M258.9,229.8h0M260.1,242.5h0M260.2,255.2h0M259.2,267.9h0M257.1,280.5h0M253.9,292.8h0M249.7,304.8h0M244.4,316.4h0M238.1,327.5h0M230.9,338h0M222.8,347.8h0M213.9,356.9h0M204.2,365.1h0M193.8,372.5h0M182.8,379h0M171.3,384.5h0M159.4,389h0M147.1,392.4h0M134.6,394.7h0M121.9,395.9h0M109.2,396h0M216.9,136.2h0M226.4,145.5h0M235.1,155.7h0M242.9,166.6h0M249.7,178.1h0M255.4,190.2h0M260.1,202.7h0M263.7,215.6h0M266.1,228.8h0M267.4,242.1h0M267.5,255.5h0M266.5,268.8h0M264.3,282h0M260.9,294.9h0M256.4,307.5h0M250.9,319.7h0M244.3,331.3h0M236.7,342.4h0M228.2,352.7h0M218.9,362.2h0M208.7,370.9h0M197.8,378.7h0M186.3,385.5h0M174.2,391.2h0M161.7,395.9h0M148.8,399.5h0M135.6,401.9h0M122.3,403.2h0M108.9,403.3h0M221.8,130.8h0M231.8,140.6h0M240.9,151.2h0M249,162.6h0M256.1,174.7h0M262.1,187.3h0M267,200.5h0M270.8,214h0M273.3,227.7h0M274.7,241.7h0M274.8,255.7h0M273.7,269.7h0M271.4,283.5h0M267.9,297.1h0M263.2,310.3h0M257.4,323h0M250.5,335.2h0M242.6,346.8h0M233.6,357.6h0M223.8,367.6h0M213.2,376.7h0M201.8,384.8h0M189.7,391.9h0M177.1,397.9h0M163.9,402.8h0M150.4,406.6h0M136.7,409.1h0M122.7,410.5h0M108.7,410.6h0M246.6,146.7h0M255.1,158.7h0M262.5,171.3h0M268.9,184.5h0M274,198.2h0M277.9,212.3h0M280.6,226.7h0M282,241.3h0M282.1,256h0M280.9,270.6h0M278.5,285h0M274.9,299.2h0M270,313h0M263.9,326.3h0M256.7,339.1h0M248.4,351.1h0M239.1,362.4h0M228.8,372.9h0M217.7,382.4h0M205.7,390.9h0M193.1,398.3h0M179.9,404.7h0M166.2,409.8h0M152.1,413.7h0M137.7,416.4h0M123.1,417.8h0M108.4,417.9h0M252.4,142.2h0M261.2,154.7h0M269,167.8h0M275.6,181.6h0M280.9,196h0M285,210.7h0M287.8,225.7h0M289.3,240.9h0M289.4,256.2h0M288.2,271.5h0M285.7,286.5h0M281.8,301.3h0M276.7,315.7h0M270.4,329.6h0M262.9,342.9h0M254.2,355.5h0M244.5,367.3h0M233.8,378.2h0M222.2,388.2h0M209.7,397h0M196.6,404.8h0M182.8,411.4h0M168.4,416.7h0M153.7,420.8h0M138.7,423.6h0M123.5,425.1h0M108.2,425.2h0M258.1,137.7h0M267.4,150.7h0M275.4,164.4h0M282.3,178.8h0M287.9,193.7h0M292.1,209h0M295,224.7h0M296.5,240.5h0M296.7,256.5h0M295.4,272.3h0M292.8,288h0M288.8,303.5h0M283.5,318.5h0M276.9,333h0M269.1,346.8h0M260.1,359.9h0M249.9,372.2h0M238.8,383.6h0M226.7,393.9h0M213.7,403.2h0M200,411.2h0M185.6,418.1h0M170.7,423.7h0M263.9,133.2h0M273.5,146.7h0M281.9,161h0M289,175.9h0M294.8,191.4h0M299.2,207.4h0M302.3,223.7h0M303.8,240.2h0M304,256.7h0M302.7,273.2h0M300,289.6h0M295.8,305.6h0M290.3,321.2h0M283.4,336.3h0M275.3,350.7h0M265.9,364.3h0M255.3,377.1h0M243.7,388.9h0M231.2,399.7h0M217.7,409.3h0M203.4,417.7h0M188.5,424.8h0M269.6,128.8h0M279.6,142.8h0M288.3,157.6h0M295.7,173.1h0M301.8,189.2h0M306.3,205.8h0M309.5,222.7h0M311.1,239.8h0M311.3,257h0M309.9,274.1h0M307.1,291.1h0M302.8,307.7h0M297,323.9h0M289.9,339.6h0M281.5,354.5h0M271.7,368.7h0M260.8,382h0M248.7,394.2h0M235.6,405.4h0M221.6,415.4h0M206.8,424.1h0M275.4,124.3h0M285.7,138.8h0M294.8,154.1h0M302.5,170.2h0M308.7,186.9h0M313.5,204.1h0M316.7,221.7h0M318.4,239.4h0M318.6,257.2h0M317.2,275h0M314.2,292.6h0M309.8,309.9h0M303.8,326.7h0M296.4,342.9h0M287.6,358.4h0M277.5,373.1h0M266.2,386.9h0M253.7,399.6h0M240.1,411.2h0M225.6,421.5h0M281.1,119.8h0M291.8,134.8h0M301.2,150.7h0M309.2,167.4h0M315.6,184.7h0M320.6,202.5h0M323.9,220.6h0M325.7,239h0M325.9,257.5h0M324.4,275.9h0M321.4,294.1h0M316.7,312h0M310.6,329.4h0M302.9,346.2h0M293.8,362.3h0M283.4,377.5h0M271.6,391.8h0M258.7,404.9h0M244.6,416.9h0M286.9,115.3h0M298,130.8h0M307.7,147.3h0M315.9,164.5h0M322.6,182.4h0M327.7,200.8h0M331.2,219.6h0M333,238.6h0M333.2,257.7h0M331.7,276.8h0M328.5,295.6h0M323.7,314.1h0M317.4,332.1h0M309.4,349.5h0M300,366.2h0M289.2,381.9h0M277,396.6h0M263.7,410.3h0M249.1,422.7h0M292.6,110.8h0M304.1,126.8h0M314.1,143.9h0M322.6,161.7h0M329.5,180.2h0M334.8,199.2h0M338.4,218.6h0M340.3,238.3h0M340.5,258h0M338.9,277.7h0M335.7,297.2h0M330.7,316.3h0M324.1,334.9h0M315.9,352.8h0M306.2,370h0M295,386.3h0M282.5,401.5h0M268.6,415.6h0M298.4,106.3h0M310.2,122.9h0M320.6,140.4h0M329.3,158.8h0M336.5,177.9h0M341.9,197.6h0M345.6,217.6h0M347.6,237.9h0M347.8,258.3h0M346.2,278.6h0M342.8,298.7h0M337.7,318.4h0M330.9,337.6h0M322.4,356.2h0M312.4,373.9h0M300.9,390.7h0M287.9,406.4h0M273.6,420.9h0M304.1,101.8h0M316.3,118.9h0M327,137h0M336,156h0M343.4,175.7h0M344.7,320.5h0M337.7,340.3h0M328.9,359.5h0M318.6,377.8h0M306.7,395.1h0M293.3,411.3h0M278.6,426.3h0M309.9,97.3h0M322.5,114.9h0M333.4,133.6h0M342.8,153.1h0M344.4,343.1h0M335.4,362.8h0M324.8,381.6h0M312.5,399.5h0M298.7,416.2h0M315.6,92.8h0M328.6,110.9h0M339.9,130.2h0M342,366.1h0M331,385.5h0M318.4,403.9h0M304.2,421.1h0M321.4,88.3h0M334.7,107h0M346.3,126.7h0M337.2,389.4h0M324.2,408.3h0M309.6,425.9h0M327.1,83.8h0M340.8,103h0M343.4,393.2h0M330,412.7h0M332.9,79.3h0M346.9,99h0M335.8,417h0M338.6,74.8h0M341.7,421.4h0M344.4,70.3h0M347.5,425.8h0" stroke="#00ff00" stroke-width="2.9" stroke-linecap="round" fill="none"/><path d="M69.7,269.3A7.3,7.3 0 0 1 58.6,277.6" stroke="#ff0000" stroke-width="2.6" fill="none"/><path d="M76.7,267.1A14.6,14.6 0 0 1 54.4,283.6" stroke="#ff0000" stroke-width="2.6" fill="none"/><path d="M83.6,264.8A21.9,21.9 0 0 1 50.2,289.5" stroke="#ff0000" stroke-width="2.6" fill="none"/><path d="M90.6,262.6h0M91.3,265h0M91.7,267.5h0M92,270.1h0M92,272.6h0M91.8,275.2h0M91.4,277.7h0M90.7,280.1h0M89.9,282.5h0M88.8,284.9h0M87.6,287.1h0M86.1,289.2h0M84.5,291.1h0M82.7,293h0M80.8,294.6h0M78.7,296.1h0M76.5,297.4h0M74.2,298.5h0M71.8,299.4h0M69.4,300.1h0M66.9,300.5h0M64.3,300.8h0M61.8,300.8h0M59.2,300.6h0M56.7,300.2h0M54.3,299.5h0M51.9,298.7h0M49.5,297.6h0M47.3,296.4h0M97.5,260.3h0M98.4,263.4h0M98.9,266.5h0M99.2,269.7h0M99.3,272.9h0M99,276h0M98.5,279.2h0M97.7,282.3h0M96.6,285.3h0M95.3,288.2h0M93.8,290.9h0M92,293.6h0M89.9,296h0M87.7,298.3h0M85.3,300.4h0M82.7,302.2h0M79.9,303.8h0M77.1,305.2h0M74.1,306.3h0M71,307.2h0M67.9,307.7h0M64.7,308h0M61.5,308.1h0M58.4,307.8h0M55.2,307.3h0M52.1,306.5h0M49.1,305.4h0M46.2,304.1h0M43.5,302.6h0M104.5,258.1h0M105.5,261.7h0M106.2,265.5h0M106.5,269.3h0M106.6,273.1h0M106.3,276.9h0M105.6,280.7h0M104.7,284.4h0M103.4,288h0M101.8,291.5h0M99.9,294.8h0M97.8,298h0M95.3,300.9h0M92.7,303.6h0M89.8,306.1h0M86.7,308.3h0M83.4,310.3h0M79.9,311.9h0M76.3,313.3h0M72.7,314.3h0M68.9,315h0M65.1,315.3h0M61.3,315.4h0M57.5,315.1h0M53.7,314.4h0M50,313.5h0M46.4,312.2h0M42.9,310.6h0M39.6,308.7h0M111.4,255.8h0M112.6,260.1h0M113.4,264.5h0M113.8,268.9h0M113.9,273.4h0M113.5,277.8h0M112.8,282.2h0M111.7,286.5h0M110.2,290.7h0M108.3,294.8h0M106.1,298.7h0M103.6,302.4h0M100.8,305.8h0M97.7,309h0M94.3,311.9h0M90.6,314.5h0M86.8,316.7h0M82.8,318.6h0M78.6,320.2h0M74.3,321.4h0M69.9,322.2h0M65.5,322.6h0M61,322.7h0M56.6,322.3h0M52.2,321.6h0M47.9,320.5h0M43.7,319h0M39.6,317.1h0M35.7,314.9h0M118.3,253.6h0M119.7,258.5h0M120.6,263.5h0M121.1,268.5h0M121.2,273.6h0M120.8,278.7h0M118.6,288.7h0M116.9,293.5h0M114.8,298.1h0M112.3,302.5h0M109.4,306.7h0M106.2,310.7h0M102.6,314.3h0M98.8,317.6h0M94.6,320.6h0M90.2,323.2h0M80.8,327.1h0M75.9,328.5h0M70.9,329.4h0M65.9,329.9h0M55.7,329.6h0M50.7,328.7h0M40.9,325.7h0M125.3,251.3h0M126.8,256.8h0M127.9,262.5h0M128.4,268.2h0M128.5,273.9h0M128,279.6h0M127.1,285.3h0M125.6,290.8h0M123.7,296.2h0M121.3,301.4h0M118.5,306.4h0M111.6,315.6h0M103.2,323.4h0M98.6,326.7h0M93.6,329.6h0M88.5,332.1h0M77.6,335.6h0M71.9,336.7h0M66.2,337.2h0M60.5,337.3h0M54.8,336.8h0M49.1,335.9h0M43.6,334.4h0M38.2,332.5h0M33,330.1h0M132.2,249h0M133.9,255.2h0M135.1,261.4h0M135.8,274.1h0M134.2,286.8h0M132.6,292.9h0M130.5,298.9h0M127.8,304.7h0M124.7,310.3h0M121.1,315.5h0M117,320.4h0M107.7,329.1h0M102.6,332.8h0M97.1,336.1h0M91.3,338.8h0M79.2,342.7h0M73,343.9h0M66.6,344.5h0M53.9,344.1h0M47.6,343h0M41.5,341.4h0M35.5,339.3h0M29.7,336.6h0M24.1,333.5h0M141,253.5h0M143,267.4h0M143.1,274.4h0M142.5,281.4h0M141.3,288.3h0M139.6,295.1h0M137.3,301.7h0M134.3,308.1h0M130.9,314.2h0M126.9,319.9h0M122.5,325.3h0M112.2,334.9h0M106.5,338.9h0M100.5,342.5h0M94.2,345.5h0M87.6,348h0M74,351.1h0M67,351.8h0M60,351.9h0M53,351.3h0M46.1,350.1h0M39.3,348.4h0M32.7,346.1h0M26.3,343.1h0M20.2,339.7h0M146.1,244.5h0M150.3,267h0M150.3,274.7h0M149.7,282.3h0M148.5,289.8h0M146.6,297.2h0M144,304.4h0M140.9,311.4h0M137.1,318h0M132.8,324.3h0M127.9,330.2h0M116.7,340.6h0M103.9,348.9h0M97,352.2h0M89.9,354.9h0M67.4,359.1h0M59.7,359.1h0M37.2,355.4h0M30,352.8h0M23,349.7h0M157.6,274.9h0M157,283.2h0M155.6,291.3h0M153.6,299.3h0M147.4,314.7h0M143.3,321.9h0M138.6,328.7h0M133.3,335.1h0M121.2,346.4h0M99.9,359h0M92.1,361.9h0M76,365.6h0M59.5,366.4h0M35.1,362.4h0M27.2,359.6h0M19.7,356.2h0M160,240h0M164.9,266.3h0M164.9,275.2h0M160.5,301.5h0M157.6,309.9h0M153.9,318h0M149.5,325.8h0M138.7,340h0M125.7,352.1h0M110.8,361.8h0M102.7,365.7h0M94.4,368.8h0M77,372.8h0M68.1,373.7h0M59.2,373.7h0M50.3,373h0M24.5,366.4h0M16.4,362.7h0M166.9,237.8h0M172.1,265.9h0M171.5,284.9h0M169.9,294.4h0M167.5,303.6h0M164.3,312.6h0M155.7,329.6h0M150.3,337.5h0M114.2,368.3h0M105.6,372.4h0M96.6,375.7h0M68.5,380.9h0M59,381h0M49.5,380.3h0M30.8,376.3h0M21.8,373.1h0M13.1,369.2h0M173.9,235.5h0M179.4,265.5h0M178.7,285.8h0M177,295.9h0M174.5,305.7h0M171.1,315.4h0M166.9,324.6h0M156.1,341.9h0M117.6,374.7h0M108.4,379.1h0M98.9,382.7h0M79.1,387.3h0M68.9,388.2h0M58.7,388.3h0M48.6,387.5h0M28.7,383.3h0M9.8,375.7h0M186.7,265.1h0M186,286.7h0M184.2,297.4h0M181.5,307.9h0M177.9,318.1h0M173.4,327.9h0M168,337.4h0M161.9,346.3h0M139.2,369.4h0M121.1,381.2h0M111.3,385.8h0M101.1,389.6h0M80.1,394.5h0M58.5,395.6h0M47.7,394.8h0M26.5,390.3h0M16.3,386.7h0M6.5,382.2h0M187.8,231h0M194,264.7h0M193.2,287.6h0M191.3,298.9h0M188.5,310h0M179.9,331.3h0M174.2,341.2h0M167.7,350.7h0M143.7,375.1h0M124.5,387.6h0M114.1,392.6h0M103.4,396.6h0M81.1,401.7h0M58.2,402.9h0M46.8,402h0M24.4,397.3h0M13.6,393.4h0M3.1,388.7h0M194.7,228.7h0M201.3,264.3h0M200.5,288.5h0M198.5,300.4h0M186.4,334.6h0M173.6,355.1h0M148.2,380.9h0M127.9,394.1h0M117,399.3h0M105.7,403.5h0M82.1,409h0M45.9,409.3h0M10.8,400.2h0M208.6,264h0M207.7,289.4h0M205.6,302h0M202.4,314.3h0M192.9,337.9h0M186.6,349h0M179.4,359.5h0M152.7,386.6h0M131.3,400.5h0M119.8,406h0M107.9,410.5h0M83.1,416.2h0M45,416.5h0M20.1,411.2h0M8.1,407h0" stroke="#ff0000" stroke-width="2.9" stroke-linecap="round" fill="none"/><path d="M17.1,317.9A7.3,7.3 0 0 1 7.8,327.5" stroke="#000000" stroke-width="2.6" fill="none"/><path d="M23.8,315.1A14.6,14.6 0 0 1 5.3,334.3" stroke="#000000" stroke-width="2.6" fill="none"/><path d="M30.6,312.4A21.9,21.9 0 0 1 2.8,341.2" stroke="#000000" stroke-width="2.6" fill="none"/><path d="M37.4,309.7h0M38.2,312.1h0M38.9,314.5h0M39.3,317h0M39.5,319.6h0M39.5,322.1h0M39.2,324.7h0M38.8,327.2h0M38.1,329.6h0M37.2,332h0M36.1,334.3h0M34.8,336.5h0M33.3,338.6h0M31.7,340.5h0M29.8,342.3h0M27.9,343.9h0M25.8,345.4h0M23.6,346.6h0M21.2,347.7h0M18.8,348.5h0M16.4,349.2h0M13.9,349.6h0M11.3,349.8h0M8.8,349.8h0M6.2,349.5h0M3.7,349.1h0M1.3,348.4h0M44.1,306.9h0M45.2,309.9h0M46,313h0M46.5,316.2h0M46.8,319.3h0M46.7,322.5h0M46.4,325.7h0M45.9,328.8h0M45,331.9h0M43.9,334.9h0M42.5,337.7h0M40.9,340.5h0M39.1,343.1h0M37,345.5h0M34.7,347.7h0M32.3,349.8h0M29.6,351.6h0M26.9,353.1h0M24,354.4h0M21,355.5h0M17.9,356.3h0M14.7,356.8h0M11.6,357.1h0M8.4,357h0M5.2,356.7h0M2.1,356.2h0M50.9,304.2h0M52.2,307.8h0M53.1,311.5h0M53.8,315.3h0M54.1,319.1h0M54,322.9h0M53.7,326.7h0M53,330.5h0M52,334.1h0M50.6,337.7h0M49,341.2h0M47,344.5h0M44.8,347.6h0M42.3,350.5h0M39.6,353.1h0M36.7,355.6h0M33.5,357.7h0M30.2,359.6h0M26.7,361.2h0M23.1,362.5h0M19.4,363.4h0M15.6,364.1h0M11.8,364.4h0M8,364.3h0M4.2,364h0M0.4,363.3h0M57.7,301.5h0M59.2,305.7h0M60.3,310h0M61,314.4h0M61.4,318.8h0M61.3,323.3h0M60.9,327.7h0M60.1,332.1h0M58.9,336.4h0M57.3,340.6h0M55.4,344.6h0M53.2,348.4h0M50.6,352.1h0M47.7,355.5h0M44.5,358.6h0M41.1,361.4h0M37.4,363.9h0M33.5,366.1h0M29.4,368h0M25.2,369.5h0M20.9,370.6h0M16.5,371.3h0M12.1,371.7h0M7.6,371.6h0M3.2,371.2h0M64.4,298.7h0M66.1,303.5h0M67.4,308.5h0M68.3,313.5h0M68.7,318.6h0M68.6,323.7h0M68.1,328.7h0M67.2,333.7h0M65.8,338.6h0M64.1,343.4h0M61.9,348h0M59.3,352.4h0M56.3,356.6h0M53,360.4h0M49.4,364h0M45.4,367.2h0M41.2,370.1h0M36.8,372.6h0M32.2,374.7h0M27.4,376.4h0M22.4,377.7h0M17.4,378.6h0M12.3,379h0M7.2,378.9h0M2.2,378.4h0M71.2,296h0M73.1,301.4h0M74.6,306.9h0M75.5,312.6h0M76,318.3h0M75.9,324h0M75.4,329.7h0M74.3,335.4h0M72.8,340.9h0M70.8,346.3h0M68.3,351.4h0M65.4,356.4h0M62.1,361h0M58.3,365.4h0M54.3,369.4h0M49.8,373.1h0M45.1,376.3h0M40.1,379.1h0M34.9,381.5h0M29.5,383.4h0M24,384.9h0M18.3,385.8h0M12.6,386.3h0M6.9,386.2h0M1.2,385.7h0M78,293.3h0M80.1,299.3h0M81.7,305.4h0M82.8,311.7h0M83.3,318.1h0M83.2,324.4h0M82.6,330.8h0M81.4,337h0M79.7,343.2h0M77.5,349.1h0M74.8,354.9h0M71.5,360.4h0M67.8,365.5h0M63.7,370.4h0M59.1,374.8h0M54.2,378.9h0M49,382.5h0M43.4,385.6h0M37.6,388.3h0M31.6,390.4h0M25.5,392h0M19.2,393.1h0M12.8,393.6h0M6.5,393.5h0M0.1,392.9h0M84.8,290.5h0M87.1,297.1h0M88.8,303.9h0M90,310.8h0M90.6,317.8h0M90.5,324.8h0M89.8,331.8h0M88.5,338.7h0M86.7,345.4h0M84.2,352h0M81.2,358.3h0M77.6,364.3h0M73.6,370h0M69,375.4h0M64,380.3h0M58.6,384.7h0M52.9,388.7h0M46.8,392.1h0M40.4,395.1h0M33.8,397.4h0M27,399.1h0M20.1,400.3h0M13.1,400.9h0M6.1,400.8h0M91.5,287.8h0M94.1,295h0M96,302.4h0M97.2,309.9h0M97.8,317.5h0M97.8,325.2h0M97,332.8h0M95.7,340.3h0M93.6,347.7h0M90.9,354.8h0M87.6,361.7h0M83.8,368.3h0M79.3,374.5h0M74.4,380.3h0M68.9,385.7h0M63,390.6h0M56.7,394.9h0M50.1,398.7h0M43.1,401.8h0M35.9,404.4h0M28.5,406.3h0M21,407.5h0M13.4,408.1h0M5.7,408.1h0M98.3,285h0M101.1,292.9h0M103.1,300.9h0M104.5,309h0M105.1,317.3h0M105.1,325.6h0M104.3,333.8h0M102.8,341.9h0M100.6,349.9h0M97.7,357.7h0M94.1,365.2h0M89.9,372.3h0M85.1,379h0M79.7,385.3h0M73.8,391.1h0M67.4,396.4h0M60.6,401.1h0M53.4,405.2h0M45.9,408.6h0M38,411.4h0M30,413.4h0M21.9,414.8h0M13.6,415.4h0M5.3,415.4h0M105.1,282.3h0M108,290.7h0M110.3,299.4h0M111.7,308.1h0M112.4,317h0M112.4,325.9h0M111.5,334.8h0M109.9,343.6h0M107.5,352.2h0M104.4,360.5h0M100.5,368.6h0M96,376.3h0M90.8,383.5h0M85,390.3h0M78.7,396.5h0M71.8,402.2h0M64.5,407.3h0M56.7,411.7h0M48.6,415.4h0M40.2,418.3h0M31.5,420.6h0M22.8,422h0M13.9,422.7h0M5,422.7h0M111.8,279.6h0M115,288.6h0M117.4,297.8h0M119,307.3h0M119.7,316.8h0M119.6,326.3h0M118.7,335.8h0M117,345.2h0M114.4,354.4h0M102.1,380.2h0M96.6,388h0M90.4,395.3h0M83.6,402h0M76.2,408.1h0M68.3,413.5h0M60,418.2h0M51.3,422.1h0M42.3,425.3h0M118.6,276.8h0M122,286.5h0M124.5,296.3h0M126.2,306.4h0M127,316.5h0M126,336.9h0M124.1,346.9h0M121.4,356.7h0M117.8,366.2h0M108.3,384.2h0M102.3,392.5h0M95.7,400.3h0M88.5,407.4h0M80.6,413.9h0M72.2,419.7h0M63.3,424.7h0M125.4,274.1h0M129,284.3h0M131.7,294.8h0M133.5,305.5h0M134.3,316.3h0M134.2,327.1h0M133.2,337.9h0M131.2,348.5h0M124.5,369.1h0M101.1,405.2h0M93.3,412.8h0M85,419.7h0M76.1,425.8h0M132.1,271.4h0M136,282.2h0M138.8,293.3h0M140.7,304.6h0M141.5,327.5h0M140.4,338.9h0M138.3,350.2h0M131.3,371.9h0M106.4,410.2h0M98.2,418.2h0M89.4,425.5h0M138.9,268.6h0M148,303.7h0M148.8,327.9h0M147.7,339.9h0M145.4,351.8h0M138,374.8h0M111.7,415.2h0M103.1,423.7h0M145.7,265.9h0M149.9,277.9h0M153.1,290.2h0M155.2,302.8h0M152.6,353.4h0M144.7,377.6h0M117.1,420.2h0M152.4,263.2h0M156.9,275.8h0M160.3,288.7h0M162.5,301.9h0M162.1,341.9h0M151.4,380.5h0M122.4,425.2h0M159.2,260.4h0M163.9,273.6h0M167.4,287.2h0M169.7,301h0M170.7,329h0M158.1,383.4h0M166,257.7h0M176.9,300.1h0M178,329.4h0M164.9,386.2h0M172.7,255h0M184.2,299.2h0M185.3,329.8h0M171.6,389.1h0" stroke="#000000" stroke-width="2.9" stroke-linecap="round" fill="none"/><path d="M158,1h0M166,1h0M178,1h0M192,1h0M203,1h0M212,1h0M221,1h0M232,1h0M247,1h0M262,1h0M270,1h0M276,1h0M283,1h0M289,1h0M296,1h0M303,1h0M312,1h0M322,1h0M330,1h0" stroke="#ff0000" stroke-width="2.9" stroke-linecap="round" fill="none"/><path d="M104,1h0M112,1h0M121,1h0M127,1h0M134,1h0M146,1h0M152,1h0" stroke="#0000ff" stroke-width="2.9" stroke-linecap="round" fill="none"/><path d="M215,0.6L212,26.6L203,56.6L199,86.6L195,116.6L193,148.6L190,156.6L187,176.6L195,196.6L193,216.6L181,236.6L171,251.6L183,233.6L169,251.6L155,273.6L135,283.6L115,307.6L107,321.6L85,353.6L65,377.6L45,401.6L21,426.6" stroke="#000" stroke-width="0.9" fill="none"/><text x="191" y="136.1" font-size="14.5" text-anchor="middle" transform="rotate(-86 191 131)">100</text><text x="99" y="335.1" font-size="14.5" text-anchor="middle" transform="rotate(-58 99 330)">100</text>
<use href="#star" x="66.8" y="46.6"/>
<use href="#star" x="104.8" y="157.1"/>
<use href="#star" x="114.3" y="250.1"/>
<use href="#star" x="62.8" y="271.6"/>
<use href="#star" x="10.3" y="320.6"/>

</g>
<path d="M58,427.5v-3.2M58,0v3.2M116,427.5v-3.2M116,0v3.2M173.9,427.5v-3.2M173.9,0v3.2M231.9,427.5v-3.2M231.9,0v3.2M289.9,427.5v-3.2M289.9,0v3.2M0,72.4h3.2M347.9,72.4h-3.2M0,144.3h3.2M347.9,144.3h-3.2M0,215.7h3.2M347.9,215.7h-3.2M0,286.8h3.2M347.9,286.8h-3.2M0,357.3h3.2M347.9,357.3h-3.2" stroke="#000" stroke-width="1" fill="none"/>
<rect x="0" y="0" width="347.9" height="427.5" fill="none" stroke="#000" stroke-width="1.1"/>
</g>
<g transform="translate(458.5,742.4)">
<rect x="0" y="0" width="347.9" height="427.5" fill="#fff"/>
<g clip-path="url(#ax)">
<path d="M58,0V427.5M116,0V427.5M173.9,0V427.5M231.9,0V427.5M289.9,0V427.5M0,72.4H347.9M0,144.3H347.9M0,215.7H347.9M0,286.8H347.9M0,357.3H347.9" stroke="#bcbcbc" stroke-width="1" stroke-dasharray="2.6,5.8" fill="none"/>
<g shape-rendering="crispEdges"><path fill="#0000aa" d="M319.5,247.4H327.5V255.3H319.5zM342.5,247.4H350.4V255.3H342.5zM59.6,293.3H67.6V301.3H59.6zM67.3,293.3H75.2V301.3H67.3zM67.3,301H75.2V308.9H67.3zM250.7,301H258.7V308.9H250.7zM258.4,301H266.3V308.9H258.4zM44.3,308.6H52.3V316.5H44.3zM243.1,308.6H251V316.5H243.1z"/><path fill="#0000bf" d="M120.8,-0.9H128.7V7.2H120.8zM159,-0.9H166.9V7.2H159zM174.3,-0.9H182.2V7.2H174.3zM197.2,-0.9H205.2V7.2H197.2zM204.9,-0.9H212.8V7.2H204.9zM82.5,6.9H90.5V15.1H82.5zM97.8,6.9H105.8V15.1H97.8zM113.1,6.9H121.1V15.1H113.1zM120.8,6.9H128.7V15.1H120.8zM136.1,6.9H144V15.1H136.1zM143.7,6.9H151.7V15.1H143.7zM197.2,6.9H205.2V15.1H197.2zM97.8,14.8H105.8V22.9H97.8zM105.5,14.8H113.4V22.9H105.5zM113.1,14.8H121.1V22.9H113.1zM136.1,14.8H144V22.9H136.1zM204.9,14.8H212.8V22.9H204.9zM220.2,14.8H228.1V22.9H220.2zM82.5,22.6H90.5V30.7H82.5zM113.1,22.6H121.1V30.7H113.1zM120.8,22.6H128.7V30.7H120.8zM128.4,22.6H136.4V30.7H128.4zM143.7,22.6H151.7V30.7H143.7zM204.9,22.6H212.8V30.7H204.9zM82.5,30.4H90.5V38.5H82.5zM97.8,30.4H105.8V38.5H97.8zM166.6,30.4H174.6V38.5H166.6zM174.3,30.4H182.2V38.5H174.3zM181.9,30.4H189.9V38.5H181.9zM212.5,30.4H220.5V38.5H212.5zM227.8,30.4H235.8V38.5H227.8zM82.5,38.2H90.5V46.3H82.5zM120.8,38.2H128.7V46.3H120.8zM136.1,38.2H144V46.3H136.1zM159,38.2H166.9V46.3H159zM204.9,38.2H212.8V46.3H204.9zM311.9,38.2H319.8V46.3H311.9zM159,46H166.9V54.2H159zM311.9,46H319.8V54.2H311.9zM319.5,53.9H327.5V62H319.5zM327.2,61.7H335.1V69.8H327.2zM113.1,69.5H121.1V77.6H113.1zM181.9,69.5H189.9V77.6H181.9zM189.6,69.5H197.5V77.6H189.6zM212.5,69.5H220.5V77.6H212.5zM311.9,69.5H319.8V77.6H311.9zM334.8,69.5H342.8V77.6H334.8zM342.5,69.5H350.4V77.6H342.5zM113.1,77.3H121.1V85.3H113.1zM151.4,77.3H159.3V85.3H151.4zM166.6,77.3H174.6V85.3H166.6zM197.2,77.3H205.2V85.3H197.2zM220.2,77.3H228.1V85.3H220.2zM319.5,77.3H327.5V85.3H319.5zM143.7,85H151.7V93.1H143.7zM204.9,85H212.8V93.1H204.9zM212.5,85H220.5V93.1H212.5zM235.4,85H243.4V93.1H235.4zM342.5,85H350.4V93.1H342.5zM204.9,92.8H212.8V100.9H204.9zM281.3,92.8H289.3V100.9H281.3zM342.5,92.8H350.4V100.9H342.5zM159,100.6H166.9V108.7H159zM243.1,100.6H251V108.7H243.1zM334.8,100.6H342.8V108.7H334.8zM181.9,108.4H189.9V116.4H181.9zM204.9,108.4H212.8V116.4H204.9zM289,108.4H296.9V116.4H289zM342.5,108.4H350.4V116.4H342.5zM166.6,116.1H174.6V124.2H166.6zM204.9,116.1H212.8V124.2H204.9zM220.2,116.1H228.1V124.2H220.2zM311.9,116.1H319.8V124.2H311.9zM334.8,116.1H342.8V124.2H334.8zM151.4,123.9H159.3V132H151.4zM166.6,123.9H174.6V132H166.6zM174.3,123.9H182.2V132H174.3zM204.9,123.9H212.8V132H204.9zM281.3,123.9H289.3V132H281.3zM296.6,123.9H304.6V132H296.6zM151.4,131.7H159.3V139.7H151.4zM159,131.7H166.9V139.7H159zM181.9,131.7H189.9V139.7H181.9zM227.8,131.7H235.8V139.7H227.8zM243.1,131.7H251V139.7H243.1zM289,131.7H296.9V139.7H289zM304.3,131.7H312.2V139.7H304.3zM311.9,131.7H319.8V139.7H311.9zM334.8,131.7H342.8V139.7H334.8zM342.5,131.7H350.4V139.7H342.5zM166.6,139.4H174.6V147.5H166.6zM289,139.4H296.9V147.5H289zM296.6,139.4H304.6V147.5H296.6zM304.3,139.4H312.2V147.5H304.3zM311.9,139.4H319.8V147.5H311.9zM342.5,139.4H350.4V147.5H342.5zM159,147.2H166.9V155.2H159zM166.6,147.2H174.6V155.2H166.6zM174.3,147.2H182.2V155.2H174.3zM227.8,147.2H235.8V155.2H227.8zM243.1,147.2H251V155.2H243.1zM258.4,147.2H266.3V155.2H258.4zM319.5,147.2H327.5V155.2H319.5zM128.4,154.9H136.4V162.9H128.4zM136.1,154.9H144V162.9H136.1zM143.7,154.9H151.7V162.9H143.7zM151.4,154.9H159.3V162.9H151.4zM159,154.9H166.9V162.9H159zM227.8,154.9H235.8V162.9H227.8zM235.4,154.9H243.4V162.9H235.4zM289,154.9H296.9V162.9H289zM311.9,154.9H319.8V162.9H311.9zM128.4,162.6H136.4V170.7H128.4zM136.1,162.6H144V170.7H136.1zM166.6,162.6H174.6V170.7H166.6zM174.3,162.6H182.2V170.7H174.3zM227.8,162.6H235.8V170.7H227.8zM235.4,162.6H243.4V170.7H235.4zM250.7,162.6H258.7V170.7H250.7zM281.3,162.6H289.3V170.7H281.3zM296.6,162.6H304.6V170.7H296.6zM334.8,162.6H342.8V170.7H334.8zM342.5,162.6H350.4V170.7H342.5zM250.7,170.4H258.7V178.4H250.7zM258.4,170.4H266.3V178.4H258.4zM266,170.4H274V178.4H266zM281.3,170.4H289.3V178.4H281.3zM304.3,170.4H312.2V178.4H304.3zM311.9,170.4H319.8V178.4H311.9zM327.2,170.4H335.1V178.4H327.2zM334.8,170.4H342.8V178.4H334.8zM128.4,178.1H136.4V186.1H128.4zM266,178.1H274V186.1H266zM281.3,178.1H289.3V186.1H281.3zM289,178.1H296.9V186.1H289zM319.5,178.1H327.5V186.1H319.5zM342.5,178.1H350.4V186.1H342.5zM128.4,185.8H136.4V193.8H128.4zM136.1,185.8H144V193.8H136.1zM174.3,185.8H182.2V193.8H174.3zM250.7,185.8H258.7V193.8H250.7zM296.6,185.8H304.6V193.8H296.6zM151.4,193.5H159.3V201.5H151.4zM174.3,193.5H182.2V201.5H174.3zM289,193.5H296.9V201.5H289zM304.3,193.5H312.2V201.5H304.3zM120.8,201.2H128.7V209.2H120.8zM143.7,201.2H151.7V209.2H143.7zM151.4,201.2H159.3V209.2H151.4zM159,201.2H166.9V209.2H159zM281.3,201.2H289.3V209.2H281.3zM304.3,201.2H312.2V209.2H304.3zM311.9,208.9H319.8V216.9H311.9zM289,216.6H296.9V224.6H289zM334.8,216.6H342.8V224.6H334.8zM281.3,224.3H289.3V232.3H281.3zM289,224.3H296.9V232.3H289zM296.6,224.3H304.6V232.3H296.6zM319.5,224.3H327.5V232.3H319.5zM327.2,224.3H335.1V232.3H327.2zM250.7,232H258.7V240H250.7zM258.4,232H266.3V240H258.4zM273.7,232H281.6V240H273.7zM281.3,232H289.3V240H281.3zM296.6,232H304.6V240H296.6zM296.6,239.7H304.6V247.7H296.6zM327.2,239.7H335.1V247.7H327.2zM212.5,247.4H220.5V255.3H212.5zM235.4,247.4H243.4V255.3H235.4zM296.6,247.4H304.6V255.3H296.6zM304.3,247.4H312.2V255.3H304.3zM311.9,247.4H319.8V255.3H311.9zM327.2,247.4H335.1V255.3H327.2zM334.8,247.4H342.8V255.3H334.8zM304.3,255H312.2V263H304.3zM250.7,262.7H258.7V270.7H250.7zM319.5,262.7H327.5V270.7H319.5zM327.2,262.7H335.1V270.7H327.2zM67.3,270.4H75.2V278.3H67.3zM74.9,270.4H82.8V278.3H74.9zM243.1,270.4H251V278.3H243.1zM90.2,278H98.1V286H90.2zM258.4,278H266.3V286H258.4zM273.7,278H281.6V286H273.7zM82.5,285.7H90.5V293.6H82.5zM273.7,285.7H281.6V293.6H273.7zM52,293.3H59.9V301.3H52zM74.9,293.3H82.8V301.3H74.9zM82.5,293.3H90.5V301.3H82.5zM90.2,293.3H98.1V301.3H90.2zM97.8,293.3H105.8V301.3H97.8zM227.8,293.3H235.8V301.3H227.8zM235.4,293.3H243.4V301.3H235.4zM250.7,293.3H258.7V301.3H250.7zM258.4,293.3H266.3V301.3H258.4zM44.3,301H52.3V308.9H44.3zM52,301H59.9V308.9H52zM59.6,301H67.6V308.9H59.6zM74.9,301H82.8V308.9H74.9zM82.5,301H90.5V308.9H82.5zM97.8,301H105.8V308.9H97.8zM220.2,301H228.1V308.9H220.2zM235.4,301H243.4V308.9H235.4zM243.1,301H251V308.9H243.1zM52,308.6H59.9V316.5H52zM59.6,308.6H67.6V316.5H59.6zM67.3,308.6H75.2V316.5H67.3zM74.9,308.6H82.8V316.5H74.9zM82.5,308.6H90.5V316.5H82.5zM220.2,308.6H228.1V316.5H220.2zM227.8,308.6H235.8V316.5H227.8zM235.4,308.6H243.4V316.5H235.4zM250.7,308.6H258.7V316.5H250.7zM258.4,308.6H266.3V316.5H258.4zM273.7,308.6H281.6V316.5H273.7zM74.9,316.2H82.8V324.2H74.9zM82.5,316.2H90.5V324.2H82.5zM250.7,316.2H258.7V324.2H250.7zM266,316.2H274V324.2H266zM29,323.9H37V331.8H29zM21.4,331.5H29.3V339.4H21.4zM44.3,331.5H52.3V339.4H44.3zM59.6,331.5H67.6V339.4H59.6zM67.3,331.5H75.2V339.4H67.3zM74.9,331.5H82.8V339.4H74.9zM250.7,331.5H258.7V339.4H250.7zM227.8,339.1H235.8V347H227.8zM105.5,399.8H113.4V407.7H105.5zM151.4,399.8H159.3V407.7H151.4zM113.1,407.4H121.1V415.3H113.1zM143.7,407.4H151.7V415.3H143.7zM128.4,415H136.4V422.9H128.4zM113.1,422.6H121.1V430.4H113.1z"/><path fill="#0000d4" d="M128.4,-0.9H136.4V7.2H128.4zM166.6,-0.9H174.6V7.2H166.6zM181.9,-0.9H189.9V7.2H181.9zM189.6,-0.9H197.5V7.2H189.6zM212.5,-0.9H220.5V7.2H212.5zM166.6,6.9H174.6V15.1H166.6zM181.9,6.9H189.9V15.1H181.9zM82.5,14.8H90.5V22.9H82.5zM90.2,14.8H98.1V22.9H90.2zM120.8,14.8H128.7V22.9H120.8zM151.4,14.8H159.3V22.9H151.4zM159,14.8H166.9V22.9H159zM174.3,14.8H182.2V22.9H174.3zM181.9,14.8H189.9V22.9H181.9zM189.6,14.8H197.5V22.9H189.6zM97.8,22.6H105.8V30.7H97.8zM105.5,22.6H113.4V30.7H105.5zM174.3,22.6H182.2V30.7H174.3zM181.9,22.6H189.9V30.7H181.9zM189.6,22.6H197.5V30.7H189.6zM105.5,30.4H113.4V38.5H105.5zM128.4,30.4H136.4V38.5H128.4zM143.7,30.4H151.7V38.5H143.7zM151.4,30.4H159.3V38.5H151.4zM159,30.4H166.9V38.5H159zM319.5,30.4H327.5V38.5H319.5zM74.9,38.2H82.8V46.3H74.9zM90.2,38.2H98.1V46.3H90.2zM105.5,38.2H113.4V46.3H105.5zM113.1,38.2H121.1V46.3H113.1zM143.7,38.2H151.7V46.3H143.7zM304.3,38.2H312.2V46.3H304.3zM74.9,46H82.8V54.2H74.9zM82.5,46H90.5V54.2H82.5zM113.1,46H121.1V54.2H113.1zM120.8,46H128.7V54.2H120.8zM136.1,46H144V54.2H136.1zM143.7,46H151.7V54.2H143.7zM151.4,46H159.3V54.2H151.4zM166.6,46H174.6V54.2H166.6zM212.5,46H220.5V54.2H212.5zM304.3,46H312.2V54.2H304.3zM319.5,46H327.5V54.2H319.5zM136.1,53.9H144V62H136.1zM151.4,53.9H159.3V62H151.4zM159,53.9H166.9V62H159zM181.9,53.9H189.9V62H181.9zM311.9,53.9H319.8V62H311.9zM327.2,53.9H335.1V62H327.2zM334.8,53.9H342.8V62H334.8zM113.1,61.7H121.1V69.8H113.1zM143.7,61.7H151.7V69.8H143.7zM212.5,61.7H220.5V69.8H212.5zM220.2,61.7H228.1V69.8H220.2zM128.4,69.5H136.4V77.6H128.4zM143.7,69.5H151.7V77.6H143.7zM197.2,69.5H205.2V77.6H197.2zM327.2,69.5H335.1V77.6H327.2zM120.8,77.3H128.7V85.3H120.8zM128.4,77.3H136.4V85.3H128.4zM143.7,77.3H151.7V85.3H143.7zM174.3,77.3H182.2V85.3H174.3zM181.9,77.3H189.9V85.3H181.9zM189.6,77.3H197.5V85.3H189.6zM212.5,77.3H220.5V85.3H212.5zM334.8,77.3H342.8V85.3H334.8zM342.5,77.3H350.4V85.3H342.5zM113.1,85H121.1V93.1H113.1zM136.1,85H144V93.1H136.1zM159,85H166.9V93.1H159zM189.6,85H197.5V93.1H189.6zM220.2,85H228.1V93.1H220.2zM327.2,85H335.1V93.1H327.2zM334.8,85H342.8V93.1H334.8zM128.4,92.8H136.4V100.9H128.4zM136.1,92.8H144V100.9H136.1zM151.4,92.8H159.3V100.9H151.4zM159,92.8H166.9V100.9H159zM166.6,92.8H174.6V100.9H166.6zM181.9,92.8H189.9V100.9H181.9zM189.6,92.8H197.5V100.9H189.6zM197.2,92.8H205.2V100.9H197.2zM220.2,92.8H228.1V100.9H220.2zM227.8,92.8H235.8V100.9H227.8zM311.9,92.8H319.8V100.9H311.9zM319.5,92.8H327.5V100.9H319.5zM128.4,100.6H136.4V108.7H128.4zM174.3,100.6H182.2V108.7H174.3zM181.9,100.6H189.9V108.7H181.9zM189.6,100.6H197.5V108.7H189.6zM197.2,100.6H205.2V108.7H197.2zM204.9,100.6H212.8V108.7H204.9zM212.5,100.6H220.5V108.7H212.5zM220.2,100.6H228.1V108.7H220.2zM235.4,100.6H243.4V108.7H235.4zM273.7,100.6H281.6V108.7H273.7zM281.3,100.6H289.3V108.7H281.3zM327.2,100.6H335.1V108.7H327.2zM143.7,108.4H151.7V116.4H143.7zM159,108.4H166.9V116.4H159zM166.6,108.4H174.6V116.4H166.6zM189.6,108.4H197.5V116.4H189.6zM227.8,108.4H235.8V116.4H227.8zM235.4,108.4H243.4V116.4H235.4zM296.6,108.4H304.6V116.4H296.6zM319.5,108.4H327.5V116.4H319.5zM327.2,108.4H335.1V116.4H327.2zM334.8,108.4H342.8V116.4H334.8zM319.5,116.1H327.5V124.2H319.5zM159,123.9H166.9V132H159zM181.9,123.9H189.9V132H181.9zM212.5,123.9H220.5V132H212.5zM220.2,123.9H228.1V132H220.2zM235.4,123.9H243.4V132H235.4zM250.7,123.9H258.7V132H250.7zM311.9,123.9H319.8V132H311.9zM327.2,123.9H335.1V132H327.2zM342.5,123.9H350.4V132H342.5zM166.6,131.7H174.6V139.7H166.6zM235.4,131.7H243.4V139.7H235.4zM258.4,131.7H266.3V139.7H258.4zM273.7,131.7H281.6V139.7H273.7zM159,139.4H166.9V147.5H159zM174.3,139.4H182.2V147.5H174.3zM235.4,139.4H243.4V147.5H235.4zM250.7,139.4H258.7V147.5H250.7zM258.4,139.4H266.3V147.5H258.4zM266,139.4H274V147.5H266zM327.2,139.4H335.1V147.5H327.2zM120.8,147.2H128.7V155.2H120.8zM151.4,147.2H159.3V155.2H151.4zM181.9,147.2H189.9V155.2H181.9zM189.6,147.2H197.5V155.2H189.6zM220.2,147.2H228.1V155.2H220.2zM235.4,147.2H243.4V155.2H235.4zM250.7,147.2H258.7V155.2H250.7zM304.3,147.2H312.2V155.2H304.3zM334.8,147.2H342.8V155.2H334.8zM166.6,154.9H174.6V162.9H166.6zM181.9,154.9H189.9V162.9H181.9zM266,154.9H274V162.9H266zM304.3,154.9H312.2V162.9H304.3zM319.5,154.9H327.5V162.9H319.5zM334.8,154.9H342.8V162.9H334.8zM342.5,154.9H350.4V162.9H342.5zM151.4,162.6H159.3V170.7H151.4zM258.4,162.6H266.3V170.7H258.4zM266,162.6H274V170.7H266zM273.7,162.6H281.6V170.7H273.7zM289,162.6H296.9V170.7H289zM304.3,162.6H312.2V170.7H304.3zM120.8,170.4H128.7V178.4H120.8zM128.4,170.4H136.4V178.4H128.4zM136.1,170.4H144V178.4H136.1zM143.7,170.4H151.7V178.4H143.7zM174.3,170.4H182.2V178.4H174.3zM243.1,170.4H251V178.4H243.1zM289,170.4H296.9V178.4H289zM296.6,170.4H304.6V178.4H296.6zM342.5,170.4H350.4V178.4H342.5zM120.8,178.1H128.7V186.1H120.8zM136.1,178.1H144V186.1H136.1zM143.7,178.1H151.7V186.1H143.7zM159,178.1H166.9V186.1H159zM243.1,178.1H251V186.1H243.1zM258.4,178.1H266.3V186.1H258.4zM296.6,178.1H304.6V186.1H296.6zM311.9,178.1H319.8V186.1H311.9zM334.8,178.1H342.8V186.1H334.8zM143.7,185.8H151.7V193.8H143.7zM243.1,185.8H251V193.8H243.1zM266,185.8H274V193.8H266zM304.3,185.8H312.2V193.8H304.3zM319.5,185.8H327.5V193.8H319.5zM327.2,185.8H335.1V193.8H327.2zM334.8,185.8H342.8V193.8H334.8zM128.4,193.5H136.4V201.5H128.4zM166.6,193.5H174.6V201.5H166.6zM250.7,193.5H258.7V201.5H250.7zM273.7,193.5H281.6V201.5H273.7zM296.6,193.5H304.6V201.5H296.6zM342.5,193.5H350.4V201.5H342.5zM136.1,201.2H144V209.2H136.1zM273.7,201.2H281.6V209.2H273.7zM289,201.2H296.9V209.2H289zM296.6,201.2H304.6V209.2H296.6zM311.9,201.2H319.8V209.2H311.9zM319.5,201.2H327.5V209.2H319.5zM327.2,201.2H335.1V209.2H327.2zM342.5,201.2H350.4V209.2H342.5zM166.6,208.9H174.6V216.9H166.6zM281.3,208.9H289.3V216.9H281.3zM296.6,208.9H304.6V216.9H296.6zM281.3,216.6H289.3V224.6H281.3zM304.3,216.6H312.2V224.6H304.3zM319.5,216.6H327.5V224.6H319.5zM342.5,216.6H350.4V224.6H342.5zM250.7,224.3H258.7V232.3H250.7zM304.3,224.3H312.2V232.3H304.3zM334.8,224.3H342.8V232.3H334.8zM258.4,239.7H266.3V247.7H258.4zM273.7,239.7H281.6V247.7H273.7zM319.5,239.7H327.5V247.7H319.5zM334.8,239.7H342.8V247.7H334.8zM342.5,239.7H350.4V247.7H342.5zM204.9,247.4H212.8V255.3H204.9zM243.1,247.4H251V255.3H243.1zM258.4,247.4H266.3V255.3H258.4zM273.7,247.4H281.6V255.3H273.7zM281.3,247.4H289.3V255.3H281.3zM90.2,255H98.1V263H90.2zM97.8,255H105.8V263H97.8zM319.5,255H327.5V263H319.5zM82.5,262.7H90.5V270.7H82.5zM243.1,262.7H251V270.7H243.1zM82.5,270.4H90.5V278.3H82.5zM90.2,270.4H98.1V278.3H90.2zM250.7,270.4H258.7V278.3H250.7zM258.4,270.4H266.3V278.3H258.4zM59.6,278H67.6V286H59.6zM67.3,278H75.2V286H67.3zM97.8,278H105.8V286H97.8zM250.7,278H258.7V286H250.7zM281.3,278H289.3V286H281.3zM296.6,278H304.6V286H296.6zM304.3,278H312.2V286H304.3zM59.6,285.7H67.6V293.6H59.6zM67.3,285.7H75.2V293.6H67.3zM90.2,285.7H98.1V293.6H90.2zM97.8,285.7H105.8V293.6H97.8zM105.5,285.7H113.4V293.6H105.5zM235.4,285.7H243.4V293.6H235.4zM258.4,285.7H266.3V293.6H258.4zM281.3,285.7H289.3V293.6H281.3zM296.6,285.7H304.6V293.6H296.6zM266,293.3H274V301.3H266zM90.2,301H98.1V308.9H90.2zM212.5,301H220.5V308.9H212.5zM227.8,301H235.8V308.9H227.8zM266,301H274V308.9H266zM281.3,301H289.3V308.9H281.3zM29,308.6H37V316.5H29zM97.8,308.6H105.8V316.5H97.8zM266,308.6H274V316.5H266zM29,316.2H37V324.2H29zM52,316.2H59.9V324.2H52zM59.6,316.2H67.6V324.2H59.6zM67.3,316.2H75.2V324.2H67.3zM243.1,316.2H251V324.2H243.1zM21.4,323.9H29.3V331.8H21.4zM44.3,323.9H52.3V331.8H44.3zM52,323.9H59.9V331.8H52zM59.6,323.9H67.6V331.8H59.6zM67.3,323.9H75.2V331.8H67.3zM82.5,323.9H90.5V331.8H82.5zM235.4,323.9H243.4V331.8H235.4zM243.1,323.9H251V331.8H243.1zM82.5,331.5H90.5V339.4H82.5zM227.8,331.5H235.8V339.4H227.8zM235.4,331.5H243.4V339.4H235.4zM235.4,339.1H243.4V347H235.4zM159,384.7H166.9V392.6H159zM105.5,392.3H113.4V400.1H105.5zM113.1,392.3H121.1V400.1H113.1zM159,392.3H166.9V400.1H159zM105.5,407.4H113.4V415.3H105.5zM105.5,415H113.4V422.9H105.5z"/><path fill="#0000ea" d="M74.9,-0.9H82.8V7.2H74.9zM82.5,-0.9H90.5V7.2H82.5zM90.2,-0.9H98.1V7.2H90.2zM97.8,-0.9H105.8V7.2H97.8zM105.5,-0.9H113.4V7.2H105.5zM113.1,-0.9H121.1V7.2H113.1zM143.7,-0.9H151.7V7.2H143.7zM151.4,-0.9H159.3V7.2H151.4zM220.2,-0.9H228.1V7.2H220.2zM74.9,6.9H82.8V15.1H74.9zM90.2,6.9H98.1V15.1H90.2zM105.5,6.9H113.4V15.1H105.5zM128.4,6.9H136.4V15.1H128.4zM159,6.9H166.9V15.1H159zM189.6,6.9H197.5V15.1H189.6zM204.9,6.9H212.8V15.1H204.9zM212.5,6.9H220.5V15.1H212.5zM74.9,14.8H82.8V22.9H74.9zM128.4,14.8H136.4V22.9H128.4zM143.7,14.8H151.7V22.9H143.7zM166.6,14.8H174.6V22.9H166.6zM197.2,14.8H205.2V22.9H197.2zM227.8,14.8H235.8V22.9H227.8zM74.9,22.6H82.8V30.7H74.9zM90.2,22.6H98.1V30.7H90.2zM151.4,22.6H159.3V30.7H151.4zM159,22.6H166.9V30.7H159zM166.6,22.6H174.6V30.7H166.6zM197.2,22.6H205.2V30.7H197.2zM212.5,22.6H220.5V30.7H212.5zM220.2,22.6H228.1V30.7H220.2zM74.9,30.4H82.8V38.5H74.9zM113.1,30.4H121.1V38.5H113.1zM120.8,30.4H128.7V38.5H120.8zM136.1,30.4H144V38.5H136.1zM189.6,30.4H197.5V38.5H189.6zM97.8,38.2H105.8V46.3H97.8zM128.4,38.2H136.4V46.3H128.4zM151.4,38.2H159.3V46.3H151.4zM166.6,38.2H174.6V46.3H166.6zM181.9,38.2H189.9V46.3H181.9zM197.2,38.2H205.2V46.3H197.2zM319.5,38.2H327.5V46.3H319.5zM97.8,46H105.8V54.2H97.8zM128.4,46H136.4V54.2H128.4zM204.9,46H212.8V54.2H204.9zM327.2,46H335.1V54.2H327.2zM97.8,53.9H105.8V62H97.8zM105.5,53.9H113.4V62H105.5zM113.1,53.9H121.1V62H113.1zM120.8,53.9H128.7V62H120.8zM128.4,53.9H136.4V62H128.4zM143.7,53.9H151.7V62H143.7zM166.6,53.9H174.6V62H166.6zM174.3,53.9H182.2V62H174.3zM212.5,53.9H220.5V62H212.5zM342.5,53.9H350.4V62H342.5zM105.5,61.7H113.4V69.8H105.5zM120.8,61.7H128.7V69.8H120.8zM128.4,61.7H136.4V69.8H128.4zM136.1,61.7H144V69.8H136.1zM151.4,61.7H159.3V69.8H151.4zM159,61.7H166.9V69.8H159zM166.6,61.7H174.6V69.8H166.6zM334.8,61.7H342.8V69.8H334.8zM342.5,61.7H350.4V69.8H342.5zM105.5,69.5H113.4V77.6H105.5zM120.8,69.5H128.7V77.6H120.8zM136.1,69.5H144V77.6H136.1zM151.4,69.5H159.3V77.6H151.4zM159,69.5H166.9V77.6H159zM166.6,69.5H174.6V77.6H166.6zM174.3,69.5H182.2V77.6H174.3zM204.9,69.5H212.8V77.6H204.9zM220.2,69.5H228.1V77.6H220.2zM304.3,69.5H312.2V77.6H304.3zM136.1,77.3H144V85.3H136.1zM159,77.3H166.9V85.3H159zM204.9,77.3H212.8V85.3H204.9zM311.9,77.3H319.8V85.3H311.9zM120.8,85H128.7V93.1H120.8zM128.4,85H136.4V93.1H128.4zM151.4,85H159.3V93.1H151.4zM181.9,85H189.9V93.1H181.9zM197.2,85H205.2V93.1H197.2zM227.8,85H235.8V93.1H227.8zM311.9,85H319.8V93.1H311.9zM319.5,85H327.5V93.1H319.5zM120.8,92.8H128.7V100.9H120.8zM212.5,92.8H220.5V100.9H212.5zM235.4,92.8H243.4V100.9H235.4zM273.7,92.8H281.6V100.9H273.7zM327.2,92.8H335.1V100.9H327.2zM334.8,92.8H342.8V100.9H334.8zM120.8,100.6H128.7V108.7H120.8zM136.1,100.6H144V108.7H136.1zM143.7,100.6H151.7V108.7H143.7zM151.4,100.6H159.3V108.7H151.4zM166.6,100.6H174.6V108.7H166.6zM227.8,100.6H235.8V108.7H227.8zM311.9,100.6H319.8V108.7H311.9zM319.5,100.6H327.5V108.7H319.5zM342.5,100.6H350.4V108.7H342.5zM128.4,108.4H136.4V116.4H128.4zM136.1,108.4H144V116.4H136.1zM151.4,108.4H159.3V116.4H151.4zM174.3,108.4H182.2V116.4H174.3zM197.2,108.4H205.2V116.4H197.2zM212.5,108.4H220.5V116.4H212.5zM220.2,108.4H228.1V116.4H220.2zM243.1,108.4H251V116.4H243.1zM281.3,108.4H289.3V116.4H281.3zM151.4,116.1H159.3V124.2H151.4zM159,116.1H166.9V124.2H159zM174.3,116.1H182.2V124.2H174.3zM197.2,116.1H205.2V124.2H197.2zM212.5,116.1H220.5V124.2H212.5zM227.8,116.1H235.8V124.2H227.8zM243.1,116.1H251V124.2H243.1zM327.2,116.1H335.1V124.2H327.2zM342.5,116.1H350.4V124.2H342.5zM189.6,123.9H197.5V132H189.6zM197.2,123.9H205.2V132H197.2zM227.8,123.9H235.8V132H227.8zM243.1,123.9H251V132H243.1zM304.3,123.9H312.2V132H304.3zM319.5,123.9H327.5V132H319.5zM334.8,123.9H342.8V132H334.8zM174.3,131.7H182.2V139.7H174.3zM189.6,131.7H197.5V139.7H189.6zM250.7,131.7H258.7V139.7H250.7zM281.3,131.7H289.3V139.7H281.3zM296.6,131.7H304.6V139.7H296.6zM327.2,131.7H335.1V139.7H327.2zM151.4,139.4H159.3V147.5H151.4zM181.9,139.4H189.9V147.5H181.9zM227.8,139.4H235.8V147.5H227.8zM243.1,139.4H251V147.5H243.1zM319.5,139.4H327.5V147.5H319.5zM334.8,139.4H342.8V147.5H334.8zM266,147.2H274V155.2H266zM289,147.2H296.9V155.2H289zM296.6,147.2H304.6V155.2H296.6zM327.2,147.2H335.1V155.2H327.2zM342.5,147.2H350.4V155.2H342.5zM120.8,154.9H128.7V162.9H120.8zM220.2,154.9H228.1V162.9H220.2zM243.1,154.9H251V162.9H243.1zM250.7,154.9H258.7V162.9H250.7zM258.4,154.9H266.3V162.9H258.4zM296.6,154.9H304.6V162.9H296.6zM143.7,162.6H151.7V170.7H143.7zM159,162.6H166.9V170.7H159zM311.9,162.6H319.8V170.7H311.9zM319.5,162.6H327.5V170.7H319.5zM327.2,162.6H335.1V170.7H327.2zM151.4,170.4H159.3V178.4H151.4zM159,170.4H166.9V178.4H159zM166.6,170.4H174.6V178.4H166.6zM235.4,170.4H243.4V178.4H235.4zM319.5,170.4H327.5V178.4H319.5zM151.4,178.1H159.3V186.1H151.4zM166.6,178.1H174.6V186.1H166.6zM174.3,178.1H182.2V186.1H174.3zM181.9,178.1H189.9V186.1H181.9zM250.7,178.1H258.7V186.1H250.7zM304.3,178.1H312.2V186.1H304.3zM327.2,178.1H335.1V186.1H327.2zM151.4,185.8H159.3V193.8H151.4zM166.6,185.8H174.6V193.8H166.6zM258.4,185.8H266.3V193.8H258.4zM281.3,185.8H289.3V193.8H281.3zM289,185.8H296.9V193.8H289zM311.9,185.8H319.8V193.8H311.9zM342.5,185.8H350.4V193.8H342.5zM120.8,193.5H128.7V201.5H120.8zM143.7,193.5H151.7V201.5H143.7zM159,193.5H166.9V201.5H159zM281.3,193.5H289.3V201.5H281.3zM319.5,193.5H327.5V201.5H319.5zM327.2,193.5H335.1V201.5H327.2zM334.8,193.5H342.8V201.5H334.8zM128.4,201.2H136.4V209.2H128.4zM166.6,201.2H174.6V209.2H166.6zM334.8,201.2H342.8V209.2H334.8zM136.1,208.9H144V216.9H136.1zM143.7,208.9H151.7V216.9H143.7zM151.4,208.9H159.3V216.9H151.4zM159,208.9H166.9V216.9H159zM273.7,208.9H281.6V216.9H273.7zM289,208.9H296.9V216.9H289zM304.3,208.9H312.2V216.9H304.3zM319.5,208.9H327.5V216.9H319.5zM327.2,208.9H335.1V216.9H327.2zM342.5,208.9H350.4V216.9H342.5zM128.4,216.6H136.4V224.6H128.4zM136.1,216.6H144V224.6H136.1zM143.7,216.6H151.7V224.6H143.7zM151.4,216.6H159.3V224.6H151.4zM250.7,216.6H258.7V224.6H250.7zM273.7,216.6H281.6V224.6H273.7zM296.6,216.6H304.6V224.6H296.6zM311.9,216.6H319.8V224.6H311.9zM327.2,216.6H335.1V224.6H327.2zM266,224.3H274V232.3H266zM311.9,224.3H319.8V232.3H311.9zM342.5,224.3H350.4V232.3H342.5zM289,232H296.9V240H289zM304.3,232H312.2V240H304.3zM311.9,232H319.8V240H311.9zM319.5,232H327.5V240H319.5zM327.2,232H335.1V240H327.2zM334.8,232H342.8V240H334.8zM342.5,232H350.4V240H342.5zM250.7,239.7H258.7V247.7H250.7zM266,239.7H274V247.7H266zM304.3,239.7H312.2V247.7H304.3zM311.9,239.7H319.8V247.7H311.9zM227.8,247.4H235.8V255.3H227.8zM289,247.4H296.9V255.3H289zM311.9,255H319.8V263H311.9zM327.2,255H335.1V263H327.2zM334.8,255H342.8V263H334.8zM342.5,255H350.4V263H342.5zM97.8,262.7H105.8V270.7H97.8zM334.8,262.7H342.8V270.7H334.8zM342.5,262.7H350.4V270.7H342.5zM97.8,270.4H105.8V278.3H97.8zM74.9,278H82.8V286H74.9zM82.5,278H90.5V286H82.5zM266,278H274V286H266zM289,278H296.9V286H289zM52,285.7H59.9V293.6H52zM74.9,285.7H82.8V293.6H74.9zM243.1,285.7H251V293.6H243.1zM250.7,285.7H258.7V293.6H250.7zM266,285.7H274V293.6H266zM289,285.7H296.9V293.6H289zM44.3,293.3H52.3V301.3H44.3zM105.5,293.3H113.4V301.3H105.5zM243.1,293.3H251V301.3H243.1zM273.7,293.3H281.6V301.3H273.7zM281.3,293.3H289.3V301.3H281.3zM36.7,301H44.6V308.9H36.7zM105.5,301H113.4V308.9H105.5zM273.7,301H281.6V308.9H273.7zM36.7,308.6H44.6V316.5H36.7zM90.2,308.6H98.1V316.5H90.2zM105.5,308.6H113.4V316.5H105.5zM36.7,316.2H44.6V324.2H36.7zM44.3,316.2H52.3V324.2H44.3zM90.2,316.2H98.1V324.2H90.2zM258.4,316.2H266.3V324.2H258.4zM174.3,323.9H182.2V331.8H174.3zM250.7,323.9H258.7V331.8H250.7zM258.4,323.9H266.3V331.8H258.4zM29,331.5H37V339.4H29zM36.7,331.5H44.6V339.4H36.7zM174.3,331.5H182.2V339.4H174.3zM243.1,331.5H251V339.4H243.1zM159,377.1H166.9V385H159zM113.1,384.7H121.1V392.6H113.1zM151.4,384.7H159.3V392.6H151.4zM151.4,392.3H159.3V400.1H151.4zM113.1,399.8H121.1V407.7H113.1zM113.1,415H121.1V422.9H113.1zM128.4,422.6H136.4V430.4H128.4zM143.7,422.6H151.7V430.4H143.7z"/><path fill="#0000ff" d="M136.1,-0.9H144V7.2H136.1zM151.4,6.9H159.3V15.1H151.4zM174.3,6.9H182.2V15.1H174.3zM220.2,6.9H228.1V15.1H220.2zM212.5,14.8H220.5V22.9H212.5zM136.1,22.6H144V30.7H136.1zM90.2,30.4H98.1V38.5H90.2zM204.9,30.4H212.8V38.5H204.9zM311.9,30.4H319.8V38.5H311.9zM174.3,38.2H182.2V46.3H174.3zM90.2,46H98.1V54.2H90.2zM105.5,46H113.4V54.2H105.5zM174.3,46H182.2V54.2H174.3zM181.9,46H189.9V54.2H181.9zM204.9,53.9H212.8V62H204.9zM174.3,61.7H182.2V69.8H174.3zM181.9,61.7H189.9V69.8H181.9zM166.6,85H174.6V93.1H166.6zM174.3,85H182.2V93.1H174.3zM143.7,92.8H151.7V100.9H143.7zM174.3,92.8H182.2V100.9H174.3zM181.9,116.1H189.9V124.2H181.9zM189.6,116.1H197.5V124.2H189.6zM235.4,116.1H243.4V124.2H235.4zM319.5,131.7H327.5V139.7H319.5zM311.9,147.2H319.8V155.2H311.9zM174.3,154.9H182.2V162.9H174.3zM327.2,154.9H335.1V162.9H327.2zM243.1,162.6H251V170.7H243.1zM159,185.8H166.9V193.8H159zM136.1,193.5H144V201.5H136.1zM311.9,193.5H319.8V201.5H311.9zM128.4,208.9H136.4V216.9H128.4zM334.8,208.9H342.8V216.9H334.8zM273.7,224.3H281.6V232.3H273.7zM281.3,239.7H289.3V247.7H281.3zM289,239.7H296.9V247.7H289zM266,247.4H274V255.3H266zM90.2,262.7H98.1V270.7H90.2zM243.1,278H251V286H243.1zM212.5,308.6H220.5V316.5H212.5zM21.4,316.2H29.3V324.2H21.4zM235.4,316.2H243.4V324.2H235.4zM36.7,323.9H44.6V331.8H36.7zM74.9,323.9H82.8V331.8H74.9zM52,331.5H59.9V339.4H52z"/><path fill="#002aff" d="M82.5,77.3H90.5V85.3H82.5zM97.8,77.3H105.8V85.3H97.8zM105.5,77.3H113.4V85.3H105.5zM204.9,131.7H212.8V139.7H204.9zM220.2,131.7H228.1V139.7H220.2zM204.9,154.9H212.8V162.9H204.9zM181.9,162.6H189.9V170.7H181.9zM197.2,162.6H205.2V170.7H197.2zM204.9,162.6H212.8V170.7H204.9zM204.9,170.4H212.8V178.4H204.9zM143.7,224.3H151.7V232.3H143.7zM204.9,239.7H212.8V247.7H204.9zM243.1,239.7H251V247.7H243.1zM197.2,247.4H205.2V255.3H197.2zM250.7,247.4H258.7V255.3H250.7zM204.9,255H212.8V263H204.9zM296.6,255H304.6V263H296.6zM197.2,262.7H205.2V270.7H197.2zM204.9,262.7H212.8V270.7H204.9zM281.3,262.7H289.3V270.7H281.3zM289,262.7H296.9V270.7H289zM281.3,270.4H289.3V278.3H281.3zM304.3,270.4H312.2V278.3H304.3zM105.5,278H113.4V286H105.5zM113.1,285.7H121.1V293.6H113.1zM174.3,301H182.2V308.9H174.3zM166.6,316.2H174.6V324.2H166.6zM181.9,316.2H189.9V324.2H181.9zM189.6,316.2H197.5V324.2H189.6zM220.2,323.9H228.1V331.8H220.2zM13.7,331.5H21.7V339.4H13.7zM36.7,339.1H44.6V347H36.7zM67.3,339.1H75.2V347H67.3zM36.7,346.7H44.6V354.6H36.7zM44.3,346.7H52.3V354.6H44.3zM67.3,346.7H75.2V354.6H67.3zM52,354.3H59.9V362.2H52zM166.6,361.9H174.6V369.8H166.6zM143.7,399.8H151.7V407.7H143.7zM120.8,407.4H128.7V415.3H120.8zM120.8,415H128.7V422.9H120.8z"/><path fill="#0040ff" d="M90.2,53.9H98.1V62H90.2zM82.5,61.7H90.5V69.8H82.5zM82.5,69.5H90.5V77.6H82.5zM90.2,77.3H98.1V85.3H90.2zM90.2,85H98.1V93.1H90.2zM113.1,100.6H121.1V108.7H113.1zM113.1,108.4H121.1V116.4H113.1zM120.8,108.4H128.7V116.4H120.8zM113.1,116.1H121.1V124.2H113.1zM120.8,123.9H128.7V132H120.8zM143.7,147.2H151.7V155.2H143.7zM189.6,154.9H197.5V162.9H189.6zM197.2,154.9H205.2V162.9H197.2zM189.6,162.6H197.5V170.7H189.6zM212.5,162.6H220.5V170.7H212.5zM220.2,162.6H228.1V170.7H220.2zM212.5,170.4H220.5V178.4H212.5zM128.4,224.3H136.4V232.3H128.4zM212.5,239.7H220.5V247.7H212.5zM136.1,247.4H144V255.3H136.1zM159,247.4H166.9V255.3H159zM166.6,247.4H174.6V255.3H166.6zM174.3,247.4H182.2V255.3H174.3zM197.2,255H205.2V263H197.2zM258.4,255H266.3V263H258.4zM311.9,262.7H319.8V270.7H311.9zM105.5,270.4H113.4V278.3H105.5zM266,270.4H274V278.3H266zM289,270.4H296.9V278.3H289zM113.1,278H121.1V286H113.1zM113.1,293.3H121.1V301.3H113.1zM159,293.3H166.9V301.3H159zM113.1,301H121.1V308.9H113.1zM120.8,308.6H128.7V316.5H120.8zM166.6,308.6H174.6V316.5H166.6zM97.8,316.2H105.8V324.2H97.8zM174.3,316.2H182.2V324.2H174.3zM220.2,316.2H228.1V324.2H220.2zM212.5,323.9H220.5V331.8H212.5zM13.7,339.1H21.7V347H13.7zM21.4,339.1H29.3V347H21.4zM197.2,346.7H205.2V354.6H197.2zM204.9,346.7H212.8V354.6H204.9zM220.2,346.7H228.1V354.6H220.2zM174.3,354.3H182.2V362.2H174.3zM220.2,354.3H228.1V362.2H220.2zM128.4,369.5H136.4V377.4H128.4zM174.3,369.5H182.2V377.4H174.3zM143.7,392.3H151.7V400.1H143.7zM120.8,399.8H128.7V407.7H120.8zM128.4,407.4H136.4V415.3H128.4z"/><path fill="#0055ff" d="M82.5,53.9H90.5V62H82.5zM90.2,61.7H98.1V69.8H90.2zM97.8,61.7H105.8V69.8H97.8zM90.2,69.5H98.1V77.6H90.2zM97.8,69.5H105.8V77.6H97.8zM97.8,85H105.8V93.1H97.8zM105.5,85H113.4V93.1H105.5zM113.1,92.8H121.1V100.9H113.1zM120.8,116.1H128.7V124.2H120.8zM197.2,131.7H205.2V139.7H197.2zM212.5,131.7H220.5V139.7H212.5zM136.1,224.3H144V232.3H136.1zM151.4,224.3H159.3V232.3H151.4zM204.9,232H212.8V240H204.9zM212.5,232H220.5V240H212.5zM189.6,239.7H197.5V247.7H189.6zM197.2,239.7H205.2V247.7H197.2zM181.9,247.4H189.9V255.3H181.9zM174.3,255H182.2V263H174.3zM181.9,255H189.9V263H181.9zM243.1,255H251V263H243.1zM273.7,255H281.6V263H273.7zM281.3,255H289.3V263H281.3zM289,255H296.9V263H289zM266,262.7H274V270.7H266zM273.7,262.7H281.6V270.7H273.7zM296.6,262.7H304.6V270.7H296.6zM304.3,262.7H312.2V270.7H304.3zM204.9,270.4H212.8V278.3H204.9zM273.7,270.4H281.6V278.3H273.7zM296.6,270.4H304.6V278.3H296.6zM311.9,270.4H319.8V278.3H311.9zM151.4,293.3H159.3V301.3H151.4zM181.9,293.3H189.9V301.3H181.9zM120.8,301H128.7V308.9H120.8zM113.1,308.6H121.1V316.5H113.1zM174.3,308.6H182.2V316.5H174.3zM227.8,316.2H235.8V324.2H227.8zM227.8,323.9H235.8V331.8H227.8zM212.5,331.5H220.5V339.4H212.5zM220.2,331.5H228.1V339.4H220.2zM29,339.1H37V347H29zM44.3,339.1H52.3V347H44.3zM52,339.1H59.9V347H52zM59.6,339.1H67.6V347H59.6zM74.9,339.1H82.8V347H74.9zM204.9,339.1H212.8V347H204.9zM212.5,339.1H220.5V347H212.5zM220.2,339.1H228.1V347H220.2zM52,346.7H59.9V354.6H52zM59.6,346.7H67.6V354.6H59.6zM74.9,346.7H82.8V354.6H74.9zM212.5,346.7H220.5V354.6H212.5zM44.3,354.3H52.3V362.2H44.3zM136.1,407.4H144V415.3H136.1z"/><path fill="#006aff" d="M97.8,100.6H105.8V108.7H97.8zM281.3,154.9H289.3V162.9H281.3zM136.1,232H144V240H136.1zM243.1,232H251V240H243.1zM151.4,239.7H159.3V247.7H151.4zM159,239.7H166.9V247.7H159zM159,255H166.9V263H159zM151.4,285.7H159.3V293.6H151.4zM113.1,316.2H121.1V324.2H113.1zM212.5,316.2H220.5V324.2H212.5zM197.2,339.1H205.2V347H197.2zM197.2,354.3H205.2V362.2H197.2zM136.1,361.9H144V369.8H136.1zM189.6,361.9H197.5V369.8H189.6zM204.9,361.9H212.8V369.8H204.9zM113.1,377.1H121.1V385H113.1zM128.4,399.8H136.4V407.7H128.4zM97.8,422.6H105.8V430.4H97.8z"/><path fill="#0080ff" d="M90.2,92.8H98.1V100.9H90.2zM105.5,92.8H113.4V100.9H105.5zM90.2,100.6H98.1V108.7H90.2zM189.6,139.4H197.5V147.5H189.6zM197.2,139.4H205.2V147.5H197.2zM281.3,139.4H289.3V147.5H281.3zM212.5,147.2H220.5V155.2H212.5zM273.7,147.2H281.6V155.2H273.7zM181.9,170.4H189.9V178.4H181.9zM197.2,170.4H205.2V178.4H197.2zM197.2,178.1H205.2V186.1H197.2zM181.9,185.8H189.9V193.8H181.9zM189.6,185.8H197.5V193.8H189.6zM181.9,201.2H189.9V209.2H181.9zM159,216.6H166.9V224.6H159zM120.8,224.3H128.7V232.3H120.8zM166.6,224.3H174.6V232.3H166.6zM243.1,224.3H251V232.3H243.1zM143.7,232H151.7V240H143.7zM166.6,232H174.6V240H166.6zM235.4,232H243.4V240H235.4zM166.6,239.7H174.6V247.7H166.6zM174.3,239.7H182.2V247.7H174.3zM120.8,247.4H128.7V255.3H120.8zM128.4,247.4H136.4V255.3H128.4zM128.4,255H136.4V263H128.4zM166.6,255H174.6V263H166.6zM235.4,255H243.4V263H235.4zM174.3,262.7H182.2V270.7H174.3zM181.9,262.7H189.9V270.7H181.9zM258.4,262.7H266.3V270.7H258.4zM181.9,270.4H189.9V278.3H181.9zM189.6,270.4H197.5V278.3H189.6zM120.8,278H128.7V286H120.8zM120.8,285.7H128.7V293.6H120.8zM174.3,285.7H182.2V293.6H174.3zM174.3,293.3H182.2V301.3H174.3zM128.4,301H136.4V308.9H128.4zM151.4,301H159.3V308.9H151.4zM166.6,301H174.6V308.9H166.6zM159,308.6H166.9V316.5H159zM120.8,316.2H128.7V324.2H120.8zM159,316.2H166.9V324.2H159zM90.2,323.9H98.1V331.8H90.2zM113.1,323.9H121.1V331.8H113.1zM105.5,331.5H113.4V339.4H105.5zM143.7,331.5H151.7V339.4H143.7zM181.9,331.5H189.9V339.4H181.9zM204.9,331.5H212.8V339.4H204.9zM90.2,339.1H98.1V347H90.2zM136.1,339.1H144V347H136.1zM189.6,339.1H197.5V347H189.6zM21.4,346.7H29.3V354.6H21.4zM151.4,354.3H159.3V362.2H151.4zM174.3,361.9H182.2V369.8H174.3zM197.2,361.9H205.2V369.8H197.2zM136.1,399.8H144V407.7H136.1z"/><path fill="#0095ff" d="M289,123.9H296.9V132H289zM120.8,131.7H128.7V139.7H120.8zM220.2,139.4H228.1V147.5H220.2zM273.7,139.4H281.6V147.5H273.7zM212.5,154.9H220.5V162.9H212.5zM189.6,170.4H197.5V178.4H189.6zM189.6,178.1H197.5V186.1H189.6zM174.3,208.9H182.2V216.9H174.3zM166.6,216.6H174.6V224.6H166.6zM159,224.3H166.9V232.3H159zM120.8,232H128.7V240H120.8zM128.4,232H136.4V240H128.4zM151.4,232H159.3V240H151.4zM128.4,239.7H136.4V247.7H128.4zM227.8,239.7H235.8V247.7H227.8zM143.7,247.4H151.7V255.3H143.7zM151.4,247.4H159.3V255.3H151.4zM189.6,247.4H197.5V255.3H189.6zM266,255H274V263H266zM189.6,262.7H197.5V270.7H189.6zM113.1,270.4H121.1V278.3H113.1zM197.2,270.4H205.2V278.3H197.2zM174.3,278H182.2V286H174.3zM181.9,278H189.9V286H181.9zM181.9,285.7H189.9V293.6H181.9zM189.6,285.7H197.5V293.6H189.6zM166.6,293.3H174.6V301.3H166.6zM97.8,323.9H105.8V331.8H97.8zM120.8,323.9H128.7V331.8H120.8zM90.2,331.5H98.1V339.4H90.2zM97.8,339.1H105.8V347H97.8zM105.5,339.1H113.4V347H105.5zM143.7,339.1H151.7V347H143.7zM143.7,346.7H151.7V354.6H143.7zM189.6,346.7H197.5V354.6H189.6zM189.6,354.3H197.5V362.2H189.6zM204.9,354.3H212.8V362.2H204.9zM212.5,354.3H220.5V362.2H212.5z"/><path fill="#00aaff" d="M97.8,92.8H105.8V100.9H97.8zM105.5,100.6H113.4V108.7H105.5zM120.8,139.4H128.7V147.5H120.8zM128.4,147.2H136.4V155.2H128.4zM197.2,147.2H205.2V155.2H197.2zM281.3,147.2H289.3V155.2H281.3zM273.7,154.9H281.6V162.9H273.7zM181.9,193.5H189.9V201.5H181.9zM174.3,201.2H182.2V209.2H174.3zM243.1,216.6H251V224.6H243.1zM159,232H166.9V240H159zM136.1,239.7H144V247.7H136.1zM105.5,262.7H113.4V270.7H105.5zM189.6,278H197.5V286H189.6zM197.2,278H205.2V286H197.2zM120.8,293.3H128.7V301.3H120.8zM159,301H166.9V308.9H159zM151.4,308.6H159.3V316.5H151.4zM105.5,316.2H113.4V324.2H105.5zM105.5,323.9H113.4V331.8H105.5zM97.8,331.5H105.8V339.4H97.8zM143.7,361.9H151.7V369.8H143.7zM105.5,384.7H113.4V392.6H105.5zM143.7,384.7H151.7V392.6H143.7z"/><path fill="#00d4ff" d="M128.4,116.1H136.4V124.2H128.4zM143.7,123.9H151.7V132H143.7zM143.7,139.4H151.7V147.5H143.7zM204.9,139.4H212.8V147.5H204.9zM204.9,147.2H212.8V155.2H204.9zM235.4,185.8H243.4V193.8H235.4zM174.3,224.3H182.2V232.3H174.3zM197.2,232H205.2V240H197.2zM143.7,239.7H151.7V247.7H143.7zM120.8,255H128.7V263H120.8zM113.1,262.7H121.1V270.7H113.1zM151.4,262.7H159.3V270.7H151.4zM120.8,270.4H128.7V278.3H120.8zM128.4,285.7H136.4V293.6H128.4zM128.4,293.3H136.4V301.3H128.4zM143.7,301H151.7V308.9H143.7zM128.4,308.6H136.4V316.5H128.4zM128.4,316.2H136.4V324.2H128.4zM120.8,331.5H128.7V339.4H120.8zM181.9,339.1H189.9V347H181.9zM136.1,346.7H144V354.6H136.1zM128.4,354.3H136.4V362.2H128.4zM143.7,354.3H151.7V362.2H143.7zM159,361.9H166.9V369.8H159zM90.2,369.5H98.1V377.4H90.2zM136.1,369.5H144V377.4H136.1zM166.6,369.5H174.6V377.4H166.6zM166.6,384.7H174.6V392.6H166.6zM136.1,392.3H144V400.1H136.1z"/><path fill="#00eaff" d="M136.1,116.1H144V124.2H136.1zM128.4,131.7H136.4V139.7H128.4zM143.7,131.7H151.7V139.7H143.7zM250.7,201.2H258.7V209.2H250.7zM212.5,224.3H220.5V232.3H212.5zM181.9,239.7H189.9V247.7H181.9zM143.7,255H151.7V263H143.7zM151.4,255H159.3V263H151.4zM128.4,262.7H136.4V270.7H128.4zM174.3,270.4H182.2V278.3H174.3zM166.6,285.7H174.6V293.6H166.6zM143.7,308.6H151.7V316.5H143.7zM136.1,323.9H144V331.8H136.1zM181.9,323.9H189.9V331.8H181.9zM189.6,323.9H197.5V331.8H189.6zM204.9,323.9H212.8V331.8H204.9zM136.1,331.5H144V339.4H136.1zM113.1,339.1H121.1V347H113.1zM105.5,346.7H113.4V354.6H105.5zM128.4,346.7H136.4V354.6H128.4zM166.6,346.7H174.6V354.6H166.6zM174.3,346.7H182.2V354.6H174.3zM181.9,346.7H189.9V354.6H181.9zM159,354.3H166.9V362.2H159zM97.8,377.1H105.8V385H97.8zM105.5,377.1H113.4V385H105.5z"/><path fill="#00ffff" d="M143.7,116.1H151.7V124.2H143.7zM128.4,139.4H136.4V147.5H128.4zM136.1,139.4H144V147.5H136.1zM212.5,139.4H220.5V147.5H212.5zM136.1,147.2H144V155.2H136.1zM204.9,178.1H212.8V186.1H204.9zM243.1,208.9H251V216.9H243.1zM250.7,208.9H258.7V216.9H250.7zM174.3,216.6H182.2V224.6H174.3zM174.3,232H182.2V240H174.3zM143.7,270.4H151.7V278.3H143.7zM143.7,316.2H151.7V324.2H143.7zM128.4,323.9H136.4V331.8H128.4zM113.1,331.5H121.1V339.4H113.1zM128.4,331.5H136.4V339.4H128.4zM120.8,339.1H128.7V347H120.8zM128.4,339.1H136.4V347H128.4zM166.6,339.1H174.6V347H166.6zM174.3,339.1H182.2V347H174.3zM97.8,346.7H105.8V354.6H97.8zM151.4,346.7H159.3V354.6H151.4zM136.1,354.3H144V362.2H136.1zM166.6,354.3H174.6V362.2H166.6zM128.4,361.9H136.4V369.8H128.4zM120.8,369.5H128.7V377.4H120.8zM166.6,377.1H174.6V385H166.6zM120.8,392.3H128.7V400.1H120.8z"/><path fill="#15ffea" d="M136.1,255H144V263H136.1zM136.1,262.7H144V270.7H136.1zM143.7,262.7H151.7V270.7H143.7zM159,285.7H166.9V293.6H159zM151.4,361.9H159.3V369.8H151.4z"/><path fill="#2bffd4" d="M128.4,123.9H136.4V132H128.4zM204.9,185.8H212.8V193.8H204.9zM189.6,193.5H197.5V201.5H189.6zM128.4,278H136.4V286H128.4zM143.7,293.3H151.7V301.3H143.7zM159,323.9H166.9V331.8H159zM166.6,323.9H174.6V331.8H166.6zM151.4,331.5H159.3V339.4H151.4zM166.6,331.5H174.6V339.4H166.6zM120.8,354.3H128.7V362.2H120.8z"/><path fill="#40ffbf" d="M197.2,185.8H205.2V193.8H197.2zM227.8,193.5H235.8V201.5H227.8zM235.4,193.5H243.4V201.5H235.4zM181.9,208.9H189.9V216.9H181.9zM235.4,239.7H243.4V247.7H235.4zM159,262.7H166.9V270.7H159zM166.6,262.7H174.6V270.7H166.6zM143.7,278H151.7V286H143.7zM166.6,278H174.6V286H166.6zM204.9,316.2H212.8V324.2H204.9zM120.8,346.7H128.7V354.6H120.8zM97.8,354.3H105.8V362.2H97.8zM120.8,377.1H128.7V385H120.8zM120.8,384.7H128.7V392.6H120.8z"/><path fill="#55ffaa" d="M136.1,123.9H144V132H136.1zM212.5,178.1H220.5V186.1H212.5zM189.6,208.9H197.5V216.9H189.6zM204.9,208.9H212.8V216.9H204.9zM204.9,224.3H212.8V232.3H204.9zM181.9,232H189.9V240H181.9zM128.4,270.4H136.4V278.3H128.4zM166.6,270.4H174.6V278.3H166.6zM197.2,316.2H205.2V324.2H197.2zM159,331.5H166.9V339.4H159zM197.2,331.5H205.2V339.4H197.2zM151.4,339.1H159.3V347H151.4zM159,339.1H166.9V347H159zM113.1,346.7H121.1V354.6H113.1zM159,369.5H166.9V377.4H159zM136.1,377.1H144V385H136.1zM151.4,377.1H159.3V385H151.4zM128.4,384.7H136.4V392.6H128.4zM136.1,384.7H144V392.6H136.1z"/><path fill="#6aff95" d="M136.1,131.7H144V139.7H136.1zM189.6,201.2H197.5V209.2H189.6zM189.6,232H197.5V240H189.6zM120.8,262.7H128.7V270.7H120.8zM136.1,316.2H144V324.2H136.1zM143.7,323.9H151.7V331.8H143.7zM197.2,323.9H205.2V331.8H197.2zM159,346.7H166.9V354.6H159zM105.5,354.3H113.4V362.2H105.5zM120.8,361.9H128.7V369.8H120.8zM143.7,369.5H151.7V377.4H143.7zM128.4,377.1H136.4V385H128.4zM128.4,392.3H136.4V400.1H128.4z"/><path fill="#80ff80" d="M212.5,216.6H220.5V224.6H212.5z"/><path fill="#95ff6a" d="M220.2,208.9H228.1V216.9H220.2zM227.8,208.9H235.8V216.9H227.8zM151.4,270.4H159.3V278.3H151.4zM159,270.4H166.9V278.3H159zM136.1,301H144V308.9H136.1zM136.1,308.6H144V316.5H136.1zM113.1,354.3H121.1V362.2H113.1z"/><path fill="#aaff55" d="M220.2,193.5H228.1V201.5H220.2zM235.4,201.2H243.4V209.2H235.4zM212.5,208.9H220.5V216.9H212.5zM235.4,208.9H243.4V216.9H235.4zM220.2,224.3H228.1V232.3H220.2zM105.5,255H113.4V263H105.5zM113.1,255H121.1V263H113.1zM143.7,285.7H151.7V293.6H143.7z"/><path fill="#bfff40" d="M197.2,193.5H205.2V201.5H197.2zM235.4,216.6H243.4V224.6H235.4zM105.5,247.4H113.4V255.3H105.5zM151.4,278H159.3V286H151.4zM189.6,331.5H197.5V339.4H189.6z"/><path fill="#d5ff2a" d="M227.8,201.2H235.8V209.2H227.8zM120.8,239.7H128.7V247.7H120.8zM113.1,247.4H121.1V255.3H113.1zM136.1,270.4H144V278.3H136.1zM159,278H166.9V286H159zM151.4,369.5H159.3V377.4H151.4zM143.7,377.1H151.7V385H143.7z"/><path fill="#eaff15" d="M243.1,201.2H251V209.2H243.1zM97.8,369.5H105.8V377.4H97.8z"/><path fill="#ffff00" d="M220.2,170.4H228.1V178.4H220.2zM243.1,193.5H251V201.5H243.1zM197.2,201.2H205.2V209.2H197.2zM204.9,216.6H212.8V224.6H204.9zM220.2,216.6H228.1V224.6H220.2zM136.1,278H144V286H136.1zM136.1,285.7H144V293.6H136.1zM113.1,369.5H121.1V377.4H113.1z"/><path fill="#ffea00" d="M227.8,178.1H235.8V186.1H227.8zM235.4,178.1H243.4V186.1H235.4zM227.8,185.8H235.8V193.8H227.8zM197.2,208.9H205.2V216.9H197.2zM136.1,293.3H144V301.3H136.1zM151.4,323.9H159.3V331.8H151.4z"/><path fill="#ffd500" d="M212.5,193.5H220.5V201.5H212.5zM212.5,201.2H220.5V209.2H212.5zM151.4,316.2H159.3V324.2H151.4zM97.8,361.9H105.8V369.8H97.8z"/><path fill="#ffaa00" d="M227.8,216.6H235.8V224.6H227.8z"/><path fill="#ff9500" d="M204.9,193.5H212.8V201.5H204.9zM181.9,216.6H189.9V224.6H181.9zM105.5,369.5H113.4V377.4H105.5z"/><path fill="#ff8000" d="M227.8,170.4H235.8V178.4H227.8zM181.9,224.3H189.9V232.3H181.9zM227.8,224.3H235.8V232.3H227.8zM105.5,361.9H113.4V369.8H105.5zM113.1,361.9H121.1V369.8H113.1z"/><path fill="#ff6a00" d="M220.2,178.1H228.1V186.1H220.2zM235.4,224.3H243.4V232.3H235.4z"/><path fill="#ff0000" d="M212.5,185.8H220.5V193.8H212.5zM204.9,201.2H212.8V209.2H204.9zM220.2,201.2H228.1V209.2H220.2zM197.2,216.6H205.2V224.6H197.2z"/><path fill="#ea0000" d="M220.2,185.8H228.1V193.8H220.2zM189.6,216.6H197.5V224.6H189.6zM189.6,224.3H197.5V232.3H189.6zM197.2,224.3H205.2V232.3H197.2z"/></g>
<use href="#land"/>
<path d="M225.5,174.6L235.5,180.6L239.5,188.6L233.5,196.6L245.5,200.6L247.5,208.6L235.5,216.6L231.5,224.6L237.5,232.6M207.5,188.6L195.5,194.6L189.5,204.6L179.5,220.6L174.5,230.6L181.5,240.6L197.5,235.6L205.5,226.6L215.5,228.6L224.5,234.6M203.5,216.6L209.5,215.6L205.5,219L203.5,216.6M105.5,263.6L111.5,267.6L123.5,259.6L121.5,251.6M127.5,293.6L135.5,281.6L143.5,285.6L141.5,299.6L144.5,315.6L135.5,313.6L131.5,303.6L127.5,293.6M147.5,284.6L153.5,279.6L163.5,282.6L165.5,289.6L158.5,294.6L152.5,292.6L147.5,284.6M143.5,331.6L153.5,339.6L155.5,327.6M97.5,365.6L113.5,362.6L119.5,369.6L113.5,377.6L105.5,385.6L97.5,379.6L94.5,373.6M141.5,385.6L151.5,377.6L157.5,385.6L141.5,385.6" stroke="#000" stroke-width="0.9" fill="none"/><text x="213.5" y="184.6" font-size="11.5" text-anchor="middle" transform="rotate(-60 213.5 180.6)">30</text><text x="119.5" y="268.6" font-size="11.5" text-anchor="middle" transform="rotate(60 119.5 264.6)">30</text><text x="138.5" y="286.6" font-size="11.5" text-anchor="middle" transform="rotate(75 138.5 282.6)">30</text><text x="162.5" y="288.6" font-size="11.5" text-anchor="middle" transform="rotate(60 162.5 284.6)">30</text><text x="149.5" y="333.6" font-size="11.5" text-anchor="middle" transform="rotate(30 149.5 329.6)">30</text><text x="114.5" y="382.6" font-size="11.5" text-anchor="middle" transform="rotate(-50 114.5 378.6)">30</text><text x="154.5" y="384.6" font-size="11.5" text-anchor="middle" transform="rotate(70 154.5 380.6)">30</text>
<use href="#star" x="66.8" y="46.6"/>
<use href="#star" x="104.8" y="157.1"/>
<use href="#star" x="114.3" y="250.1"/>
<use href="#star" x="62.8" y="271.6"/>
<use href="#star" x="10.3" y="320.6"/>
<rect x="3.7" y="20.1" width="113.4" height="25.2" fill="url(#jet)" stroke="#262626" stroke-width="1.3"/>
</g>
<path d="M58,427.5v-3.2M58,0v3.2M116,427.5v-3.2M116,0v3.2M173.9,427.5v-3.2M173.9,0v3.2M231.9,427.5v-3.2M231.9,0v3.2M289.9,427.5v-3.2M289.9,0v3.2M0,72.4h3.2M347.9,72.4h-3.2M0,144.3h3.2M347.9,144.3h-3.2M0,215.7h3.2M347.9,215.7h-3.2M0,286.8h3.2M347.9,286.8h-3.2M0,357.3h3.2M347.9,357.3h-3.2" stroke="#000" stroke-width="1" fill="none"/>
<rect x="0" y="0" width="347.9" height="427.5" fill="none" stroke="#000" stroke-width="1.1"/>
</g>
<g transform="translate(843.7,742.4)">
<rect x="0" y="0" width="347.9" height="427.5" fill="#fff"/>
<g clip-path="url(#ax)">
<path d="M58,0V427.5M116,0V427.5M173.9,0V427.5M231.9,0V427.5M289.9,0V427.5M0,72.4H347.9M0,144.3H347.9M0,215.7H347.9M0,286.8H347.9M0,357.3H347.9" stroke="#bcbcbc" stroke-width="1" stroke-dasharray="2.6,5.8" fill="none"/>
<g shape-rendering="crispEdges"><path fill="#0040ff" d="M67.3,-0.9H228.1V7.2H67.3zM74.9,6.9H235.8V15.1H74.9zM74.9,14.8H235.8V22.9H74.9zM74.9,22.6H235.8V30.7H74.9zM74.9,30.4H197.5V38.5H74.9zM220.2,30.4H235.8V38.5H220.2zM74.9,38.2H189.9V46.3H74.9zM227.8,38.2H235.8V46.3H227.8zM74.9,46H189.9V54.2H74.9zM220.2,46H235.8V54.2H220.2zM82.5,53.9H189.9V62H82.5zM204.9,53.9H235.8V62H204.9zM82.5,61.7H189.9V69.8H82.5zM220.2,61.7H228.1V69.8H220.2zM82.5,69.5H151.7V77.6H82.5zM82.5,77.3H136.4V85.3H82.5zM90.2,85H128.7V93.1H90.2zM90.2,92.8H128.7V100.9H90.2zM159,92.8H174.6V100.9H159zM90.2,100.6H128.7V108.7H90.2zM174.3,100.6H182.2V108.7H174.3zM113.1,108.4H136.4V116.4H113.1zM120.8,116.1H128.7V124.2H120.8zM120.8,123.9H128.7V132H120.8z"/><path fill="#00008f" d="M227.8,-0.9H350.4V7.2H227.8zM235.4,6.9H289.3V15.1H235.4zM311.9,6.9H350.4V15.1H311.9zM250.7,14.8H289.3V22.9H250.7zM311.9,14.8H350.4V22.9H311.9zM258.4,22.6H350.4V30.7H258.4zM258.4,30.4H350.4V38.5H258.4zM258.4,38.2H350.4V46.3H258.4zM266,46H304.6V54.2H266zM266,53.9H312.2V62H266zM266,61.7H289.3V69.8H266zM334.8,392.3H350.4V400.1H334.8zM327.2,399.8H350.4V407.7H327.2zM159,407.4H174.6V415.3H159zM319.5,407.4H350.4V415.3H319.5zM319.5,415H350.4V422.9H319.5zM227.8,422.6H251V430.4H227.8zM304.3,422.6H350.4V430.4H304.3z"/><path fill="#0000c0" d="M67.3,6.9H75.2V15.1H67.3zM289,6.9H312.2V15.1H289zM235.4,14.8H251V22.9H235.4zM289,14.8H312.2V22.9H289zM235.4,22.6H258.7V30.7H235.4zM197.2,30.4H205.2V38.5H197.2zM235.4,30.4H258.7V38.5H235.4zM189.6,38.2H197.5V46.3H189.6zM235.4,38.2H258.7V46.3H235.4zM189.6,46H205.2V54.2H189.6zM235.4,46H266.3V54.2H235.4zM189.6,53.9H205.2V62H189.6zM235.4,53.9H266.3V62H235.4zM189.6,61.7H212.8V69.8H189.6zM227.8,61.7H266.3V69.8H227.8zM289,61.7H312.2V69.8H289zM227.8,69.5H289.3V77.6H227.8zM304.3,69.5H312.2V77.6H304.3zM327.2,69.5H335.1V77.6H327.2zM235.4,77.3H296.9V85.3H235.4zM327.2,77.3H335.1V85.3H327.2zM82.5,85H90.5V93.1H82.5zM243.1,85H304.6V93.1H243.1zM243.1,92.8H289.3V100.9H243.1zM296.6,92.8H312.2V100.9H296.6zM250.7,100.6H281.6V108.7H250.7zM97.8,108.4H113.4V116.4H97.8zM250.7,108.4H281.6V116.4H250.7zM304.3,108.4H312.2V116.4H304.3zM97.8,116.1H121.1V124.2H97.8zM250.7,116.1H312.2V124.2H250.7zM97.8,123.9H121.1V132H97.8zM250.7,123.9H281.6V132H250.7zM296.6,123.9H304.6V132H296.6zM105.5,131.7H121.1V139.7H105.5zM266,131.7H274V139.7H266zM105.5,139.4H121.1V147.5H105.5zM113.1,147.2H121.1V155.2H113.1zM113.1,154.9H121.1V162.9H113.1zM113.1,162.6H128.7V170.7H113.1zM273.7,178.1H281.6V186.1H273.7zM120.8,185.8H128.7V193.8H120.8zM273.7,185.8H281.6V193.8H273.7zM120.8,193.5H128.7V201.5H120.8zM266,193.5H274V201.5H266zM258.4,201.2H274V209.2H258.4zM258.4,208.9H274V216.9H258.4zM120.8,216.6H128.7V224.6H120.8zM258.4,216.6H274V224.6H258.4zM258.4,224.3H274V232.3H258.4zM227.8,232H243.4V240H227.8zM266,232H274V240H266zM220.2,239.7H228.1V247.7H220.2zM197.2,247.4H205.2V255.3H197.2zM220.2,247.4H228.1V255.3H220.2zM181.9,255H251V263H181.9zM181.9,262.7H251V270.7H181.9zM327.2,262.7H350.4V270.7H327.2zM181.9,270.4H251V278.3H181.9zM319.5,270.4H350.4V278.3H319.5zM197.2,278H243.4V286H197.2zM311.9,278H350.4V286H311.9zM204.9,285.7H235.8V293.6H204.9zM296.6,285.7H350.4V293.6H296.6zM197.2,293.3H235.8V301.3H197.2zM289,293.3H350.4V301.3H289zM189.6,301H228.1V308.9H189.6zM281.3,301H350.4V308.9H281.3zM181.9,308.6H212.8V316.5H181.9zM281.3,308.6H350.4V316.5H281.3zM181.9,316.2H197.5V324.2H181.9zM273.7,316.2H350.4V324.2H273.7zM266,323.9H350.4V331.8H266zM250.7,331.5H350.4V339.4H250.7zM235.4,339.1H350.4V347H235.4zM227.8,346.7H350.4V354.6H227.8zM212.5,354.3H350.4V362.2H212.5zM197.2,361.9H350.4V369.8H197.2zM189.6,369.5H350.4V377.4H189.6zM181.9,377.1H350.4V385H181.9zM174.3,384.7H350.4V392.6H174.3zM166.6,392.3H335.1V400.1H166.6zM166.6,399.8H327.5V407.7H166.6zM174.3,407.4H319.8V415.3H174.3zM159,415H319.8V422.9H159zM151.4,422.6H228.1V430.4H151.4zM250.7,422.6H304.6V430.4H250.7z"/><path fill="#0000e6" d="M204.9,30.4H212.8V38.5H204.9zM197.2,38.2H205.2V46.3H197.2zM204.9,46H212.8V54.2H204.9zM304.3,46H350.4V54.2H304.3zM311.9,53.9H350.4V62H311.9zM311.9,61.7H350.4V69.8H311.9zM181.9,69.5H228.1V77.6H181.9zM289,69.5H304.6V77.6H289zM311.9,69.5H327.5V77.6H311.9zM334.8,69.5H350.4V77.6H334.8zM181.9,77.3H235.8V85.3H181.9zM296.6,77.3H327.5V85.3H296.6zM334.8,77.3H350.4V85.3H334.8zM181.9,85H243.4V93.1H181.9zM304.3,85H350.4V93.1H304.3zM181.9,92.8H243.4V100.9H181.9zM289,92.8H296.9V100.9H289zM311.9,92.8H350.4V100.9H311.9zM181.9,100.6H251V108.7H181.9zM281.3,100.6H350.4V108.7H281.3zM174.3,108.4H251V116.4H174.3zM281.3,108.4H304.6V116.4H281.3zM311.9,108.4H350.4V116.4H311.9zM166.6,116.1H251V124.2H166.6zM311.9,116.1H350.4V124.2H311.9zM159,123.9H251V132H159zM281.3,123.9H296.9V132H281.3zM304.3,123.9H350.4V132H304.3zM120.8,131.7H136.4V139.7H120.8zM159,131.7H266.3V139.7H159zM273.7,131.7H350.4V139.7H273.7zM120.8,139.4H136.4V147.5H120.8zM159,139.4H350.4V147.5H159zM120.8,147.2H350.4V155.2H120.8zM120.8,154.9H350.4V162.9H120.8zM128.4,162.6H350.4V170.7H128.4zM120.8,170.4H350.4V178.4H120.8zM120.8,178.1H274V186.1H120.8zM281.3,178.1H350.4V186.1H281.3zM128.4,185.8H274V193.8H128.4zM281.3,185.8H350.4V193.8H281.3zM128.4,193.5H266.3V201.5H128.4zM273.7,193.5H350.4V201.5H273.7zM120.8,201.2H258.7V209.2H120.8zM273.7,201.2H350.4V209.2H273.7zM120.8,208.9H144V216.9H120.8zM151.4,208.9H258.7V216.9H151.4zM273.7,208.9H350.4V216.9H273.7zM166.6,216.6H258.7V224.6H166.6zM273.7,216.6H350.4V224.6H273.7zM174.3,224.3H258.7V232.3H174.3zM273.7,224.3H350.4V232.3H273.7zM174.3,232H228.1V240H174.3zM243.1,232H266.3V240H243.1zM273.7,232H350.4V240H273.7zM174.3,239.7H220.5V247.7H174.3zM227.8,239.7H350.4V247.7H227.8zM174.3,247.4H197.5V255.3H174.3zM204.9,247.4H220.5V255.3H204.9zM227.8,247.4H350.4V255.3H227.8zM250.7,255H350.4V263H250.7zM250.7,262.7H327.5V270.7H250.7zM250.7,270.4H319.8V278.3H250.7zM243.1,278H312.2V286H243.1zM235.4,285.7H296.9V293.6H235.4zM235.4,293.3H289.3V301.3H235.4zM227.8,301H281.6V308.9H227.8zM212.5,308.6H281.6V316.5H212.5zM197.2,316.2H274V324.2H197.2zM204.9,323.9H266.3V331.8H204.9zM212.5,331.5H251V339.4H212.5zM204.9,339.1H235.8V347H204.9zM181.9,346.7H228.1V354.6H181.9zM181.9,354.3H212.8V362.2H181.9zM181.9,361.9H197.5V369.8H181.9zM181.9,369.5H189.9V377.4H181.9zM174.3,377.1H182.2V385H174.3z"/><path fill="#009cff" d="M212.5,30.4H220.5V38.5H212.5zM204.9,38.2H228.1V46.3H204.9zM212.5,46H220.5V54.2H212.5zM212.5,61.7H220.5V69.8H212.5zM151.4,69.5H182.2V77.6H151.4zM136.1,77.3H182.2V85.3H136.1zM128.4,85H182.2V93.1H128.4zM128.4,92.8H159.3V100.9H128.4zM174.3,92.8H182.2V100.9H174.3zM128.4,100.6H174.6V108.7H128.4zM136.1,108.4H174.6V116.4H136.1zM128.4,116.1H166.9V124.2H128.4zM128.4,123.9H159.3V132H128.4zM136.1,131.7H159.3V139.7H136.1zM136.1,139.4H159.3V147.5H136.1z"/><path fill="#3cffc0" d="M143.7,208.9H151.7V216.9H143.7zM128.4,216.6H166.9V224.6H128.4zM136.1,224.3H174.6V232.3H136.1zM136.1,232H174.6V240H136.1zM136.1,239.7H174.6V247.7H136.1zM136.1,247.4H174.6V255.3H136.1zM143.7,255H182.2V263H143.7zM143.7,262.7H174.6V270.7H143.7zM151.4,270.4H159.3V278.3H151.4zM181.9,278H197.5V286H181.9zM189.6,285.7H205.2V293.6H189.6zM197.2,323.9H205.2V331.8H197.2zM181.9,331.5H212.8V339.4H181.9zM181.9,339.1H205.2V347H181.9z"/><path fill="#10ffee" d="M120.8,224.3H136.4V232.3H120.8zM120.8,232H136.4V240H120.8zM120.8,239.7H136.4V247.7H120.8zM120.8,247.4H136.4V255.3H120.8zM128.4,255H144V263H128.4zM128.4,262.7H144V270.7H128.4zM174.3,262.7H182.2V270.7H174.3zM128.4,270.4H151.7V278.3H128.4zM159,270.4H182.2V278.3H159zM120.8,278H182.2V286H120.8zM120.8,285.7H189.9V293.6H120.8zM105.5,293.3H197.5V301.3H105.5zM105.5,301H189.9V308.9H105.5zM105.5,308.6H182.2V316.5H105.5zM97.8,316.2H182.2V324.2H97.8zM105.5,323.9H197.5V331.8H105.5zM113.1,331.5H182.2V339.4H113.1zM105.5,339.1H182.2V347H105.5zM97.8,346.7H182.2V354.6H97.8zM97.8,354.3H182.2V362.2H97.8zM97.8,361.9H182.2V369.8H97.8zM90.2,369.5H182.2V377.4H90.2zM97.8,377.1H174.6V385H97.8zM105.5,384.7H174.6V392.6H105.5zM105.5,392.3H166.9V400.1H105.5zM105.5,399.8H166.9V407.7H105.5zM105.5,407.4H151.7V415.3H105.5zM105.5,415H136.4V422.9H105.5zM151.4,415H159.3V422.9H151.4zM97.8,422.6H105.8V430.4H97.8zM113.1,422.6H121.1V430.4H113.1zM128.4,422.6H136.4V430.4H128.4zM143.7,422.6H151.7V430.4H143.7z"/><path fill="#cc0000" d="M90.2,255H105.8V263H90.2zM82.5,262.7H105.8V270.7H82.5zM67.3,270.4H105.8V278.3H67.3zM59.6,278H105.8V286H59.6zM52,285.7H98.1V293.6H52zM44.3,293.3H98.1V301.3H44.3zM36.7,301H98.1V308.9H36.7zM29,308.6H98.1V316.5H29zM21.4,316.2H98.1V324.2H21.4zM21.4,323.9H98.1V331.8H21.4zM13.7,331.5H98.1V339.4H13.7zM13.7,339.1H82.8V347H13.7zM90.2,339.1H98.1V347H90.2zM21.4,346.7H29.3V354.6H21.4zM36.7,346.7H82.8V354.6H36.7zM44.3,354.3H59.9V362.2H44.3z"/><path fill="#8c0000" d="M105.5,255H128.7V263H105.5zM105.5,262.7H128.7V270.7H105.5zM105.5,270.4H128.7V278.3H105.5zM105.5,278H121.1V286H105.5zM97.8,285.7H121.1V293.6H97.8zM97.8,293.3H105.8V301.3H97.8zM97.8,301H105.8V308.9H97.8zM97.8,308.6H105.8V316.5H97.8zM97.8,323.9H105.8V331.8H97.8zM97.8,331.5H113.4V339.4H97.8zM97.8,339.1H105.8V347H97.8z"/><path fill="#00bcff" d="M13.7,323.9H21.7V331.8H13.7zM6.1,339.1H14V347H6.1zM82.5,339.1H90.5V347H82.5zM6.1,346.7H21.7V354.6H6.1zM29,346.7H37V354.6H29zM82.5,346.7H98.1V354.6H82.5zM6.1,354.3H44.6V362.2H6.1zM59.6,354.3H98.1V362.2H59.6zM6.1,361.9H98.1V369.8H6.1zM6.1,369.5H90.5V377.4H6.1zM6.1,377.1H98.1V385H6.1zM6.1,384.7H105.8V392.6H6.1zM6.1,392.3H105.8V400.1H6.1zM6.1,399.8H105.8V407.7H6.1zM6.1,407.4H105.8V415.3H6.1zM151.4,407.4H159.3V415.3H151.4zM6.1,415H105.8V422.9H6.1zM136.1,415H151.7V422.9H136.1zM6.1,422.6H98.1V430.4H6.1zM105.5,422.6H113.4V430.4H105.5zM120.8,422.6H128.7V430.4H120.8zM136.1,422.6H144V430.4H136.1z"/></g>
<use href="#land"/>

<use href="#star" x="66.8" y="46.6"/>
<use href="#star" x="104.8" y="157.1"/>
<use href="#star" x="114.3" y="250.1"/>
<use href="#star" x="62.8" y="271.6"/>
<use href="#star" x="10.3" y="320.6"/>
<rect x="3.6" y="20.1" width="111.5" height="25.2" fill="url(#jet)" stroke="#262626" stroke-width="1.3"/>
</g>
<path d="M58,427.5v-3.2M58,0v3.2M116,427.5v-3.2M116,0v3.2M173.9,427.5v-3.2M173.9,0v3.2M231.9,427.5v-3.2M231.9,0v3.2M289.9,427.5v-3.2M289.9,0v3.2M0,72.4h3.2M347.9,72.4h-3.2M0,144.3h3.2M347.9,144.3h-3.2M0,215.7h3.2M347.9,215.7h-3.2M0,286.8h3.2M347.9,286.8h-3.2M0,357.3h3.2M347.9,357.3h-3.2" stroke="#000" stroke-width="1" fill="none"/>
<rect x="0" y="0" width="347.9" height="427.5" fill="none" stroke="#000" stroke-width="1.1"/>
</g>
<g transform="translate(75,142.4)" fill="#000">
<text x="-0.5" y="446.3" font-size="17" text-anchor="middle">30'</text>
<text x="58" y="448.3" font-size="20.3" text-anchor="middle">76°W</text>
<text x="115.5" y="446.3" font-size="17" text-anchor="middle">30'</text>
<text x="173.9" y="448.3" font-size="20.3" text-anchor="middle">75°W</text>
<text x="231.4" y="446.3" font-size="17" text-anchor="middle">30'</text>
<text x="289.9" y="448.3" font-size="20.3" text-anchor="middle">74°W</text>
<text x="347.4" y="446.3" font-size="17" text-anchor="middle">30'</text>
<text x="-7.3" y="7.2" font-size="20.3" text-anchor="end">37°N</text>
<text x="-5.8" y="78.8" font-size="17" text-anchor="end">30'</text>
<text x="-7.3" y="151.5" font-size="20.3" text-anchor="end">36°N</text>
<text x="-5.8" y="222.1" font-size="17" text-anchor="end">30'</text>
<text x="-7.3" y="294" font-size="20.3" text-anchor="end">35°N</text>
<text x="-5.8" y="363.7" font-size="17" text-anchor="end">30'</text>
<text x="-7.3" y="434.7" font-size="20.3" text-anchor="end">34°N</text>
<text x="73.5" y="-13.1" font-size="24.8" font-weight="bold" textLength="200" lengthAdjust="spacingAndGlyphs">2023-07-10 02:00</text><text x="10" y="-1.2" font-size="18" text-anchor="middle" fill="#333333">0</text><text x="10.9" y="-1.2" font-size="18" text-anchor="middle" fill="#333333">1</text><text x="11.8" y="-1.2" font-size="18" text-anchor="middle" fill="#333333">2</text><text x="12.7" y="-1.2" font-size="18" text-anchor="middle" fill="#333333">3</text><text x="13.6" y="-1.2" font-size="18" text-anchor="middle" fill="#333333">4</text><text x="14.5" y="-1.2" font-size="18" text-anchor="middle" fill="#333333">5</text><text x="15.4" y="-1.2" font-size="18" text-anchor="middle" fill="#333333">6</text><text x="16.3" y="-1.2" font-size="18" text-anchor="middle" fill="#333333">7</text><text x="17.2" y="-1.2" font-size="18" text-anchor="middle" fill="#333333">8</text><text x="18.1" y="-1.2" font-size="18" text-anchor="middle" fill="#333333">9</text><text x="19" y="-1.2" font-size="18" text-anchor="middle" fill="#333333">10</text><text x="19.9" y="-1.2" font-size="18" text-anchor="middle" fill="#333333">11</text><text x="20.8" y="-1.2" font-size="18" text-anchor="middle" fill="#333333">12</text><text x="21.7" y="-1.2" font-size="18" text-anchor="middle" fill="#333333">13</text><text x="22.6" y="-1.2" font-size="18" text-anchor="middle" fill="#333333">14</text><text x="23.5" y="-1.2" font-size="18" text-anchor="middle" fill="#333333">15</text><text x="24.4" y="-1.2" font-size="18" text-anchor="middle" fill="#333333">16</text><text x="25.3" y="-1.2" font-size="18" text-anchor="middle" fill="#333333">17</text><text x="26.2" y="-1.2" font-size="18" text-anchor="middle" fill="#333333">18</text><text x="27.1" y="-1.2" font-size="18" text-anchor="middle" fill="#333333">19</text><text x="28" y="-1.2" font-size="18" text-anchor="middle" fill="#333333">20</text><text x="29" y="-1.2" font-size="18" text-anchor="middle" fill="#333333">21</text><text x="29.9" y="-1.2" font-size="18" text-anchor="middle" fill="#333333">22</text><text x="30.8" y="-1.2" font-size="18" text-anchor="middle" fill="#333333">23</text><text x="31.7" y="-1.2" font-size="18" text-anchor="middle" fill="#333333">24</text><text x="32.6" y="-1.2" font-size="18" text-anchor="middle" fill="#333333">25</text><text x="33.5" y="-1.2" font-size="18" text-anchor="middle" fill="#333333">26</text><text x="34.4" y="-1.2" font-size="18" text-anchor="middle" fill="#333333">27</text><text x="35.3" y="-1.2" font-size="18" text-anchor="middle" fill="#333333">28</text><text x="36.2" y="-1.2" font-size="18" text-anchor="middle" fill="#333333">29</text><text x="37.1" y="-1.2" font-size="18" text-anchor="middle" fill="#333333">30</text><text x="38" y="-1.2" font-size="18" text-anchor="middle" fill="#333333">31</text><text x="38.9" y="-1.2" font-size="18" text-anchor="middle" fill="#333333">32</text><text x="39.8" y="-1.2" font-size="18" text-anchor="middle" fill="#333333">33</text><text x="40.7" y="-1.2" font-size="18" text-anchor="middle" fill="#333333">34</text><text x="41.6" y="-1.2" font-size="18" text-anchor="middle" fill="#333333">35</text><text x="42.5" y="-1.2" font-size="18" text-anchor="middle" fill="#333333">36</text><text x="43.4" y="-1.2" font-size="18" text-anchor="middle" fill="#333333">37</text><text x="44.3" y="-1.2" font-size="18" text-anchor="middle" fill="#333333">38</text><text x="45.2" y="-1.2" font-size="18" text-anchor="middle" fill="#333333">39</text><text x="46.1" y="-1.2" font-size="18" text-anchor="middle" fill="#333333">40</text><text x="47" y="-1.2" font-size="18" text-anchor="middle" fill="#333333">41</text><text x="47.9" y="-1.2" font-size="18" text-anchor="middle" fill="#333333">42</text><text x="48.8" y="-1.2" font-size="18" text-anchor="middle" fill="#333333">43</text><text x="49.7" y="-1.2" font-size="18" text-anchor="middle" fill="#333333">44</text><text x="50.6" y="-1.2" font-size="18" text-anchor="middle" fill="#333333">45</text><text x="51.5" y="-1.2" font-size="18" text-anchor="middle" fill="#333333">46</text><text x="52.4" y="-1.2" font-size="18" text-anchor="middle" fill="#333333">47</text><text x="53.3" y="-1.2" font-size="18" text-anchor="middle" fill="#333333">48</text><text x="54.2" y="-1.2" font-size="18" text-anchor="middle" fill="#333333">49</text><text x="55.1" y="-1.2" font-size="18" text-anchor="middle" fill="#333333">50</text><text x="56" y="-1.2" font-size="18" text-anchor="middle" fill="#333333">51</text><text x="56.9" y="-1.2" font-size="18" text-anchor="middle" fill="#333333">52</text><text x="57.8" y="-1.2" font-size="18" text-anchor="middle" fill="#333333">53</text><text x="58.7" y="-1.2" font-size="18" text-anchor="middle" fill="#333333">54</text><text x="59.6" y="-1.2" font-size="18" text-anchor="middle" fill="#333333">55</text><text x="60.5" y="-1.2" font-size="18" text-anchor="middle" fill="#333333">56</text><text x="61.4" y="-1.2" font-size="18" text-anchor="middle" fill="#333333">57</text><text x="62.3" y="-1.2" font-size="18" text-anchor="middle" fill="#333333">58</text><text x="63.2" y="-1.2" font-size="18" text-anchor="middle" fill="#333333">59</text><text x="64.1" y="-1.2" font-size="18" text-anchor="middle" fill="#333333">60</text><text x="65" y="-1.2" font-size="18" text-anchor="middle" fill="#333333">61</text><text x="65.9" y="-1.2" font-size="18" text-anchor="middle" fill="#333333">62</text><text x="66.9" y="-1.2" font-size="18" text-anchor="middle" fill="#333333">63</text><text x="67.8" y="-1.2" font-size="18" text-anchor="middle" fill="#333333">64</text><text x="68.7" y="-1.2" font-size="18" text-anchor="middle" fill="#333333">65</text><text x="69.6" y="-1.2" font-size="18" text-anchor="middle" fill="#333333">66</text><text x="70.5" y="-1.2" font-size="18" text-anchor="middle" fill="#333333">67</text><text x="71.4" y="-1.2" font-size="18" text-anchor="middle" fill="#333333">68</text><text x="72.3" y="-1.2" font-size="18" text-anchor="middle" fill="#333333">69</text><text x="73.2" y="-1.2" font-size="18" text-anchor="middle" fill="#333333">70</text><text x="74.1" y="-1.2" font-size="18" text-anchor="middle" fill="#333333">71</text><text x="75" y="-1.2" font-size="18" text-anchor="middle" fill="#333333">72</text><text x="75.9" y="-1.2" font-size="18" text-anchor="middle" fill="#333333">73</text><text x="76.8" y="-1.2" font-size="18" text-anchor="middle" fill="#333333">74</text><text x="77.7" y="-1.2" font-size="18" text-anchor="middle" fill="#333333">75</text><text x="78.6" y="-1.2" font-size="18" text-anchor="middle" fill="#333333">76</text><text x="79.5" y="-1.2" font-size="18" text-anchor="middle" fill="#333333">77</text><text x="80.4" y="-1.2" font-size="18" text-anchor="middle" fill="#333333">78</text><text x="81.3" y="-1.2" font-size="18" text-anchor="middle" fill="#333333">79</text><text x="82.2" y="-1.2" font-size="18" text-anchor="middle" fill="#333333">80</text><text x="83.1" y="-1.2" font-size="18" text-anchor="middle" fill="#333333">81</text><text x="84" y="-1.2" font-size="18" text-anchor="middle" fill="#333333">82</text><text x="84.9" y="-1.2" font-size="18" text-anchor="middle" fill="#333333">83</text><text x="85.8" y="-1.2" font-size="18" text-anchor="middle" fill="#333333">84</text><text x="86.7" y="-1.2" font-size="18" text-anchor="middle" fill="#333333">85</text><text x="87.6" y="-1.2" font-size="18" text-anchor="middle" fill="#333333">86</text><text x="88.5" y="-1.2" font-size="18" text-anchor="middle" fill="#333333">87</text><text x="89.4" y="-1.2" font-size="18" text-anchor="middle" fill="#333333">88</text><text x="90.3" y="-1.2" font-size="18" text-anchor="middle" fill="#333333">89</text><text x="91.2" y="-1.2" font-size="18" text-anchor="middle" fill="#333333">90</text><text x="92.1" y="-1.2" font-size="18" text-anchor="middle" fill="#333333">91</text><text x="93" y="-1.2" font-size="18" text-anchor="middle" fill="#333333">92</text><text x="93.9" y="-1.2" font-size="18" text-anchor="middle" fill="#333333">93</text><text x="94.8" y="-1.2" font-size="18" text-anchor="middle" fill="#333333">94</text><text x="95.7" y="-1.2" font-size="18" text-anchor="middle" fill="#333333">95</text><text x="96.6" y="-1.2" font-size="18" text-anchor="middle" fill="#333333">96</text><text x="97.5" y="-1.2" font-size="18" text-anchor="middle" fill="#333333">97</text><text x="98.4" y="-1.2" font-size="18" text-anchor="middle" fill="#333333">98</text><text x="99.3" y="-1.2" font-size="18" text-anchor="middle" fill="#333333">99</text><text x="100.2" y="-1.2" font-size="18" text-anchor="middle" fill="#333333">100</text><text x="101.1" y="-1.2" font-size="18" text-anchor="middle" fill="#333333">101</text><text x="102" y="-1.2" font-size="18" text-anchor="middle" fill="#333333">102</text><text x="102.9" y="-1.2" font-size="18" text-anchor="middle" fill="#333333">103</text><text x="103.8" y="-1.2" font-size="18" text-anchor="middle" fill="#333333">104</text><text x="104.8" y="-1.2" font-size="18" text-anchor="middle" fill="#333333">105</text><text x="105.7" y="-1.2" font-size="18" text-anchor="middle" fill="#333333">106</text><text x="106.6" y="-1.2" font-size="18" text-anchor="middle" fill="#333333">107</text><text x="107.5" y="-1.2" font-size="18" text-anchor="middle" fill="#333333">108</text><text x="108.4" y="-1.2" font-size="18" text-anchor="middle" fill="#333333">109</text><text x="109.3" y="-1.2" font-size="18" text-anchor="middle" fill="#333333">110</text><text x="110.2" y="-1.2" font-size="18" text-anchor="middle" fill="#333333">111</text><text x="111.1" y="-1.2" font-size="18" text-anchor="middle" fill="#333333">112</text><text x="112" y="-1.2" font-size="18" text-anchor="middle" fill="#333333">113</text><text x="112.9" y="-1.2" font-size="18" text-anchor="middle" fill="#333333">114</text><text x="113.8" y="-1.2" font-size="18" text-anchor="middle" fill="#333333">115</text><text x="114.7" y="-1.2" font-size="18" text-anchor="middle" fill="#333333">116</text><text x="115.6" y="-1.2" font-size="18" text-anchor="middle" fill="#333333">117</text><text x="116.5" y="-1.2" font-size="18" text-anchor="middle" fill="#333333">118</text><text x="117.4" y="-1.2" font-size="18" text-anchor="middle" fill="#333333">119</text><text x="118.3" y="-1.2" font-size="18" text-anchor="middle" fill="#333333">120</text><text x="119.2" y="-1.2" font-size="18" text-anchor="middle" fill="#333333">121</text><text x="120.1" y="-1.2" font-size="18" text-anchor="middle" fill="#333333">122</text><text x="121" y="-1.2" font-size="18" text-anchor="middle" fill="#333333">123</text><text x="121.9" y="-1.2" font-size="18" text-anchor="middle" fill="#333333">124</text><text x="122.8" y="-1.2" font-size="18" text-anchor="middle" fill="#333333">125</text><text x="43" y="-28.4" font-size="20.5" textLength="46" lengthAdjust="spacingAndGlyphs" fill="#333333">cm/s</text><text x="275" y="64" font-size="20.5" textLength="74" lengthAdjust="spacingAndGlyphs">50 cm/s</text><text x="285" y="102.8" font-size="20.5" textLength="56" lengthAdjust="spacingAndGlyphs">10 km</text><path d="M305.8,108.1H319.8" stroke="#000" stroke-width="3.2" stroke-linecap="round"/>
</g>
<g transform="translate(458.5,142.4)" fill="#000">
<text x="-0.5" y="446.3" font-size="17" text-anchor="middle">30'</text>
<text x="58" y="448.3" font-size="20.3" text-anchor="middle">76°W</text>
<text x="115.5" y="446.3" font-size="17" text-anchor="middle">30'</text>
<text x="173.9" y="448.3" font-size="20.3" text-anchor="middle">75°W</text>
<text x="231.4" y="446.3" font-size="17" text-anchor="middle">30'</text>
<text x="289.9" y="448.3" font-size="20.3" text-anchor="middle">74°W</text>
<text x="347.4" y="446.3" font-size="17" text-anchor="middle">30'</text>
<text x="-7.3" y="7.2" font-size="20.3" text-anchor="end">37°N</text>
<text x="-5.8" y="78.8" font-size="17" text-anchor="end">30'</text>
<text x="-7.3" y="151.5" font-size="20.3" text-anchor="end">36°N</text>
<text x="-5.8" y="222.1" font-size="17" text-anchor="end">30'</text>
<text x="-7.3" y="294" font-size="20.3" text-anchor="end">35°N</text>
<text x="-5.8" y="363.7" font-size="17" text-anchor="end">30'</text>
<text x="-7.3" y="434.7" font-size="20.3" text-anchor="end">34°N</text>
<text x="55.5" y="-11.6" font-size="20.65" font-weight="bold" textLength="235.8" lengthAdjust="spacingAndGlyphs">GDOP TotalErrors (1.25)</text><text x="3.2" y="7" font-size="19" text-anchor="middle" fill="#333333">0</text><text x="59.9" y="7" font-size="19" text-anchor="middle" fill="#333333">2</text><text x="116.6" y="7" font-size="19" text-anchor="middle" fill="#333333">4</text><text x="285" y="37" font-size="20.5" textLength="56" lengthAdjust="spacingAndGlyphs">10 km</text><path d="M306.5,43H319.7" stroke="#000" stroke-width="3.2" stroke-linecap="round"/>
</g>
<g transform="translate(843.7,142.4)" fill="#000">
<text x="-0.5" y="446.3" font-size="17" text-anchor="middle">30'</text>
<text x="58" y="448.3" font-size="20.3" text-anchor="middle">76°W</text>
<text x="115.5" y="446.3" font-size="17" text-anchor="middle">30'</text>
<text x="173.9" y="448.3" font-size="20.3" text-anchor="middle">75°W</text>
<text x="231.4" y="446.3" font-size="17" text-anchor="middle">30'</text>
<text x="289.9" y="448.3" font-size="20.3" text-anchor="middle">74°W</text>
<text x="347.4" y="446.3" font-size="17" text-anchor="middle">30'</text>
<text x="-7.3" y="7.2" font-size="20.3" text-anchor="end">37°N</text>
<text x="-5.8" y="78.8" font-size="17" text-anchor="end">30'</text>
<text x="-7.3" y="151.5" font-size="20.3" text-anchor="end">36°N</text>
<text x="-5.8" y="222.1" font-size="17" text-anchor="end">30'</text>
<text x="-7.3" y="294" font-size="20.3" text-anchor="end">35°N</text>
<text x="-5.8" y="363.7" font-size="17" text-anchor="end">30'</text>
<text x="-7.3" y="434.7" font-size="20.3" text-anchor="end">34°N</text>
<text x="79.1" y="-11.4" font-size="20.65" font-weight="bold" textLength="190" lengthAdjust="spacingAndGlyphs">Number of Rads (3)</text><text x="3.1" y="7" font-size="19" text-anchor="middle" fill="#333333">0</text><text x="98" y="7" font-size="19" text-anchor="middle" fill="#333333">50</text><text x="285" y="37" font-size="20.5" textLength="56" lengthAdjust="spacingAndGlyphs">10 km</text><path d="M306.5,43H319.7" stroke="#000" stroke-width="3.2" stroke-linecap="round"/>
</g>
<g transform="translate(1227.1,142.4)" fill="#000">
<text x="-0.5" y="446.3" font-size="17" text-anchor="middle">30'</text>
<text x="58" y="448.3" font-size="20.3" text-anchor="middle">76°W</text>
<text x="115.5" y="446.3" font-size="17" text-anchor="middle">30'</text>
<text x="173.9" y="448.3" font-size="20.3" text-anchor="middle">75°W</text>
<text x="231.4" y="446.3" font-size="17" text-anchor="middle">30'</text>
<text x="289.9" y="448.3" font-size="20.3" text-anchor="middle">74°W</text>
<text x="347.4" y="446.3" font-size="17" text-anchor="middle">30'</text>
<text x="-7.3" y="7.2" font-size="20.3" text-anchor="end">37°N</text>
<text x="-5.8" y="78.8" font-size="17" text-anchor="end">30'</text>
<text x="-7.3" y="151.5" font-size="20.3" text-anchor="end">36°N</text>
<text x="-5.8" y="222.1" font-size="17" text-anchor="end">30'</text>
<text x="-7.3" y="294" font-size="20.3" text-anchor="end">35°N</text>
<text x="-5.8" y="363.7" font-size="17" text-anchor="end">30'</text>
<text x="-7.3" y="434.7" font-size="20.3" text-anchor="end">34°N</text>
<text x="78.4" y="-11.6" font-size="20.65" font-weight="bold" textLength="189" lengthAdjust="spacingAndGlyphs">Number of Sites (2)</text><text x="3.2" y="7" font-size="19" text-anchor="middle" fill="#333333">0</text><text x="41" y="7" font-size="19" text-anchor="middle" fill="#333333">1</text><text x="78.8" y="7" font-size="19" text-anchor="middle" fill="#333333">2</text><text x="116.6" y="7" font-size="19" text-anchor="middle" fill="#333333">3</text><text x="285" y="37" font-size="20.5" textLength="56" lengthAdjust="spacingAndGlyphs">10 km</text><path d="M306.5,43H319.7" stroke="#000" stroke-width="3.2" stroke-linecap="round"/>
</g>
<g transform="translate(75,742.4)" fill="#000">
<text x="-0.5" y="446.3" font-size="17" text-anchor="middle">30'</text>
<text x="58" y="448.3" font-size="20.3" text-anchor="middle">76°W</text>
<text x="115.5" y="446.3" font-size="17" text-anchor="middle">30'</text>
<text x="173.9" y="448.3" font-size="20.3" text-anchor="middle">75°W</text>
<text x="231.4" y="446.3" font-size="17" text-anchor="middle">30'</text>
<text x="289.9" y="448.3" font-size="20.3" text-anchor="middle">74°W</text>
<text x="347.4" y="446.3" font-size="17" text-anchor="middle">30'</text>
<text x="-7.3" y="7.2" font-size="20.3" text-anchor="end">37°N</text>
<text x="-5.8" y="78.8" font-size="17" text-anchor="end">30'</text>
<text x="-7.3" y="151.5" font-size="20.3" text-anchor="end">36°N</text>
<text x="-5.8" y="222.1" font-size="17" text-anchor="end">30'</text>
<text x="-7.3" y="294" font-size="20.3" text-anchor="end">35°N</text>
<text x="-5.8" y="363.7" font-size="17" text-anchor="end">30'</text>
<text x="-7.3" y="434.7" font-size="20.3" text-anchor="end">34°N</text>
<text x="108.3" y="-13.1" font-size="24.8" font-weight="bold" textLength="130.9" lengthAdjust="spacingAndGlyphs">Radial Grid</text><text x="285" y="37" font-size="20.5" textLength="56" lengthAdjust="spacingAndGlyphs">10 km</text><path d="M306.5,43H319.7" stroke="#000" stroke-width="3.2" stroke-linecap="round"/>
</g>
<g transform="translate(458.5,742.4)" fill="#000">
<text x="-0.5" y="446.3" font-size="17" text-anchor="middle">30'</text>
<text x="58" y="448.3" font-size="20.3" text-anchor="middle">76°W</text>
<text x="115.5" y="446.3" font-size="17" text-anchor="middle">30'</text>
<text x="173.9" y="448.3" font-size="20.3" text-anchor="middle">75°W</text>
<text x="231.4" y="446.3" font-size="17" text-anchor="middle">30'</text>
<text x="289.9" y="448.3" font-size="20.3" text-anchor="middle">74°W</text>
<text x="347.4" y="446.3" font-size="17" text-anchor="middle">30'</text>
<text x="-7.3" y="7.2" font-size="20.3" text-anchor="end">37°N</text>
<text x="-5.8" y="78.8" font-size="17" text-anchor="end">30'</text>
<text x="-7.3" y="151.5" font-size="20.3" text-anchor="end">36°N</text>
<text x="-5.8" y="222.1" font-size="17" text-anchor="end">30'</text>
<text x="-7.3" y="294" font-size="20.3" text-anchor="end">35°N</text>
<text x="-5.8" y="363.7" font-size="17" text-anchor="end">30'</text>
<text x="-7.3" y="434.7" font-size="20.3" text-anchor="end">34°N</text>
<text x="68" y="-11.9" font-size="20.65" font-weight="bold" textLength="211.2" lengthAdjust="spacingAndGlyphs">FitDif TotalErrors (30)</text><text x="3.2" y="7" font-size="19" text-anchor="middle" fill="#333333">0</text><text x="96.9" y="7" font-size="19" text-anchor="middle" fill="#333333">50</text><text x="36.8" y="-20.2" font-size="20.5" textLength="45.3" lengthAdjust="spacingAndGlyphs" fill="#333333">cm/s</text><text x="285" y="37" font-size="20.5" textLength="56" lengthAdjust="spacingAndGlyphs">10 km</text><path d="M306.5,43H319.7" stroke="#000" stroke-width="3.2" stroke-linecap="round"/>
</g>
<g transform="translate(843.7,742.4)" fill="#000">
<text x="-0.5" y="446.3" font-size="17" text-anchor="middle">30'</text>
<text x="58" y="448.3" font-size="20.3" text-anchor="middle">76°W</text>
<text x="115.5" y="446.3" font-size="17" text-anchor="middle">30'</text>
<text x="173.9" y="448.3" font-size="20.3" text-anchor="middle">75°W</text>
<text x="231.4" y="446.3" font-size="17" text-anchor="middle">30'</text>
<text x="289.9" y="448.3" font-size="20.3" text-anchor="middle">74°W</text>
<text x="347.4" y="446.3" font-size="17" text-anchor="middle">30'</text>
<text x="-7.3" y="7.2" font-size="20.3" text-anchor="end">37°N</text>
<text x="-5.8" y="78.8" font-size="17" text-anchor="end">30'</text>
<text x="-7.3" y="151.5" font-size="20.3" text-anchor="end">36°N</text>
<text x="-5.8" y="222.1" font-size="17" text-anchor="end">30'</text>
<text x="-7.3" y="294" font-size="20.3" text-anchor="end">35°N</text>
<text x="-5.8" y="363.7" font-size="17" text-anchor="end">30'</text>
<text x="-7.3" y="434.7" font-size="20.3" text-anchor="end">34°N</text>
<text x="108.3" y="-12.4" font-size="24.8" font-weight="bold" textLength="129.2" lengthAdjust="spacingAndGlyphs">Site Codes</text><text x="3.1" y="7" font-size="19" text-anchor="middle" fill="#333333">0</text><text x="108.6" y="7" font-size="19" text-anchor="middle" fill="#333333">50</text><text x="285" y="37" font-size="20.5" textLength="56" lengthAdjust="spacingAndGlyphs">10 km</text><path d="M306.5,43H319.7" stroke="#000" stroke-width="3.2" stroke-linecap="round"/>
</g>
</svg></body></html>
